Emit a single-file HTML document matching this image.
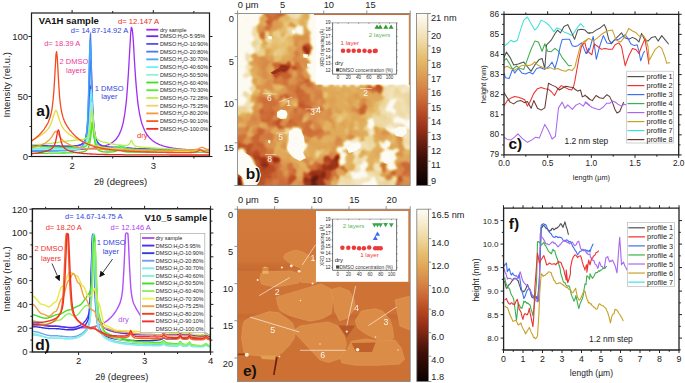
<!DOCTYPE html>
<html><head><meta charset="utf-8"><style>
html,body{margin:0;padding:0;background:#fff;}
svg{display:block;font-family:"Liberation Sans", sans-serif;}
</style></head><body>
<svg width="685" height="383" viewBox="0 0 685 383">
<rect width="685" height="383" fill="#fff"/>
<clipPath id="clipA"><rect x="31.5" y="13.0" width="178.0" height="143.5"/></clipPath>
<clipPath id="clipD"><rect x="32.4" y="208.8" width="178.0" height="143.2"/></clipPath>
<g clip-path="url(#clipA)">
<polyline points="27.4,151.5 28.0,151.5 28.6,151.5 29.2,151.4 29.8,151.4 30.4,151.4 30.9,151.4 31.5,151.4 32.1,151.4 32.7,151.3 33.3,151.3 33.9,151.3 34.4,151.3 35.0,151.3 35.6,151.3 36.2,151.2 36.8,151.2 37.4,151.2 37.9,151.2 38.5,151.2 39.1,151.1 39.7,151.1 40.3,151.1 40.9,151.1 41.4,151.1 42.0,151.1 42.6,151.0 43.2,151.0 43.8,151.0 44.4,151.0 44.9,151.0 45.5,150.9 46.1,150.9 46.7,150.9 47.3,150.9 47.9,150.9 48.5,150.9 49.0,150.8 49.6,150.8 50.2,150.8 50.8,150.8 51.4,150.8 52.0,150.7 52.5,150.7 53.1,150.7 53.7,150.7 54.3,150.7 54.9,150.6 55.5,150.6 56.0,150.6 56.6,150.6 57.2,150.5 57.8,150.5 58.4,150.5 59.0,150.5 59.5,150.5 60.1,150.4 60.7,150.4 61.3,150.4 61.9,150.4 62.5,150.3 63.0,150.3 63.6,150.3 64.2,150.3 64.8,150.2 65.4,150.2 66.0,150.2 66.5,150.2 67.1,150.1 67.7,150.1 68.3,150.1 68.9,150.1 69.5,150.0 70.0,150.0 70.6,150.0 71.2,149.9 71.8,149.9 72.4,149.9 73.0,149.8 73.5,149.8 74.1,149.8 74.7,149.7 75.3,149.7 75.9,149.7 76.5,149.6 77.0,149.6 77.6,149.6 78.2,149.5 78.8,149.5 79.4,149.5 80.0,149.4 80.5,149.4 81.1,149.3 81.7,149.3 82.3,149.3 82.9,149.2 83.5,149.2 84.1,149.1 84.6,149.1 85.2,149.0 85.8,149.0 86.4,148.9 87.0,148.9 87.6,148.8 88.1,148.8 88.7,148.7 89.3,148.7 89.9,148.6 90.5,148.5 91.1,148.5 91.6,148.4 92.2,148.3 92.8,148.3 93.4,148.2 94.0,148.1 94.6,148.0 95.1,148.0 95.7,147.9 96.3,147.8 96.9,147.7 97.5,147.6 98.1,147.5 98.6,147.4 99.2,147.3 99.8,147.2 100.4,147.0 101.0,146.9 101.6,146.8 102.1,146.6 102.7,146.5 103.3,146.4 103.9,146.2 104.5,146.0 105.1,145.8 105.6,145.7 106.2,145.5 106.8,145.2 107.4,145.0 108.0,144.8 108.6,144.5 109.1,144.3 109.7,144.0 110.3,143.7 110.9,143.4 111.5,143.0 112.1,142.6 112.6,142.2 113.2,141.8 113.8,141.3 114.4,140.8 115.0,140.2 115.6,139.6 116.2,139.0 116.7,138.3 117.3,137.5 117.9,136.6 118.5,135.7 119.1,134.6 119.7,133.4 120.2,132.1 120.8,130.7 121.4,129.0 122.0,127.1 122.6,125.0 123.2,122.6 123.7,119.8 124.3,116.6 124.9,112.9 125.5,108.5 126.1,103.4 126.7,97.5 127.2,90.5 127.8,82.4 128.4,73.2 129.0,63.0 129.6,52.2 130.2,41.8 130.7,33.0 131.3,27.3 131.9,28.2 132.5,31.2 133.1,37.9 133.7,46.7 134.2,56.6 134.8,66.3 135.4,75.4 136.0,83.4 136.6,90.5 137.2,96.5 137.7,101.7 138.3,106.2 138.9,110.0 139.5,113.4 140.1,116.3 140.7,118.9 141.2,121.1 141.8,123.2 142.4,125.0 143.0,126.6 143.6,128.1 144.2,129.4 144.7,130.7 145.3,131.8 145.9,132.8 146.5,133.8 147.1,134.7 147.7,135.5 148.3,136.3 148.8,137.0 149.4,137.6 150.0,138.3 150.6,138.8 151.2,139.4 151.8,139.9 152.3,140.4 152.9,140.9 153.5,141.3 154.1,141.7 154.7,142.1 155.3,142.5 155.8,142.8 156.4,143.1 157.0,143.4 157.6,143.7 158.2,144.0 158.8,144.3 159.3,144.5 159.9,144.8 160.5,145.0 161.1,145.2 161.7,145.4 162.3,145.6 162.8,145.8 163.4,146.0 164.0,146.2 164.6,146.3 165.2,146.5 165.8,146.7 166.3,146.8 166.9,146.9 167.5,147.1 168.1,147.2 168.7,147.3 169.3,147.5 169.8,147.6 170.4,147.7 171.0,147.8 171.6,147.9 172.2,148.0 172.8,148.1 173.3,148.2 173.9,148.3 174.5,148.3 175.1,148.4 175.7,148.5 176.3,148.6 176.8,148.7 177.4,148.7 178.0,148.8 178.6,148.9 179.2,148.9 179.8,149.0 180.3,149.0 180.9,149.1 181.5,149.2 182.1,149.2 182.7,149.3 183.3,149.3 183.9,149.4 184.4,149.4 185.0,149.5 185.6,149.5 186.2,149.6 186.8,149.6 187.4,149.6 187.9,149.7 188.5,149.7 189.1,149.8 189.7,149.8 190.3,149.8 190.9,149.9 191.4,149.9 192.0,149.9 192.6,150.0 193.2,150.0 193.8,150.0 194.4,150.1 194.9,150.1 195.5,150.1 196.1,150.1 196.7,150.2 197.3,150.2 197.9,150.2 198.4,150.2 199.0,150.3 199.6,150.3 200.2,150.3 200.8,150.3 201.4,150.4 201.9,150.4 202.5,150.4 203.1,150.4 203.7,150.4 204.3,150.5 204.9,150.5 205.4,150.5 206.0,150.5 206.6,150.5 207.2,150.5 207.8,150.6 208.4,150.6 208.9,150.6 209.5,150.6 210.1,150.6 210.7,150.6 211.3,150.7 211.9,150.7 212.4,150.7 213.0,150.7 213.6,150.7 214.2,150.7" fill="none" stroke="#a02cf0" stroke-width="1.3" stroke-linejoin="round"/>
<polyline points="27.4,145.1 28.0,145.2 28.6,145.2 29.2,145.2 29.8,145.2 30.4,145.2 30.9,145.3 31.5,145.3 32.1,145.3 32.7,145.3 33.3,145.3 33.9,145.3 34.4,145.4 35.0,145.4 35.6,145.4 36.2,145.4 36.8,145.4 37.4,145.5 37.9,145.5 38.5,145.5 39.1,145.5 39.7,145.5 40.3,145.5 40.9,145.6 41.4,145.6 42.0,145.6 42.6,145.6 43.2,145.6 43.8,145.6 44.4,145.7 44.9,145.7 45.5,145.7 46.1,145.7 46.7,145.7 47.3,145.7 47.9,145.8 48.5,145.8 49.0,145.8 49.6,145.8 50.2,145.8 50.8,145.8 51.4,145.9 52.0,145.9 52.5,145.9 53.1,145.9 53.7,145.9 54.3,145.9 54.9,145.9 55.5,146.0 56.0,146.0 56.6,146.0 57.2,146.0 57.8,146.0 58.4,146.0 59.0,146.0 59.5,146.0 60.1,146.1 60.7,146.1 61.3,146.1 61.9,146.1 62.5,146.1 63.0,146.1 63.6,146.1 64.2,146.1 64.8,146.1 65.4,146.1 66.0,146.1 66.5,146.1 67.1,146.1 67.7,146.1 68.3,146.1 68.9,146.1 69.5,146.1 70.0,146.1 70.6,146.1 71.2,146.1 71.8,146.1 72.4,146.0 73.0,146.0 73.5,146.0 74.1,145.9 74.7,145.9 75.3,145.9 75.9,145.8 76.5,145.7 77.0,145.7 77.6,145.6 78.2,145.5 78.8,145.4 79.4,145.2 80.0,145.1 80.5,144.9 81.1,144.6 81.7,144.4 82.3,144.0 82.9,143.6 83.5,143.1 84.1,142.5 84.6,141.7 85.2,140.7 85.8,139.3 86.4,137.5 87.0,135.1 87.6,131.7 88.1,126.9 88.7,120.1 89.3,110.6 89.9,99.0 90.5,88.3 91.1,85.2 91.6,92.1 92.2,103.9 92.8,114.9 93.4,123.3 94.0,129.2 94.6,133.4 95.1,136.4 95.7,138.6 96.3,140.3 96.9,141.5 97.5,142.5 98.1,143.2 98.6,143.8 99.2,144.3 99.8,144.8 100.4,145.1 101.0,145.4 101.6,145.7 102.1,145.9 102.7,146.1 103.3,146.2 103.9,146.4 104.5,146.5 105.1,146.6 105.6,146.8 106.2,146.9 106.8,146.9 107.4,147.0 108.0,147.1 108.6,147.2 109.1,147.2 109.7,147.3 110.3,147.4 110.9,147.4 111.5,147.5 112.1,147.5 112.6,147.6 113.2,147.6 113.8,147.7 114.4,147.7 115.0,147.7 115.6,147.8 116.2,147.8 116.7,147.8 117.3,147.9 117.9,147.9 118.5,148.0 119.1,148.0 119.7,148.0 120.2,148.0 120.8,148.1 121.4,148.1 122.0,148.1 122.6,148.2 123.2,148.2 123.7,148.2 124.3,148.2 124.9,148.3 125.5,148.3 126.1,148.3 126.7,148.4 127.2,148.4 127.8,148.4 128.4,148.4 129.0,148.5 129.6,148.5 130.2,148.5 130.7,148.5 131.3,148.5 131.9,148.6 132.5,148.6 133.1,148.6 133.7,148.6 134.2,148.7 134.8,148.7 135.4,148.7 136.0,148.7 136.6,148.8 137.2,148.8 137.7,148.8 138.3,148.8 138.9,148.8 139.5,148.9 140.1,148.9 140.7,148.9 141.2,148.9 141.8,149.0 142.4,149.0 143.0,149.0 143.6,149.0 144.2,149.0 144.7,149.1 145.3,149.1 145.9,149.1 146.5,149.1 147.1,149.1 147.7,149.2 148.3,149.2 148.8,149.2 149.4,149.2 150.0,149.3 150.6,149.3 151.2,149.3 151.8,149.3 152.3,149.3 152.9,149.4 153.5,149.4 154.1,149.4 154.7,149.4 155.3,149.4 155.8,149.5 156.4,149.5 157.0,149.5 157.6,149.5 158.2,149.5 158.8,149.6 159.3,149.6 159.9,149.6 160.5,149.6 161.1,149.6 161.7,149.7 162.3,149.7 162.8,149.7 163.4,149.7 164.0,149.7 164.6,149.8 165.2,149.8 165.8,149.8 166.3,149.8 166.9,149.8 167.5,149.9 168.1,149.9 168.7,149.9 169.3,149.9 169.8,149.9 170.4,150.0 171.0,150.0 171.6,150.0 172.2,150.0 172.8,150.0 173.3,150.1 173.9,150.1 174.5,150.1 175.1,150.1 175.7,150.1 176.3,150.2 176.8,150.2 177.4,150.2 178.0,150.2 178.6,150.2 179.2,150.3 179.8,150.3 180.3,150.3 180.9,150.3 181.5,150.3 182.1,150.4 182.7,150.4 183.3,150.4 183.9,150.4 184.4,150.4 185.0,150.5 185.6,150.5 186.2,150.5 186.8,150.5 187.4,150.5 187.9,150.6 188.5,150.6 189.1,150.6 189.7,150.6 190.3,150.6 190.9,150.7 191.4,150.7 192.0,150.7 192.6,150.7 193.2,150.7 193.8,150.8 194.4,150.8 194.9,150.8 195.5,150.8 196.1,150.8 196.7,150.9 197.3,150.9 197.9,150.9 198.4,150.9 199.0,150.9 199.6,151.0 200.2,151.0 200.8,151.0 201.4,151.0 201.9,151.0 202.5,151.1 203.1,151.1 203.7,151.1 204.3,151.1 204.9,151.1 205.4,151.2 206.0,151.2 206.6,151.2 207.2,151.2 207.8,151.2 208.4,151.3 208.9,151.3 209.5,151.3 210.1,151.3 210.7,151.3 211.3,151.4 211.9,151.4 212.4,151.4 213.0,151.4 213.6,151.4 214.2,151.5" fill="none" stroke="#6a28f0" stroke-width="1.3" stroke-linejoin="round"/>
<polyline points="27.4,145.9 28.0,145.9 28.6,145.9 29.2,145.9 29.8,145.9 30.4,145.9 30.9,146.0 31.5,146.0 32.1,146.0 32.7,146.0 33.3,146.0 33.9,146.0 34.4,146.0 35.0,146.1 35.6,146.1 36.2,146.1 36.8,146.1 37.4,146.1 37.9,146.1 38.5,146.1 39.1,146.1 39.7,146.2 40.3,146.2 40.9,146.2 41.4,146.2 42.0,146.2 42.6,146.2 43.2,146.2 43.8,146.3 44.4,146.3 44.9,146.3 45.5,146.3 46.1,146.3 46.7,146.3 47.3,146.3 47.9,146.3 48.5,146.3 49.0,146.4 49.6,146.4 50.2,146.4 50.8,146.4 51.4,146.4 52.0,146.4 52.5,146.4 53.1,146.4 53.7,146.4 54.3,146.4 54.9,146.5 55.5,146.5 56.0,146.5 56.6,146.5 57.2,146.5 57.8,146.5 58.4,146.5 59.0,146.5 59.5,146.5 60.1,146.5 60.7,146.5 61.3,146.5 61.9,146.5 62.5,146.5 63.0,146.5 63.6,146.5 64.2,146.5 64.8,146.5 65.4,146.5 66.0,146.5 66.5,146.5 67.1,146.5 67.7,146.5 68.3,146.5 68.9,146.5 69.5,146.4 70.0,146.4 70.6,146.4 71.2,146.4 71.8,146.3 72.4,146.3 73.0,146.3 73.5,146.2 74.1,146.2 74.7,146.1 75.3,146.0 75.9,146.0 76.5,145.9 77.0,145.8 77.6,145.6 78.2,145.5 78.8,145.3 79.4,145.2 80.0,144.9 80.5,144.7 81.1,144.4 81.7,144.0 82.3,143.6 82.9,143.0 83.5,142.3 84.1,141.5 84.6,140.4 85.2,139.0 85.8,137.2 86.4,134.7 87.0,131.3 87.6,126.4 88.1,119.3 88.7,108.8 89.3,94.0 89.9,75.4 90.5,60.1 91.1,59.8 91.6,74.6 92.2,93.3 92.8,108.4 93.4,119.0 94.0,126.3 94.6,131.3 95.1,134.8 95.7,137.3 96.3,139.2 96.9,140.7 97.5,141.8 98.1,142.7 98.6,143.4 99.2,143.9 99.8,144.4 100.4,144.8 101.0,145.1 101.6,145.4 102.1,145.7 102.7,145.9 103.3,146.1 103.9,146.2 104.5,146.4 105.1,146.5 105.6,146.6 106.2,146.7 106.8,146.8 107.4,146.8 108.0,146.9 108.6,147.0 109.1,147.0 109.7,147.1 110.3,147.1 110.9,147.1 111.5,147.2 112.1,147.2 112.6,147.2 113.2,147.2 113.8,147.2 114.4,147.2 115.0,147.2 115.6,147.1 116.2,147.1 116.7,147.1 117.3,147.0 117.9,147.0 118.5,147.0 119.1,146.9 119.7,146.9 120.2,146.9 120.8,146.9 121.4,147.0 122.0,147.0 122.6,147.1 123.2,147.2 123.7,147.3 124.3,147.4 124.9,147.5 125.5,147.6 126.1,147.6 126.7,147.7 127.2,147.8 127.8,147.9 128.4,148.0 129.0,148.0 129.6,148.1 130.2,148.1 130.7,148.2 131.3,148.2 131.9,148.3 132.5,148.3 133.1,148.4 133.7,148.4 134.2,148.4 134.8,148.5 135.4,148.5 136.0,148.5 136.6,148.6 137.2,148.6 137.7,148.6 138.3,148.7 138.9,148.7 139.5,148.7 140.1,148.7 140.7,148.8 141.2,148.8 141.8,148.8 142.4,148.8 143.0,148.9 143.6,148.9 144.2,148.9 144.7,148.9 145.3,148.9 145.9,149.0 146.5,149.0 147.1,149.0 147.7,149.0 148.3,149.0 148.8,149.1 149.4,149.1 150.0,149.1 150.6,149.1 151.2,149.1 151.8,149.2 152.3,149.2 152.9,149.2 153.5,149.2 154.1,149.2 154.7,149.3 155.3,149.3 155.8,149.3 156.4,149.3 157.0,149.3 157.6,149.3 158.2,149.4 158.8,149.4 159.3,149.4 159.9,149.4 160.5,149.4 161.1,149.5 161.7,149.5 162.3,149.5 162.8,149.5 163.4,149.5 164.0,149.5 164.6,149.6 165.2,149.6 165.8,149.6 166.3,149.6 166.9,149.6 167.5,149.6 168.1,149.7 168.7,149.7 169.3,149.7 169.8,149.7 170.4,149.7 171.0,149.7 171.6,149.8 172.2,149.8 172.8,149.8 173.3,149.8 173.9,149.8 174.5,149.8 175.1,149.9 175.7,149.9 176.3,149.9 176.8,149.9 177.4,149.9 178.0,149.9 178.6,150.0 179.2,150.0 179.8,150.0 180.3,150.0 180.9,150.0 181.5,150.0 182.1,150.1 182.7,150.1 183.3,150.1 183.9,150.1 184.4,150.1 185.0,150.1 185.6,150.2 186.2,150.2 186.8,150.2 187.4,150.2 187.9,150.2 188.5,150.2 189.1,150.3 189.7,150.3 190.3,150.3 190.9,150.3 191.4,150.3 192.0,150.3 192.6,150.4 193.2,150.4 193.8,150.4 194.4,150.4 194.9,150.4 195.5,150.4 196.1,150.4 196.7,150.5 197.3,150.5 197.9,150.5 198.4,150.5 199.0,150.5 199.6,150.5 200.2,150.6 200.8,150.6 201.4,150.6 201.9,150.6 202.5,150.6 203.1,150.6 203.7,150.7 204.3,150.7 204.9,150.7 205.4,150.7 206.0,150.7 206.6,150.7 207.2,150.8 207.8,150.8 208.4,150.8 208.9,150.8 209.5,150.8 210.1,150.8 210.7,150.8 211.3,150.9 211.9,150.9 212.4,150.9 213.0,150.9 213.6,150.9 214.2,150.9" fill="none" stroke="#4848ee" stroke-width="1.3" stroke-linejoin="round"/>
<polyline points="27.4,149.9 28.0,149.9 28.6,149.9 29.2,149.9 29.8,149.9 30.4,149.9 30.9,149.9 31.5,149.9 32.1,149.9 32.7,149.9 33.3,149.9 33.9,149.9 34.4,149.9 35.0,150.0 35.6,150.0 36.2,150.0 36.8,150.0 37.4,150.0 37.9,150.0 38.5,150.0 39.1,150.0 39.7,150.0 40.3,150.0 40.9,150.0 41.4,150.0 42.0,150.0 42.6,150.0 43.2,150.0 43.8,150.0 44.4,150.0 44.9,150.0 45.5,150.0 46.1,150.0 46.7,150.0 47.3,150.0 47.9,150.1 48.5,150.1 49.0,150.1 49.6,150.1 50.2,150.1 50.8,150.1 51.4,150.1 52.0,150.1 52.5,150.1 53.1,150.1 53.7,150.1 54.3,150.1 54.9,150.1 55.5,150.1 56.0,150.1 56.6,150.1 57.2,150.1 57.8,150.1 58.4,150.1 59.0,150.1 59.5,150.0 60.1,150.0 60.7,150.0 61.3,150.0 61.9,150.0 62.5,150.0 63.0,150.0 63.6,150.0 64.2,150.0 64.8,150.0 65.4,150.0 66.0,149.9 66.5,149.9 67.1,149.9 67.7,149.9 68.3,149.9 68.9,149.8 69.5,149.8 70.0,149.8 70.6,149.7 71.2,149.7 71.8,149.6 72.4,149.6 73.0,149.5 73.5,149.5 74.1,149.4 74.7,149.3 75.3,149.2 75.9,149.1 76.5,149.0 77.0,148.9 77.6,148.7 78.2,148.5 78.8,148.3 79.4,148.1 80.0,147.8 80.5,147.5 81.1,147.1 81.7,146.6 82.3,146.1 82.9,145.4 83.5,144.5 84.1,143.4 84.6,141.9 85.2,140.0 85.8,137.5 86.4,133.9 87.0,128.8 87.6,121.4 88.1,110.0 88.7,92.8 89.3,68.5 89.9,42.6 90.5,33.6 91.1,50.9 91.6,77.7 92.2,99.6 92.8,114.6 93.4,124.4 94.0,130.9 94.6,135.4 95.1,138.5 95.7,140.8 96.3,142.6 96.9,143.9 97.5,144.9 98.1,145.7 98.6,146.4 99.2,146.9 99.8,147.4 100.4,147.7 101.0,148.1 101.6,148.3 102.1,148.5 102.7,148.7 103.3,148.9 103.9,149.0 104.5,149.2 105.1,149.3 105.6,149.4 106.2,149.4 106.8,149.5 107.4,149.6 108.0,149.6 108.6,149.6 109.1,149.7 109.7,149.7 110.3,149.7 110.9,149.7 111.5,149.6 112.1,149.6 112.6,149.5 113.2,149.5 113.8,149.4 114.4,149.3 115.0,149.2 115.6,149.0 116.2,148.8 116.7,148.6 117.3,148.4 117.9,148.1 118.5,147.9 119.1,147.6 119.7,147.4 120.2,147.3 120.8,147.3 121.4,147.4 122.0,147.5 122.6,147.8 123.2,148.0 123.7,148.3 124.3,148.6 124.9,148.9 125.5,149.2 126.1,149.4 126.7,149.6 127.2,149.8 127.8,149.9 128.4,150.1 129.0,150.2 129.6,150.3 130.2,150.4 130.7,150.5 131.3,150.5 131.9,150.6 132.5,150.7 133.1,150.7 133.7,150.8 134.2,150.8 134.8,150.9 135.4,150.9 136.0,150.9 136.6,151.0 137.2,151.0 137.7,151.0 138.3,151.1 138.9,151.1 139.5,151.1 140.1,151.1 140.7,151.2 141.2,151.2 141.8,151.2 142.4,151.2 143.0,151.2 143.6,151.3 144.2,151.3 144.7,151.3 145.3,151.3 145.9,151.3 146.5,151.3 147.1,151.4 147.7,151.4 148.3,151.4 148.8,151.4 149.4,151.4 150.0,151.4 150.6,151.4 151.2,151.5 151.8,151.5 152.3,151.5 152.9,151.5 153.5,151.5 154.1,151.5 154.7,151.5 155.3,151.5 155.8,151.5 156.4,151.6 157.0,151.6 157.6,151.6 158.2,151.6 158.8,151.6 159.3,151.6 159.9,151.6 160.5,151.6 161.1,151.6 161.7,151.7 162.3,151.7 162.8,151.7 163.4,151.7 164.0,151.7 164.6,151.7 165.2,151.7 165.8,151.7 166.3,151.7 166.9,151.7 167.5,151.8 168.1,151.8 168.7,151.8 169.3,151.8 169.8,151.8 170.4,151.8 171.0,151.8 171.6,151.8 172.2,151.8 172.8,151.8 173.3,151.8 173.9,151.9 174.5,151.9 175.1,151.9 175.7,151.9 176.3,151.9 176.8,151.9 177.4,151.9 178.0,151.9 178.6,151.9 179.2,151.9 179.8,151.9 180.3,152.0 180.9,152.0 181.5,152.0 182.1,152.0 182.7,152.0 183.3,152.0 183.9,152.0 184.4,152.0 185.0,152.0 185.6,152.0 186.2,152.0 186.8,152.1 187.4,152.1 187.9,152.1 188.5,152.1 189.1,152.1 189.7,152.1 190.3,152.1 190.9,152.1 191.4,152.1 192.0,152.1 192.6,152.1 193.2,152.1 193.8,152.2 194.4,152.2 194.9,152.2 195.5,152.2 196.1,152.2 196.7,152.2 197.3,152.2 197.9,152.2 198.4,152.2 199.0,152.2 199.6,152.2 200.2,152.2 200.8,152.3 201.4,152.3 201.9,152.3 202.5,152.3 203.1,152.3 203.7,152.3 204.3,152.3 204.9,152.3 205.4,152.3 206.0,152.3 206.6,152.3 207.2,152.3 207.8,152.4 208.4,152.4 208.9,152.4 209.5,152.4 210.1,152.4 210.7,152.4 211.3,152.4 211.9,152.4 212.4,152.4 213.0,152.4 213.6,152.4 214.2,152.4" fill="none" stroke="#4a78f0" stroke-width="1.3" stroke-linejoin="round"/>
<polyline points="27.4,151.0 28.0,151.0 28.6,151.0 29.2,151.0 29.8,151.0 30.4,151.0 30.9,151.0 31.5,151.0 32.1,151.0 32.7,151.0 33.3,151.0 33.9,151.0 34.4,151.0 35.0,151.0 35.6,151.0 36.2,151.0 36.8,151.0 37.4,151.0 37.9,151.0 38.5,151.0 39.1,151.0 39.7,151.0 40.3,151.0 40.9,151.0 41.4,151.0 42.0,151.0 42.6,151.0 43.2,151.0 43.8,151.0 44.4,151.0 44.9,151.0 45.5,151.0 46.1,151.0 46.7,151.0 47.3,151.0 47.9,151.0 48.5,151.0 49.0,151.0 49.6,151.0 50.2,151.0 50.8,151.0 51.4,151.0 52.0,151.0 52.5,151.0 53.1,151.0 53.7,151.0 54.3,151.0 54.9,151.0 55.5,151.0 56.0,151.0 56.6,151.0 57.2,151.0 57.8,150.9 58.4,150.9 59.0,150.9 59.5,150.9 60.1,150.9 60.7,150.9 61.3,150.9 61.9,150.9 62.5,150.9 63.0,150.9 63.6,150.8 64.2,150.8 64.8,150.8 65.4,150.8 66.0,150.8 66.5,150.7 67.1,150.7 67.7,150.7 68.3,150.7 68.9,150.6 69.5,150.6 70.0,150.6 70.6,150.5 71.2,150.5 71.8,150.4 72.4,150.4 73.0,150.3 73.5,150.2 74.1,150.1 74.7,150.1 75.3,150.0 75.9,149.9 76.5,149.7 77.0,149.6 77.6,149.4 78.2,149.3 78.8,149.0 79.4,148.8 80.0,148.5 80.5,148.2 81.1,147.8 81.7,147.3 82.3,146.7 82.9,145.9 83.5,145.0 84.1,143.8 84.6,142.2 85.2,140.2 85.8,137.4 86.4,133.4 87.0,127.7 87.6,119.2 88.1,106.2 88.7,86.8 89.3,61.5 89.9,40.9 90.5,43.4 91.1,66.3 91.6,90.9 92.2,109.0 92.8,121.0 93.4,128.9 94.0,134.2 94.6,137.9 95.1,140.5 95.7,142.5 96.3,143.9 96.9,145.1 97.5,146.0 98.1,146.7 98.6,147.2 99.2,147.7 99.8,148.1 100.4,148.4 101.0,148.6 101.6,148.9 102.1,149.0 102.7,149.2 103.3,149.3 103.9,149.4 104.5,149.5 105.1,149.6 105.6,149.6 106.2,149.7 106.8,149.7 107.4,149.7 108.0,149.7 108.6,149.7 109.1,149.7 109.7,149.6 110.3,149.5 110.9,149.5 111.5,149.4 112.1,149.2 112.6,149.1 113.2,148.9 113.8,148.7 114.4,148.5 115.0,148.3 115.6,148.0 116.2,147.6 116.7,147.3 117.3,146.9 117.9,146.5 118.5,146.2 119.1,145.9 119.7,145.6 120.2,145.4 120.8,145.4 121.4,145.5 122.0,145.7 122.6,145.9 123.2,146.3 123.7,146.7 124.3,147.1 124.9,147.5 125.5,147.9 126.1,148.3 126.7,148.6 127.2,148.9 127.8,149.2 128.4,149.4 129.0,149.6 129.6,149.8 130.2,150.0 130.7,150.1 131.3,150.2 131.9,150.4 132.5,150.5 133.1,150.6 133.7,150.6 134.2,150.7 134.8,150.8 135.4,150.9 136.0,150.9 136.6,151.0 137.2,151.0 137.7,151.1 138.3,151.1 138.9,151.2 139.5,151.2 140.1,151.2 140.7,151.3 141.2,151.3 141.8,151.3 142.4,151.3 143.0,151.4 143.6,151.4 144.2,151.4 144.7,151.4 145.3,151.5 145.9,151.5 146.5,151.5 147.1,151.5 147.7,151.5 148.3,151.5 148.8,151.6 149.4,151.6 150.0,151.6 150.6,151.6 151.2,151.6 151.8,151.6 152.3,151.6 152.9,151.7 153.5,151.7 154.1,151.7 154.7,151.7 155.3,151.7 155.8,151.7 156.4,151.7 157.0,151.7 157.6,151.7 158.2,151.8 158.8,151.8 159.3,151.8 159.9,151.8 160.5,151.8 161.1,151.8 161.7,151.8 162.3,151.8 162.8,151.8 163.4,151.8 164.0,151.8 164.6,151.8 165.2,151.8 165.8,151.9 166.3,151.9 166.9,151.9 167.5,151.9 168.1,151.9 168.7,151.9 169.3,151.9 169.8,151.9 170.4,151.9 171.0,151.9 171.6,151.9 172.2,151.9 172.8,151.9 173.3,151.9 173.9,151.9 174.5,152.0 175.1,152.0 175.7,152.0 176.3,152.0 176.8,152.0 177.4,152.0 178.0,152.0 178.6,152.0 179.2,152.0 179.8,152.0 180.3,152.0 180.9,152.0 181.5,152.0 182.1,152.0 182.7,152.0 183.3,152.0 183.9,152.0 184.4,152.0 185.0,152.1 185.6,152.1 186.2,152.1 186.8,152.1 187.4,152.1 187.9,152.1 188.5,152.1 189.1,152.1 189.7,152.1 190.3,152.1 190.9,152.1 191.4,152.1 192.0,152.1 192.6,152.1 193.2,152.1 193.8,152.1 194.4,152.1 194.9,152.1 195.5,152.1 196.1,152.1 196.7,152.1 197.3,152.2 197.9,152.2 198.4,152.2 199.0,152.2 199.6,152.2 200.2,152.2 200.8,152.2 201.4,152.2 201.9,152.2 202.5,152.2 203.1,152.2 203.7,152.2 204.3,152.2 204.9,152.2 205.4,152.2 206.0,152.2 206.6,152.2 207.2,152.2 207.8,152.2 208.4,152.2 208.9,152.2 209.5,152.3 210.1,152.3 210.7,152.3 211.3,152.3 211.9,152.3 212.4,152.3 213.0,152.3 213.6,152.3 214.2,152.3" fill="none" stroke="#40a8f8" stroke-width="1.3" stroke-linejoin="round"/>
<polyline points="27.4,148.2 28.0,148.2 28.6,148.2 29.2,148.2 29.8,148.3 30.4,148.3 30.9,148.3 31.5,148.3 32.1,148.3 32.7,148.3 33.3,148.3 33.9,148.3 34.4,148.3 35.0,148.3 35.6,148.3 36.2,148.3 36.8,148.4 37.4,148.4 37.9,148.4 38.5,148.4 39.1,148.4 39.7,148.4 40.3,148.4 40.9,148.4 41.4,148.4 42.0,148.4 42.6,148.4 43.2,148.4 43.8,148.4 44.4,148.5 44.9,148.5 45.5,148.5 46.1,148.5 46.7,148.5 47.3,148.5 47.9,148.5 48.5,148.5 49.0,148.5 49.6,148.5 50.2,148.5 50.8,148.5 51.4,148.5 52.0,148.5 52.5,148.5 53.1,148.6 53.7,148.6 54.3,148.6 54.9,148.6 55.5,148.6 56.0,148.6 56.6,148.6 57.2,148.6 57.8,148.6 58.4,148.6 59.0,148.6 59.5,148.6 60.1,148.6 60.7,148.6 61.3,148.6 61.9,148.6 62.5,148.6 63.0,148.6 63.6,148.6 64.2,148.6 64.8,148.6 65.4,148.6 66.0,148.6 66.5,148.6 67.1,148.6 67.7,148.6 68.3,148.6 68.9,148.6 69.5,148.5 70.0,148.5 70.6,148.5 71.2,148.5 71.8,148.5 72.4,148.5 73.0,148.4 73.5,148.4 74.1,148.4 74.7,148.3 75.3,148.3 75.9,148.2 76.5,148.2 77.0,148.1 77.6,148.0 78.2,148.0 78.8,147.9 79.4,147.8 80.0,147.6 80.5,147.5 81.1,147.3 81.7,147.1 82.3,146.8 82.9,146.5 83.5,146.1 84.1,145.6 84.6,145.0 85.2,144.2 85.8,143.2 86.4,141.9 87.0,140.1 87.6,137.5 88.1,133.8 88.7,128.5 89.3,120.7 89.9,109.9 90.5,97.4 91.1,89.5 91.6,92.9 92.2,104.5 92.8,116.4 93.4,125.5 94.0,131.8 94.6,136.1 95.1,139.1 95.7,141.3 96.3,142.8 96.9,143.9 97.5,144.8 98.1,145.5 98.6,146.0 99.2,146.5 99.8,146.8 100.4,147.1 101.0,147.4 101.6,147.6 102.1,147.7 102.7,147.9 103.3,148.0 103.9,148.1 104.5,148.2 105.1,148.3 105.6,148.3 106.2,148.4 106.8,148.4 107.4,148.5 108.0,148.5 108.6,148.5 109.1,148.5 109.7,148.5 110.3,148.5 110.9,148.5 111.5,148.5 112.1,148.4 112.6,148.3 113.2,148.3 113.8,148.2 114.4,148.1 115.0,147.9 115.6,147.8 116.2,147.6 116.7,147.4 117.3,147.1 117.9,146.9 118.5,146.6 119.1,146.4 119.7,146.2 120.2,146.1 120.8,146.0 121.4,146.1 122.0,146.3 122.6,146.5 123.2,146.8 123.7,147.1 124.3,147.4 124.9,147.6 125.5,147.9 126.1,148.1 126.7,148.3 127.2,148.5 127.8,148.6 128.4,148.8 129.0,148.9 129.6,149.0 130.2,149.1 130.7,149.2 131.3,149.3 131.9,149.3 132.5,149.4 133.1,149.4 133.7,149.5 134.2,149.5 134.8,149.6 135.4,149.6 136.0,149.7 136.6,149.7 137.2,149.7 137.7,149.8 138.3,149.8 138.9,149.8 139.5,149.8 140.1,149.9 140.7,149.9 141.2,149.9 141.8,149.9 142.4,150.0 143.0,150.0 143.6,150.0 144.2,150.0 144.7,150.0 145.3,150.0 145.9,150.1 146.5,150.1 147.1,150.1 147.7,150.1 148.3,150.1 148.8,150.1 149.4,150.2 150.0,150.2 150.6,150.2 151.2,150.2 151.8,150.2 152.3,150.2 152.9,150.2 153.5,150.3 154.1,150.3 154.7,150.3 155.3,150.3 155.8,150.3 156.4,150.3 157.0,150.3 157.6,150.4 158.2,150.4 158.8,150.4 159.3,150.4 159.9,150.4 160.5,150.4 161.1,150.4 161.7,150.4 162.3,150.4 162.8,150.5 163.4,150.5 164.0,150.5 164.6,150.5 165.2,150.5 165.8,150.5 166.3,150.5 166.9,150.5 167.5,150.6 168.1,150.6 168.7,150.6 169.3,150.6 169.8,150.6 170.4,150.6 171.0,150.6 171.6,150.6 172.2,150.6 172.8,150.7 173.3,150.7 173.9,150.7 174.5,150.7 175.1,150.7 175.7,150.7 176.3,150.7 176.8,150.7 177.4,150.7 178.0,150.7 178.6,150.8 179.2,150.8 179.8,150.8 180.3,150.8 180.9,150.8 181.5,150.8 182.1,150.8 182.7,150.8 183.3,150.8 183.9,150.9 184.4,150.9 185.0,150.9 185.6,150.9 186.2,150.9 186.8,150.9 187.4,150.9 187.9,150.9 188.5,150.9 189.1,150.9 189.7,151.0 190.3,151.0 190.9,151.0 191.4,151.0 192.0,151.0 192.6,151.0 193.2,151.0 193.8,151.0 194.4,151.0 194.9,151.1 195.5,151.1 196.1,151.1 196.7,151.1 197.3,151.1 197.9,151.1 198.4,151.1 199.0,151.1 199.6,151.1 200.2,151.1 200.8,151.2 201.4,151.2 201.9,151.2 202.5,151.2 203.1,151.2 203.7,151.2 204.3,151.2 204.9,151.2 205.4,151.2 206.0,151.2 206.6,151.3 207.2,151.3 207.8,151.3 208.4,151.3 208.9,151.3 209.5,151.3 210.1,151.3 210.7,151.3 211.3,151.3 211.9,151.3 212.4,151.4 213.0,151.4 213.6,151.4 214.2,151.4" fill="none" stroke="#70f0f8" stroke-width="1.3" stroke-linejoin="round"/>
<polyline points="27.4,149.2 28.0,149.2 28.6,149.2 29.2,149.2 29.8,149.2 30.4,149.2 30.9,149.2 31.5,149.3 32.1,149.3 32.7,149.3 33.3,149.3 33.9,149.3 34.4,149.3 35.0,149.3 35.6,149.3 36.2,149.3 36.8,149.3 37.4,149.3 37.9,149.3 38.5,149.3 39.1,149.3 39.7,149.3 40.3,149.4 40.9,149.4 41.4,149.4 42.0,149.4 42.6,149.4 43.2,149.4 43.8,149.4 44.4,149.4 44.9,149.4 45.5,149.4 46.1,149.4 46.7,149.4 47.3,149.4 47.9,149.4 48.5,149.4 49.0,149.4 49.6,149.4 50.2,149.5 50.8,149.5 51.4,149.5 52.0,149.5 52.5,149.5 53.1,149.5 53.7,149.5 54.3,149.5 54.9,149.5 55.5,149.5 56.0,149.5 56.6,149.5 57.2,149.5 57.8,149.5 58.4,149.5 59.0,149.5 59.5,149.5 60.1,149.5 60.7,149.5 61.3,149.5 61.9,149.5 62.5,149.5 63.0,149.5 63.6,149.5 64.2,149.5 64.8,149.5 65.4,149.5 66.0,149.5 66.5,149.5 67.1,149.5 67.7,149.5 68.3,149.5 68.9,149.5 69.5,149.5 70.0,149.5 70.6,149.5 71.2,149.5 71.8,149.4 72.4,149.4 73.0,149.4 73.5,149.4 74.1,149.4 74.7,149.3 75.3,149.3 75.9,149.3 76.5,149.2 77.0,149.2 77.6,149.1 78.2,149.1 78.8,149.0 79.4,148.9 80.0,148.8 80.5,148.7 81.1,148.6 81.7,148.4 82.3,148.2 82.9,148.0 83.5,147.8 84.1,147.4 84.6,147.0 85.2,146.5 85.8,145.8 86.4,144.9 87.0,143.8 87.6,142.2 88.1,139.9 88.7,136.6 89.3,131.8 89.9,124.9 90.5,115.5 91.1,106.0 91.6,102.1 92.2,107.4 92.8,117.3 93.4,126.3 94.0,132.8 94.6,137.3 95.1,140.4 95.7,142.6 96.3,144.1 96.9,145.2 97.5,146.1 98.1,146.7 98.6,147.2 99.2,147.6 99.8,148.0 100.4,148.2 101.0,148.5 101.6,148.6 102.1,148.8 102.7,148.9 103.3,149.1 103.9,149.2 104.5,149.2 105.1,149.3 105.6,149.4 106.2,149.4 106.8,149.5 107.4,149.5 108.0,149.5 108.6,149.6 109.1,149.6 109.7,149.6 110.3,149.6 110.9,149.6 111.5,149.6 112.1,149.6 112.6,149.6 113.2,149.5 113.8,149.5 114.4,149.4 115.0,149.4 115.6,149.3 116.2,149.2 116.7,149.0 117.3,148.8 117.9,148.7 118.5,148.5 119.1,148.3 119.7,148.1 120.2,148.0 120.8,147.9 121.4,148.0 122.0,148.1 122.6,148.3 123.2,148.6 123.7,148.8 124.3,149.0 124.9,149.2 125.5,149.4 126.1,149.5 126.7,149.7 127.2,149.8 127.8,149.9 128.4,150.0 129.0,150.0 129.6,150.1 130.2,150.1 130.7,150.2 131.3,150.2 131.9,150.3 132.5,150.3 133.1,150.3 133.7,150.4 134.2,150.4 134.8,150.4 135.4,150.4 136.0,150.5 136.6,150.5 137.2,150.5 137.7,150.5 138.3,150.5 138.9,150.6 139.5,150.6 140.1,150.6 140.7,150.6 141.2,150.6 141.8,150.6 142.4,150.6 143.0,150.7 143.6,150.7 144.2,150.7 144.7,150.7 145.3,150.7 145.9,150.7 146.5,150.7 147.1,150.7 147.7,150.8 148.3,150.8 148.8,150.8 149.4,150.8 150.0,150.8 150.6,150.8 151.2,150.8 151.8,150.8 152.3,150.8 152.9,150.9 153.5,150.9 154.1,150.9 154.7,150.9 155.3,150.9 155.8,150.9 156.4,150.9 157.0,150.9 157.6,150.9 158.2,150.9 158.8,150.9 159.3,151.0 159.9,151.0 160.5,151.0 161.1,151.0 161.7,151.0 162.3,151.0 162.8,151.0 163.4,151.0 164.0,151.0 164.6,151.0 165.2,151.0 165.8,151.1 166.3,151.1 166.9,151.1 167.5,151.1 168.1,151.1 168.7,151.1 169.3,151.1 169.8,151.1 170.4,151.1 171.0,151.1 171.6,151.1 172.2,151.2 172.8,151.2 173.3,151.2 173.9,151.2 174.5,151.2 175.1,151.2 175.7,151.2 176.3,151.2 176.8,151.2 177.4,151.2 178.0,151.2 178.6,151.2 179.2,151.3 179.8,151.3 180.3,151.3 180.9,151.3 181.5,151.3 182.1,151.3 182.7,151.3 183.3,151.3 183.9,151.3 184.4,151.3 185.0,151.3 185.6,151.3 186.2,151.4 186.8,151.4 187.4,151.4 187.9,151.4 188.5,151.4 189.1,151.4 189.7,151.4 190.3,151.4 190.9,151.4 191.4,151.4 192.0,151.4 192.6,151.4 193.2,151.4 193.8,151.5 194.4,151.5 194.9,151.5 195.5,151.5 196.1,151.5 196.7,151.5 197.3,151.5 197.9,151.5 198.4,151.5 199.0,151.5 199.6,151.5 200.2,151.5 200.8,151.6 201.4,151.6 201.9,151.6 202.5,151.6 203.1,151.6 203.7,151.6 204.3,151.6 204.9,151.6 205.4,151.6 206.0,151.6 206.6,151.6 207.2,151.6 207.8,151.7 208.4,151.7 208.9,151.7 209.5,151.7 210.1,151.7 210.7,151.7 211.3,151.7 211.9,151.7 212.4,151.7 213.0,151.7 213.6,151.7 214.2,151.7" fill="none" stroke="#90f0d8" stroke-width="1.3" stroke-linejoin="round"/>
<polyline points="27.4,153.5 28.0,153.5 28.6,153.5 29.2,153.5 29.8,153.5 30.4,153.5 30.9,153.5 31.5,153.5 32.1,153.5 32.7,153.5 33.3,153.4 33.9,153.4 34.4,153.4 35.0,153.4 35.6,153.4 36.2,153.4 36.8,153.4 37.4,153.4 37.9,153.4 38.5,153.4 39.1,153.4 39.7,153.4 40.3,153.4 40.9,153.3 41.4,153.3 42.0,153.3 42.6,153.3 43.2,153.3 43.8,153.3 44.4,153.3 44.9,153.3 45.5,153.3 46.1,153.3 46.7,153.3 47.3,153.3 47.9,153.3 48.5,153.2 49.0,153.2 49.6,153.2 50.2,153.2 50.8,153.2 51.4,153.2 52.0,153.2 52.5,153.2 53.1,153.2 53.7,153.2 54.3,153.2 54.9,153.1 55.5,153.1 56.0,153.1 56.6,153.1 57.2,153.1 57.8,153.1 58.4,153.1 59.0,153.1 59.5,153.1 60.1,153.1 60.7,153.1 61.3,153.0 61.9,153.0 62.5,153.0 63.0,153.0 63.6,153.0 64.2,153.0 64.8,153.0 65.4,153.0 66.0,152.9 66.5,152.9 67.1,152.9 67.7,152.9 68.3,152.9 68.9,152.9 69.5,152.9 70.0,152.8 70.6,152.8 71.2,152.8 71.8,152.8 72.4,152.8 73.0,152.7 73.5,152.7 74.1,152.7 74.7,152.7 75.3,152.6 75.9,152.6 76.5,152.6 77.0,152.5 77.6,152.5 78.2,152.5 78.8,152.4 79.4,152.4 80.0,152.3 80.5,152.2 81.1,152.2 81.7,152.1 82.3,152.0 82.9,151.9 83.5,151.7 84.1,151.5 84.6,151.3 85.2,151.1 85.8,150.8 86.4,150.4 87.0,149.9 87.6,149.2 88.1,148.3 88.7,147.1 89.3,145.3 89.9,142.7 90.5,138.9 91.1,133.6 91.6,127.4 92.2,123.0 92.8,124.2 93.4,129.8 94.0,135.8 94.6,140.5 95.1,143.8 95.7,146.0 96.3,147.5 96.9,148.6 97.5,149.4 98.1,149.9 98.6,150.4 99.2,150.7 99.8,151.0 100.4,151.2 101.0,151.4 101.6,151.5 102.1,151.6 102.7,151.7 103.3,151.8 103.9,151.8 104.5,151.9 105.1,151.9 105.6,152.0 106.2,152.0 106.8,152.0 107.4,152.0 108.0,152.0 108.6,152.0 109.1,152.0 109.7,152.0 110.3,152.0 110.9,152.0 111.5,151.9 112.1,151.9 112.6,151.8 113.2,151.8 113.8,151.7 114.4,151.6 115.0,151.4 115.6,151.3 116.2,151.1 116.7,150.8 117.3,150.5 117.9,150.3 118.5,150.0 119.1,149.9 119.7,150.0 120.2,150.2 120.8,150.4 121.4,150.7 122.0,150.9 122.6,151.2 123.2,151.3 123.7,151.5 124.3,151.6 124.9,151.7 125.5,151.8 126.1,151.9 126.7,151.9 127.2,152.0 127.8,152.0 128.4,152.0 129.0,152.0 129.6,152.1 130.2,152.1 130.7,152.1 131.3,152.1 131.9,152.1 132.5,152.1 133.1,152.1 133.7,152.1 134.2,152.1 134.8,152.1 135.4,152.1 136.0,152.1 136.6,152.1 137.2,152.1 137.7,152.1 138.3,152.1 138.9,152.1 139.5,152.1 140.1,152.1 140.7,152.1 141.2,152.1 141.8,152.1 142.4,152.1 143.0,152.1 143.6,152.1 144.2,152.1 144.7,152.1 145.3,152.1 145.9,152.1 146.5,152.1 147.1,152.1 147.7,152.1 148.3,152.1 148.8,152.1 149.4,152.0 150.0,152.0 150.6,152.0 151.2,152.0 151.8,152.0 152.3,152.0 152.9,152.0 153.5,152.0 154.1,152.0 154.7,152.0 155.3,152.0 155.8,152.0 156.4,152.0 157.0,152.0 157.6,152.0 158.2,152.0 158.8,152.0 159.3,152.0 159.9,151.9 160.5,151.9 161.1,151.9 161.7,151.9 162.3,151.9 162.8,151.9 163.4,151.9 164.0,151.9 164.6,151.9 165.2,151.9 165.8,151.9 166.3,151.9 166.9,151.9 167.5,151.9 168.1,151.9 168.7,151.9 169.3,151.8 169.8,151.8 170.4,151.8 171.0,151.8 171.6,151.8 172.2,151.8 172.8,151.8 173.3,151.8 173.9,151.8 174.5,151.8 175.1,151.8 175.7,151.8 176.3,151.8 176.8,151.8 177.4,151.8 178.0,151.7 178.6,151.7 179.2,151.7 179.8,151.7 180.3,151.7 180.9,151.7 181.5,151.7 182.1,151.7 182.7,151.7 183.3,151.7 183.9,151.7 184.4,151.7 185.0,151.7 185.6,151.7 186.2,151.7 186.8,151.6 187.4,151.6 187.9,151.6 188.5,151.6 189.1,151.6 189.7,151.6 190.3,151.6 190.9,151.6 191.4,151.6 192.0,151.6 192.6,151.6 193.2,151.6 193.8,151.6 194.4,151.6 194.9,151.6 195.5,151.5 196.1,151.5 196.7,151.5 197.3,151.5 197.9,151.5 198.4,151.5 199.0,151.5 199.6,151.5 200.2,151.5 200.8,151.5 201.4,151.5 201.9,151.5 202.5,151.5 203.1,151.5 203.7,151.5 204.3,151.4 204.9,151.4 205.4,151.4 206.0,151.4 206.6,151.4 207.2,151.4 207.8,151.4 208.4,151.4 208.9,151.4 209.5,151.4 210.1,151.4 210.7,151.4 211.3,151.4 211.9,151.4 212.4,151.4 213.0,151.3 213.6,151.3 214.2,151.3" fill="none" stroke="#40e020" stroke-width="1.3" stroke-linejoin="round"/>
<polyline points="27.4,146.4 28.0,146.4 28.6,146.4 29.2,146.4 29.8,146.5 30.4,146.5 30.9,146.5 31.5,146.5 32.1,146.5 32.7,146.5 33.3,146.6 33.9,146.6 34.4,146.6 35.0,146.6 35.6,146.6 36.2,146.6 36.8,146.7 37.4,146.7 37.9,146.7 38.5,146.7 39.1,146.7 39.7,146.7 40.3,146.8 40.9,146.8 41.4,146.8 42.0,146.8 42.6,146.8 43.2,146.8 43.8,146.9 44.4,146.9 44.9,146.9 45.5,146.9 46.1,146.9 46.7,146.9 47.3,147.0 47.9,147.0 48.5,147.0 49.0,147.0 49.6,147.0 50.2,147.0 50.8,147.1 51.4,147.1 52.0,147.1 52.5,147.1 53.1,147.1 53.7,147.1 54.3,147.1 54.9,147.2 55.5,147.2 56.0,147.2 56.6,147.2 57.2,147.2 57.8,147.2 58.4,147.2 59.0,147.3 59.5,147.3 60.1,147.3 60.7,147.3 61.3,147.3 61.9,147.3 62.5,147.3 63.0,147.4 63.6,147.4 64.2,147.4 64.8,147.4 65.4,147.4 66.0,147.4 66.5,147.4 67.1,147.4 67.7,147.5 68.3,147.5 68.9,147.5 69.5,147.5 70.0,147.5 70.6,147.5 71.2,147.5 71.8,147.5 72.4,147.5 73.0,147.5 73.5,147.5 74.1,147.5 74.7,147.5 75.3,147.5 75.9,147.5 76.5,147.5 77.0,147.5 77.6,147.5 78.2,147.5 78.8,147.4 79.4,147.4 80.0,147.4 80.5,147.3 81.1,147.3 81.7,147.2 82.3,147.1 82.9,147.1 83.5,146.9 84.1,146.8 84.6,146.6 85.2,146.4 85.8,146.1 86.4,145.7 87.0,145.2 87.6,144.5 88.1,143.5 88.7,142.1 89.3,140.1 89.9,137.2 90.5,132.9 91.1,127.6 91.6,122.9 92.2,122.3 92.8,126.4 93.4,131.9 94.0,136.5 94.6,139.7 95.1,141.9 95.7,143.5 96.3,144.5 96.9,145.3 97.5,145.9 98.1,146.3 98.6,146.7 99.2,146.9 99.8,147.2 100.4,147.3 101.0,147.5 101.6,147.6 102.1,147.7 102.7,147.8 103.3,147.9 103.9,148.0 104.5,148.0 105.1,148.1 105.6,148.1 106.2,148.2 106.8,148.2 107.4,148.2 108.0,148.3 108.6,148.3 109.1,148.3 109.7,148.3 110.3,148.3 110.9,148.3 111.5,148.3 112.1,148.3 112.6,148.3 113.2,148.2 113.8,148.2 114.4,148.1 115.0,148.1 115.6,148.0 116.2,147.9 116.7,147.7 117.3,147.6 117.9,147.4 118.5,147.2 119.1,147.0 119.7,146.8 120.2,146.7 120.8,146.7 121.4,146.7 122.0,146.9 122.6,147.1 123.2,147.4 123.7,147.6 124.3,147.8 124.9,148.0 125.5,148.2 126.1,148.4 126.7,148.5 127.2,148.6 127.8,148.7 128.4,148.8 129.0,148.9 129.6,149.0 130.2,149.0 130.7,149.1 131.3,149.1 131.9,149.2 132.5,149.2 133.1,149.3 133.7,149.3 134.2,149.3 134.8,149.4 135.4,149.4 136.0,149.4 136.6,149.5 137.2,149.5 137.7,149.5 138.3,149.5 138.9,149.6 139.5,149.6 140.1,149.6 140.7,149.6 141.2,149.7 141.8,149.7 142.4,149.7 143.0,149.7 143.6,149.7 144.2,149.8 144.7,149.8 145.3,149.8 145.9,149.8 146.5,149.9 147.1,149.9 147.7,149.9 148.3,149.9 148.8,149.9 149.4,150.0 150.0,150.0 150.6,150.0 151.2,150.0 151.8,150.0 152.3,150.0 152.9,150.1 153.5,150.1 154.1,150.1 154.7,150.1 155.3,150.1 155.8,150.2 156.4,150.2 157.0,150.2 157.6,150.2 158.2,150.2 158.8,150.3 159.3,150.3 159.9,150.3 160.5,150.3 161.1,150.3 161.7,150.3 162.3,150.4 162.8,150.4 163.4,150.4 164.0,150.4 164.6,150.4 165.2,150.5 165.8,150.5 166.3,150.5 166.9,150.5 167.5,150.5 168.1,150.5 168.7,150.6 169.3,150.6 169.8,150.6 170.4,150.6 171.0,150.6 171.6,150.7 172.2,150.7 172.8,150.7 173.3,150.7 173.9,150.7 174.5,150.7 175.1,150.8 175.7,150.8 176.3,150.8 176.8,150.8 177.4,150.8 178.0,150.8 178.6,150.9 179.2,150.9 179.8,150.9 180.3,150.9 180.9,150.9 181.5,151.0 182.1,151.0 182.7,151.0 183.3,151.0 183.9,151.0 184.4,151.0 185.0,151.1 185.6,151.1 186.2,151.1 186.8,151.1 187.4,151.1 187.9,151.1 188.5,151.2 189.1,151.2 189.7,151.2 190.3,151.2 190.9,151.2 191.4,151.3 192.0,151.3 192.6,151.3 193.2,151.3 193.8,151.3 194.4,151.3 194.9,151.4 195.5,151.4 196.1,151.4 196.7,151.4 197.3,151.4 197.9,151.4 198.4,151.5 199.0,151.5 199.6,151.5 200.2,151.5 200.8,151.5 201.4,151.5 201.9,151.6 202.5,151.6 203.1,151.6 203.7,151.6 204.3,151.6 204.9,151.7 205.4,151.7 206.0,151.7 206.6,151.7 207.2,151.7 207.8,151.7 208.4,151.8 208.9,151.8 209.5,151.8 210.1,151.8 210.7,151.8 211.3,151.8 211.9,151.9 212.4,151.9 213.0,151.9 213.6,151.9 214.2,151.9" fill="none" stroke="#58e830" stroke-width="1.3" stroke-linejoin="round"/>
<polyline points="27.4,144.9 28.0,144.9 28.6,144.9 29.2,144.9 29.8,144.9 30.4,144.9 30.9,144.8 31.5,144.8 32.1,144.8 32.7,144.8 33.3,144.8 33.9,144.7 34.4,144.7 35.0,144.7 35.6,144.7 36.2,144.6 36.8,144.6 37.4,144.6 37.9,144.5 38.5,144.5 39.1,144.5 39.7,144.4 40.3,144.4 40.9,144.4 41.4,144.3 42.0,144.3 42.6,144.2 43.2,144.2 43.8,144.1 44.4,144.1 44.9,144.0 45.5,144.0 46.1,143.9 46.7,143.9 47.3,143.8 47.9,143.7 48.5,143.7 49.0,143.6 49.6,143.5 50.2,143.5 50.8,143.4 51.4,143.3 52.0,143.3 52.5,143.2 53.1,143.1 53.7,143.0 54.3,143.0 54.9,142.9 55.5,142.8 56.0,142.7 56.6,142.6 57.2,142.5 57.8,142.5 58.4,142.4 59.0,142.3 59.5,142.2 60.1,142.1 60.7,142.0 61.3,141.9 61.9,141.8 62.5,141.8 63.0,141.7 63.6,141.6 64.2,141.5 64.8,141.4 65.4,141.3 66.0,141.2 66.5,141.2 67.1,141.1 67.7,141.0 68.3,140.9 68.9,140.8 69.5,140.8 70.0,140.7 70.6,140.6 71.2,140.6 71.8,140.5 72.4,140.4 73.0,140.4 73.5,140.3 74.1,140.3 74.7,140.2 75.3,140.1 75.9,140.1 76.5,140.0 77.0,140.0 77.6,139.9 78.2,139.9 78.8,139.8 79.4,139.8 80.0,139.7 80.5,139.7 81.1,139.6 81.7,139.5 82.3,139.5 82.9,139.4 83.5,139.3 84.1,139.1 84.6,139.0 85.2,138.7 85.8,138.5 86.4,138.1 87.0,137.6 87.6,136.9 88.1,136.0 88.7,134.5 89.3,132.4 89.9,129.2 90.5,124.3 91.1,117.6 91.6,111.2 92.2,110.5 92.8,116.2 93.4,123.3 94.0,128.7 94.6,132.4 95.1,134.9 95.7,136.6 96.3,137.7 96.9,138.6 97.5,139.2 98.1,139.8 98.6,140.2 99.2,140.5 99.8,140.8 100.4,141.1 101.0,141.3 101.6,141.5 102.1,141.7 102.7,141.8 103.3,142.0 103.9,142.1 104.5,142.2 105.1,142.4 105.6,142.5 106.2,142.7 106.8,142.8 107.4,143.0 108.0,143.1 108.6,143.2 109.1,143.4 109.7,143.5 110.3,143.6 110.9,143.7 111.5,143.8 112.1,143.9 112.6,144.0 113.2,144.1 113.8,144.2 114.4,144.3 115.0,144.4 115.6,144.5 116.2,144.6 116.7,144.7 117.3,144.8 117.9,144.9 118.5,144.9 119.1,145.0 119.7,145.1 120.2,145.1 120.8,145.2 121.4,145.3 122.0,145.3 122.6,145.4 123.2,145.4 123.7,145.4 124.3,145.5 124.9,145.5 125.5,145.5 126.1,145.4 126.7,145.4 127.2,145.3 127.8,145.1 128.4,144.8 129.0,144.3 129.6,143.6 130.2,142.5 130.7,141.2 131.3,140.4 131.9,141.1 132.5,142.5 133.1,143.7 133.7,144.6 134.2,145.2 134.8,145.6 135.4,145.9 136.0,146.2 136.6,146.3 137.2,146.5 137.7,146.6 138.3,146.7 138.9,146.8 139.5,146.8 140.1,146.9 140.7,147.0 141.2,147.0 141.8,147.1 142.4,147.1 143.0,147.2 143.6,147.2 144.2,147.3 144.7,147.3 145.3,147.4 145.9,147.4 146.5,147.5 147.1,147.5 147.7,147.5 148.3,147.6 148.8,147.6 149.4,147.7 150.0,147.7 150.6,147.7 151.2,147.8 151.8,147.8 152.3,147.9 152.9,147.9 153.5,147.9 154.1,148.0 154.7,148.0 155.3,148.0 155.8,148.1 156.4,148.1 157.0,148.2 157.6,148.2 158.2,148.2 158.8,148.3 159.3,148.3 159.9,148.3 160.5,148.4 161.1,148.4 161.7,148.4 162.3,148.5 162.8,148.5 163.4,148.5 164.0,148.6 164.6,148.6 165.2,148.7 165.8,148.7 166.3,148.7 166.9,148.8 167.5,148.8 168.1,148.8 168.7,148.9 169.3,148.9 169.8,148.9 170.4,149.0 171.0,149.0 171.6,149.0 172.2,149.1 172.8,149.1 173.3,149.1 173.9,149.2 174.5,149.2 175.1,149.2 175.7,149.3 176.3,149.3 176.8,149.4 177.4,149.4 178.0,149.4 178.6,149.5 179.2,149.5 179.8,149.5 180.3,149.6 180.9,149.6 181.5,149.6 182.1,149.7 182.7,149.7 183.3,149.7 183.9,149.8 184.4,149.8 185.0,149.8 185.6,149.9 186.2,149.9 186.8,149.9 187.4,150.0 187.9,150.0 188.5,150.0 189.1,150.1 189.7,150.1 190.3,150.2 190.9,150.2 191.4,150.2 192.0,150.3 192.6,150.3 193.2,150.3 193.8,150.4 194.4,150.4 194.9,150.4 195.5,150.5 196.1,150.5 196.7,150.5 197.3,150.6 197.9,150.6 198.4,150.6 199.0,150.7 199.6,150.7 200.2,150.7 200.8,150.8 201.4,150.8 201.9,150.8 202.5,150.9 203.1,150.9 203.7,150.9 204.3,151.0 204.9,151.0 205.4,151.1 206.0,151.1 206.6,151.1 207.2,151.2 207.8,151.2 208.4,151.2 208.9,151.3 209.5,151.3 210.1,151.3 210.7,151.4 211.3,151.4 211.9,151.4 212.4,151.5 213.0,151.5 213.6,151.5 214.2,151.6" fill="none" stroke="#b8f048" stroke-width="1.3" stroke-linejoin="round"/>
<polyline points="27.4,142.3 28.0,142.0 28.6,141.8 29.2,141.6 29.8,141.3 30.4,141.1 30.9,140.8 31.5,140.5 32.1,140.3 32.7,140.0 33.3,139.7 33.9,139.4 34.4,139.1 35.0,138.8 35.6,138.5 36.2,138.2 36.8,137.8 37.4,137.5 37.9,137.1 38.5,136.8 39.1,136.4 39.7,136.1 40.3,135.7 40.9,135.3 41.4,134.9 42.0,134.5 42.6,134.1 43.2,133.6 43.8,133.2 44.4,132.7 44.9,132.2 45.5,131.6 46.1,131.1 46.7,130.5 47.3,129.8 47.9,129.1 48.5,128.4 49.0,127.5 49.6,126.5 50.2,125.4 50.8,124.2 51.4,122.7 52.0,121.1 52.5,119.3 53.1,117.3 53.7,115.2 54.3,113.2 54.9,111.5 55.5,110.5 56.0,110.3 56.6,111.1 57.2,112.5 57.8,114.4 58.4,116.5 59.0,118.5 59.5,120.4 60.1,122.1 60.7,123.6 61.3,125.0 61.9,126.1 62.5,127.1 63.0,128.0 63.6,128.8 64.2,129.6 64.8,130.2 65.4,130.9 66.0,131.4 66.5,132.0 67.1,132.5 67.7,133.0 68.3,133.4 68.9,133.9 69.5,134.3 70.0,134.7 70.6,135.1 71.2,135.5 71.8,135.9 72.4,136.3 73.0,136.7 73.5,137.0 74.1,137.4 74.7,137.7 75.3,138.0 75.9,138.4 76.5,138.7 77.0,139.0 77.6,139.3 78.2,139.6 78.8,139.9 79.4,140.2 80.0,140.4 80.5,140.7 81.1,141.0 81.7,141.2 82.3,141.5 82.9,141.7 83.5,141.9 84.1,142.2 84.6,142.4 85.2,142.6 85.8,142.8 86.4,143.0 87.0,143.2 87.6,143.4 88.1,143.6 88.7,143.8 89.3,144.0 89.9,144.2 90.5,144.4 91.1,144.5 91.6,144.7 92.2,144.9 92.8,145.0 93.4,145.2 94.0,145.3 94.6,145.5 95.1,145.6 95.7,145.7 96.3,145.9 96.9,146.0 97.5,146.1 98.1,146.2 98.6,146.4 99.2,146.5 99.8,146.6 100.4,146.7 101.0,146.8 101.6,146.9 102.1,147.0 102.7,147.1 103.3,147.2 103.9,147.3 104.5,147.4 105.1,147.5 105.6,147.6 106.2,147.7 106.8,147.7 107.4,147.8 108.0,147.9 108.6,148.0 109.1,148.1 109.7,148.1 110.3,148.2 110.9,148.3 111.5,148.3 112.1,148.4 112.6,148.5 113.2,148.5 113.8,148.6 114.4,148.7 115.0,148.7 115.6,148.8 116.2,148.8 116.7,148.9 117.3,148.9 117.9,149.0 118.5,149.1 119.1,149.1 119.7,149.2 120.2,149.2 120.8,149.2 121.4,149.3 122.0,149.3 122.6,149.4 123.2,149.4 123.7,149.5 124.3,149.5 124.9,149.6 125.5,149.6 126.1,149.6 126.7,149.7 127.2,149.7 127.8,149.7 128.4,149.8 129.0,149.8 129.6,149.9 130.2,149.9 130.7,149.9 131.3,150.0 131.9,150.0 132.5,150.0 133.1,150.0 133.7,150.1 134.2,150.1 134.8,150.1 135.4,150.2 136.0,150.2 136.6,150.2 137.2,150.2 137.7,150.3 138.3,150.3 138.9,150.3 139.5,150.4 140.1,150.4 140.7,150.4 141.2,150.4 141.8,150.4 142.4,150.5 143.0,150.5 143.6,150.5 144.2,150.5 144.7,150.6 145.3,150.6 145.9,150.6 146.5,150.6 147.1,150.6 147.7,150.7 148.3,150.7 148.8,150.7 149.4,150.7 150.0,150.7 150.6,150.7 151.2,150.8 151.8,150.8 152.3,150.8 152.9,150.8 153.5,150.8 154.1,150.9 154.7,150.9 155.3,150.9 155.8,150.9 156.4,150.9 157.0,150.9 157.6,150.9 158.2,151.0 158.8,151.0 159.3,151.0 159.9,151.0 160.5,151.0 161.1,151.0 161.7,151.0 162.3,151.1 162.8,151.1 163.4,151.1 164.0,151.1 164.6,151.1 165.2,151.1 165.8,151.1 166.3,151.1 166.9,151.1 167.5,151.2 168.1,151.2 168.7,151.2 169.3,151.2 169.8,151.2 170.4,151.2 171.0,151.2 171.6,151.2 172.2,151.2 172.8,151.3 173.3,151.3 173.9,151.3 174.5,151.3 175.1,151.3 175.7,151.3 176.3,151.3 176.8,151.3 177.4,151.3 178.0,151.3 178.6,151.3 179.2,151.4 179.8,151.4 180.3,151.4 180.9,151.4 181.5,151.4 182.1,151.4 182.7,151.4 183.3,151.4 183.9,151.4 184.4,151.4 185.0,151.4 185.6,151.4 186.2,151.5 186.8,151.5 187.4,151.5 187.9,151.5 188.5,151.5 189.1,151.5 189.7,151.5 190.3,151.5 190.9,151.5 191.4,151.5 192.0,151.5 192.6,151.5 193.2,151.5 193.8,151.5 194.4,151.5 194.9,151.6 195.5,151.6 196.1,151.6 196.7,151.6 197.3,151.6 197.9,151.6 198.4,151.6 199.0,151.6 199.6,151.6 200.2,151.6 200.8,151.6 201.4,151.6 201.9,151.6 202.5,151.6 203.1,151.6 203.7,151.6 204.3,151.6 204.9,151.6 205.4,151.6 206.0,151.7 206.6,151.7 207.2,151.7 207.8,151.7 208.4,151.7 208.9,151.7 209.5,151.7 210.1,151.7 210.7,151.7 211.3,151.7 211.9,151.7 212.4,151.7 213.0,151.7 213.6,151.7 214.2,151.7" fill="none" stroke="#e8d840" stroke-width="1.3" stroke-linejoin="round"/>
<polyline points="27.4,148.3 28.0,148.2 28.6,148.1 29.2,148.1 29.8,148.0 30.4,147.9 30.9,147.8 31.5,147.7 32.1,147.6 32.7,147.5 33.3,147.4 33.9,147.2 34.4,147.1 35.0,147.0 35.6,146.8 36.2,146.7 36.8,146.5 37.4,146.4 37.9,146.2 38.5,146.0 39.1,145.8 39.7,145.6 40.3,145.4 40.9,145.2 41.4,144.9 42.0,144.7 42.6,144.4 43.2,144.1 43.8,143.8 44.4,143.5 44.9,143.2 45.5,142.8 46.1,142.4 46.7,142.0 47.3,141.6 47.9,141.1 48.5,140.6 49.0,140.1 49.6,139.5 50.2,138.9 50.8,138.2 51.4,137.4 52.0,136.6 52.5,135.6 53.1,134.6 53.7,133.6 54.3,132.7 54.9,131.9 55.5,131.4 56.0,131.3 56.6,131.6 57.2,132.3 57.8,133.2 58.4,134.2 59.0,135.2 59.5,136.2 60.1,137.1 60.7,137.9 61.3,138.6 61.9,139.3 62.5,139.9 63.0,140.4 63.6,140.9 64.2,141.4 64.8,141.9 65.4,142.3 66.0,142.7 66.5,143.0 67.1,143.4 67.7,143.7 68.3,144.0 68.9,144.3 69.5,144.6 70.0,144.8 70.6,145.1 71.2,145.3 71.8,145.5 72.4,145.7 73.0,145.9 73.5,146.1 74.1,146.3 74.7,146.5 75.3,146.6 75.9,146.8 76.5,146.9 77.0,147.1 77.6,147.2 78.2,147.3 78.8,147.4 79.4,147.5 80.0,147.7 80.5,147.8 81.1,147.8 81.7,147.9 82.3,148.0 82.9,148.1 83.5,148.2 84.1,148.3 84.6,148.3 85.2,148.4 85.8,148.5 86.4,148.5 87.0,148.6 87.6,148.7 88.1,148.7 88.7,148.8 89.3,148.8 89.9,148.9 90.5,148.9 91.1,149.0 91.6,149.0 92.2,149.0 92.8,149.1 93.4,149.1 94.0,149.2 94.6,149.2 95.1,149.2 95.7,149.3 96.3,149.3 96.9,149.3 97.5,149.4 98.1,149.4 98.6,149.4 99.2,149.4 99.8,149.5 100.4,149.5 101.0,149.5 101.6,149.5 102.1,149.6 102.7,149.6 103.3,149.6 103.9,149.6 104.5,149.6 105.1,149.7 105.6,149.7 106.2,149.7 106.8,149.7 107.4,149.7 108.0,149.7 108.6,149.8 109.1,149.8 109.7,149.8 110.3,149.8 110.9,149.8 111.5,149.8 112.1,149.8 112.6,149.8 113.2,149.9 113.8,149.9 114.4,149.9 115.0,149.9 115.6,149.9 116.2,149.9 116.7,149.9 117.3,149.9 117.9,149.9 118.5,150.0 119.1,150.0 119.7,150.0 120.2,150.0 120.8,150.0 121.4,150.0 122.0,150.0 122.6,150.0 123.2,150.0 123.7,150.0 124.3,150.0 124.9,150.0 125.5,150.1 126.1,150.1 126.7,150.1 127.2,150.1 127.8,150.1 128.4,150.1 129.0,150.1 129.6,150.1 130.2,150.1 130.7,150.1 131.3,150.1 131.9,150.1 132.5,150.1 133.1,150.1 133.7,150.1 134.2,150.1 134.8,150.1 135.4,150.2 136.0,150.2 136.6,150.2 137.2,150.2 137.7,150.2 138.3,150.2 138.9,150.2 139.5,150.2 140.1,150.2 140.7,150.2 141.2,150.2 141.8,150.2 142.4,150.2 143.0,150.2 143.6,150.2 144.2,150.2 144.7,150.2 145.3,150.2 145.9,150.2 146.5,150.2 147.1,150.2 147.7,150.2 148.3,150.2 148.8,150.2 149.4,150.2 150.0,150.2 150.6,150.2 151.2,150.2 151.8,150.2 152.3,150.2 152.9,150.2 153.5,150.3 154.1,150.3 154.7,150.3 155.3,150.3 155.8,150.3 156.4,150.3 157.0,150.3 157.6,150.3 158.2,150.3 158.8,150.3 159.3,150.3 159.9,150.3 160.5,150.3 161.1,150.3 161.7,150.3 162.3,150.3 162.8,150.3 163.4,150.3 164.0,150.3 164.6,150.3 165.2,150.3 165.8,150.3 166.3,150.3 166.9,150.3 167.5,150.3 168.1,150.3 168.7,150.3 169.3,150.3 169.8,150.3 170.4,150.3 171.0,150.3 171.6,150.3 172.2,150.3 172.8,150.3 173.3,150.3 173.9,150.3 174.5,150.3 175.1,150.3 175.7,150.3 176.3,150.3 176.8,150.3 177.4,150.3 178.0,150.3 178.6,150.3 179.2,150.3 179.8,150.3 180.3,150.3 180.9,150.3 181.5,150.2 182.1,150.2 182.7,150.2 183.3,150.2 183.9,150.2 184.4,150.2 185.0,150.2 185.6,150.2 186.2,150.2 186.8,150.2 187.4,150.2 187.9,150.1 188.5,150.1 189.1,150.1 189.7,150.1 190.3,150.1 190.9,150.0 191.4,150.0 192.0,150.0 192.6,149.9 193.2,149.9 193.8,149.8 194.4,149.7 194.9,149.6 195.5,149.5 196.1,149.4 196.7,149.3 197.3,149.1 197.9,148.9 198.4,148.7 199.0,148.5 199.6,148.2 200.2,147.9 200.8,147.7 201.4,147.5 201.9,147.4 202.5,147.4 203.1,147.6 203.7,147.8 204.3,148.1 204.9,148.4 205.4,148.6 206.0,148.9 206.6,149.1 207.2,149.3 207.8,149.4 208.4,149.5 208.9,149.6 209.5,149.7 210.1,149.8 210.7,149.9 211.3,149.9 211.9,150.0 212.4,150.0 213.0,150.1 213.6,150.1 214.2,150.1" fill="none" stroke="#f49a3a" stroke-width="1.3" stroke-linejoin="round"/>
<polyline points="27.4,143.2 28.0,142.9 28.6,142.6 29.2,142.3 29.8,142.0 30.4,141.7 30.9,141.3 31.5,141.0 32.1,140.6 32.7,140.2 33.3,139.8 33.9,139.4 34.4,139.0 35.0,138.5 35.6,138.1 36.2,137.6 36.8,137.1 37.4,136.6 37.9,136.1 38.5,135.5 39.1,135.0 39.7,134.4 40.3,133.8 40.9,133.1 41.4,132.5 42.0,131.8 42.6,131.1 43.2,130.3 43.8,129.6 44.4,128.8 44.9,127.9 45.5,127.1 46.1,126.1 46.7,125.1 47.3,124.1 47.9,123.0 48.5,121.7 49.0,120.3 49.6,118.7 50.2,116.9 50.8,114.8 51.4,112.2 52.0,109.0 52.5,105.0 53.1,99.9 53.7,93.2 54.3,84.6 54.9,74.2 55.5,63.0 56.0,54.1 56.6,51.6 57.2,56.9 57.8,67.1 58.4,78.3 59.0,88.0 59.5,95.8 60.1,101.8 60.7,106.5 61.3,110.1 61.9,113.0 62.5,115.4 63.0,117.4 63.6,119.1 64.2,120.6 64.8,121.9 65.4,123.1 66.0,124.2 66.5,125.2 67.1,126.2 67.7,127.1 68.3,128.0 68.9,128.8 69.5,129.6 70.0,130.3 70.6,131.0 71.2,131.7 71.8,132.4 72.4,133.1 73.0,133.7 73.5,134.3 74.1,134.9 74.7,135.5 75.3,136.0 75.9,136.5 76.5,137.1 77.0,137.6 77.6,138.0 78.2,138.5 78.8,138.9 79.4,139.4 80.0,139.8 80.5,140.2 81.1,140.6 81.7,140.9 82.3,141.3 82.9,141.6 83.5,142.0 84.1,142.3 84.6,142.6 85.2,142.9 85.8,143.2 86.4,143.5 87.0,143.7 87.6,144.0 88.1,144.3 88.7,144.5 89.3,144.7 89.9,145.0 90.5,145.2 91.1,145.4 91.6,145.6 92.2,145.8 92.8,146.0 93.4,146.2 94.0,146.3 94.6,146.5 95.1,146.7 95.7,146.8 96.3,147.0 96.9,147.1 97.5,147.3 98.1,147.4 98.6,147.6 99.2,147.7 99.8,147.8 100.4,148.0 101.0,148.1 101.6,148.2 102.1,148.3 102.7,148.4 103.3,148.5 103.9,148.6 104.5,148.7 105.1,148.8 105.6,148.9 106.2,149.0 106.8,149.1 107.4,149.2 108.0,149.3 108.6,149.4 109.1,149.4 109.7,149.5 110.3,149.6 110.9,149.7 111.5,149.7 112.1,149.8 112.6,149.9 113.2,149.9 113.8,150.0 114.4,150.1 115.0,150.1 115.6,150.2 116.2,150.2 116.7,150.3 117.3,150.4 117.9,150.4 118.5,150.5 119.1,150.5 119.7,150.6 120.2,150.6 120.8,150.7 121.4,150.7 122.0,150.8 122.6,150.8 123.2,150.8 123.7,150.9 124.3,150.9 124.9,151.0 125.5,151.0 126.1,151.0 126.7,151.1 127.2,151.1 127.8,151.2 128.4,151.2 129.0,151.2 129.6,151.3 130.2,151.3 130.7,151.3 131.3,151.4 131.9,151.4 132.5,151.4 133.1,151.4 133.7,151.5 134.2,151.5 134.8,151.5 135.4,151.6 136.0,151.6 136.6,151.6 137.2,151.6 137.7,151.7 138.3,151.7 138.9,151.7 139.5,151.7 140.1,151.8 140.7,151.8 141.2,151.8 141.8,151.8 142.4,151.8 143.0,151.9 143.6,151.9 144.2,151.9 144.7,151.9 145.3,151.9 145.9,152.0 146.5,152.0 147.1,152.0 147.7,152.0 148.3,152.0 148.8,152.0 149.4,152.1 150.0,152.1 150.6,152.1 151.2,152.1 151.8,152.1 152.3,152.1 152.9,152.2 153.5,152.2 154.1,152.2 154.7,152.2 155.3,152.2 155.8,152.2 156.4,152.2 157.0,152.3 157.6,152.3 158.2,152.3 158.8,152.3 159.3,152.3 159.9,152.3 160.5,152.3 161.1,152.3 161.7,152.4 162.3,152.4 162.8,152.4 163.4,152.4 164.0,152.4 164.6,152.4 165.2,152.4 165.8,152.4 166.3,152.4 166.9,152.5 167.5,152.5 168.1,152.5 168.7,152.5 169.3,152.5 169.8,152.5 170.4,152.5 171.0,152.5 171.6,152.5 172.2,152.5 172.8,152.5 173.3,152.5 173.9,152.6 174.5,152.6 175.1,152.6 175.7,152.6 176.3,152.6 176.8,152.6 177.4,152.6 178.0,152.6 178.6,152.6 179.2,152.6 179.8,152.6 180.3,152.6 180.9,152.6 181.5,152.6 182.1,152.6 182.7,152.6 183.3,152.6 183.9,152.6 184.4,152.6 185.0,152.6 185.6,152.6 186.2,152.6 186.8,152.6 187.4,152.6 187.9,152.6 188.5,152.6 189.1,152.6 189.7,152.5 190.3,152.5 190.9,152.5 191.4,152.5 192.0,152.4 192.6,152.4 193.2,152.3 193.8,152.3 194.4,152.2 194.9,152.1 195.5,151.9 196.1,151.8 196.7,151.6 197.3,151.3 197.9,151.0 198.4,150.7 199.0,150.3 199.6,150.1 200.2,149.9 200.8,149.9 201.4,150.1 201.9,150.5 202.5,150.8 203.1,151.1 203.7,151.4 204.3,151.7 204.9,151.9 205.4,152.1 206.0,152.2 206.6,152.3 207.2,152.4 207.8,152.5 208.4,152.5 208.9,152.6 209.5,152.6 210.1,152.7 210.7,152.7 211.3,152.7 211.9,152.8 212.4,152.8 213.0,152.8 213.6,152.8 214.2,152.8" fill="none" stroke="#f44a1c" stroke-width="1.3" stroke-linejoin="round"/>
<polyline points="27.4,153.9 28.0,153.9 28.6,153.8 29.2,153.8 29.8,153.7 30.4,153.7 30.9,153.6 31.5,153.6 32.1,153.6 32.7,153.5 33.3,153.4 33.9,153.4 34.4,153.3 35.0,153.3 35.6,153.2 36.2,153.1 36.8,153.1 37.4,153.0 37.9,152.9 38.5,152.8 39.1,152.7 39.7,152.6 40.3,152.5 40.9,152.4 41.4,152.3 42.0,152.2 42.6,152.1 43.2,152.0 43.8,151.8 44.4,151.7 44.9,151.5 45.5,151.4 46.1,151.2 46.7,151.0 47.3,150.8 47.9,150.6 48.5,150.4 49.0,150.1 49.6,149.9 50.2,149.6 50.8,149.2 51.4,148.8 52.0,148.3 52.5,147.8 53.1,147.1 53.7,146.3 54.3,145.2 54.9,143.8 55.5,142.0 56.0,139.7 56.6,136.9 57.2,133.7 57.8,131.0 58.4,129.9 59.0,131.0 59.5,133.7 60.1,136.8 60.7,139.7 61.3,142.0 61.9,143.8 62.5,145.2 63.0,146.3 63.6,147.1 64.2,147.8 64.8,148.4 65.4,148.8 66.0,149.2 66.5,149.6 67.1,149.9 67.7,150.2 68.3,150.4 68.9,150.6 69.5,150.9 70.0,151.1 70.6,151.2 71.2,151.4 71.8,151.6 72.4,151.7 73.0,151.9 73.5,152.0 74.1,152.1 74.7,152.2 75.3,152.4 75.9,152.5 76.5,152.6 77.0,152.7 77.6,152.8 78.2,152.8 78.8,152.9 79.4,153.0 80.0,153.1 80.5,153.1 81.1,153.2 81.7,153.3 82.3,153.3 82.9,153.4 83.5,153.5 84.1,153.5 84.6,153.6 85.2,153.6 85.8,153.7 86.4,153.7 87.0,153.7 87.6,153.8 88.1,153.8 88.7,153.9 89.3,153.9 89.9,153.9 90.5,154.0 91.1,154.0 91.6,154.0 92.2,154.1 92.8,154.1 93.4,154.1 94.0,154.1 94.6,154.2 95.1,154.2 95.7,154.2 96.3,154.2 96.9,154.3 97.5,154.3 98.1,154.3 98.6,154.3 99.2,154.3 99.8,154.4 100.4,154.4 101.0,154.4 101.6,154.4 102.1,154.4 102.7,154.4 103.3,154.4 103.9,154.5 104.5,154.5 105.1,154.5 105.6,154.5 106.2,154.5 106.8,154.5 107.4,154.5 108.0,154.5 108.6,154.6 109.1,154.6 109.7,154.6 110.3,154.6 110.9,154.6 111.5,154.6 112.1,154.6 112.6,154.6 113.2,154.6 113.8,154.6 114.4,154.7 115.0,154.7 115.6,154.7 116.2,154.7 116.7,154.7 117.3,154.7 117.9,154.7 118.5,154.7 119.1,154.7 119.7,154.7 120.2,154.7 120.8,154.7 121.4,154.7 122.0,154.7 122.6,154.7 123.2,154.7 123.7,154.8 124.3,154.8 124.9,154.8 125.5,154.8 126.1,154.8 126.7,154.8 127.2,154.8 127.8,154.8 128.4,154.8 129.0,154.8 129.6,154.8 130.2,154.8 130.7,154.8 131.3,154.8 131.9,154.8 132.5,154.8 133.1,154.8 133.7,154.8 134.2,154.8 134.8,154.8 135.4,154.8 136.0,154.8 136.6,154.8 137.2,154.8 137.7,154.8 138.3,154.9 138.9,154.9 139.5,154.9 140.1,154.9 140.7,154.9 141.2,154.9 141.8,154.9 142.4,154.9 143.0,154.9 143.6,154.9 144.2,154.9 144.7,154.9 145.3,154.9 145.9,154.9 146.5,154.9 147.1,154.9 147.7,154.9 148.3,154.9 148.8,154.9 149.4,154.9 150.0,154.9 150.6,154.9 151.2,154.9 151.8,154.9 152.3,154.9 152.9,154.9 153.5,154.9 154.1,154.9 154.7,154.9 155.3,154.9 155.8,154.9 156.4,154.9 157.0,154.9 157.6,154.9 158.2,154.9 158.8,154.9 159.3,154.9 159.9,154.9 160.5,154.9 161.1,154.9 161.7,154.9 162.3,154.9 162.8,154.9 163.4,154.9 164.0,154.9 164.6,154.9 165.2,154.9 165.8,154.9 166.3,154.9 166.9,154.9 167.5,154.9 168.1,154.9 168.7,154.9 169.3,154.9 169.8,155.0 170.4,155.0 171.0,155.0 171.6,155.0 172.2,155.0 172.8,155.0 173.3,155.0 173.9,155.0 174.5,155.0 175.1,155.0 175.7,155.0 176.3,155.0 176.8,155.0 177.4,155.0 178.0,155.0 178.6,155.0 179.2,155.0 179.8,155.0 180.3,155.0 180.9,155.0 181.5,155.0 182.1,155.0 182.7,155.0 183.3,155.0 183.9,155.0 184.4,155.0 185.0,155.0 185.6,155.0 186.2,155.0 186.8,155.0 187.4,155.0 187.9,155.0 188.5,155.0 189.1,155.0 189.7,155.0 190.3,155.0 190.9,155.0 191.4,155.0 192.0,155.0 192.6,155.0 193.2,155.0 193.8,155.0 194.4,155.0 194.9,155.0 195.5,155.0 196.1,155.0 196.7,155.0 197.3,155.0 197.9,155.0 198.4,155.0 199.0,155.0 199.6,155.0 200.2,155.0 200.8,155.0 201.4,155.0 201.9,155.0 202.5,155.0 203.1,155.0 203.7,155.0 204.3,155.0 204.9,155.0 205.4,155.0 206.0,155.0 206.6,155.0 207.2,155.0 207.8,155.0 208.4,155.0 208.9,155.0 209.5,155.0 210.1,155.0 210.7,155.0 211.3,155.0 211.9,155.0 212.4,155.0 213.0,155.0 213.6,155.0 214.2,155.0" fill="none" stroke="#ee2a22" stroke-width="1.3" stroke-linejoin="round"/>
</g>
<rect x="31.5" y="13.0" width="178.0" height="143.5" fill="none" stroke="#1a1a1a" stroke-width="1.2"/>
<line x1="72.10" y1="156.50" x2="72.10" y2="159.50" stroke="#222" stroke-width="1.0"/>
<line x1="72.10" y1="13.00" x2="72.10" y2="10.00" stroke="#222" stroke-width="1.0"/>
<line x1="153.30" y1="156.50" x2="153.30" y2="159.50" stroke="#222" stroke-width="1.0"/>
<line x1="153.30" y1="13.00" x2="153.30" y2="10.00" stroke="#222" stroke-width="1.0"/>
<line x1="112.70" y1="156.50" x2="112.70" y2="158.50" stroke="#222" stroke-width="1.0"/>
<line x1="112.70" y1="13.00" x2="112.70" y2="11.00" stroke="#222" stroke-width="1.0"/>
<line x1="193.90" y1="156.50" x2="193.90" y2="158.50" stroke="#222" stroke-width="1.0"/>
<line x1="193.90" y1="13.00" x2="193.90" y2="11.00" stroke="#222" stroke-width="1.0"/>
<line x1="28.50" y1="156.50" x2="31.50" y2="156.50" stroke="#222" stroke-width="1.0"/>
<line x1="209.50" y1="156.50" x2="212.50" y2="156.50" stroke="#222" stroke-width="1.0"/>
<line x1="28.50" y1="96.50" x2="31.50" y2="96.50" stroke="#222" stroke-width="1.0"/>
<line x1="209.50" y1="96.50" x2="212.50" y2="96.50" stroke="#222" stroke-width="1.0"/>
<line x1="28.50" y1="36.50" x2="31.50" y2="36.50" stroke="#222" stroke-width="1.0"/>
<line x1="209.50" y1="36.50" x2="212.50" y2="36.50" stroke="#222" stroke-width="1.0"/>
<line x1="29.50" y1="126.50" x2="31.50" y2="126.50" stroke="#222" stroke-width="1.0"/>
<line x1="209.50" y1="126.50" x2="211.50" y2="126.50" stroke="#222" stroke-width="1.0"/>
<line x1="29.50" y1="66.50" x2="31.50" y2="66.50" stroke="#222" stroke-width="1.0"/>
<line x1="209.50" y1="66.50" x2="211.50" y2="66.50" stroke="#222" stroke-width="1.0"/>
<text x="28.00" y="159.90" font-size="9.5" fill="#222" text-anchor="end" font-weight="normal">0</text>
<text x="28.00" y="99.90" font-size="9.5" fill="#222" text-anchor="end" font-weight="normal">50</text>
<text x="28.00" y="39.90" font-size="9.5" fill="#222" text-anchor="end" font-weight="normal">100</text>
<text x="72.10" y="168.50" font-size="9.5" fill="#222" text-anchor="middle" font-weight="normal">2</text>
<text x="153.30" y="168.50" font-size="9.5" fill="#222" text-anchor="middle" font-weight="normal">3</text>
<text x="10.30" y="84.80" font-size="9.5" fill="#222" text-anchor="middle" font-weight="normal" transform="rotate(-90 10.3 84.8)">Intensity (rel.u.)</text>
<text x="94" y="185" font-size="9.5" fill="#222">2<tspan font-family="Liberation Serif">θ</tspan> (degrees)</text>
<text x="38.80" y="23.80" font-size="9.5" fill="#111" text-anchor="start" font-weight="bold">VA1H sample</text>
<text x="36.30" y="116.00" font-size="15.5" fill="#111" text-anchor="start" font-weight="bold">a)</text>
<text x="44.20" y="46.00" font-size="7.5" fill="#ee3a96" text-anchor="start" font-weight="normal">d= 18.39 A</text>
<text x="74.00" y="63.70" font-size="7.5" fill="#ee3a96" text-anchor="middle" font-weight="normal">2 DMSO</text>
<text x="76.00" y="73.00" font-size="7.5" fill="#ee3a96" text-anchor="middle" font-weight="normal">layers</text>
<text x="70.80" y="33.40" font-size="7.5" fill="#3344dd" text-anchor="start" font-weight="normal">d= 14.87-14.92 A</text>
<text x="117.90" y="23.80" font-size="7.7" fill="#ee2a2a" text-anchor="start" font-weight="normal">d= 12.147 A</text>
<text x="109.20" y="90.60" font-size="7.5" fill="#3344dd" text-anchor="middle" font-weight="normal">1 DMSO</text>
<text x="109.40" y="98.90" font-size="7.5" fill="#3344dd" text-anchor="middle" font-weight="normal">layer</text>
<text x="137.00" y="138.20" font-size="7.5" fill="#ee3030" text-anchor="start" font-weight="normal">dry</text>
<line x1="146.30" y1="29.70" x2="158.30" y2="29.70" stroke="#a030f0" stroke-width="1.8"/>
<text x="159.90" y="31.70" font-size="5.45" fill="#222" text-anchor="start" font-weight="normal">dry sample</text>
<line x1="146.30" y1="36.20" x2="158.30" y2="36.20" stroke="#6a28f0" stroke-width="1.8"/>
<text x="159.9" y="38.20" font-size="5.45" fill="#222">DMSO:H<tspan font-size="3.5" dy="1.2">2</tspan><tspan dy="-1.2">O-5:95%</tspan></text>
<line x1="146.30" y1="43.92" x2="158.30" y2="43.92" stroke="#5a50f0" stroke-width="1.8"/>
<text x="159.9" y="45.92" font-size="5.45" fill="#222">DMSO:H<tspan font-size="3.5" dy="1.2">2</tspan><tspan dy="-1.2">O-10:90%</tspan></text>
<line x1="146.30" y1="51.64" x2="158.30" y2="51.64" stroke="#4a78f0" stroke-width="1.8"/>
<text x="159.9" y="53.64" font-size="5.45" fill="#222">DMSO:H<tspan font-size="3.5" dy="1.2">2</tspan><tspan dy="-1.2">O-20:80%</tspan></text>
<line x1="146.30" y1="59.36" x2="158.30" y2="59.36" stroke="#40a8f8" stroke-width="1.8"/>
<text x="159.9" y="61.36" font-size="5.45" fill="#222">DMSO:H<tspan font-size="3.5" dy="1.2">2</tspan><tspan dy="-1.2">O-30:70%</tspan></text>
<line x1="146.30" y1="67.08" x2="158.30" y2="67.08" stroke="#70f0f8" stroke-width="1.8"/>
<text x="159.9" y="69.08" font-size="5.45" fill="#222">DMSO:H<tspan font-size="3.5" dy="1.2">2</tspan><tspan dy="-1.2">O-40:60%</tspan></text>
<line x1="146.30" y1="74.80" x2="158.30" y2="74.80" stroke="#90f0d8" stroke-width="1.8"/>
<text x="159.9" y="76.80" font-size="5.45" fill="#222">DMSO:H<tspan font-size="3.5" dy="1.2">2</tspan><tspan dy="-1.2">O-50:50%</tspan></text>
<line x1="146.30" y1="82.52" x2="158.30" y2="82.52" stroke="#40e020" stroke-width="1.8"/>
<text x="159.9" y="84.52" font-size="5.45" fill="#222">DMSO:H<tspan font-size="3.5" dy="1.2">2</tspan><tspan dy="-1.2">O-60:40%</tspan></text>
<line x1="146.30" y1="90.24" x2="158.30" y2="90.24" stroke="#58e830" stroke-width="1.8"/>
<text x="159.9" y="92.24" font-size="5.45" fill="#222">DMSO:H<tspan font-size="3.5" dy="1.2">2</tspan><tspan dy="-1.2">O-70:30%</tspan></text>
<line x1="146.30" y1="97.96" x2="158.30" y2="97.96" stroke="#b8f048" stroke-width="1.8"/>
<text x="159.9" y="99.96" font-size="5.45" fill="#222">DMSO:H<tspan font-size="3.5" dy="1.2">2</tspan><tspan dy="-1.2">O-72:28%</tspan></text>
<line x1="146.30" y1="105.68" x2="158.30" y2="105.68" stroke="#f0d070" stroke-width="1.8"/>
<text x="159.9" y="107.68" font-size="5.45" fill="#222">DMSO:H<tspan font-size="3.5" dy="1.2">2</tspan><tspan dy="-1.2">O-75:25%</tspan></text>
<line x1="146.30" y1="113.40" x2="158.30" y2="113.40" stroke="#f49a3a" stroke-width="1.8"/>
<text x="159.9" y="115.40" font-size="5.45" fill="#222">DMSO:H<tspan font-size="3.5" dy="1.2">2</tspan><tspan dy="-1.2">O-80:20%</tspan></text>
<line x1="146.30" y1="121.12" x2="158.30" y2="121.12" stroke="#f45a1c" stroke-width="1.8"/>
<text x="159.9" y="123.12" font-size="5.45" fill="#222">DMSO:H<tspan font-size="3.5" dy="1.2">2</tspan><tspan dy="-1.2">O-90:10%</tspan></text>
<line x1="146.30" y1="128.84" x2="158.30" y2="128.84" stroke="#ee2a22" stroke-width="1.8"/>
<text x="159.9" y="130.84" font-size="5.45" fill="#222">DMSO:H<tspan font-size="3.5" dy="1.2">2</tspan><tspan dy="-1.2">O-100:0%</tspan></text>
<g clip-path="url(#clipD)">
<polyline points="29.1,322.8 29.7,322.8 30.3,322.8 30.8,322.8 31.4,322.7 32.0,322.7 32.6,322.7 33.1,322.7 33.7,322.8 34.3,322.8 34.9,322.8 35.5,322.9 36.0,323.0 36.6,323.1 37.2,323.2 37.8,323.3 38.3,323.4 38.9,323.5 39.5,323.7 40.1,323.8 40.6,323.9 41.2,324.1 41.8,324.2 42.4,324.4 43.0,324.5 43.5,324.6 44.1,324.8 44.7,324.9 45.3,325.1 45.8,325.2 46.4,325.3 47.0,325.4 47.6,325.5 48.2,325.6 48.7,325.7 49.3,325.8 49.9,325.8 50.5,325.9 51.0,325.9 51.6,325.9 52.2,325.9 52.8,325.9 53.4,325.9 53.9,325.9 54.5,325.9 55.1,325.9 55.7,325.9 56.2,326.0 56.8,326.0 57.4,326.1 58.0,326.1 58.6,326.2 59.1,326.3 59.7,326.3 60.3,326.4 60.9,326.5 61.4,326.6 62.0,326.7 62.6,326.7 63.2,326.8 63.7,326.9 64.3,327.0 64.9,327.1 65.5,327.2 66.1,327.3 66.6,327.4 67.2,327.4 67.8,327.5 68.4,327.6 68.9,327.7 69.5,327.7 70.1,327.8 70.7,327.9 71.3,327.9 71.8,328.0 72.4,328.0 73.0,328.1 73.6,328.1 74.1,328.1 74.7,328.1 75.3,328.2 75.9,328.2 76.5,328.1 77.0,328.1 77.6,328.1 78.2,328.1 78.8,328.0 79.3,328.0 79.9,327.9 80.5,327.9 81.1,327.9 81.7,327.8 82.2,327.8 82.8,327.8 83.4,327.8 84.0,327.8 84.5,327.8 85.1,327.8 85.7,327.8 86.3,327.8 86.8,327.8 87.4,327.8 88.0,327.7 88.6,327.7 89.2,327.6 89.7,327.6 90.3,327.5 90.9,327.4 91.5,327.3 92.0,327.2 92.6,327.0 93.2,326.9 93.8,326.8 94.4,326.6 94.9,326.4 95.5,326.3 96.1,326.1 96.7,325.9 97.2,325.7 97.8,325.5 98.4,325.3 99.0,325.1 99.6,324.9 100.1,324.7 100.7,324.4 101.3,324.2 101.9,323.9 102.4,323.6 103.0,323.3 103.6,323.0 104.2,322.7 104.8,322.3 105.3,322.0 105.9,321.6 106.5,321.2 107.1,320.8 107.6,320.3 108.2,319.9 108.8,319.4 109.4,318.9 109.9,318.3 110.5,317.8 111.1,317.2 111.7,316.6 112.3,315.9 112.8,315.2 113.4,314.5 114.0,313.7 114.6,313.0 115.1,312.1 115.7,311.3 116.3,310.3 116.9,309.4 117.5,308.4 118.0,307.3 118.6,306.2 119.2,304.9 119.8,303.6 120.3,302.0 120.9,300.1 121.5,297.5 122.1,293.9 122.7,288.7 123.2,281.3 123.8,271.3 124.4,258.8 125.0,244.8 125.5,234.1 126.1,233.1 126.7,233.0 127.3,233.1 127.9,233.5 128.4,240.7 129.0,254.9 129.6,268.0 130.2,278.7 130.7,286.8 131.3,292.6 131.9,296.6 132.5,299.4 133.0,301.5 133.6,303.2 134.2,304.6 134.8,305.8 135.4,307.0 135.9,308.1 136.5,309.1 137.1,310.1 137.7,311.0 138.2,311.9 138.8,312.8 139.4,313.8 140.0,314.8 140.6,315.8 141.1,316.8 141.7,317.8 142.3,318.7 142.9,319.6 143.4,320.4 144.0,321.1 144.6,321.6 145.2,322.1 145.8,322.6 146.3,323.0 146.9,323.5 147.5,323.9 148.1,324.3 148.6,324.6 149.2,325.0 149.8,325.3 150.4,325.7 151.0,326.0 151.5,326.3 152.1,326.6 152.7,326.9 153.3,327.1 153.8,327.4 154.4,327.6 155.0,327.9 155.6,328.1 156.1,328.3 156.7,328.5 157.3,328.7 157.9,328.9 158.5,329.1 159.0,329.3 159.6,329.4 160.2,329.6 160.8,329.7 161.3,329.8 161.9,329.8 162.5,329.8 163.1,329.6 163.7,329.5 164.2,329.8 164.8,330.3 165.4,330.7 166.0,331.0 166.5,331.2 167.1,331.4 167.7,331.6 168.3,331.7 168.9,331.9 169.4,332.0 170.0,332.1 170.6,332.3 171.2,332.4 171.7,332.5 172.3,332.6 172.9,332.7 173.5,332.8 174.1,332.9 174.6,333.0 175.2,333.1 175.8,333.2 176.4,333.3 176.9,333.4 177.5,333.4 178.1,333.4 178.7,333.3 179.2,333.1 179.8,332.7 180.4,332.6 181.0,333.2 181.6,333.7 182.1,334.0 182.7,334.2 183.3,334.3 183.9,334.4 184.4,334.5 185.0,334.6 185.6,334.7 186.2,334.7 186.8,334.7 187.3,334.7 187.9,334.6 188.5,334.4 189.1,333.9 189.6,333.8 190.2,334.4 190.8,334.9 191.4,335.2 192.0,335.3 192.5,335.5 193.1,335.6 193.7,335.7 194.3,335.7 194.8,335.8 195.4,335.9 196.0,335.9 196.6,336.0 197.2,336.0 197.7,336.1 198.3,336.1 198.9,336.2 199.5,336.2 200.0,336.2 200.6,336.3 201.2,336.3 201.8,336.3 202.4,336.3 202.9,336.3 203.5,336.3 204.1,336.2 204.7,336.0 205.2,335.7 205.8,335.5 206.4,335.6 207.0,335.9 207.5,336.2 208.1,336.4 208.7,336.5 209.3,336.6 209.9,336.7 210.4,336.7 211.0,336.8 211.6,336.8 212.2,336.8 212.7,336.8 213.3,336.8 213.9,336.9" fill="none" stroke="#b050f8" stroke-width="1.4" stroke-linejoin="round"/>
<polyline points="29.1,324.3 29.7,324.3 30.3,324.3 30.8,324.3 31.4,324.3 32.0,324.3 32.6,324.3 33.1,324.3 33.7,324.3 34.3,324.3 34.9,324.4 35.5,324.4 36.0,324.4 36.6,324.5 37.2,324.6 37.8,324.6 38.3,324.7 38.9,324.8 39.5,324.9 40.1,325.0 40.6,325.1 41.2,325.1 41.8,325.2 42.4,325.3 43.0,325.4 43.5,325.5 44.1,325.6 44.7,325.7 45.3,325.8 45.8,325.9 46.4,325.9 47.0,326.0 47.6,326.1 48.2,326.1 48.7,326.2 49.3,326.2 49.9,326.2 50.5,326.3 51.0,326.3 51.6,326.3 52.2,326.3 52.8,326.2 53.4,326.2 53.9,326.2 54.5,326.2 55.1,326.3 55.7,326.3 56.2,326.3 56.8,326.4 57.4,326.4 58.0,326.4 58.6,326.5 59.1,326.5 59.7,326.6 60.3,326.7 60.9,326.7 61.4,326.8 62.0,326.9 62.6,326.9 63.2,327.0 63.7,327.1 64.3,327.1 64.9,327.2 65.5,327.2 66.1,327.3 66.6,327.4 67.2,327.4 67.8,327.4 68.4,327.5 68.9,327.5 69.5,327.5 70.1,327.5 70.7,327.5 71.3,327.5 71.8,327.5 72.4,327.5 73.0,327.5 73.6,327.4 74.1,327.3 74.7,327.2 75.3,327.1 75.9,327.0 76.5,326.8 77.0,326.7 77.6,326.5 78.2,326.2 78.8,326.0 79.3,325.7 79.9,325.4 80.5,325.1 81.1,324.7 81.7,324.3 82.2,323.9 82.8,323.5 83.4,323.0 84.0,322.4 84.5,321.8 85.1,321.2 85.7,320.4 86.3,319.6 86.8,318.7 87.4,317.6 88.0,316.2 88.6,314.3 89.2,311.3 89.7,306.0 90.3,297.2 90.9,283.6 91.5,265.5 92.0,246.2 92.6,234.5 93.2,234.0 93.8,242.0 94.4,260.8 94.9,279.8 95.5,294.9 96.1,305.1 96.7,311.3 97.2,315.0 97.8,317.3 98.4,319.0 99.0,320.4 99.6,321.6 100.1,322.7 100.7,323.7 101.3,324.5 101.9,325.3 102.4,326.0 103.0,326.7 103.6,327.3 104.2,327.8 104.8,328.2 105.3,328.6 105.9,328.9 106.5,329.2 107.1,329.5 107.6,329.8 108.2,330.0 108.8,330.2 109.4,330.5 109.9,330.7 110.5,330.9 111.1,331.0 111.7,331.2 112.3,331.4 112.8,331.5 113.4,331.7 114.0,331.8 114.6,331.9 115.1,332.1 115.7,332.2 116.3,332.3 116.9,332.4 117.5,332.5 118.0,332.6 118.6,332.7 119.2,332.8 119.8,332.9 120.3,333.0 120.9,333.0 121.5,333.1 122.1,333.2 122.7,333.3 123.2,333.4 123.8,333.4 124.4,333.5 125.0,333.6 125.5,333.6 126.1,333.7 126.7,333.7 127.3,333.8 127.9,333.9 128.4,333.9 129.0,334.0 129.6,334.0 130.2,334.1 130.7,334.1 131.3,334.2 131.9,334.2 132.5,334.3 133.0,334.3 133.6,334.4 134.2,334.4 134.8,334.4 135.4,334.5 135.9,334.5 136.5,334.5 137.1,334.6 137.7,334.6 138.2,334.6 138.8,334.7 139.4,334.7 140.0,334.7 140.6,334.7 141.1,334.8 141.7,334.8 142.3,334.8 142.9,334.8 143.4,334.8 144.0,334.8 144.6,334.8 145.2,334.9 145.8,334.9 146.3,334.9 146.9,334.9 147.5,334.9 148.1,334.9 148.6,334.9 149.2,334.9 149.8,334.9 150.4,334.9 151.0,334.9 151.5,334.9 152.1,334.9 152.7,334.9 153.3,334.9 153.8,335.0 154.4,335.0 155.0,335.0 155.6,335.0 156.1,335.0 156.7,334.9 157.3,334.9 157.9,334.9 158.5,334.9 159.0,334.9 159.6,334.9 160.2,334.8 160.8,334.7 161.3,334.6 161.9,334.4 162.5,334.0 163.1,333.5 163.7,333.2 164.2,333.4 164.8,333.9 165.4,334.3 166.0,334.6 166.5,334.7 167.1,334.8 167.7,334.9 168.3,334.9 168.9,335.0 169.4,335.0 170.0,335.0 170.6,335.0 171.2,335.0 171.7,335.0 172.3,335.0 172.9,335.0 173.5,335.0 174.1,335.0 174.6,335.0 175.2,335.0 175.8,335.0 176.4,335.0 176.9,334.9 177.5,334.8 178.1,334.7 178.7,334.4 179.2,333.9 179.8,333.1 180.4,332.8 181.0,333.6 181.6,334.3 182.1,334.6 182.7,334.8 183.3,334.9 183.9,334.9 184.4,335.0 185.0,335.0 185.6,334.9 186.2,334.9 186.8,334.8 187.3,334.7 187.9,334.5 188.5,334.0 189.1,333.1 189.6,332.8 190.2,333.6 190.8,334.3 191.4,334.7 192.0,334.8 192.5,334.9 193.1,335.0 193.7,335.0 194.3,335.1 194.8,335.1 195.4,335.1 196.0,335.1 196.6,335.1 197.2,335.1 197.7,335.1 198.3,335.1 198.9,335.1 199.5,335.1 200.0,335.1 200.6,335.1 201.2,335.1 201.8,335.0 202.4,335.0 202.9,334.9 203.5,334.8 204.1,334.6 204.7,334.3 205.2,333.8 205.8,333.3 206.4,333.5 207.0,334.0 207.5,334.4 208.1,334.7 208.7,334.9 209.3,335.0 209.9,335.0 210.4,335.1 211.0,335.1 211.6,335.1 212.2,335.2 212.7,335.2 213.3,335.2 213.9,335.2" fill="none" stroke="#5030f0" stroke-width="1.4" stroke-linejoin="round"/>
<polyline points="29.1,326.7 29.7,326.7 30.3,326.7 30.8,326.7 31.4,326.7 32.0,326.7 32.6,326.6 33.1,326.6 33.7,326.7 34.3,326.7 34.9,326.7 35.5,326.8 36.0,326.8 36.6,326.9 37.2,326.9 37.8,327.0 38.3,327.1 38.9,327.2 39.5,327.2 40.1,327.3 40.6,327.4 41.2,327.5 41.8,327.6 42.4,327.7 43.0,327.8 43.5,327.9 44.1,328.0 44.7,328.1 45.3,328.1 45.8,328.2 46.4,328.3 47.0,328.4 47.6,328.4 48.2,328.5 48.7,328.5 49.3,328.6 49.9,328.6 50.5,328.6 51.0,328.6 51.6,328.6 52.2,328.6 52.8,328.6 53.4,328.6 53.9,328.6 54.5,328.6 55.1,328.6 55.7,328.6 56.2,328.7 56.8,328.7 57.4,328.7 58.0,328.8 58.6,328.8 59.1,328.9 59.7,328.9 60.3,329.0 60.9,329.1 61.4,329.1 62.0,329.2 62.6,329.3 63.2,329.3 63.7,329.4 64.3,329.5 64.9,329.5 65.5,329.6 66.1,329.6 66.6,329.7 67.2,329.7 67.8,329.8 68.4,329.8 68.9,329.8 69.5,329.8 70.1,329.8 70.7,329.8 71.3,329.8 71.8,329.8 72.4,329.8 73.0,329.7 73.6,329.7 74.1,329.6 74.7,329.5 75.3,329.4 75.9,329.2 76.5,329.1 77.0,328.9 77.6,328.7 78.2,328.4 78.8,328.2 79.3,327.9 79.9,327.7 80.5,327.4 81.1,327.2 81.7,327.0 82.2,326.7 82.8,326.4 83.4,326.1 84.0,325.7 84.5,325.3 85.1,324.8 85.7,324.2 86.3,323.5 86.8,322.6 87.4,321.5 88.0,320.0 88.6,317.8 89.2,314.1 89.7,307.7 90.3,297.2 90.9,281.6 91.5,262.3 92.0,243.8 92.6,234.9 93.2,236.8 93.8,252.0 94.4,272.1 94.9,290.6 95.5,304.5 96.1,313.4 96.7,318.8 97.2,322.1 97.8,324.3 98.4,326.0 99.0,327.4 99.6,328.6 100.1,329.7 100.7,330.7 101.3,331.6 101.9,332.4 102.4,333.2 103.0,333.8 103.6,334.4 104.2,334.9 104.8,335.3 105.3,335.7 105.9,336.0 106.5,336.3 107.1,336.6 107.6,336.9 108.2,337.1 108.8,337.3 109.4,337.5 109.9,337.7 110.5,337.9 111.1,338.1 111.7,338.2 112.3,338.4 112.8,338.5 113.4,338.6 114.0,338.8 114.6,338.9 115.1,339.0 115.7,339.1 116.3,339.2 116.9,339.3 117.5,339.3 118.0,339.4 118.6,339.5 119.2,339.6 119.8,339.6 120.3,339.7 120.9,339.7 121.5,339.8 122.1,339.9 122.7,339.9 123.2,340.0 123.8,340.0 124.4,340.0 125.0,340.1 125.5,340.1 126.1,340.2 126.7,340.2 127.3,340.2 127.9,340.3 128.4,340.3 129.0,340.3 129.6,340.3 130.2,340.4 130.7,340.4 131.3,340.4 131.9,340.4 132.5,340.5 133.0,340.5 133.6,340.5 134.2,340.5 134.8,340.6 135.4,340.6 135.9,340.6 136.5,340.6 137.1,340.6 137.7,340.6 138.2,340.7 138.8,340.7 139.4,340.7 140.0,340.7 140.6,340.7 141.1,340.7 141.7,340.7 142.3,340.7 142.9,340.8 143.4,340.8 144.0,340.8 144.6,340.8 145.2,340.8 145.8,340.8 146.3,340.8 146.9,340.8 147.5,340.8 148.1,340.8 148.6,340.8 149.2,340.7 149.8,340.7 150.4,340.7 151.0,340.6 151.5,340.6 152.1,340.6 152.7,340.5 153.3,340.5 153.8,340.4 154.4,340.4 155.0,340.3 155.6,340.3 156.1,340.2 156.7,340.2 157.3,340.1 157.9,340.0 158.5,340.0 159.0,339.9 159.6,339.8 160.2,339.7 160.8,339.5 161.3,339.3 161.9,339.1 162.5,338.6 163.1,338.1 163.7,337.7 164.2,337.8 164.8,338.3 165.4,338.6 166.0,338.8 166.5,338.9 167.1,339.0 167.7,339.0 168.3,339.0 168.9,338.9 169.4,338.9 170.0,338.9 170.6,338.9 171.2,338.8 171.7,338.8 172.3,338.8 172.9,338.7 173.5,338.7 174.1,338.7 174.6,338.7 175.2,338.6 175.8,338.6 176.4,338.5 176.9,338.5 177.5,338.4 178.1,338.3 178.7,338.0 179.2,337.5 179.8,336.6 180.4,336.3 181.0,337.1 181.6,337.7 182.1,338.1 182.7,338.2 183.3,338.3 183.9,338.3 184.4,338.3 185.0,338.2 185.6,338.2 186.2,338.1 186.8,338.0 187.3,337.8 187.9,337.5 188.5,336.9 189.1,336.0 189.6,335.7 190.2,336.4 190.8,337.0 191.4,337.3 192.0,337.4 192.5,337.5 193.1,337.5 193.7,337.5 194.3,337.4 194.8,337.4 195.4,337.3 196.0,337.3 196.6,337.2 197.2,337.2 197.7,337.1 198.3,337.1 198.9,337.0 199.5,336.9 200.0,336.9 200.6,336.8 201.2,336.7 201.8,336.6 202.4,336.5 202.9,336.4 203.5,336.3 204.1,336.0 204.7,335.7 205.2,335.1 205.8,334.7 206.4,334.8 207.0,335.3 207.5,335.7 208.1,335.9 208.7,336.1 209.3,336.2 209.9,336.2 210.4,336.3 211.0,336.3 211.6,336.3 212.2,336.3 212.7,336.4 213.3,336.4 213.9,336.4" fill="none" stroke="#3030e0" stroke-width="1.4" stroke-linejoin="round"/>
<polyline points="29.1,331.4 29.7,331.4 30.3,331.4 30.8,331.4 31.4,331.4 32.0,331.4 32.6,331.4 33.1,331.4 33.7,331.4 34.3,331.5 34.9,331.6 35.5,331.7 36.0,331.8 36.6,331.9 37.2,332.0 37.8,332.2 38.3,332.3 38.9,332.5 39.5,332.7 40.1,332.9 40.6,333.1 41.2,333.2 41.8,333.4 42.4,333.6 43.0,333.8 43.5,334.0 44.1,334.2 44.7,334.4 45.3,334.6 45.8,334.8 46.4,334.9 47.0,335.1 47.6,335.2 48.2,335.3 48.7,335.4 49.3,335.5 49.9,335.6 50.5,335.7 51.0,335.7 51.6,335.7 52.2,335.7 52.8,335.7 53.4,335.7 53.9,335.7 54.5,335.7 55.1,335.7 55.7,335.7 56.2,335.8 56.8,335.8 57.4,335.8 58.0,335.9 58.6,335.9 59.1,336.0 59.7,336.0 60.3,336.1 60.9,336.2 61.4,336.2 62.0,336.3 62.6,336.3 63.2,336.4 63.7,336.5 64.3,336.5 64.9,336.6 65.5,336.6 66.1,336.7 66.6,336.7 67.2,336.8 67.8,336.8 68.4,336.9 68.9,336.9 69.5,336.9 70.1,336.9 70.7,336.9 71.3,336.9 71.8,336.9 72.4,336.8 73.0,336.8 73.6,336.7 74.1,336.6 74.7,336.5 75.3,336.4 75.9,336.3 76.5,336.1 77.0,335.9 77.6,335.7 78.2,335.5 78.8,335.2 79.3,334.9 79.9,334.6 80.5,334.3 81.1,334.0 81.7,333.6 82.2,333.2 82.8,332.8 83.4,332.3 84.0,331.8 84.5,331.3 85.1,330.7 85.7,330.0 86.3,329.2 86.8,328.4 87.4,327.4 88.0,326.1 88.6,324.5 89.2,321.9 89.7,317.6 90.3,310.1 90.9,297.8 91.5,280.1 92.0,259.0 92.6,240.2 93.2,234.3 93.8,238.0 94.4,255.9 94.9,277.3 95.5,296.0 96.1,309.5 96.7,317.9 97.2,322.9 97.8,325.9 98.4,327.8 99.0,329.3 99.6,330.5 100.1,331.6 100.7,332.5 101.3,333.4 101.9,334.1 102.4,334.8 103.0,335.4 103.6,336.0 104.2,336.5 104.8,337.0 105.3,337.4 105.9,337.8 106.5,338.1 107.1,338.4 107.6,338.7 108.2,339.0 108.8,339.3 109.4,339.5 109.9,339.8 110.5,340.0 111.1,340.2 111.7,340.4 112.3,340.5 112.8,340.7 113.4,340.9 114.0,341.0 114.6,341.2 115.1,341.3 115.7,341.4 116.3,341.6 116.9,341.7 117.5,341.8 118.0,341.9 118.6,342.0 119.2,342.1 119.8,342.2 120.3,342.3 120.9,342.4 121.5,342.5 122.1,342.6 122.7,342.6 123.2,342.7 123.8,342.8 124.4,342.9 125.0,342.9 125.5,343.0 126.1,343.1 126.7,343.1 127.3,343.2 127.9,343.3 128.4,343.3 129.0,343.4 129.6,343.4 130.2,343.5 130.7,343.6 131.3,343.6 131.9,343.7 132.5,343.7 133.0,343.7 133.6,343.8 134.2,343.8 134.8,343.9 135.4,343.9 135.9,344.0 136.5,344.0 137.1,344.0 137.7,344.1 138.2,344.1 138.8,344.1 139.4,344.1 140.0,344.2 140.6,344.2 141.1,344.2 141.7,344.2 142.3,344.3 142.9,344.3 143.4,344.3 144.0,344.3 144.6,344.3 145.2,344.3 145.8,344.3 146.3,344.4 146.9,344.4 147.5,344.4 148.1,344.4 148.6,344.4 149.2,344.4 149.8,344.4 150.4,344.4 151.0,344.4 151.5,344.5 152.1,344.5 152.7,344.5 153.3,344.5 153.8,344.5 154.4,344.5 155.0,344.5 155.6,344.5 156.1,344.5 156.7,344.5 157.3,344.5 157.9,344.5 158.5,344.5 159.0,344.5 159.6,344.5 160.2,344.5 160.8,344.4 161.3,344.3 161.9,344.1 162.5,343.8 163.1,343.3 163.7,342.9 164.2,343.1 164.8,343.7 165.4,344.1 166.0,344.4 166.5,344.5 167.1,344.6 167.7,344.7 168.3,344.8 168.9,344.8 169.4,344.9 170.0,344.9 170.6,344.9 171.2,345.0 171.7,345.0 172.3,345.0 172.9,345.0 173.5,345.0 174.1,345.0 174.6,345.0 175.2,345.0 175.8,345.0 176.4,345.0 176.9,345.0 177.5,344.9 178.1,344.8 178.7,344.6 179.2,344.1 179.8,343.3 180.4,343.0 181.0,343.8 181.6,344.5 182.1,344.8 182.7,345.0 183.3,345.1 183.9,345.2 184.4,345.2 185.0,345.3 185.6,345.3 186.2,345.2 186.8,345.2 187.3,345.1 187.9,344.8 188.5,344.3 189.1,343.5 189.6,343.3 190.2,344.1 190.8,344.7 191.4,345.1 192.0,345.3 192.5,345.4 193.1,345.5 193.7,345.6 194.3,345.6 194.8,345.6 195.4,345.6 196.0,345.7 196.6,345.7 197.2,345.7 197.7,345.7 198.3,345.7 198.9,345.7 199.5,345.7 200.0,345.7 200.6,345.7 201.2,345.7 201.8,345.7 202.4,345.6 202.9,345.6 203.5,345.5 204.1,345.3 204.7,344.9 205.2,344.5 205.8,344.0 206.4,344.2 207.0,344.7 207.5,345.1 208.1,345.4 208.7,345.6 209.3,345.7 209.9,345.7 210.4,345.8 211.0,345.8 211.6,345.8 212.2,345.9 212.7,345.9 213.3,345.9 213.9,345.9" fill="none" stroke="#70a8f0" stroke-width="1.4" stroke-linejoin="round"/>
<polyline points="29.1,333.8 29.7,333.8 30.3,333.8 30.8,333.8 31.4,333.8 32.0,333.8 32.6,333.8 33.1,333.8 33.7,333.8 34.3,333.9 34.9,333.9 35.5,334.0 36.0,334.1 36.6,334.3 37.2,334.4 37.8,334.5 38.3,334.7 38.9,334.9 39.5,335.1 40.1,335.2 40.6,335.4 41.2,335.6 41.8,335.8 42.4,336.0 43.0,336.2 43.5,336.4 44.1,336.6 44.7,336.8 45.3,337.0 45.8,337.1 46.4,337.3 47.0,337.4 47.6,337.6 48.2,337.7 48.7,337.8 49.3,337.9 49.9,338.0 50.5,338.1 51.0,338.1 51.6,338.1 52.2,338.1 52.8,338.1 53.4,338.1 53.9,338.1 54.5,338.1 55.1,338.1 55.7,338.1 56.2,338.1 56.8,338.1 57.4,338.2 58.0,338.2 58.6,338.2 59.1,338.3 59.7,338.3 60.3,338.3 60.9,338.4 61.4,338.4 62.0,338.5 62.6,338.5 63.2,338.6 63.7,338.6 64.3,338.7 64.9,338.7 65.5,338.7 66.1,338.8 66.6,338.8 67.2,338.8 67.8,338.8 68.4,338.9 68.9,338.9 69.5,338.9 70.1,338.9 70.7,338.8 71.3,338.8 71.8,338.8 72.4,338.7 73.0,338.7 73.6,338.6 74.1,338.5 74.7,338.4 75.3,338.3 75.9,338.1 76.5,338.0 77.0,337.8 77.6,337.6 78.2,337.3 78.8,337.1 79.3,336.8 79.9,336.5 80.5,336.2 81.1,335.9 81.7,335.5 82.2,335.1 82.8,334.7 83.4,334.3 84.0,333.8 84.5,333.2 85.1,332.6 85.7,332.0 86.3,331.3 86.8,330.4 87.4,329.5 88.0,328.4 88.6,327.0 89.2,325.1 89.7,322.0 90.3,316.7 90.9,307.7 91.5,293.3 92.0,273.8 92.6,252.1 93.2,235.8 93.8,234.2 94.4,242.1 94.9,262.3 95.5,283.8 96.1,301.4 96.7,313.4 97.2,320.7 97.8,325.0 98.4,327.6 99.0,329.3 99.6,330.7 100.1,331.9 100.7,332.9 101.3,333.8 101.9,334.7 102.4,335.4 103.0,336.1 103.6,336.7 104.2,337.2 104.8,337.7 105.3,338.1 105.9,338.6 106.5,338.9 107.1,339.3 107.6,339.6 108.2,339.9 108.8,340.2 109.4,340.5 109.9,340.7 110.5,340.9 111.1,341.2 111.7,341.4 112.3,341.6 112.8,341.7 113.4,341.9 114.0,342.1 114.6,342.2 115.1,342.4 115.7,342.5 116.3,342.6 116.9,342.8 117.5,342.9 118.0,343.0 118.6,343.1 119.2,343.2 119.8,343.3 120.3,343.4 120.9,343.5 121.5,343.6 122.1,343.7 122.7,343.8 123.2,343.8 123.8,343.9 124.4,344.0 125.0,344.1 125.5,344.1 126.1,344.2 126.7,344.3 127.3,344.4 127.9,344.4 128.4,344.5 129.0,344.5 129.6,344.6 130.2,344.6 130.7,344.7 131.3,344.8 131.9,344.8 132.5,344.9 133.0,344.9 133.6,344.9 134.2,345.0 134.8,345.0 135.4,345.1 135.9,345.1 136.5,345.1 137.1,345.2 137.7,345.2 138.2,345.2 138.8,345.3 139.4,345.3 140.0,345.3 140.6,345.4 141.1,345.4 141.7,345.4 142.3,345.4 142.9,345.4 143.4,345.5 144.0,345.5 144.6,345.5 145.2,345.5 145.8,345.5 146.3,345.5 146.9,345.5 147.5,345.5 148.1,345.6 148.6,345.6 149.2,345.6 149.8,345.6 150.4,345.6 151.0,345.6 151.5,345.6 152.1,345.6 152.7,345.7 153.3,345.7 153.8,345.7 154.4,345.7 155.0,345.7 155.6,345.7 156.1,345.7 156.7,345.7 157.3,345.7 157.9,345.7 158.5,345.7 159.0,345.7 159.6,345.7 160.2,345.6 160.8,345.6 161.3,345.5 161.9,345.3 162.5,344.9 163.1,344.4 163.7,344.1 164.2,344.3 164.8,344.9 165.4,345.3 166.0,345.6 166.5,345.7 167.1,345.8 167.7,345.9 168.3,346.0 168.9,346.0 169.4,346.1 170.0,346.1 170.6,346.1 171.2,346.1 171.7,346.2 172.3,346.2 172.9,346.2 173.5,346.2 174.1,346.2 174.6,346.2 175.2,346.2 175.8,346.2 176.4,346.2 176.9,346.2 177.5,346.1 178.1,346.0 178.7,345.8 179.2,345.3 179.8,344.4 180.4,344.2 181.0,345.0 181.6,345.7 182.1,346.0 182.7,346.2 183.3,346.3 183.9,346.4 184.4,346.4 185.0,346.4 185.6,346.4 186.2,346.4 186.8,346.4 187.3,346.3 187.9,346.0 188.5,345.5 189.1,344.7 189.6,344.4 190.2,345.2 190.8,345.9 191.4,346.3 192.0,346.5 192.5,346.6 193.1,346.7 193.7,346.7 194.3,346.8 194.8,346.8 195.4,346.8 196.0,346.9 196.6,346.9 197.2,346.9 197.7,346.9 198.3,346.9 198.9,346.9 199.5,346.9 200.0,346.9 200.6,346.9 201.2,346.9 201.8,346.9 202.4,346.8 202.9,346.8 203.5,346.6 204.1,346.4 204.7,346.1 205.2,345.6 205.8,345.2 206.4,345.4 207.0,345.9 207.5,346.3 208.1,346.6 208.7,346.8 209.3,346.9 209.9,346.9 210.4,347.0 211.0,347.0 211.6,347.0 212.2,347.0 212.7,347.1 213.3,347.1 213.9,347.1" fill="none" stroke="#80e8f8" stroke-width="1.4" stroke-linejoin="round"/>
<polyline points="29.1,335.0 29.7,335.0 30.3,335.0 30.8,335.0 31.4,335.0 32.0,335.0 32.6,335.0 33.1,335.0 33.7,335.0 34.3,335.0 34.9,335.1 35.5,335.2 36.0,335.2 36.6,335.3 37.2,335.4 37.8,335.5 38.3,335.7 38.9,335.8 39.5,335.9 40.1,336.0 40.6,336.2 41.2,336.3 41.8,336.5 42.4,336.6 43.0,336.8 43.5,336.9 44.1,337.0 44.7,337.2 45.3,337.3 45.8,337.4 46.4,337.6 47.0,337.7 47.6,337.8 48.2,337.9 48.7,337.9 49.3,338.0 49.9,338.1 50.5,338.1 51.0,338.1 51.6,338.1 52.2,338.1 52.8,338.1 53.4,338.1 53.9,338.1 54.5,338.1 55.1,338.1 55.7,338.1 56.2,338.1 56.8,338.1 57.4,338.1 58.0,338.1 58.6,338.2 59.1,338.2 59.7,338.2 60.3,338.2 60.9,338.3 61.4,338.3 62.0,338.3 62.6,338.4 63.2,338.4 63.7,338.4 64.3,338.4 64.9,338.5 65.5,338.5 66.1,338.5 66.6,338.5 67.2,338.5 67.8,338.5 68.4,338.5 68.9,338.5 69.5,338.5 70.1,338.5 70.7,338.4 71.3,338.4 71.8,338.4 72.4,338.3 73.0,338.2 73.6,338.1 74.1,338.1 74.7,337.9 75.3,337.8 75.9,337.7 76.5,337.5 77.0,337.3 77.6,337.1 78.2,336.9 78.8,336.7 79.3,336.4 79.9,336.1 80.5,335.8 81.1,335.5 81.7,335.2 82.2,334.8 82.8,334.4 83.4,334.0 84.0,333.5 84.5,333.0 85.1,332.5 85.7,331.8 86.3,331.2 86.8,330.4 87.4,329.5 88.0,328.5 88.6,327.3 89.2,325.7 89.7,323.3 90.3,319.2 90.9,312.2 91.5,300.5 92.0,283.3 92.6,262.2 93.2,242.3 93.8,234.3 94.4,236.3 94.9,252.9 95.5,274.5 96.1,294.0 96.7,308.4 97.2,317.5 97.8,322.9 98.4,326.1 99.0,328.2 99.6,329.7 100.1,331.0 100.7,332.0 101.3,333.0 101.9,333.8 102.4,334.6 103.0,335.3 103.6,335.9 104.2,336.5 104.8,337.0 105.3,337.4 105.9,337.8 106.5,338.2 107.1,338.6 107.6,338.9 108.2,339.2 108.8,339.5 109.4,339.8 109.9,340.1 110.5,340.3 111.1,340.5 111.7,340.7 112.3,340.9 112.8,341.1 113.4,341.3 114.0,341.4 114.6,341.6 115.1,341.7 115.7,341.9 116.3,342.0 116.9,342.1 117.5,342.3 118.0,342.4 118.6,342.5 119.2,342.6 119.8,342.7 120.3,342.8 120.9,342.9 121.5,343.0 122.1,343.1 122.7,343.2 123.2,343.2 123.8,343.3 124.4,343.4 125.0,343.5 125.5,343.5 126.1,343.6 126.7,343.7 127.3,343.8 127.9,343.8 128.4,343.9 129.0,343.9 129.6,344.0 130.2,344.0 130.7,344.1 131.3,344.2 131.9,344.2 132.5,344.3 133.0,344.3 133.6,344.3 134.2,344.4 134.8,344.4 135.4,344.5 135.9,344.5 136.5,344.6 137.1,344.6 137.7,344.6 138.2,344.7 138.8,344.7 139.4,344.7 140.0,344.7 140.6,344.8 141.1,344.8 141.7,344.8 142.3,344.8 142.9,344.8 143.4,344.9 144.0,344.9 144.6,344.9 145.2,344.9 145.8,344.9 146.3,344.9 146.9,344.9 147.5,345.0 148.1,345.0 148.6,345.0 149.2,345.0 149.8,345.0 150.4,345.0 151.0,345.0 151.5,345.0 152.1,345.0 152.7,345.1 153.3,345.1 153.8,345.1 154.4,345.1 155.0,345.1 155.6,345.1 156.1,345.1 156.7,345.1 157.3,345.1 157.9,345.1 158.5,345.1 159.0,345.1 159.6,345.1 160.2,345.1 160.8,345.0 161.3,344.9 161.9,344.7 162.5,344.3 163.1,343.8 163.7,343.5 164.2,343.7 164.8,344.3 165.4,344.7 166.0,345.0 166.5,345.1 167.1,345.2 167.7,345.3 168.3,345.4 168.9,345.4 169.4,345.5 170.0,345.5 170.6,345.5 171.2,345.5 171.7,345.6 172.3,345.6 172.9,345.6 173.5,345.6 174.1,345.6 174.6,345.6 175.2,345.6 175.8,345.6 176.4,345.6 176.9,345.6 177.5,345.5 178.1,345.4 178.7,345.2 179.2,344.7 179.8,343.8 180.4,343.6 181.0,344.4 181.6,345.1 182.1,345.4 182.7,345.6 183.3,345.7 183.9,345.8 184.4,345.8 185.0,345.8 185.6,345.9 186.2,345.8 186.8,345.8 187.3,345.7 187.9,345.4 188.5,344.9 189.1,344.1 189.6,343.8 190.2,344.7 190.8,345.3 191.4,345.7 192.0,345.9 192.5,346.0 193.1,346.1 193.7,346.1 194.3,346.2 194.8,346.2 195.4,346.2 196.0,346.3 196.6,346.3 197.2,346.3 197.7,346.3 198.3,346.3 198.9,346.3 199.5,346.3 200.0,346.3 200.6,346.3 201.2,346.3 201.8,346.3 202.4,346.2 202.9,346.2 203.5,346.0 204.1,345.9 204.7,345.5 205.2,345.0 205.8,344.6 206.4,344.8 207.0,345.3 207.5,345.7 208.1,346.0 208.7,346.2 209.3,346.3 209.9,346.3 210.4,346.4 211.0,346.4 211.6,346.4 212.2,346.5 212.7,346.5 213.3,346.5 213.9,346.5" fill="none" stroke="#80f0e0" stroke-width="1.4" stroke-linejoin="round"/>
<polyline points="29.1,314.9 29.7,314.8 30.3,314.8 30.8,314.8 31.4,314.8 32.0,314.8 32.6,314.8 33.1,314.9 33.7,314.9 34.3,315.0 34.9,315.1 35.5,315.3 36.0,315.5 36.6,315.6 37.2,315.8 37.8,316.1 38.3,316.3 38.9,316.5 39.5,316.7 40.1,317.0 40.6,317.2 41.2,317.4 41.8,317.6 42.4,317.7 43.0,317.9 43.5,318.0 44.1,318.1 44.7,318.2 45.3,318.2 45.8,318.2 46.4,318.2 47.0,318.1 47.6,318.0 48.2,317.8 48.7,317.7 49.3,317.5 49.9,317.3 50.5,317.0 51.0,316.8 51.6,316.5 52.2,316.3 52.8,316.0 53.4,315.8 53.9,315.6 54.5,315.3 55.1,315.1 55.7,314.9 56.2,314.7 56.8,314.6 57.4,314.5 58.0,314.4 58.6,314.3 59.1,314.3 59.7,314.2 60.3,314.0 60.9,313.8 61.4,313.5 62.0,313.2 62.6,312.9 63.2,312.6 63.7,312.2 64.3,311.9 64.9,311.5 65.5,311.2 66.1,310.9 66.6,310.6 67.2,310.4 67.8,310.2 68.4,310.1 68.9,310.0 69.5,309.9 70.1,309.8 70.7,309.6 71.3,309.4 71.8,309.1 72.4,308.8 73.0,308.5 73.6,308.2 74.1,307.9 74.7,307.6 75.3,307.3 75.9,307.0 76.5,306.7 77.0,306.4 77.6,306.2 78.2,306.0 78.8,305.8 79.3,305.5 79.9,305.1 80.5,304.7 81.1,304.2 81.7,303.6 82.2,302.9 82.8,302.2 83.4,301.4 84.0,300.7 84.5,299.8 85.1,299.0 85.7,298.2 86.3,297.3 86.8,296.5 87.4,295.6 88.0,294.7 88.6,293.8 89.2,293.0 89.7,292.2 90.3,290.9 90.9,288.2 91.5,283.3 92.0,275.1 92.6,263.6 93.2,250.2 93.8,238.6 94.4,235.1 94.9,239.7 95.5,253.8 96.1,270.8 96.7,286.5 97.2,298.6 97.8,306.7 98.4,311.6 99.0,314.6 99.6,316.9 100.1,319.0 100.7,321.0 101.3,322.9 101.9,324.9 102.4,326.7 103.0,328.4 103.6,329.8 104.2,331.0 104.8,331.7 105.3,332.2 105.9,332.5 106.5,332.8 107.1,333.2 107.6,333.5 108.2,333.7 108.8,334.0 109.4,334.3 109.9,334.5 110.5,334.7 111.1,334.9 111.7,335.2 112.3,335.4 112.8,335.6 113.4,335.8 114.0,336.0 114.6,336.1 115.1,336.3 115.7,336.5 116.3,336.7 116.9,336.9 117.5,337.0 118.0,337.2 118.6,337.4 119.2,337.5 119.8,337.7 120.3,337.8 120.9,338.0 121.5,338.1 122.1,338.3 122.7,338.4 123.2,338.6 123.8,338.7 124.4,338.9 125.0,339.0 125.5,339.2 126.1,339.3 126.7,339.4 127.3,339.6 127.9,339.7 128.4,339.8 129.0,340.0 129.6,340.1 130.2,340.2 130.7,340.3 131.3,340.5 131.9,340.6 132.5,340.7 133.0,340.8 133.6,340.9 134.2,341.0 134.8,341.1 135.4,341.2 135.9,341.3 136.5,341.4 137.1,341.4 137.7,341.5 138.2,341.6 138.8,341.7 139.4,341.7 140.0,341.8 140.6,341.8 141.1,341.9 141.7,341.9 142.3,341.9 142.9,342.0 143.4,342.0 144.0,342.0 144.6,342.0 145.2,342.0 145.8,342.1 146.3,342.1 146.9,342.1 147.5,342.1 148.1,342.1 148.6,342.1 149.2,342.1 149.8,342.2 150.4,342.2 151.0,342.2 151.5,342.2 152.1,342.2 152.7,342.3 153.3,342.3 153.8,342.3 154.4,342.3 155.0,342.4 155.6,342.4 156.1,342.4 156.7,342.4 157.3,342.4 157.9,342.5 158.5,342.5 159.0,342.5 159.6,342.5 160.2,342.4 160.8,342.4 161.3,342.2 161.9,342.0 162.5,341.6 163.1,341.0 163.7,340.6 164.2,340.9 164.8,341.6 165.4,342.2 166.0,342.5 166.5,342.7 167.1,342.9 167.7,343.0 168.3,343.1 168.9,343.2 169.4,343.3 170.0,343.3 170.6,343.4 171.2,343.4 171.7,343.5 172.3,343.5 172.9,343.6 173.5,343.6 174.1,343.7 174.6,343.7 175.2,343.7 175.8,343.8 176.4,343.8 176.9,343.8 177.5,343.7 178.1,343.6 178.7,343.3 179.2,342.7 179.8,341.7 180.4,341.4 181.0,342.4 181.6,343.3 182.1,343.8 182.7,344.0 183.3,344.2 183.9,344.3 184.4,344.4 185.0,344.4 185.6,344.5 186.2,344.5 186.8,344.4 187.3,344.3 187.9,344.0 188.5,343.4 189.1,342.4 189.6,342.1 190.2,343.2 190.8,344.0 191.4,344.5 192.0,344.8 192.5,344.9 193.1,345.1 193.7,345.2 194.3,345.2 194.8,345.3 195.4,345.3 196.0,345.4 196.6,345.4 197.2,345.4 197.7,345.5 198.3,345.5 198.9,345.5 199.5,345.5 200.0,345.6 200.6,345.6 201.2,345.6 201.8,345.5 202.4,345.5 202.9,345.4 203.5,345.3 204.1,345.1 204.7,344.7 205.2,344.1 205.8,343.5 206.4,343.7 207.0,344.4 207.5,344.9 208.1,345.3 208.7,345.5 209.3,345.6 209.9,345.7 210.4,345.8 211.0,345.8 211.6,345.8 212.2,345.9 212.7,345.9 213.3,345.9 213.9,345.9" fill="none" stroke="#40e020" stroke-width="1.4" stroke-linejoin="round"/>
<polyline points="29.1,320.8 29.7,320.8 30.3,320.8 30.8,320.8 31.4,320.8 32.0,320.8 32.6,320.8 33.1,320.8 33.7,320.9 34.3,321.0 34.9,321.1 35.5,321.2 36.0,321.4 36.6,321.6 37.2,321.8 37.8,322.0 38.3,322.2 38.9,322.5 39.5,322.7 40.1,322.9 40.6,323.1 41.2,323.3 41.8,323.5 42.4,323.7 43.0,323.8 43.5,324.0 44.1,324.1 44.7,324.1 45.3,324.2 45.8,324.2 46.4,324.1 47.0,324.0 47.6,323.9 48.2,323.8 48.7,323.6 49.3,323.4 49.9,323.2 50.5,323.0 51.0,322.7 51.6,322.5 52.2,322.2 52.8,322.0 53.4,321.7 53.9,321.5 54.5,321.3 55.1,321.1 55.7,320.9 56.2,320.7 56.8,320.5 57.4,320.4 58.0,320.3 58.6,320.2 59.1,320.2 59.7,320.0 60.3,319.8 60.9,319.5 61.4,319.1 62.0,318.6 62.6,318.1 63.2,317.5 63.7,317.0 64.3,316.4 64.9,315.9 65.5,315.4 66.1,314.9 66.6,314.5 67.2,314.1 67.8,313.8 68.4,313.7 68.9,313.6 69.5,313.7 70.1,313.9 70.7,314.2 71.3,314.5 71.8,314.9 72.4,315.3 73.0,315.6 73.6,315.9 74.1,316.1 74.7,316.2 75.3,316.2 75.9,316.0 76.5,315.7 77.0,315.3 77.6,314.8 78.2,314.3 78.8,313.6 79.3,313.0 79.9,312.2 80.5,311.5 81.1,310.7 81.7,310.0 82.2,309.2 82.8,308.5 83.4,307.9 84.0,307.2 84.5,306.6 85.1,306.1 85.7,305.7 86.3,305.5 86.8,305.4 87.4,305.5 88.0,305.6 88.6,305.7 89.2,305.8 89.7,305.7 90.3,305.0 90.9,303.2 91.5,299.4 92.0,292.5 92.6,281.9 93.2,268.2 93.8,253.7 94.4,243.2 94.9,241.9 95.5,251.1 96.1,266.6 96.7,283.0 97.2,296.9 97.8,307.0 98.4,313.5 99.0,317.5 99.6,320.2 100.1,322.4 100.7,324.3 101.3,326.0 101.9,327.7 102.4,329.3 103.0,330.7 103.6,332.0 104.2,333.0 104.8,333.7 105.3,334.2 105.9,334.5 106.5,334.9 107.1,335.2 107.6,335.5 108.2,335.8 108.8,336.1 109.4,336.4 109.9,336.6 110.5,336.8 111.1,337.1 111.7,337.3 112.3,337.5 112.8,337.7 113.4,337.9 114.0,338.0 114.6,338.2 115.1,338.4 115.7,338.6 116.3,338.7 116.9,338.9 117.5,339.0 118.0,339.2 118.6,339.3 119.2,339.5 119.8,339.6 120.3,339.7 120.9,339.9 121.5,340.0 122.1,340.1 122.7,340.3 123.2,340.4 123.8,340.5 124.4,340.6 125.0,340.8 125.5,340.9 126.1,341.0 126.7,341.1 127.3,341.2 127.9,341.3 128.4,341.4 129.0,341.5 129.6,341.6 130.2,341.7 130.7,341.8 131.3,341.9 131.9,342.0 132.5,342.1 133.0,342.2 133.6,342.3 134.2,342.4 134.8,342.4 135.4,342.5 135.9,342.6 136.5,342.6 137.1,342.7 137.7,342.8 138.2,342.8 138.8,342.9 139.4,342.9 140.0,343.0 140.6,343.0 141.1,343.1 141.7,343.1 142.3,343.1 142.9,343.2 143.4,343.2 144.0,343.2 144.6,343.2 145.2,343.2 145.8,343.2 146.3,343.2 146.9,343.2 147.5,343.3 148.1,343.3 148.6,343.3 149.2,343.3 149.8,343.3 150.4,343.3 151.0,343.3 151.5,343.4 152.1,343.4 152.7,343.4 153.3,343.4 153.8,343.4 154.4,343.4 155.0,343.5 155.6,343.5 156.1,343.5 156.7,343.5 157.3,343.5 157.9,343.5 158.5,343.5 159.0,343.5 159.6,343.5 160.2,343.4 160.8,343.4 161.3,343.2 161.9,343.0 162.5,342.6 163.1,342.0 163.7,341.5 164.2,341.8 164.8,342.5 165.4,343.1 166.0,343.4 166.5,343.6 167.1,343.8 167.7,343.9 168.3,343.9 168.9,344.0 169.4,344.1 170.0,344.1 170.6,344.2 171.2,344.2 171.7,344.2 172.3,344.3 172.9,344.3 173.5,344.3 174.1,344.4 174.6,344.4 175.2,344.4 175.8,344.4 176.4,344.4 176.9,344.4 177.5,344.3 178.1,344.2 178.7,343.9 179.2,343.3 179.8,342.2 180.4,341.9 181.0,342.9 181.6,343.8 182.1,344.2 182.7,344.5 183.3,344.6 183.9,344.7 184.4,344.8 185.0,344.8 185.6,344.8 186.2,344.8 186.8,344.8 187.3,344.6 187.9,344.4 188.5,343.7 189.1,342.7 189.6,342.4 190.2,343.4 190.8,344.3 191.4,344.8 192.0,345.0 192.5,345.2 193.1,345.3 193.7,345.3 194.3,345.4 194.8,345.4 195.4,345.5 196.0,345.5 196.6,345.5 197.2,345.6 197.7,345.6 198.3,345.6 198.9,345.6 199.5,345.6 200.0,345.6 200.6,345.6 201.2,345.6 201.8,345.6 202.4,345.5 202.9,345.5 203.5,345.3 204.1,345.1 204.7,344.7 205.2,344.1 205.8,343.6 206.4,343.7 207.0,344.4 207.5,344.9 208.1,345.3 208.7,345.5 209.3,345.6 209.9,345.7 210.4,345.8 211.0,345.8 211.6,345.8 212.2,345.9 212.7,345.9 213.3,345.9 213.9,345.9" fill="none" stroke="#90f060" stroke-width="1.4" stroke-linejoin="round"/>
<polyline points="29.1,296.1 29.7,296.1 30.3,296.1 30.8,296.1 31.4,296.1 32.0,296.1 32.6,296.1 33.1,296.2 33.7,296.5 34.3,296.9 34.9,297.4 35.5,297.9 36.0,298.6 36.6,299.3 37.2,300.0 37.8,300.7 38.3,301.5 38.9,302.1 39.5,302.8 40.1,303.3 40.6,303.8 41.2,304.1 41.8,304.3 42.4,304.4 43.0,304.5 43.5,304.6 44.1,304.8 44.7,305.1 45.3,305.4 45.8,305.7 46.4,306.0 47.0,306.3 47.6,306.5 48.2,306.7 48.7,306.8 49.3,306.7 49.9,306.5 50.5,306.1 51.0,305.6 51.6,305.0 52.2,304.4 52.8,303.8 53.4,303.2 53.9,302.7 54.5,302.3 55.1,302.1 55.7,302.0 56.2,301.5 56.8,300.4 57.4,298.9 58.0,297.1 58.6,295.1 59.1,293.1 59.7,291.1 60.3,289.4 60.9,287.9 61.4,287.0 62.0,286.5 62.6,286.4 63.2,285.8 63.7,284.9 64.3,283.8 64.9,282.4 65.5,280.9 66.1,279.4 66.6,277.8 67.2,276.3 67.8,275.0 68.4,273.8 68.9,272.9 69.5,272.4 70.1,272.2 70.7,272.3 71.3,272.5 71.8,272.9 72.4,273.3 73.0,273.7 73.6,274.2 74.1,274.6 74.7,275.0 75.3,275.4 75.9,275.6 76.5,275.7 77.0,275.9 77.6,276.4 78.2,277.2 78.8,278.4 79.3,279.7 79.9,281.0 80.5,282.4 81.1,283.7 81.7,284.8 82.2,285.7 82.8,286.2 83.4,286.3 84.0,286.9 84.5,287.9 85.1,289.4 85.7,291.0 86.3,292.7 86.8,294.3 87.4,295.5 88.0,296.3 88.6,296.5 89.2,296.3 89.7,296.1 90.3,295.8 90.9,295.4 91.5,294.9 92.0,294.1 92.6,293.1 93.2,291.8 93.8,290.1 94.4,288.4 94.9,288.8 95.5,291.6 96.1,295.1 96.7,298.1 97.2,300.2 97.8,301.6 98.4,302.4 99.0,303.3 99.6,304.9 100.1,307.0 100.7,309.6 101.3,312.4 101.9,315.3 102.4,318.1 103.0,320.7 103.6,322.9 104.2,324.5 104.8,325.4 105.3,325.5 105.9,325.6 106.5,325.8 107.1,325.9 107.6,326.1 108.2,326.4 108.8,326.6 109.4,326.9 109.9,327.2 110.5,327.5 111.1,327.8 111.7,328.1 112.3,328.4 112.8,328.8 113.4,329.1 114.0,329.3 114.6,329.6 115.1,329.9 115.7,330.1 116.3,330.2 116.9,330.4 117.5,330.5 118.0,330.5 118.6,330.5 119.2,330.5 119.8,330.5 120.3,330.6 120.9,330.6 121.5,330.6 122.1,330.6 122.7,330.6 123.2,330.7 123.8,330.7 124.4,330.7 125.0,330.7 125.5,330.8 126.1,330.8 126.7,330.8 127.3,330.9 127.9,330.9 128.4,330.9 129.0,331.0 129.6,331.0 130.2,331.1 130.7,331.1 131.3,331.1 131.9,331.2 132.5,331.2 133.0,331.3 133.6,331.3 134.2,331.3 134.8,331.4 135.4,331.4 135.9,331.4 136.5,331.5 137.1,331.5 137.7,331.5 138.2,331.6 138.8,331.6 139.4,331.6 140.0,331.7 140.6,331.7 141.1,331.7 141.7,331.7 142.3,331.7 142.9,331.7 143.4,331.7 144.0,331.7 144.6,331.7 145.2,331.7 145.8,331.8 146.3,331.8 146.9,331.8 147.5,331.8 148.1,331.8 148.6,331.8 149.2,331.8 149.8,331.9 150.4,331.9 151.0,331.9 151.5,331.9 152.1,332.0 152.7,332.0 153.3,332.0 153.8,332.1 154.4,332.1 155.0,332.1 155.6,332.2 156.1,332.2 156.7,332.3 157.3,332.3 157.9,332.3 158.5,332.4 159.0,332.4 159.6,332.4 160.2,332.4 160.8,332.4 161.3,332.3 161.9,332.2 162.5,332.0 163.1,331.7 163.7,331.4 164.2,331.6 164.8,332.1 165.4,332.4 166.0,332.7 166.5,332.8 167.1,332.9 167.7,333.0 168.3,333.1 168.9,333.1 169.4,333.2 170.0,333.2 170.6,333.3 171.2,333.3 171.7,333.3 172.3,333.4 172.9,333.4 173.5,333.4 174.1,333.4 174.6,333.4 175.2,333.4 175.8,333.4 176.4,333.4 176.9,333.4 177.5,333.3 178.1,333.2 178.7,333.0 179.2,332.6 179.8,332.0 180.4,331.8 181.0,332.4 181.6,332.9 182.1,333.2 182.7,333.4 183.3,333.5 183.9,333.5 184.4,333.6 185.0,333.6 185.6,333.6 186.2,333.6 186.8,333.6 187.3,333.6 187.9,333.4 188.5,333.1 189.1,332.5 189.6,332.3 190.2,333.0 190.8,333.5 191.4,333.8 192.0,334.0 192.5,334.1 193.1,334.2 193.7,334.3 194.3,334.4 194.8,334.4 195.4,334.5 196.0,334.5 196.6,334.6 197.2,334.6 197.7,334.7 198.3,334.7 198.9,334.7 199.5,334.8 200.0,334.8 200.6,334.8 201.2,334.9 201.8,334.9 202.4,334.9 202.9,334.9 203.5,334.8 204.1,334.7 204.7,334.5 205.2,334.1 205.8,333.8 206.4,333.9 207.0,334.4 207.5,334.7 208.1,334.9 208.7,335.0 209.3,335.1 209.9,335.2 210.4,335.2 211.0,335.2 211.6,335.3 212.2,335.3 212.7,335.3 213.3,335.3 213.9,335.3" fill="none" stroke="#e8e840" stroke-width="1.4" stroke-linejoin="round"/>
<polyline points="29.1,304.4 29.7,304.4 30.3,304.4 30.8,304.4 31.4,304.4 32.0,304.4 32.6,304.4 33.1,304.6 33.7,304.9 34.3,305.3 34.9,305.9 35.5,306.6 36.0,307.3 36.6,308.1 37.2,308.9 37.8,309.8 38.3,310.6 38.9,311.3 39.5,312.1 40.1,312.7 40.6,313.2 41.2,313.6 41.8,313.8 42.4,313.9 43.0,314.0 43.5,314.1 44.1,314.4 44.7,314.6 45.3,314.9 45.8,315.2 46.4,315.5 47.0,315.8 47.6,316.0 48.2,316.2 48.7,316.3 49.3,316.2 49.9,316.0 50.5,315.6 51.0,315.1 51.6,314.5 52.2,313.9 52.8,313.3 53.4,312.7 53.9,312.2 54.5,311.8 55.1,311.6 55.7,311.5 56.2,311.1 56.8,310.2 57.4,308.9 58.0,307.4 58.6,305.7 59.1,304.0 59.7,302.4 60.3,300.9 60.9,299.7 61.4,298.8 62.0,298.4 62.6,298.2 63.2,297.2 63.7,295.7 64.3,293.7 64.9,291.5 65.5,289.2 66.1,286.9 66.6,284.7 67.2,282.9 67.8,281.5 68.4,280.7 68.9,280.5 69.5,280.0 70.1,279.0 70.7,277.8 71.3,276.4 71.8,275.2 72.4,274.2 73.0,273.6 73.6,273.5 74.1,274.1 74.7,275.1 75.3,276.5 75.9,278.0 76.5,279.5 77.0,280.9 77.6,282.1 78.2,282.8 78.8,283.0 79.3,283.5 79.9,284.6 80.5,286.1 81.1,287.8 81.7,289.8 82.2,291.8 82.8,293.8 83.4,295.5 84.0,297.0 84.5,298.0 85.1,298.4 85.7,298.6 86.3,299.2 86.8,300.2 87.4,301.5 88.0,303.0 88.6,304.5 89.2,306.0 89.7,307.4 90.3,308.6 90.9,309.4 91.5,309.8 92.0,309.8 92.6,310.0 93.2,310.4 93.8,310.9 94.4,311.2 94.9,311.8 95.5,313.5 96.1,315.8 96.7,317.8 97.2,319.2 97.8,320.1 98.4,320.6 99.0,320.8 99.6,321.4 100.1,322.0 100.7,322.9 101.3,323.8 101.9,324.8 102.4,325.7 103.0,326.6 103.6,327.3 104.2,327.8 104.8,328.1 105.3,328.1 105.9,328.2 106.5,328.3 107.1,328.4 107.6,328.5 108.2,328.7 108.8,328.9 109.4,329.1 109.9,329.3 110.5,329.5 111.1,329.8 111.7,330.0 112.3,330.2 112.8,330.5 113.4,330.7 114.0,330.9 114.6,331.1 115.1,331.3 115.7,331.4 116.3,331.6 116.9,331.7 117.5,331.7 118.0,331.8 118.6,331.8 119.2,331.8 119.8,331.8 120.3,331.8 120.9,331.8 121.5,331.9 122.1,331.9 122.7,331.9 123.2,332.0 123.8,332.0 124.4,332.1 125.0,332.1 125.5,332.2 126.1,332.3 126.7,332.3 127.3,332.4 127.9,332.5 128.4,332.6 129.0,332.6 129.6,332.7 130.2,332.8 130.7,332.9 131.3,332.9 131.9,333.0 132.5,333.1 133.0,333.2 133.6,333.2 134.2,333.3 134.8,333.4 135.4,333.5 135.9,333.5 136.5,333.6 137.1,333.7 137.7,333.7 138.2,333.8 138.8,333.8 139.4,333.9 140.0,333.9 140.6,334.0 141.1,334.0 141.7,334.1 142.3,334.1 142.9,334.1 143.4,334.1 144.0,334.1 144.6,334.1 145.2,334.1 145.8,334.1 146.3,334.2 146.9,334.2 147.5,334.2 148.1,334.2 148.6,334.2 149.2,334.2 149.8,334.3 150.4,334.3 151.0,334.3 151.5,334.3 152.1,334.4 152.7,334.4 153.3,334.4 153.8,334.5 154.4,334.5 155.0,334.5 155.6,334.6 156.1,334.6 156.7,334.6 157.3,334.7 157.9,334.7 158.5,334.7 159.0,334.8 159.6,334.8 160.2,334.8 160.8,334.8 161.3,334.7 161.9,334.6 162.5,334.4 163.1,334.0 163.7,333.8 164.2,334.0 164.8,334.5 165.4,334.8 166.0,335.0 166.5,335.2 167.1,335.3 167.7,335.4 168.3,335.5 168.9,335.5 169.4,335.6 170.0,335.6 170.6,335.6 171.2,335.7 171.7,335.7 172.3,335.7 172.9,335.8 173.5,335.8 174.1,335.8 174.6,335.8 175.2,335.8 175.8,335.8 176.4,335.8 176.9,335.8 177.5,335.7 178.1,335.6 178.7,335.4 179.2,335.0 179.8,334.4 180.4,334.2 181.0,334.8 181.6,335.3 182.1,335.6 182.7,335.8 183.3,335.8 183.9,335.9 184.4,336.0 185.0,336.0 185.6,336.0 186.2,336.0 186.8,336.0 187.3,335.9 187.9,335.8 188.5,335.5 189.1,334.9 189.6,334.7 190.2,335.3 190.8,335.9 191.4,336.2 192.0,336.4 192.5,336.5 193.1,336.6 193.7,336.7 194.3,336.7 194.8,336.8 195.4,336.9 196.0,336.9 196.6,337.0 197.2,337.0 197.7,337.0 198.3,337.1 198.9,337.1 199.5,337.2 200.0,337.2 200.6,337.2 201.2,337.2 201.8,337.3 202.4,337.3 202.9,337.2 203.5,337.2 204.1,337.1 204.7,336.8 205.2,336.5 205.8,336.2 206.4,336.3 207.0,336.7 207.5,337.1 208.1,337.3 208.7,337.4 209.3,337.5 209.9,337.6 210.4,337.6 211.0,337.6 211.6,337.6 212.2,337.7 212.7,337.7 213.3,337.7 213.9,337.7" fill="none" stroke="#f0a040" stroke-width="1.4" stroke-linejoin="round"/>
<polyline points="29.1,325.9 29.7,325.8 30.3,325.8 30.8,325.8 31.4,325.7 32.0,325.7 32.6,325.6 33.1,325.6 33.7,325.6 34.3,325.5 34.9,325.5 35.5,325.5 36.0,325.5 36.6,325.4 37.2,325.4 37.8,325.4 38.3,325.4 38.9,325.3 39.5,325.3 40.1,325.3 40.6,325.2 41.2,325.2 41.8,325.1 42.4,325.1 43.0,325.0 43.5,325.0 44.1,324.9 44.7,324.8 45.3,324.7 45.8,324.6 46.4,324.5 47.0,324.4 47.6,324.3 48.2,324.1 48.7,323.9 49.3,323.7 49.9,323.5 50.5,323.3 51.0,323.0 51.6,322.7 52.2,322.4 52.8,322.0 53.4,321.6 53.9,321.2 54.5,320.8 55.1,320.3 55.7,319.8 56.2,319.2 56.8,318.6 57.4,317.9 58.0,317.2 58.6,316.3 59.1,315.4 59.7,314.2 60.3,312.9 60.9,311.1 61.4,308.7 62.0,305.1 62.6,300.0 63.2,292.5 63.7,282.5 64.3,269.9 64.9,255.7 65.5,241.8 66.1,234.1 66.6,233.4 67.2,233.7 67.8,238.3 68.4,251.8 68.9,266.3 69.5,279.5 70.1,290.4 70.7,298.6 71.3,304.4 71.8,308.5 72.4,311.2 73.0,313.2 73.6,314.7 74.1,315.9 74.7,317.0 75.3,317.9 75.9,318.7 76.5,319.5 77.0,320.1 77.6,320.7 78.2,321.3 78.8,321.8 79.3,322.3 79.9,322.8 80.5,323.2 81.1,323.7 81.7,324.1 82.2,324.5 82.8,324.9 83.4,325.3 84.0,325.7 84.5,326.1 85.1,326.4 85.7,326.8 86.3,327.1 86.8,327.4 87.4,327.7 88.0,328.0 88.6,328.2 89.2,328.4 89.7,328.6 90.3,328.7 90.9,328.8 91.5,328.7 92.0,328.6 92.6,328.3 93.2,327.8 93.8,327.0 94.4,326.5 94.9,327.1 95.5,328.3 96.1,329.3 96.7,330.0 97.2,330.5 97.8,331.0 98.4,331.4 99.0,331.8 99.6,332.1 100.1,332.4 100.7,332.8 101.3,333.1 101.9,333.4 102.4,333.7 103.0,334.0 103.6,334.3 104.2,334.6 104.8,334.9 105.3,335.2 105.9,335.4 106.5,335.7 107.1,335.9 107.6,336.1 108.2,336.3 108.8,336.4 109.4,336.6 109.9,336.7 110.5,336.8 111.1,336.8 111.7,336.9 112.3,336.9 112.8,336.9 113.4,336.9 114.0,337.0 114.6,337.0 115.1,337.0 115.7,337.0 116.3,337.1 116.9,337.1 117.5,337.1 118.0,337.1 118.6,337.2 119.2,337.2 119.8,337.2 120.3,337.3 120.9,337.3 121.5,337.3 122.1,337.3 122.7,337.4 123.2,337.4 123.8,337.4 124.4,337.4 125.0,337.4 125.5,337.4 126.1,337.4 126.7,337.3 127.3,337.2 127.9,337.0 128.4,336.7 129.0,336.2 129.6,335.3 130.2,334.0 130.7,333.3 131.3,334.1 131.9,335.4 132.5,336.4 133.0,337.0 133.6,337.4 134.2,337.7 134.8,337.8 135.4,338.0 135.9,338.1 136.5,338.1 137.1,338.2 137.7,338.3 138.2,338.3 138.8,338.4 139.4,338.4 140.0,338.4 140.6,338.5 141.1,338.5 141.7,338.5 142.3,338.5 142.9,338.5 143.4,338.6 144.0,338.6 144.6,338.6 145.2,338.6 145.8,338.6 146.3,338.6 146.9,338.6 147.5,338.6 148.1,338.6 148.6,338.6 149.2,338.6 149.8,338.6 150.4,338.6 151.0,338.7 151.5,338.7 152.1,338.7 152.7,338.7 153.3,338.7 153.8,338.7 154.4,338.7 155.0,338.7 155.6,338.7 156.1,338.7 156.7,338.7 157.3,338.7 157.9,338.7 158.5,338.7 159.0,338.7 159.6,338.7 160.2,338.6 160.8,338.6 161.3,338.4 161.9,338.2 162.5,337.9 163.1,337.4 163.7,337.1 164.2,337.3 164.8,337.8 165.4,338.2 166.0,338.5 166.5,338.7 167.1,338.8 167.7,338.9 168.3,338.9 168.9,339.0 169.4,339.0 170.0,339.0 170.6,339.1 171.2,339.1 171.7,339.1 172.3,339.1 172.9,339.1 173.5,339.1 174.1,339.2 174.6,339.2 175.2,339.2 175.8,339.2 176.4,339.1 176.9,339.1 177.5,339.0 178.1,338.9 178.7,338.7 179.2,338.2 179.8,337.4 180.4,337.1 181.0,337.9 181.6,338.6 182.1,338.9 182.7,339.1 183.3,339.2 183.9,339.3 184.4,339.3 185.0,339.4 185.6,339.4 186.2,339.3 186.8,339.3 187.3,339.2 187.9,338.9 188.5,338.4 189.1,337.6 189.6,337.3 190.2,338.2 190.8,338.8 191.4,339.2 192.0,339.4 192.5,339.5 193.1,339.6 193.7,339.6 194.3,339.7 194.8,339.7 195.4,339.7 196.0,339.7 196.6,339.8 197.2,339.8 197.7,339.8 198.3,339.8 198.9,339.8 199.5,339.8 200.0,339.8 200.6,339.8 201.2,339.8 201.8,339.8 202.4,339.7 202.9,339.6 203.5,339.5 204.1,339.3 204.7,339.0 205.2,338.5 205.8,338.1 206.4,338.2 207.0,338.8 207.5,339.2 208.1,339.5 208.7,339.6 209.3,339.7 209.9,339.8 210.4,339.9 211.0,339.9 211.6,339.9 212.2,339.9 212.7,339.9 213.3,340.0 213.9,340.0" fill="none" stroke="#f06a20" stroke-width="1.4" stroke-linejoin="round"/>
<polyline points="29.1,322.4 29.7,322.4 30.3,322.3 30.8,322.3 31.4,322.3 32.0,322.2 32.6,322.2 33.1,322.2 33.7,322.1 34.3,322.1 34.9,322.1 35.5,322.1 36.0,322.1 36.6,322.1 37.2,322.2 37.8,322.2 38.3,322.2 38.9,322.2 39.5,322.2 40.1,322.2 40.6,322.2 41.2,322.2 41.8,322.2 42.4,322.2 43.0,322.1 43.5,322.1 44.1,322.0 44.7,321.9 45.3,321.8 45.8,321.7 46.4,321.5 47.0,321.4 47.6,321.3 48.2,321.1 48.7,321.0 49.3,320.9 49.9,320.7 50.5,320.5 51.0,320.4 51.6,320.2 52.2,320.0 52.8,319.8 53.4,319.5 53.9,319.3 54.5,319.0 55.1,318.7 55.7,318.3 56.2,317.9 56.8,317.5 57.4,317.0 58.0,316.5 58.6,315.9 59.1,315.2 59.7,314.5 60.3,313.6 60.9,312.5 61.4,311.2 62.0,309.4 62.6,306.9 63.2,303.1 63.7,297.6 64.3,289.7 64.9,279.3 65.5,266.5 66.1,252.5 66.6,239.5 67.2,234.0 67.8,233.6 68.4,234.6 68.9,243.4 69.5,257.2 70.1,271.2 70.7,283.6 71.3,293.6 71.8,300.9 72.4,306.1 73.0,309.7 73.6,312.1 74.1,313.9 74.7,315.4 75.3,316.5 75.9,317.5 76.5,318.4 77.0,319.2 77.6,319.9 78.2,320.6 78.8,321.1 79.3,321.7 79.9,322.2 80.5,322.6 81.1,323.1 81.7,323.5 82.2,323.9 82.8,324.3 83.4,324.7 84.0,325.0 84.5,325.4 85.1,325.7 85.7,326.0 86.3,326.2 86.8,326.5 87.4,326.8 88.0,327.0 88.6,327.2 89.2,327.4 89.7,327.6 90.3,327.7 90.9,327.9 91.5,328.0 92.0,328.1 92.6,328.2 93.2,328.4 93.8,328.6 94.4,328.8 94.9,329.0 95.5,329.2 96.1,329.4 96.7,329.7 97.2,329.9 97.8,330.2 98.4,330.5 99.0,330.8 99.6,331.1 100.1,331.4 100.7,331.7 101.3,332.0 101.9,332.3 102.4,332.6 103.0,332.9 103.6,333.2 104.2,333.5 104.8,333.7 105.3,334.0 105.9,334.2 106.5,334.5 107.1,334.7 107.6,334.9 108.2,335.1 108.8,335.2 109.4,335.4 109.9,335.5 110.5,335.6 111.1,335.6 111.7,335.7 112.3,335.7 112.8,335.7 113.4,335.7 114.0,335.8 114.6,335.8 115.1,335.8 115.7,335.8 116.3,335.8 116.9,335.9 117.5,335.9 118.0,335.9 118.6,335.9 119.2,335.9 119.8,335.9 120.3,336.0 120.9,336.0 121.5,336.0 122.1,336.0 122.7,336.0 123.2,336.0 123.8,336.0 124.4,336.0 125.0,336.0 125.5,335.9 126.1,335.8 126.7,335.7 127.3,335.6 127.9,335.3 128.4,334.9 129.0,334.2 129.6,333.1 130.2,331.5 130.7,330.5 131.3,331.5 131.9,333.2 132.5,334.4 133.0,335.1 133.6,335.6 134.2,335.9 134.8,336.1 135.4,336.2 135.9,336.3 136.5,336.4 137.1,336.5 137.7,336.5 138.2,336.6 138.8,336.6 139.4,336.6 140.0,336.7 140.6,336.7 141.1,336.7 141.7,336.7 142.3,336.7 142.9,336.7 143.4,336.8 144.0,336.8 144.6,336.8 145.2,336.8 145.8,336.8 146.3,336.8 146.9,336.8 147.5,336.8 148.1,336.8 148.6,336.8 149.2,336.8 149.8,336.9 150.4,336.9 151.0,336.9 151.5,336.9 152.1,336.9 152.7,336.9 153.3,336.9 153.8,336.9 154.4,336.9 155.0,336.9 155.6,337.0 156.1,337.0 156.7,337.0 157.3,337.0 157.9,337.0 158.5,337.0 159.0,336.9 159.6,336.9 160.2,336.9 160.8,336.8 161.3,336.6 161.9,336.4 162.5,336.0 163.1,335.4 163.7,334.9 164.2,335.2 164.8,335.9 165.4,336.4 166.0,336.7 166.5,337.0 167.1,337.1 167.7,337.2 168.3,337.3 168.9,337.3 169.4,337.4 170.0,337.4 170.6,337.4 171.2,337.5 171.7,337.5 172.3,337.5 172.9,337.6 173.5,337.6 174.1,337.6 174.6,337.6 175.2,337.6 175.8,337.6 176.4,337.6 176.9,337.6 177.5,337.5 178.1,337.3 178.7,337.0 179.2,336.4 179.8,335.4 180.4,335.0 181.0,336.1 181.6,336.9 182.1,337.4 182.7,337.6 183.3,337.7 183.9,337.8 184.4,337.9 185.0,337.9 185.6,337.9 186.2,337.9 186.8,337.8 187.3,337.7 187.9,337.4 188.5,336.8 189.1,335.8 189.6,335.4 190.2,336.4 190.8,337.3 191.4,337.7 192.0,338.0 192.5,338.1 193.1,338.2 193.7,338.3 194.3,338.4 194.8,338.4 195.4,338.4 196.0,338.5 196.6,338.5 197.2,338.5 197.7,338.5 198.3,338.5 198.9,338.5 199.5,338.5 200.0,338.5 200.6,338.5 201.2,338.5 201.8,338.5 202.4,338.4 202.9,338.4 203.5,338.2 204.1,338.0 204.7,337.6 205.2,337.0 205.8,336.4 206.4,336.6 207.0,337.3 207.5,337.8 208.1,338.1 208.7,338.4 209.3,338.5 209.9,338.6 210.4,338.6 211.0,338.7 211.6,338.7 212.2,338.7 212.7,338.7 213.3,338.7 213.9,338.8" fill="none" stroke="#f03030" stroke-width="1.4" stroke-linejoin="round"/>
</g>
<rect x="32.4" y="208.8" width="178.0" height="143.2" fill="none" stroke="#1a1a1a" stroke-width="1.4"/>
<line x1="78.60" y1="352.00" x2="78.60" y2="355.00" stroke="#222" stroke-width="1.0"/>
<line x1="78.60" y1="208.80" x2="78.60" y2="205.80" stroke="#222" stroke-width="1.0"/>
<line x1="144.60" y1="352.00" x2="144.60" y2="355.00" stroke="#222" stroke-width="1.0"/>
<line x1="144.60" y1="208.80" x2="144.60" y2="205.80" stroke="#222" stroke-width="1.0"/>
<line x1="210.60" y1="352.00" x2="210.60" y2="355.00" stroke="#222" stroke-width="1.0"/>
<line x1="210.60" y1="208.80" x2="210.60" y2="205.80" stroke="#222" stroke-width="1.0"/>
<line x1="45.60" y1="352.00" x2="45.60" y2="354.00" stroke="#222" stroke-width="1.0"/>
<line x1="45.60" y1="208.80" x2="45.60" y2="206.80" stroke="#222" stroke-width="1.0"/>
<line x1="111.60" y1="352.00" x2="111.60" y2="354.00" stroke="#222" stroke-width="1.0"/>
<line x1="111.60" y1="208.80" x2="111.60" y2="206.80" stroke="#222" stroke-width="1.0"/>
<line x1="177.60" y1="352.00" x2="177.60" y2="354.00" stroke="#222" stroke-width="1.0"/>
<line x1="177.60" y1="208.80" x2="177.60" y2="206.80" stroke="#222" stroke-width="1.0"/>
<line x1="29.40" y1="352.00" x2="32.40" y2="352.00" stroke="#222" stroke-width="1.0"/>
<line x1="210.40" y1="352.00" x2="213.40" y2="352.00" stroke="#222" stroke-width="1.0"/>
<text x="27.50" y="355.40" font-size="9.5" fill="#222" text-anchor="end" font-weight="normal">0</text>
<line x1="29.40" y1="328.20" x2="32.40" y2="328.20" stroke="#222" stroke-width="1.0"/>
<line x1="210.40" y1="328.20" x2="213.40" y2="328.20" stroke="#222" stroke-width="1.0"/>
<text x="27.50" y="331.60" font-size="9.5" fill="#222" text-anchor="end" font-weight="normal">20</text>
<line x1="29.40" y1="304.40" x2="32.40" y2="304.40" stroke="#222" stroke-width="1.0"/>
<line x1="210.40" y1="304.40" x2="213.40" y2="304.40" stroke="#222" stroke-width="1.0"/>
<text x="27.50" y="307.80" font-size="9.5" fill="#222" text-anchor="end" font-weight="normal">40</text>
<line x1="29.40" y1="280.60" x2="32.40" y2="280.60" stroke="#222" stroke-width="1.0"/>
<line x1="210.40" y1="280.60" x2="213.40" y2="280.60" stroke="#222" stroke-width="1.0"/>
<text x="27.50" y="284.00" font-size="9.5" fill="#222" text-anchor="end" font-weight="normal">60</text>
<line x1="29.40" y1="256.80" x2="32.40" y2="256.80" stroke="#222" stroke-width="1.0"/>
<line x1="210.40" y1="256.80" x2="213.40" y2="256.80" stroke="#222" stroke-width="1.0"/>
<text x="27.50" y="260.20" font-size="9.5" fill="#222" text-anchor="end" font-weight="normal">80</text>
<line x1="29.40" y1="233.00" x2="32.40" y2="233.00" stroke="#222" stroke-width="1.0"/>
<line x1="210.40" y1="233.00" x2="213.40" y2="233.00" stroke="#222" stroke-width="1.0"/>
<text x="27.50" y="236.40" font-size="9.5" fill="#222" text-anchor="end" font-weight="normal">100</text>
<line x1="29.40" y1="209.20" x2="32.40" y2="209.20" stroke="#222" stroke-width="1.0"/>
<line x1="210.40" y1="209.20" x2="213.40" y2="209.20" stroke="#222" stroke-width="1.0"/>
<text x="27.50" y="212.60" font-size="9.5" fill="#222" text-anchor="end" font-weight="normal">120</text>
<line x1="30.40" y1="340.10" x2="32.40" y2="340.10" stroke="#222" stroke-width="1.0"/>
<line x1="210.40" y1="340.10" x2="212.40" y2="340.10" stroke="#222" stroke-width="1.0"/>
<line x1="30.40" y1="316.30" x2="32.40" y2="316.30" stroke="#222" stroke-width="1.0"/>
<line x1="210.40" y1="316.30" x2="212.40" y2="316.30" stroke="#222" stroke-width="1.0"/>
<line x1="30.40" y1="292.50" x2="32.40" y2="292.50" stroke="#222" stroke-width="1.0"/>
<line x1="210.40" y1="292.50" x2="212.40" y2="292.50" stroke="#222" stroke-width="1.0"/>
<line x1="30.40" y1="268.70" x2="32.40" y2="268.70" stroke="#222" stroke-width="1.0"/>
<line x1="210.40" y1="268.70" x2="212.40" y2="268.70" stroke="#222" stroke-width="1.0"/>
<line x1="30.40" y1="244.90" x2="32.40" y2="244.90" stroke="#222" stroke-width="1.0"/>
<line x1="210.40" y1="244.90" x2="212.40" y2="244.90" stroke="#222" stroke-width="1.0"/>
<line x1="30.40" y1="221.10" x2="32.40" y2="221.10" stroke="#222" stroke-width="1.0"/>
<line x1="210.40" y1="221.10" x2="212.40" y2="221.10" stroke="#222" stroke-width="1.0"/>
<text x="78.60" y="363.60" font-size="9.5" fill="#222" text-anchor="middle" font-weight="normal">2</text>
<text x="144.60" y="363.60" font-size="9.5" fill="#222" text-anchor="middle" font-weight="normal">3</text>
<text x="210.60" y="363.60" font-size="9.5" fill="#222" text-anchor="middle" font-weight="normal">4</text>
<text x="10.30" y="279.00" font-size="9.5" fill="#222" text-anchor="middle" font-weight="normal" transform="rotate(-90 10.3 279)">Intensity (rel.u.)</text>
<text x="95.3" y="379.6" font-size="9.5" fill="#222">2<tspan font-family="Liberation Serif">θ</tspan> (degrees)</text>
<text x="144.40" y="220.50" font-size="9.5" fill="#111" text-anchor="start" font-weight="bold">V10_5 sample</text>
<text x="35.20" y="349.60" font-size="15.5" fill="#111" text-anchor="start" font-weight="bold">d)</text>
<text x="65.10" y="218.60" font-size="7.5" fill="#3344dd" text-anchor="start" font-weight="normal">d= 14.67-14.75 A</text>
<text x="45.70" y="229.70" font-size="7.5" fill="#f03030" text-anchor="start" font-weight="normal">d= 18.20 A</text>
<text x="110.50" y="229.70" font-size="7.5" fill="#b040f0" text-anchor="start" font-weight="normal">d= 12.146 A</text>
<text x="49.00" y="251.00" font-size="7.5" fill="#f03030" text-anchor="middle" font-weight="normal">2 DMSO</text>
<text x="51.00" y="261.00" font-size="7.5" fill="#f03030" text-anchor="middle" font-weight="normal">layers</text>
<text x="111.20" y="244.70" font-size="7.5" fill="#3344dd" text-anchor="middle" font-weight="normal">1 DMSO</text>
<text x="110.80" y="254.10" font-size="7.5" fill="#3344dd" text-anchor="middle" font-weight="normal">layer</text>
<text x="118.30" y="321.60" font-size="7.5" fill="#b050f0" text-anchor="start" font-weight="normal">dry</text>
<defs><marker id="ah" markerWidth="6" markerHeight="6" refX="5" refY="3" orient="auto" markerUnits="userSpaceOnUse"><path d="M0,0 L6,3 L0,6 z" fill="#111"/></marker></defs>
<line x1="52.00" y1="263.50" x2="59.30" y2="280.30" stroke="#111" stroke-width="0.8" marker-end="url(#ah)"/>
<line x1="112.60" y1="259.00" x2="100.00" y2="276.50" stroke="#111" stroke-width="0.8" marker-end="url(#ah)"/>
<rect x="140.3" y="233.4" width="64.5" height="99.3" fill="#fff" stroke="#aaa" stroke-width="0.7"/>
<line x1="142.00" y1="238.00" x2="154.40" y2="238.00" stroke="#b050f8" stroke-width="1.9"/>
<text x="155.80" y="240.00" font-size="5.4" fill="#222" text-anchor="start" font-weight="normal">dry sample</text>
<line x1="142.00" y1="245.58" x2="154.40" y2="245.58" stroke="#5030f0" stroke-width="1.9"/>
<text x="155.8" y="247.58" font-size="5.4" fill="#222">DMSO:H<tspan font-size="3.5" dy="1.2">2</tspan><tspan dy="-1.2">O-5:95%</tspan></text>
<line x1="142.00" y1="253.16" x2="154.40" y2="253.16" stroke="#3040e0" stroke-width="1.9"/>
<text x="155.8" y="255.16" font-size="5.4" fill="#222">DMSO:H<tspan font-size="3.5" dy="1.2">2</tspan><tspan dy="-1.2">O-10:90%</tspan></text>
<line x1="142.00" y1="260.74" x2="154.40" y2="260.74" stroke="#70a0f0" stroke-width="1.9"/>
<text x="155.8" y="262.74" font-size="5.4" fill="#222">DMSO:H<tspan font-size="3.5" dy="1.2">2</tspan><tspan dy="-1.2">O-20:80%</tspan></text>
<line x1="142.00" y1="268.32" x2="154.40" y2="268.32" stroke="#80e8f8" stroke-width="1.9"/>
<text x="155.8" y="270.32" font-size="5.4" fill="#222">DMSO:H<tspan font-size="3.5" dy="1.2">2</tspan><tspan dy="-1.2">O-30:70%</tspan></text>
<line x1="142.00" y1="275.90" x2="154.40" y2="275.90" stroke="#80f0e0" stroke-width="1.9"/>
<text x="155.8" y="277.90" font-size="5.4" fill="#222">DMSO:H<tspan font-size="3.5" dy="1.2">2</tspan><tspan dy="-1.2">O-40:60%</tspan></text>
<line x1="142.00" y1="283.48" x2="154.40" y2="283.48" stroke="#40e020" stroke-width="1.9"/>
<text x="155.8" y="285.48" font-size="5.4" fill="#222">DMSO:H<tspan font-size="3.5" dy="1.2">2</tspan><tspan dy="-1.2">O-50:50%</tspan></text>
<line x1="142.00" y1="291.06" x2="154.40" y2="291.06" stroke="#90f060" stroke-width="1.9"/>
<text x="155.8" y="293.06" font-size="5.4" fill="#222">DMSO:H<tspan font-size="3.5" dy="1.2">2</tspan><tspan dy="-1.2">O-60:40%</tspan></text>
<line x1="142.00" y1="298.64" x2="154.40" y2="298.64" stroke="#f0f050" stroke-width="1.9"/>
<text x="155.8" y="300.64" font-size="5.4" fill="#222">DMSO:H<tspan font-size="3.5" dy="1.2">2</tspan><tspan dy="-1.2">O-70:30%</tspan></text>
<line x1="142.00" y1="306.22" x2="154.40" y2="306.22" stroke="#f0a040" stroke-width="1.9"/>
<text x="155.8" y="308.22" font-size="5.4" fill="#222">DMSO:H<tspan font-size="3.5" dy="1.2">2</tspan><tspan dy="-1.2">O-75:25%</tspan></text>
<line x1="142.00" y1="313.80" x2="154.40" y2="313.80" stroke="#f04020" stroke-width="1.9"/>
<text x="155.8" y="315.80" font-size="5.4" fill="#222">DMSO:H<tspan font-size="3.5" dy="1.2">2</tspan><tspan dy="-1.2">O-80:20%</tspan></text>
<line x1="142.00" y1="321.38" x2="154.40" y2="321.38" stroke="#f03030" stroke-width="1.9"/>
<text x="155.8" y="323.38" font-size="5.4" fill="#222">DMSO:H<tspan font-size="3.5" dy="1.2">2</tspan><tspan dy="-1.2">O-90:10%</tspan></text>
<text x="155.8" y="330.96" font-size="5.4" fill="#222">DMSO:H<tspan font-size="3.5" dy="1.2">2</tspan><tspan dy="-1.2">O-100:0%</tspan></text>
<clipPath id="clipC"><rect x="504.0" y="14.3" width="174.70000000000005" height="140.6"/></clipPath>
<g clip-path="url(#clipC)">
<polyline points="504.6,45.7 507.3,43.8 511.0,40.2 513.7,42.0 517.4,40.2 521.0,28.3 523.8,20.1 527.4,17.0 531.1,23.7 534.8,30.1 537.5,27.4 541.2,20.1 544.8,21.9 549.4,25.5 554.0,31.9 556.7,27.9 560.4,29.2 564.0,31.9 568.6,33.8 572.3,35.6 576.8,28.3 580.5,23.7 584.1,27.4" fill="none" stroke="#40e0d8" stroke-width="1.05" stroke-linejoin="round"/>
<polyline points="504.0,57.6 506.4,52.1 510.1,57.6 513.7,64.9 518.3,64.0 523.8,62.1 527.4,66.7 531.1,71.3 534.8,64.9 539.3,59.4 542.1,58.5 544.8,68.5 546.6,44.8 551.2,40.2 554.9,33.8 557.6,30.1 560.4,32.9 564.0,26.5 567.7,24.6 571.3,31.9 574.6,39.3 577.7,30.1 581.4,29.2 585.1,30.1 587.8,32.9 590.0,33.4 588.7,32.8 592.3,32.8 596.0,30.1 599.6,28.3 604.2,24.6 606.0,28.3 608.7,39.2 611.5,43.8 615.1,39.2 618.8,35.6 621.5,32.8 624.3,37.4 628.8,39.2 632.5,37.4 636.2,39.2 638.9,42.0 641.6,33.4 644.4,39.2 648.0,41.1 651.7,37.4 655.3,36.5 658.1,41.1 661.7,35.6 665.4,40.1 668.7,44.3" fill="none" stroke="#505050" stroke-width="1.05" stroke-linejoin="round"/>
<polyline points="504.0,60.3 506.4,58.5 509.1,63.0 512.8,69.4 516.5,65.8 520.1,68.5 523.8,69.4 527.4,59.4 531.1,49.3 534.8,41.1 538.4,42.0 542.1,51.2 544.8,43.8 547.6,51.2 551.2,51.7 554.9,48.4 558.5,51.2 562.2,57.6 565.8,62.1 568.6,65.8 571.7,65.4" fill="none" stroke="#3cb050" stroke-width="1.05" stroke-linejoin="round"/>
<polyline points="504.0,73.1 505.5,77.7 509.1,78.6 512.8,68.5 514.6,73.1 518.3,68.5 521.9,73.1 525.6,74.0 529.3,72.2 532.9,74.0 536.6,68.5 540.2,67.6 544.8,69.4 548.5,66.7 552.1,62.1 554.9,68.5 557.6,59.4 560.4,45.7 562.2,39.6 565.8,39.3 569.5,39.3 572.3,45.7 575.0,46.6 577.7,45.7 581.4,42.9 583.2,46.6 586.0,53.5 588.7,48.4 586.8,53.5 589.6,49.3 593.2,36.5 596.3,59.3 599.6,46.5 603.3,35.6 606.9,42.9 610.6,43.4 614.2,40.1 618.8,39.2 621.5,37.4 625.2,34.7 627.9,38.3 630.7,43.8 634.3,45.6 637.1,44.7 638.9,51.1 640.7,60.8 643.1,53.8 644.7,51.1" fill="none" stroke="#3a70f0" stroke-width="1.05" stroke-linejoin="round"/>
<polyline points="504.0,67.6 507.3,66.3 511.0,68.5 514.6,70.4 518.3,67.6 521.9,65.4 525.6,64.9 529.3,65.4 532.0,64.5 534.8,61.8 537.5,64.9 541.2,66.7 544.8,68.5 547.6,68.5 550.3,67.6 554.0,69.4 557.6,68.5 562.2,70.4 565.8,71.3 568.6,69.4 572.3,70.4 575.0,66.7 576.8,59.4 578.7,52.1 580.5,45.7 583.2,42.0 586.0,40.2 588.7,38.4 585.0,42.0 588.7,38.3 593.2,41.1 596.9,38.3 602.4,33.7 606.9,31.0 612.4,30.1 616.1,40.1 620.6,42.0 624.3,37.4 628.8,28.3 632.5,31.0 636.2,32.8 639.8,36.5 643.5,35.6 646.2,40.1 648.0,46.5 649.3,60.2 651.7,55.7 655.3,49.3 659.0,46.2 661.7,48.4 664.5,55.7 666.8,63.3 669.9,62.4" fill="none" stroke="#c8a028" stroke-width="1.05" stroke-linejoin="round"/>
<polyline points="504.0,106.1 507.3,100.6 511.0,97.9 514.6,96.6 518.3,97.3 521.9,98.4 524.7,99.7 527.4,106.1 530.2,101.5 533.8,93.3 537.5,88.7 541.2,87.4 544.8,88.7 548.5,89.3 551.2,91.5 554.5,95.5 557.6,89.6 561.3,85.6 564.9,87.4 568.6,89.3 571.7,90.0 573.5,86.9 575.0,80.5 575.0,80.1 578.7,59.4 581.4,46.6 584.1,42.9 585.0,42.9 586.0,47.5 587.8,52.1 588.7,52.0 591.8,54.8 594.1,43.8 597.8,46.5 601.4,49.3 605.1,48.4 608.7,49.3 612.4,49.3 615.1,44.7 618.8,42.9 621.5,46.5 625.2,65.7 628.8,55.7 632.5,48.4 636.2,49.8 638.9,53.5 641.6,46.5 644.9,38.9 647.1,52.0 648.9,64.4" fill="none" stroke="#ee3030" stroke-width="1.05" stroke-linejoin="round"/>
<polyline points="504.0,92.4 507.3,97.9 510.1,102.1 513.7,103.9 517.4,101.2 521.0,100.6 524.7,102.8 527.4,101.5 531.1,108.3 533.8,100.6 537.5,108.3 541.2,110.1 544.8,107.9 548.5,83.2 552.1,85.1 555.8,86.9 559.4,90.0 562.2,88.2 565.8,86.3 569.5,86.9 573.2,87.4 575.0,89.3 577.7,91.1 580.5,90.0 582.3,96.9 585.1,95.5 587.4,96.9 590.0,99.7 585.0,95.1 588.7,98.7 592.3,100.6 596.0,95.5 599.6,97.8 603.3,98.4 606.9,94.7 609.7,96.6 612.4,102.4 615.1,109.7 617.0,113.0 619.7,111.5 623.7,102.0" fill="none" stroke="#6a3a36" stroke-width="1.05" stroke-linejoin="round"/>
<polyline points="504.0,137.2 507.3,139.4 511.0,139.9 514.6,137.2 517.9,133.9 521.9,138.1 527.4,142.3 532.0,139.9 535.7,137.2 539.3,138.1 544.8,124.4 548.5,130.8 552.1,139.0 555.4,136.3 558.5,107.9 562.2,102.1 564.9,108.3 567.7,104.8 572.3,109.4 575.9,105.2 579.6,103.4 583.2,106.1 586.0,102.1 589.6,105.2 585.0,102.0 588.7,105.1 592.3,107.5 596.0,108.8 599.6,109.7 603.3,107.0 606.6,103.3 609.7,103.3 612.4,100.9 615.1,102.0 617.9,104.2 621.5,106.1 624.3,104.2 626.7,105.1" fill="none" stroke="#a868ee" stroke-width="1.05" stroke-linejoin="round"/>
</g>
<path d="M504.0,14.3 H678.7 V154.9 H504.0 Z" fill="none" stroke="#222" stroke-width="1.3"/>
<line x1="501.00" y1="154.93" x2="504.00" y2="154.93" stroke="#222" stroke-width="1"/>
<line x1="678.70" y1="154.93" x2="681.70" y2="154.93" stroke="#222" stroke-width="1"/>
<text x="499.00" y="157.33" font-size="8.3" fill="#222" text-anchor="end" font-weight="normal">79</text>
<line x1="501.00" y1="134.84" x2="504.00" y2="134.84" stroke="#222" stroke-width="1"/>
<line x1="678.70" y1="134.84" x2="681.70" y2="134.84" stroke="#222" stroke-width="1"/>
<text x="499.00" y="137.24" font-size="8.3" fill="#222" text-anchor="end" font-weight="normal">80</text>
<line x1="501.00" y1="114.75" x2="504.00" y2="114.75" stroke="#222" stroke-width="1"/>
<line x1="678.70" y1="114.75" x2="681.70" y2="114.75" stroke="#222" stroke-width="1"/>
<text x="499.00" y="117.15" font-size="8.3" fill="#222" text-anchor="end" font-weight="normal">81</text>
<line x1="501.00" y1="94.66" x2="504.00" y2="94.66" stroke="#222" stroke-width="1"/>
<line x1="678.70" y1="94.66" x2="681.70" y2="94.66" stroke="#222" stroke-width="1"/>
<text x="499.00" y="97.06" font-size="8.3" fill="#222" text-anchor="end" font-weight="normal">82</text>
<line x1="501.00" y1="74.57" x2="504.00" y2="74.57" stroke="#222" stroke-width="1"/>
<line x1="678.70" y1="74.57" x2="681.70" y2="74.57" stroke="#222" stroke-width="1"/>
<text x="499.00" y="76.97" font-size="8.3" fill="#222" text-anchor="end" font-weight="normal">83</text>
<line x1="501.00" y1="54.48" x2="504.00" y2="54.48" stroke="#222" stroke-width="1"/>
<line x1="678.70" y1="54.48" x2="681.70" y2="54.48" stroke="#222" stroke-width="1"/>
<text x="499.00" y="56.88" font-size="8.3" fill="#222" text-anchor="end" font-weight="normal">84</text>
<line x1="501.00" y1="34.39" x2="504.00" y2="34.39" stroke="#222" stroke-width="1"/>
<line x1="678.70" y1="34.39" x2="681.70" y2="34.39" stroke="#222" stroke-width="1"/>
<text x="499.00" y="36.79" font-size="8.3" fill="#222" text-anchor="end" font-weight="normal">85</text>
<line x1="501.00" y1="14.30" x2="504.00" y2="14.30" stroke="#222" stroke-width="1"/>
<line x1="678.70" y1="14.30" x2="681.70" y2="14.30" stroke="#222" stroke-width="1"/>
<text x="499.00" y="16.70" font-size="8.3" fill="#222" text-anchor="end" font-weight="normal">86</text>
<line x1="502.20" y1="144.89" x2="504.00" y2="144.89" stroke="#222" stroke-width="1"/>
<line x1="678.70" y1="144.89" x2="680.50" y2="144.89" stroke="#222" stroke-width="1"/>
<line x1="502.20" y1="124.80" x2="504.00" y2="124.80" stroke="#222" stroke-width="1"/>
<line x1="678.70" y1="124.80" x2="680.50" y2="124.80" stroke="#222" stroke-width="1"/>
<line x1="502.20" y1="104.70" x2="504.00" y2="104.70" stroke="#222" stroke-width="1"/>
<line x1="678.70" y1="104.70" x2="680.50" y2="104.70" stroke="#222" stroke-width="1"/>
<line x1="502.20" y1="84.61" x2="504.00" y2="84.61" stroke="#222" stroke-width="1"/>
<line x1="678.70" y1="84.61" x2="680.50" y2="84.61" stroke="#222" stroke-width="1"/>
<line x1="502.20" y1="64.53" x2="504.00" y2="64.53" stroke="#222" stroke-width="1"/>
<line x1="678.70" y1="64.53" x2="680.50" y2="64.53" stroke="#222" stroke-width="1"/>
<line x1="502.20" y1="44.44" x2="504.00" y2="44.44" stroke="#222" stroke-width="1"/>
<line x1="678.70" y1="44.44" x2="680.50" y2="44.44" stroke="#222" stroke-width="1"/>
<line x1="502.20" y1="24.34" x2="504.00" y2="24.34" stroke="#222" stroke-width="1"/>
<line x1="678.70" y1="24.34" x2="680.50" y2="24.34" stroke="#222" stroke-width="1"/>
<line x1="504.00" y1="154.90" x2="504.00" y2="157.90" stroke="#222" stroke-width="1"/>
<line x1="504.00" y1="14.30" x2="504.00" y2="11.30" stroke="#222" stroke-width="1"/>
<line x1="525.84" y1="154.90" x2="525.84" y2="156.70" stroke="#222" stroke-width="1"/>
<line x1="525.84" y1="14.30" x2="525.84" y2="12.50" stroke="#222" stroke-width="1"/>
<line x1="547.67" y1="154.90" x2="547.67" y2="157.90" stroke="#222" stroke-width="1"/>
<line x1="547.67" y1="14.30" x2="547.67" y2="11.30" stroke="#222" stroke-width="1"/>
<line x1="569.51" y1="154.90" x2="569.51" y2="156.70" stroke="#222" stroke-width="1"/>
<line x1="569.51" y1="14.30" x2="569.51" y2="12.50" stroke="#222" stroke-width="1"/>
<line x1="591.35" y1="154.90" x2="591.35" y2="157.90" stroke="#222" stroke-width="1"/>
<line x1="591.35" y1="14.30" x2="591.35" y2="11.30" stroke="#222" stroke-width="1"/>
<line x1="613.19" y1="154.90" x2="613.19" y2="156.70" stroke="#222" stroke-width="1"/>
<line x1="613.19" y1="14.30" x2="613.19" y2="12.50" stroke="#222" stroke-width="1"/>
<line x1="635.02" y1="154.90" x2="635.02" y2="157.90" stroke="#222" stroke-width="1"/>
<line x1="635.02" y1="14.30" x2="635.02" y2="11.30" stroke="#222" stroke-width="1"/>
<line x1="656.86" y1="154.90" x2="656.86" y2="156.70" stroke="#222" stroke-width="1"/>
<line x1="656.86" y1="14.30" x2="656.86" y2="12.50" stroke="#222" stroke-width="1"/>
<line x1="678.70" y1="154.90" x2="678.70" y2="157.90" stroke="#222" stroke-width="1"/>
<line x1="678.70" y1="14.30" x2="678.70" y2="11.30" stroke="#222" stroke-width="1"/>
<text x="504.00" y="166.30" font-size="8.3" fill="#222" text-anchor="middle" font-weight="normal">0.0</text>
<text x="547.67" y="166.30" font-size="8.3" fill="#222" text-anchor="middle" font-weight="normal">0.5</text>
<text x="591.35" y="166.30" font-size="8.3" fill="#222" text-anchor="middle" font-weight="normal">1.0</text>
<text x="635.02" y="166.30" font-size="8.3" fill="#222" text-anchor="middle" font-weight="normal">1.5</text>
<text x="678.70" y="166.30" font-size="8.3" fill="#222" text-anchor="middle" font-weight="normal">2.0</text>
<text x="486.50" y="84.20" font-size="7.5" fill="#222" text-anchor="middle" font-weight="normal" transform="rotate(-90 486.5 84.2)">height (nm)</text>
<text x="591.40" y="179.70" font-size="7.3" fill="#222" text-anchor="middle" font-weight="normal">length (µm)</text>
<text x="508.40" y="149.20" font-size="15.5" fill="#111" text-anchor="start" font-weight="bold">c)</text>
<text x="564.50" y="144.00" font-size="8.4" fill="#222" text-anchor="start" font-weight="normal">1.2 nm step</text>
<rect x="626.7" y="71.2" width="46.9" height="71.8" fill="#fff" stroke="#bbb" stroke-width="0.7"/>
<line x1="627.40" y1="76.60" x2="644.40" y2="76.60" stroke="#505050" stroke-width="1.2"/>
<text x="646.60" y="79.20" font-size="7.3" fill="#222" text-anchor="start" font-weight="normal">profile 1</text>
<line x1="627.40" y1="85.60" x2="644.40" y2="85.60" stroke="#ee3030" stroke-width="1.2"/>
<text x="646.60" y="88.20" font-size="7.3" fill="#222" text-anchor="start" font-weight="normal">profile 2</text>
<line x1="627.40" y1="94.60" x2="644.40" y2="94.60" stroke="#3a70f0" stroke-width="1.2"/>
<text x="646.60" y="97.20" font-size="7.3" fill="#222" text-anchor="start" font-weight="normal">profile 3</text>
<line x1="627.40" y1="103.60" x2="644.40" y2="103.60" stroke="#3cb050" stroke-width="1.2"/>
<text x="646.60" y="106.20" font-size="7.3" fill="#222" text-anchor="start" font-weight="normal">profile 4</text>
<line x1="627.40" y1="112.60" x2="644.40" y2="112.60" stroke="#a868ee" stroke-width="1.2"/>
<text x="646.60" y="115.20" font-size="7.3" fill="#222" text-anchor="start" font-weight="normal">profile 5</text>
<line x1="627.40" y1="121.60" x2="644.40" y2="121.60" stroke="#c8a028" stroke-width="1.2"/>
<text x="646.60" y="124.20" font-size="7.3" fill="#222" text-anchor="start" font-weight="normal">profile 6</text>
<line x1="627.40" y1="130.60" x2="644.40" y2="130.60" stroke="#40e0d8" stroke-width="1.2"/>
<text x="646.60" y="133.20" font-size="7.3" fill="#222" text-anchor="start" font-weight="normal">profile 7</text>
<line x1="627.40" y1="139.60" x2="644.40" y2="139.60" stroke="#6a3a36" stroke-width="1.2"/>
<text x="646.60" y="142.20" font-size="7.3" fill="#222" text-anchor="start" font-weight="normal">profile 8</text>
<clipPath id="clipF"><rect x="503.6" y="208.2" width="175.39999999999998" height="141.8"/></clipPath>
<g clip-path="url(#clipF)">
<polyline points="504.6,281.0 505.2,283.4 505.8,286.4 506.4,288.3 507.3,287.9 508.2,285.5 509.1,284.6 510.1,283.9 511.0,282.5 511.9,281.0 512.8,280.4 513.7,278.4 514.6,278.2 515.8,278.3 517.1,279.9 518.3,281.0 519.2,284.4 520.1,286.7 521.0,290.1 521.9,290.7 522.9,291.0 523.8,291.9 525.0,290.2 526.2,287.8 527.4,284.6 528.0,285.7 528.7,288.0 529.3,288.3 530.2,290.5 531.1,295.0 532.0,297.4 532.9,297.8 533.8,296.2 534.8,296.5 535.7,297.8 536.6,298.5 537.5,299.3 539.3,282.8 541.2,227.4 542.1,227.6 543.0,225.6 543.9,225.5 544.8,226.5 545.7,228.1 546.6,228.3 547.5,229.7 548.5,230.4 549.4,231.9 550.3,230.0 551.2,230.3 552.1,228.3 553.0,228.5 554.0,229.8 554.9,229.2 555.8,228.0 556.7,228.5 557.6,227.4 558.5,226.7 559.5,225.7 560.4,223.7 561.3,224.1 562.2,225.9 563.1,227.4 563.7,224.8 564.3,224.2 564.9,221.9 565.5,223.7 566.2,227.0 566.8,228.3 567.4,230.2 568.0,233.1 568.6,234.7" fill="none" stroke="#505050" stroke-width="1.1" stroke-linejoin="round"/>
<polyline points="503.7,266.7 504.6,265.0 505.5,264.3 506.4,263.0 507.3,271.8 507.9,270.1 508.5,270.2 509.1,268.5 509.7,270.0 510.4,272.7 511.0,274.6 511.6,274.9 512.2,273.4 512.8,273.1 513.4,274.7 514.0,275.1 514.6,275.5 515.2,275.7 515.9,276.0 516.5,275.8 517.1,276.8 517.7,277.2 518.3,278.2 519.2,274.0 521.0,286.5 521.9,291.3 522.9,294.3 523.8,298.4 524.7,297.1 525.6,294.7 526.5,291.9 527.4,289.9 528.4,289.1 529.3,288.3 530.2,290.7 531.1,293.8 532.0,295.6 532.9,295.6 533.8,297.0 534.8,297.4 535.4,296.9 536.0,297.3 536.6,296.5 537.2,298.8 537.8,300.1 538.4,301.1 539.3,281.0 541.2,225.5 541.8,224.4 542.4,224.8 543.0,223.7 543.9,223.9 544.8,224.9 545.7,224.6 546.6,226.4 547.6,229.0 548.5,230.1 549.4,232.2 550.3,233.2 551.2,233.8 552.1,235.6 553.1,236.8 554.0,237.4 554.9,237.3 555.8,236.2 556.7,236.5 557.9,237.7 559.2,237.1 560.4,237.4 561.6,237.8 562.8,239.8 564.0,241.1 565.2,240.6 566.5,239.9 567.7,240.2 568.9,241.9 570.1,241.3 571.3,242.9 572.5,246.1 573.8,247.9 575.0,250.2 575.9,251.2 576.8,253.1 577.7,254.8 578.6,253.5 579.6,251.7 580.5,251.2 581.4,251.0 582.3,250.2 583.2,249.3 583.8,250.3 584.4,250.2 585.0,249.7 585.6,250.4 586.3,251.0 586.9,250.2 587.7,251.0 588.3,251.5 589.0,250.7 589.6,250.1 590.0,252.1 591.4,247.4 592.0,246.2 592.6,244.9 593.2,243.7" fill="none" stroke="#3a70f0" stroke-width="1.1" stroke-linejoin="round"/>
<polyline points="503.7,268.5 504.3,269.5 504.9,271.8 505.5,273.1 506.1,273.9 506.7,276.9 507.3,277.7 507.3,279.1 508.2,278.3 509.2,278.5 510.1,278.2 511.3,279.0 512.5,279.6 513.7,279.1 514.9,279.0 516.2,278.9 517.4,278.2 518.3,276.2 519.2,274.6 520.1,271.8 521.0,274.4 522.0,278.3 522.9,281.0 523.8,282.4 524.7,283.4 525.6,284.6 526.5,285.4 527.4,285.6 528.4,287.4 529.3,289.0 530.2,290.3 531.1,291.9 531.7,293.7 532.3,294.9 532.9,296.5 533.8,298.5 534.8,299.3 535.7,300.2 536.3,301.0 536.9,300.9 537.5,302.0 539.3,288.3 540.2,233.8 541.1,235.1 542.1,237.6 543.0,238.4 543.9,239.9 544.8,241.4 545.7,243.8 546.6,243.9 547.6,243.8 548.5,244.8 549.7,244.4 550.9,243.2 552.1,242.0 553.0,241.8 554.0,243.4 554.9,242.9 555.8,244.1 556.7,245.1 557.6,246.6 558.5,246.7 559.5,244.7 560.4,244.8 561.6,242.8 562.8,241.5 564.0,240.2 564.9,241.4 565.9,241.2 566.8,242.0 567.7,242.7 568.6,242.6 569.5,243.8 570.4,242.8 571.3,242.4 572.3,242.0 573.2,243.6 574.1,245.0 575.0,245.7 576.2,244.7 577.4,242.0 578.7,241.1 579.3,243.4 579.9,245.4 580.5,248.4 581.4,249.4 582.3,249.3 583.2,250.2 583.8,251.0 584.4,250.7 585.0,250.1 586.0,252.1 586.6,253.3 587.2,252.9 587.7,253.7 588.5,254.6 589.3,254.3 590.0,253.9 590.5,257.4 591.4,257.7 592.3,260.1 593.2,260.1 594.1,261.0 595.1,264.1 596.0,264.7 596.6,265.5 597.2,266.7 597.8,268.4 598.4,266.3 599.0,263.3 599.6,262.0 600.2,263.9 600.8,265.5 601.4,266.5 602.3,266.4 603.3,268.2 604.2,268.4 604.8,264.8 605.4,261.0 606.0,257.4 606.6,257.2 607.2,257.2 607.8,256.5 608.4,259.2 609.1,260.4 609.7,262.0 610.6,260.9 611.5,261.1 612.4,260.1 613.3,261.8 614.2,263.7 615.1,265.6 615.7,267.8 616.4,270.8 617.0,272.9 618.8,248.3 619.7,237.3 620.6,250.1 621.5,264.7 622.1,263.4 622.8,263.5 623.4,262.0 624.0,263.3 624.6,265.3 625.2,266.5 625.8,267.4 626.4,268.6 627.0,270.2" fill="none" stroke="#a868ee" stroke-width="1.1" stroke-linejoin="round"/>
<polyline points="504.6,277.3 505.2,280.2 505.8,283.0 506.4,284.6 507.3,286.3 508.2,287.8 509.1,288.3 509.7,289.4 510.4,292.1 511.0,293.8 511.9,295.5 512.8,297.0 513.7,299.3 516.5,320.3 518.3,302.9 518.9,304.8 519.5,305.1 520.1,306.6 520.7,308.0 521.3,307.6 521.9,308.4 522.6,306.1 523.2,304.0 523.8,301.1 524.7,302.2 525.6,301.5 526.5,302.9 527.1,303.6 527.7,302.8 528.4,303.8 529.0,304.2 529.6,304.3 530.2,305.7 531.1,309.2 532.0,311.9 532.9,315.7 534.8,301.1 536.6,281.0 537.5,242.0 538.1,241.5 538.7,242.1 539.3,242.0 540.1,242.8 540.9,243.9 541.7,244.8 542.4,243.9 543.2,243.3 543.9,242.0 544.5,243.9 545.1,245.3 545.7,245.7 546.6,247.6 547.6,249.6 548.5,251.2 549.4,252.2 550.3,252.7 551.2,253.9 551.8,252.9 552.4,250.2 553.0,249.3 553.6,250.7 554.3,250.5 554.9,251.2 555.5,253.7 556.1,255.8 556.7,257.6 557.3,258.6 557.9,261.1 558.5,263.0 559.1,265.3 559.8,267.3 560.4,270.4 560.4,271.8 561.3,275.3 562.2,277.8 563.1,281.0 564.0,282.5 564.9,282.6 565.8,284.6 567.1,286.0 568.3,285.7 569.5,286.5 570.4,290.7 571.3,294.3 572.3,297.4 572.9,297.9 573.5,300.3 574.1,301.1 574.7,299.7 575.3,298.0 575.9,295.6 578.7,308.4 579.3,307.1 579.9,304.3 580.5,302.9 581.4,300.7 582.3,298.9 583.2,295.6 583.8,291.3 584.4,287.5 585.0,283.9 586.0,284.6 586.8,275.7 587.4,276.1 588.1,276.9 588.7,277.3 589.6,279.3 590.0,273.7 590.8,275.7 591.5,276.6 592.3,278.4 593.2,277.1 594.1,276.0 595.0,273.8 596.0,272.4 596.9,272.7 597.8,272.0 598.7,270.7 599.6,271.4 600.5,270.2 601.7,269.7 603.0,268.5 604.2,268.4 605.1,268.3 606.0,266.6 606.9,266.5" fill="none" stroke="#3cb050" stroke-width="1.1" stroke-linejoin="round"/>
<polyline points="504.6,300.2 505.2,299.6 505.8,299.1 506.4,298.4 507.3,300.8 508.2,302.7 509.1,303.8 510.1,304.2 511.0,303.0 511.9,302.9 512.8,304.3 513.7,304.0 514.6,304.8 515.5,302.6 516.5,300.3 517.4,299.3 518.0,302.6 518.6,305.4 519.2,309.3 519.8,309.8 520.4,311.4 521.0,312.1 521.6,315.0 522.3,317.4 522.9,319.4 523.5,316.8 524.1,314.9 524.7,313.9 525.6,313.8 526.5,314.6 527.4,314.8 528.0,313.3 528.7,311.1 529.3,308.4 529.9,312.2 530.5,314.7 531.1,317.6 531.7,320.8 532.3,323.3 532.9,326.7 533.8,315.7 534.8,288.3 537.5,253.0 538.1,256.0 538.7,259.2 539.3,263.0 539.9,261.9 540.6,260.8 541.2,259.4 542.1,258.3 543.0,256.7 543.9,255.7 544.8,258.6 545.7,261.4 546.6,264.9 547.5,264.8 548.5,263.8 549.4,263.0 550.6,263.8 551.8,264.2 553.0,264.0 554.0,263.9 554.9,263.9 555.8,264.9 556.7,263.3 557.6,263.2 558.5,261.2 559.4,262.3 560.4,262.3 561.3,263.0 562.2,266.0 563.1,267.7 564.0,270.4 564.7,274.2 565.5,276.1 566.2,280.1 566.2,270.0 567.7,282.8 568.6,280.2 569.5,277.5 570.4,273.7 570.4,268.5 571.0,265.4 571.6,262.3 572.3,259.4 573.2,257.2 574.1,255.9 575.0,254.8 575.9,255.2 576.8,256.3 577.7,257.6 578.6,256.2 579.6,256.0 580.5,255.7 581.4,258.0 582.3,261.9 583.2,264.9 583.8,266.5 584.4,267.9 585.0,270.2 585.1,268.5 585.6,268.1 586.2,265.6 586.8,264.7 586.9,272.2 588.7,260.1 590.0,264.9 591.4,259.2 592.0,258.4 592.6,258.1 593.2,256.5 594.1,255.7 595.1,254.9 596.0,252.8 596.9,252.2 597.8,251.9 598.7,250.5" fill="none" stroke="#ee3030" stroke-width="1.1" stroke-linejoin="round"/>
<polyline points="504.6,306.6 505.5,306.3 506.4,307.4 507.3,307.5 508.2,309.3 509.2,312.8 510.1,314.8 511.0,317.1 511.9,318.9 512.8,321.2 513.7,321.1 514.6,320.7 515.5,320.3 516.5,321.0 517.4,323.4 518.3,324.9 519.2,324.5 520.1,323.7 521.0,323.0 521.6,325.5 522.3,327.1 522.9,328.5 523.8,330.1 524.7,331.7 525.6,334.0 526.2,332.1 526.8,332.1 527.4,330.4 528.0,329.8 528.7,328.7 529.3,327.6 530.2,329.6 531.1,331.9 532.0,334.0 532.6,334.7 533.2,336.5 533.8,337.7 534.4,337.3 535.1,338.5 535.7,338.6 536.3,337.9 536.9,337.1 537.5,335.8 538.8,315.7 539.9,290.1 541.2,273.7 541.8,274.1 542.4,274.8 543.0,276.4 543.9,275.5 544.8,275.5 545.7,274.6 546.6,273.7 547.6,273.2 548.5,271.8 549.4,272.0 550.3,272.3 551.2,272.7 552.0,275.9 552.9,277.0 553.7,280.0 554.6,280.7 555.5,282.6 556.5,283.7 557.7,283.6 558.9,282.9 560.1,282.7 561.3,283.8 562.6,284.5 563.8,285.5 565.0,286.4 566.2,287.4 567.4,287.3 568.3,288.8 569.3,289.4 570.2,290.1 571.1,290.9 572.0,292.7 572.9,292.8 573.8,291.2 574.7,290.0 575.6,288.2 576.3,291.9 576.9,294.7 577.5,297.4 578.1,298.1 578.7,299.6 579.3,300.1 579.9,299.4 580.5,299.0 581.1,297.4 581.7,296.1 582.4,294.4 583.0,292.8 583.6,293.0 584.2,291.6 584.8,291.0 585.4,292.9 586.0,296.0 586.6,297.4 587.2,300.0 587.8,300.5 588.4,302.9 589.4,302.4 590.3,304.1 591.2,303.8 592.1,305.7 593.0,306.0 593.9,307.4 594.8,307.6 595.8,309.0 596.7,309.3 597.6,308.2 598.5,305.1 599.4,303.8 600.3,304.3 601.3,305.3 602.2,305.6 603.1,305.7 604.0,306.7 604.9,307.4 605.8,308.3 606.7,310.4 607.6,312.0 608.5,315.1 609.5,318.6 610.4,323.0 611.0,320.3 611.6,317.4 612.2,315.6 612.8,314.4 613.4,313.8 614.0,313.8 615.0,309.3 615.9,309.7 616.8,310.1 617.7,311.1 618.6,313.0 619.5,314.0 620.4,315.6 621.3,317.0 622.3,318.8 623.2,321.1" fill="none" stroke="#c8a028" stroke-width="1.1" stroke-linejoin="round"/>
</g>
<path d="M503.6,208.2 H679.0 V350.0 H503.6 Z" fill="none" stroke="#222" stroke-width="1.3"/>
<line x1="500.60" y1="338.10" x2="503.60" y2="338.10" stroke="#222" stroke-width="1"/>
<line x1="679.00" y1="338.10" x2="682.00" y2="338.10" stroke="#222" stroke-width="1"/>
<text x="498.50" y="341.10" font-size="8.1" fill="#222" text-anchor="end" font-weight="normal">8.0</text>
<line x1="500.60" y1="314.60" x2="503.60" y2="314.60" stroke="#222" stroke-width="1"/>
<line x1="679.00" y1="314.60" x2="682.00" y2="314.60" stroke="#222" stroke-width="1"/>
<text x="498.50" y="317.60" font-size="8.1" fill="#222" text-anchor="end" font-weight="normal">8.5</text>
<line x1="500.60" y1="291.10" x2="503.60" y2="291.10" stroke="#222" stroke-width="1"/>
<line x1="679.00" y1="291.10" x2="682.00" y2="291.10" stroke="#222" stroke-width="1"/>
<text x="498.50" y="294.10" font-size="8.1" fill="#222" text-anchor="end" font-weight="normal">9.0</text>
<line x1="500.60" y1="267.60" x2="503.60" y2="267.60" stroke="#222" stroke-width="1"/>
<line x1="679.00" y1="267.60" x2="682.00" y2="267.60" stroke="#222" stroke-width="1"/>
<text x="498.50" y="270.60" font-size="8.1" fill="#222" text-anchor="end" font-weight="normal">9.5</text>
<line x1="500.60" y1="244.10" x2="503.60" y2="244.10" stroke="#222" stroke-width="1"/>
<line x1="679.00" y1="244.10" x2="682.00" y2="244.10" stroke="#222" stroke-width="1"/>
<text x="498.50" y="247.10" font-size="8.1" fill="#222" text-anchor="end" font-weight="normal">10.0</text>
<line x1="500.60" y1="220.60" x2="503.60" y2="220.60" stroke="#222" stroke-width="1"/>
<line x1="679.00" y1="220.60" x2="682.00" y2="220.60" stroke="#222" stroke-width="1"/>
<text x="498.50" y="223.60" font-size="8.1" fill="#222" text-anchor="end" font-weight="normal">10.5</text>
<line x1="501.80" y1="349.85" x2="503.60" y2="349.85" stroke="#222" stroke-width="1"/>
<line x1="679.00" y1="349.85" x2="680.80" y2="349.85" stroke="#222" stroke-width="1"/>
<line x1="501.80" y1="326.35" x2="503.60" y2="326.35" stroke="#222" stroke-width="1"/>
<line x1="679.00" y1="326.35" x2="680.80" y2="326.35" stroke="#222" stroke-width="1"/>
<line x1="501.80" y1="302.85" x2="503.60" y2="302.85" stroke="#222" stroke-width="1"/>
<line x1="679.00" y1="302.85" x2="680.80" y2="302.85" stroke="#222" stroke-width="1"/>
<line x1="501.80" y1="279.35" x2="503.60" y2="279.35" stroke="#222" stroke-width="1"/>
<line x1="679.00" y1="279.35" x2="680.80" y2="279.35" stroke="#222" stroke-width="1"/>
<line x1="501.80" y1="255.85" x2="503.60" y2="255.85" stroke="#222" stroke-width="1"/>
<line x1="679.00" y1="255.85" x2="680.80" y2="255.85" stroke="#222" stroke-width="1"/>
<line x1="501.80" y1="232.35" x2="503.60" y2="232.35" stroke="#222" stroke-width="1"/>
<line x1="679.00" y1="232.35" x2="680.80" y2="232.35" stroke="#222" stroke-width="1"/>
<line x1="503.50" y1="350.00" x2="503.50" y2="353.00" stroke="#222" stroke-width="1"/>
<line x1="503.50" y1="208.20" x2="503.50" y2="205.20" stroke="#222" stroke-width="1"/>
<line x1="513.25" y1="350.00" x2="513.25" y2="351.80" stroke="#222" stroke-width="1"/>
<line x1="513.25" y1="208.20" x2="513.25" y2="206.40" stroke="#222" stroke-width="1"/>
<line x1="523.00" y1="350.00" x2="523.00" y2="353.00" stroke="#222" stroke-width="1"/>
<line x1="523.00" y1="208.20" x2="523.00" y2="205.20" stroke="#222" stroke-width="1"/>
<line x1="532.75" y1="350.00" x2="532.75" y2="351.80" stroke="#222" stroke-width="1"/>
<line x1="532.75" y1="208.20" x2="532.75" y2="206.40" stroke="#222" stroke-width="1"/>
<line x1="542.50" y1="350.00" x2="542.50" y2="353.00" stroke="#222" stroke-width="1"/>
<line x1="542.50" y1="208.20" x2="542.50" y2="205.20" stroke="#222" stroke-width="1"/>
<line x1="552.25" y1="350.00" x2="552.25" y2="351.80" stroke="#222" stroke-width="1"/>
<line x1="552.25" y1="208.20" x2="552.25" y2="206.40" stroke="#222" stroke-width="1"/>
<line x1="562.00" y1="350.00" x2="562.00" y2="353.00" stroke="#222" stroke-width="1"/>
<line x1="562.00" y1="208.20" x2="562.00" y2="205.20" stroke="#222" stroke-width="1"/>
<line x1="571.75" y1="350.00" x2="571.75" y2="351.80" stroke="#222" stroke-width="1"/>
<line x1="571.75" y1="208.20" x2="571.75" y2="206.40" stroke="#222" stroke-width="1"/>
<line x1="581.50" y1="350.00" x2="581.50" y2="353.00" stroke="#222" stroke-width="1"/>
<line x1="581.50" y1="208.20" x2="581.50" y2="205.20" stroke="#222" stroke-width="1"/>
<line x1="591.25" y1="350.00" x2="591.25" y2="351.80" stroke="#222" stroke-width="1"/>
<line x1="591.25" y1="208.20" x2="591.25" y2="206.40" stroke="#222" stroke-width="1"/>
<line x1="601.00" y1="350.00" x2="601.00" y2="353.00" stroke="#222" stroke-width="1"/>
<line x1="601.00" y1="208.20" x2="601.00" y2="205.20" stroke="#222" stroke-width="1"/>
<line x1="610.75" y1="350.00" x2="610.75" y2="351.80" stroke="#222" stroke-width="1"/>
<line x1="610.75" y1="208.20" x2="610.75" y2="206.40" stroke="#222" stroke-width="1"/>
<line x1="620.50" y1="350.00" x2="620.50" y2="353.00" stroke="#222" stroke-width="1"/>
<line x1="620.50" y1="208.20" x2="620.50" y2="205.20" stroke="#222" stroke-width="1"/>
<line x1="630.25" y1="350.00" x2="630.25" y2="351.80" stroke="#222" stroke-width="1"/>
<line x1="630.25" y1="208.20" x2="630.25" y2="206.40" stroke="#222" stroke-width="1"/>
<line x1="640.00" y1="350.00" x2="640.00" y2="353.00" stroke="#222" stroke-width="1"/>
<line x1="640.00" y1="208.20" x2="640.00" y2="205.20" stroke="#222" stroke-width="1"/>
<line x1="649.75" y1="350.00" x2="649.75" y2="351.80" stroke="#222" stroke-width="1"/>
<line x1="649.75" y1="208.20" x2="649.75" y2="206.40" stroke="#222" stroke-width="1"/>
<line x1="659.50" y1="350.00" x2="659.50" y2="353.00" stroke="#222" stroke-width="1"/>
<line x1="659.50" y1="208.20" x2="659.50" y2="205.20" stroke="#222" stroke-width="1"/>
<line x1="669.25" y1="350.00" x2="669.25" y2="351.80" stroke="#222" stroke-width="1"/>
<line x1="669.25" y1="208.20" x2="669.25" y2="206.40" stroke="#222" stroke-width="1"/>
<line x1="679.00" y1="350.00" x2="679.00" y2="353.00" stroke="#222" stroke-width="1"/>
<line x1="679.00" y1="208.20" x2="679.00" y2="205.20" stroke="#222" stroke-width="1"/>
<text x="503.50" y="361.60" font-size="8.8" fill="#222" text-anchor="middle" font-weight="normal">0</text>
<text x="523.00" y="361.60" font-size="8.8" fill="#222" text-anchor="middle" font-weight="normal">1</text>
<text x="542.50" y="361.60" font-size="8.8" fill="#222" text-anchor="middle" font-weight="normal">2</text>
<text x="562.00" y="361.60" font-size="8.8" fill="#222" text-anchor="middle" font-weight="normal">3</text>
<text x="581.50" y="361.60" font-size="8.8" fill="#222" text-anchor="middle" font-weight="normal">4</text>
<text x="601.00" y="361.60" font-size="8.8" fill="#222" text-anchor="middle" font-weight="normal">5</text>
<text x="620.50" y="361.60" font-size="8.8" fill="#222" text-anchor="middle" font-weight="normal">6</text>
<text x="640.00" y="361.60" font-size="8.8" fill="#222" text-anchor="middle" font-weight="normal">7</text>
<text x="659.50" y="361.60" font-size="8.8" fill="#222" text-anchor="middle" font-weight="normal">8</text>
<text x="679.00" y="361.60" font-size="8.8" fill="#222" text-anchor="middle" font-weight="normal">9</text>
<text x="478.50" y="280.00" font-size="8.5" fill="#222" text-anchor="middle" font-weight="normal" transform="rotate(-90 478.5 280)">height (nm)</text>
<text x="591.40" y="375.60" font-size="8.5" fill="#222" text-anchor="middle" font-weight="normal">length (µm)</text>
<text x="508.80" y="228.80" font-size="15.5" fill="#111" text-anchor="start" font-weight="bold">f)</text>
<text x="589.00" y="341.80" font-size="8.4" fill="#222" text-anchor="start" font-weight="normal">1.2 nm step</text>
<rect x="627.5" y="222.4" width="47.1" height="64.2" fill="#fff" stroke="#bbb" stroke-width="0.7"/>
<line x1="628.30" y1="227.80" x2="644.90" y2="227.80" stroke="#505050" stroke-width="1.2"/>
<text x="647.10" y="230.40" font-size="7.3" fill="#222" text-anchor="start" font-weight="normal">profile 1</text>
<line x1="628.30" y1="236.85" x2="644.90" y2="236.85" stroke="#ee3030" stroke-width="1.2"/>
<text x="647.10" y="239.45" font-size="7.3" fill="#222" text-anchor="start" font-weight="normal">profile 2</text>
<line x1="628.30" y1="245.90" x2="644.90" y2="245.90" stroke="#3a70f0" stroke-width="1.2"/>
<text x="647.10" y="248.50" font-size="7.3" fill="#222" text-anchor="start" font-weight="normal">profile 3</text>
<line x1="628.30" y1="254.95" x2="644.90" y2="254.95" stroke="#3cb050" stroke-width="1.2"/>
<text x="647.10" y="257.55" font-size="7.3" fill="#222" text-anchor="start" font-weight="normal">profile 4</text>
<line x1="628.30" y1="264.00" x2="644.90" y2="264.00" stroke="#a868ee" stroke-width="1.2"/>
<text x="647.10" y="266.60" font-size="7.3" fill="#222" text-anchor="start" font-weight="normal">profile 5</text>
<line x1="628.30" y1="273.05" x2="644.90" y2="273.05" stroke="#c8a028" stroke-width="1.2"/>
<text x="647.10" y="275.65" font-size="7.3" fill="#222" text-anchor="start" font-weight="normal">profile 6</text>
<line x1="628.30" y1="282.10" x2="644.90" y2="282.10" stroke="#40e0d8" stroke-width="1.2"/>
<text x="647.10" y="284.70" font-size="7.3" fill="#222" text-anchor="start" font-weight="normal">profile 7</text>
<clipPath id="clipB"><rect x="238.0" y="13.5" width="172.0" height="172.0"/></clipPath>
<filter id="blurB" x="-5%" y="-5%" width="110%" height="110%"><feGaussianBlur stdDeviation="2.2"/></filter>
<filter id="blurV"><feGaussianBlur stdDeviation="0.4"/></filter>
<filter id="blurS"><feGaussianBlur stdDeviation="0.6"/></filter>
<filter id="cmapF" color-interpolation-filters="sRGB"><feComponentTransfer><feFuncR type="table" tableValues="0.031 0.071 0.114 0.153 0.192 0.231 0.286 0.353 0.416 0.486 0.557 0.616 0.659 0.702 0.737 0.769 0.800 0.820 0.835 0.851 0.863 0.875 0.882 0.894 0.902 0.914 0.925 0.937 0.949 0.961 0.973 0.980 0.992"/><feFuncG type="table" tableValues="0.000 0.012 0.024 0.035 0.047 0.059 0.078 0.102 0.125 0.149 0.173 0.204 0.239 0.275 0.318 0.369 0.416 0.463 0.506 0.553 0.596 0.639 0.678 0.718 0.753 0.788 0.827 0.859 0.886 0.914 0.941 0.965 0.988"/><feFuncB type="table" tableValues="0.000 0.004 0.012 0.016 0.024 0.027 0.039 0.051 0.063 0.075 0.086 0.102 0.114 0.125 0.149 0.180 0.208 0.235 0.267 0.290 0.314 0.337 0.365 0.404 0.439 0.514 0.588 0.655 0.722 0.788 0.847 0.906 0.961"/></feComponentTransfer></filter>
<filter id="blurG" x="-5%" y="-5%" width="110%" height="110%" color-interpolation-filters="sRGB"><feGaussianBlur stdDeviation="0.8"/></filter>
<filter id="blurG2" color-interpolation-filters="sRGB"><feGaussianBlur stdDeviation="0.45"/></filter>
<g clip-path="url(#clipB)">
<g filter="url(#cmapF)">
<rect x="238.0" y="13.5" width="172.0" height="172.0" fill="#999999"/>
<g filter="url(#blurG)">
<polygon points="243.4,17.0 241.1,18.3 242.6,20.6 248.2,20.3 248.2,19.9" fill="#ffffff" stroke="#ffffff" stroke-width="0.6"/>
<polygon points="241.1,18.3 243.4,17.0 244.2,12.5 237.0,12.5 237.0,17.8" fill="#ffffff" stroke="#ffffff" stroke-width="0.6"/>
<polygon points="243.4,17.0 248.2,19.9 249.5,17.8 244.4,12.5 244.2,12.5" fill="#ffffff" stroke="#ffffff" stroke-width="0.6"/>
<polygon points="249.5,17.8 252.3,15.9 252.9,12.5 244.4,12.5" fill="#ffffff" stroke="#ffffff" stroke-width="0.6"/>
<polygon points="249.5,17.8 248.2,19.9 248.2,20.3 248.2,20.4 249.8,23.1 251.1,23.4 254.3,22.1 255.1,18.1 252.3,15.9" fill="#ffffff" stroke="#ffffff" stroke-width="0.6"/>
<polygon points="252.3,15.9 255.1,18.1 259.1,18.6 262.8,14.7 263.7,12.7 263.8,12.7 263.5,12.5 252.9,12.5" fill="#ffffff" stroke="#ffffff" stroke-width="0.6"/>
<polygon points="262.8,14.7 259.1,18.6 259.5,21.2 264.4,20.5" fill="#a7a7a7" stroke="#a7a7a7" stroke-width="0.6"/>
<polygon points="265.4,21.1 268.9,20.0 263.7,12.7 262.8,14.7 264.4,20.5 264.7,21.0" fill="#aeaeae" stroke="#aeaeae" stroke-width="0.6"/>
<polygon points="263.7,12.7 268.9,20.0 272.5,22.0 274.4,20.2 273.9,17.7 266.0,12.5 264.1,12.5 263.8,12.7" fill="#808080" stroke="#808080" stroke-width="0.6"/>
<polygon points="273.9,17.7 275.2,12.5 266.0,12.5" fill="#8a8a8a" stroke="#8a8a8a" stroke-width="0.6"/>
<polygon points="277.6,12.5 275.2,12.5 273.9,17.7 274.4,20.2 276.8,20.4 278.0,20.1 280.6,17.3" fill="#808080" stroke="#808080" stroke-width="0.6"/>
<polygon points="280.6,17.3 284.0,15.8 286.7,13.2 286.6,12.5 277.6,12.5" fill="#767676" stroke="#767676" stroke-width="0.6"/>
<polygon points="291.0,19.7 291.2,18.6 286.7,13.2 284.0,15.8 284.4,22.0 285.5,21.8" fill="#b5b5b5" stroke="#b5b5b5" stroke-width="0.6"/>
<polygon points="280.6,17.3 278.0,20.1 283.4,23.2 284.4,22.0 284.0,15.8" fill="#b9b9b9" stroke="#b9b9b9" stroke-width="0.6"/>
<polygon points="293.5,17.0 297.7,12.5 293.9,12.5" fill="#e1e1e1" stroke="#e1e1e1" stroke-width="0.6"/>
<polygon points="286.7,13.2 291.2,18.6 292.8,18.1 293.5,17.0 293.9,12.5 286.6,12.5" fill="#d9d9d9" stroke="#d9d9d9" stroke-width="0.6"/>
<polygon points="296.9,18.9 297.6,19.4 301.0,18.2 303.3,12.6 303.3,12.5 299.3,12.5" fill="#d5d5d5" stroke="#d5d5d5" stroke-width="0.6"/>
<polygon points="293.5,17.0 292.8,18.1 296.9,18.9 299.3,12.5 297.7,12.5" fill="#e2e2e2" stroke="#e2e2e2" stroke-width="0.6"/>
<polygon points="309.8,18.5 309.8,12.5 303.3,12.5 303.3,12.6 307.5,19.8 308.4,20.4" fill="#aaaaaa" stroke="#aaaaaa" stroke-width="0.6"/>
<polygon points="307.5,19.8 303.3,12.6 301.0,18.2 302.4,20.2 303.3,20.4" fill="#b1b1b1" stroke="#b1b1b1" stroke-width="0.6"/>
<polygon points="316.7,22.0 318.2,20.4 318.1,19.9 315.9,15.8 309.8,18.5 308.4,20.4 308.4,20.5" fill="#ffffff" stroke="#ffffff" stroke-width="0.6"/>
<polygon points="309.8,18.5 315.9,15.8 315.7,12.5 309.8,12.5" fill="#ffffff" stroke="#ffffff" stroke-width="0.6"/>
<polygon points="318.1,19.9 318.2,20.4 319.3,20.7 323.0,18.8 329.5,13.4 328.3,12.6 327.9,12.5 324.9,12.5" fill="#ffffff" stroke="#ffffff" stroke-width="0.6"/>
<polygon points="315.9,15.8 318.1,19.9 324.9,12.5 315.7,12.5" fill="#ffffff" stroke="#ffffff" stroke-width="0.6"/>
<polygon points="323.5,23.8 327.2,22.1 323.0,18.8 319.3,20.7 323.1,23.8" fill="#ffffff" stroke="#ffffff" stroke-width="0.6"/>
<polygon points="323.0,18.8 327.2,22.1 329.1,21.5 329.7,13.5 329.5,13.4" fill="#ffffff" stroke="#ffffff" stroke-width="0.6"/>
<polygon points="335.2,22.9 330.7,13.2 329.7,13.5 329.1,21.5 330.4,23.2 332.2,23.5" fill="#ffffff" stroke="#ffffff" stroke-width="0.6"/>
<polygon points="338.2,17.8 335.3,12.9 334.0,12.8 331.2,13.1 330.7,13.2 335.2,22.9 337.7,22.6" fill="#ffffff" stroke="#ffffff" stroke-width="0.6"/>
<polygon points="335.3,12.9 338.2,17.8 340.2,18.0 345.2,15.8 347.0,12.9 347.1,12.5 335.9,12.5" fill="#ffffff" stroke="#ffffff" stroke-width="0.6"/>
<polygon points="345.6,21.1 345.2,15.8 340.2,18.0 345.1,21.3" fill="#ffffff" stroke="#ffffff" stroke-width="0.6"/>
<polygon points="347.0,12.9 350.1,21.0 353.6,14.5 353.4,12.5 347.1,12.5" fill="#ffffff" stroke="#ffffff" stroke-width="0.6"/>
<polygon points="349.4,21.9 350.1,21.3 350.1,21.0 347.0,12.9 345.2,15.8 345.6,21.1" fill="#ffffff" stroke="#ffffff" stroke-width="0.6"/>
<polygon points="353.6,14.5 350.1,21.0 350.1,21.3 354.8,21.7 357.3,20.6" fill="#ffffff" stroke="#ffffff" stroke-width="0.6"/>
<polygon points="361.3,15.2 360.9,12.5 353.4,12.5 353.6,14.5 357.3,20.6 358.2,20.8" fill="#ffffff" stroke="#ffffff" stroke-width="0.6"/>
<polygon points="361.3,15.2 366.1,18.4 371.4,12.5 360.9,12.5" fill="#ffffff" stroke="#ffffff" stroke-width="0.6"/>
<polygon points="366.1,18.4 361.3,15.2 358.2,20.8 359.8,22.6 365.1,21.3 366.3,20.7" fill="#ffffff" stroke="#ffffff" stroke-width="0.6"/>
<polygon points="374.4,15.5 373.2,12.5 373.2,12.5 371.4,12.5 366.1,18.4 366.3,20.7 367.7,21.8 368.7,21.4" fill="#ffffff" stroke="#ffffff" stroke-width="0.6"/>
<polygon points="376.6,21.3 376.1,18.1 374.4,15.5 368.7,21.4" fill="#ffffff" stroke="#ffffff" stroke-width="0.6"/>
<polygon points="383.2,19.1 382.0,16.2 376.1,18.1 376.6,21.3 377.0,22.4 377.2,22.5 378.7,22.8" fill="#ffffff" stroke="#ffffff" stroke-width="0.6"/>
<polygon points="373.2,12.5 374.4,15.5 376.1,18.1 382.0,16.2 384.5,12.5 373.3,12.5" fill="#ffffff" stroke="#ffffff" stroke-width="0.6"/>
<polygon points="385.7,22.2 385.8,22.3 389.2,19.7 389.3,19.0 387.4,16.3 384.5,19.4" fill="#ffffff" stroke="#ffffff" stroke-width="0.6"/>
<polygon points="387.4,16.3 386.8,12.5 384.5,12.5 382.0,16.2 383.2,19.1 384.5,19.4" fill="#ffffff" stroke="#ffffff" stroke-width="0.6"/>
<polygon points="393.2,17.8 389.3,19.0 389.2,19.7 391.8,23.9 394.4,19.0" fill="#ffffff" stroke="#ffffff" stroke-width="0.6"/>
<polygon points="393.3,12.5 386.8,12.5 387.4,16.3 389.3,19.0 393.2,17.8" fill="#ffffff" stroke="#ffffff" stroke-width="0.6"/>
<polygon points="393.2,17.8 394.4,19.0 395.8,19.3 397.3,19.2 402.3,13.0 401.4,12.5 393.3,12.5" fill="#ffffff" stroke="#ffffff" stroke-width="0.6"/>
<polygon points="402.5,13.0 402.3,13.0 397.3,19.2 398.4,21.7 404.3,20.6 405.2,18.9" fill="#ffffff" stroke="#ffffff" stroke-width="0.6"/>
<polygon points="411.0,20.6 411.0,16.0 403.6,12.5 403.2,12.5 402.8,12.7 402.5,13.0 405.2,18.9 408.7,20.1" fill="#ffffff" stroke="#ffffff" stroke-width="0.6"/>
<polygon points="411.0,16.0 411.0,12.5 403.6,12.5" fill="#ffffff" stroke="#ffffff" stroke-width="0.6"/>
<polygon points="242.6,20.6 241.5,25.8 242.0,25.8 248.2,20.4 248.2,20.3" fill="#ffffff" stroke="#ffffff" stroke-width="0.6"/>
<polygon points="240.5,26.3 241.5,25.8 242.6,20.6 241.1,18.3 237.0,17.8 237.0,25.9" fill="#ffffff" stroke="#ffffff" stroke-width="0.6"/>
<polygon points="251.1,23.4 249.8,23.1 248.0,27.2 248.1,27.3 252.6,28.6 253.9,26.7" fill="#ffffff" stroke="#ffffff" stroke-width="0.6"/>
<polygon points="242.0,25.8 246.7,27.3 248.0,27.2 249.8,23.1 248.2,20.4" fill="#ffffff" stroke="#ffffff" stroke-width="0.6"/>
<polygon points="254.3,22.1 251.1,23.4 253.9,26.7 256.8,26.3 257.9,24.8" fill="#ffffff" stroke="#ffffff" stroke-width="0.6"/>
<polygon points="259.5,21.2 259.1,18.6 255.1,18.1 254.3,22.1 257.9,24.8 259.7,24.0" fill="#ffffff" stroke="#ffffff" stroke-width="0.6"/>
<polygon points="264.3,27.3 267.7,24.8 265.4,21.1 264.7,21.0 262.4,25.3 264.2,27.2" fill="#b2b2b2" stroke="#b2b2b2" stroke-width="0.6"/>
<polygon points="264.7,21.0 264.4,20.5 259.5,21.2 259.7,24.0 262.4,25.3" fill="#acacac" stroke="#acacac" stroke-width="0.6"/>
<polygon points="272.2,22.7 272.5,22.0 268.9,20.0 265.4,21.1 267.7,24.8" fill="#757575" stroke="#757575" stroke-width="0.6"/>
<polygon points="266.0,31.3 267.8,31.6 269.5,31.2 272.9,25.3 272.2,22.7 267.7,24.8 264.3,27.3" fill="#858585" stroke="#858585" stroke-width="0.6"/>
<polygon points="283.4,23.2 278.0,20.1 276.8,20.4 280.4,28.7 283.8,27.5" fill="#a7a7a7" stroke="#a7a7a7" stroke-width="0.6"/>
<polygon points="272.9,25.3 277.6,30.0 279.3,29.7 280.4,28.7 276.8,20.4 274.4,20.2 272.5,22.0 272.2,22.7" fill="#a3a3a3" stroke="#a3a3a3" stroke-width="0.6"/>
<polygon points="291.2,21.2 291.0,19.7 285.5,21.8 288.9,25.4" fill="#c4c4c4" stroke="#c4c4c4" stroke-width="0.6"/>
<polygon points="285.5,21.8 284.4,22.0 283.4,23.2 283.8,27.5 286.7,28.6 288.2,27.1 288.9,25.4" fill="#c5c5c5" stroke="#c5c5c5" stroke-width="0.6"/>
<polygon points="297.1,26.2 293.3,23.3 291.4,27.1 295.7,28.1" fill="#989898" stroke="#989898" stroke-width="0.6"/>
<polygon points="288.2,27.1 291.4,27.1 293.3,23.3 291.2,21.2 288.9,25.4" fill="#9d9d9d" stroke="#9d9d9d" stroke-width="0.6"/>
<polygon points="301.0,18.2 297.6,19.4 298.9,25.6 299.1,25.6 302.4,20.2" fill="#b8b8b8" stroke="#b8b8b8" stroke-width="0.6"/>
<polygon points="293.3,23.3 297.1,26.2 298.9,25.6 297.6,19.4 296.9,18.9 292.8,18.1 291.2,18.6 291.0,19.7 291.2,21.2" fill="#c8c8c8" stroke="#c8c8c8" stroke-width="0.6"/>
<polygon points="307.1,25.9 307.8,25.1 308.4,20.5 308.4,20.4 307.5,19.8 303.3,20.4 303.8,26.4" fill="#b8b8b8" stroke="#b8b8b8" stroke-width="0.6"/>
<polygon points="303.5,26.5 303.8,26.4 303.3,20.4 302.4,20.2 299.1,25.6 300.3,26.2" fill="#adadad" stroke="#adadad" stroke-width="0.6"/>
<polygon points="314.0,30.4 316.8,25.9 316.2,23.6 311.8,25.8" fill="#ffffff" stroke="#ffffff" stroke-width="0.6"/>
<polygon points="311.8,25.8 316.2,23.6 316.7,22.0 308.4,20.5 307.8,25.1" fill="#ffffff" stroke="#ffffff" stroke-width="0.6"/>
<polygon points="319.3,20.7 318.2,20.4 316.7,22.0 316.2,23.6 316.8,25.9 319.8,28.4 319.8,28.3 323.1,23.8" fill="#ffffff" stroke="#ffffff" stroke-width="0.6"/>
<polygon points="324.1,25.4 323.5,23.8 323.1,23.8 319.8,28.3 324.9,30.8 325.2,30.6" fill="#ffffff" stroke="#ffffff" stroke-width="0.6"/>
<polygon points="324.1,25.4 329.0,26.8 329.9,25.7 330.4,23.2 329.1,21.5 327.2,22.1 323.5,23.8" fill="#ffffff" stroke="#ffffff" stroke-width="0.6"/>
<polygon points="327.0,30.6 329.0,26.8 324.1,25.4 325.2,30.6" fill="#ffffff" stroke="#ffffff" stroke-width="0.6"/>
<polygon points="334.7,28.1 332.2,23.5 330.4,23.2 329.9,25.7 332.6,28.9 334.4,29.3" fill="#ffffff" stroke="#ffffff" stroke-width="0.6"/>
<polygon points="337.8,22.6 337.7,22.6 335.2,22.9 332.2,23.5 334.7,28.1 338.4,24.3" fill="#ffffff" stroke="#ffffff" stroke-width="0.6"/>
<polygon points="340.7,26.6 342.9,26.3 344.9,21.5 337.8,22.6 338.4,24.3" fill="#ffffff" stroke="#ffffff" stroke-width="0.6"/>
<polygon points="344.9,21.5 345.1,21.3 340.2,18.0 338.2,17.8 337.7,22.6 337.8,22.6" fill="#ffffff" stroke="#ffffff" stroke-width="0.6"/>
<polygon points="349.4,21.9 345.6,21.1 345.1,21.3 344.9,21.5 342.9,26.3 345.8,27.7 349.4,22.7" fill="#ffffff" stroke="#ffffff" stroke-width="0.6"/>
<polygon points="352.0,28.0 349.4,22.7 345.8,27.7 346.1,28.1 351.9,28.1" fill="#ffffff" stroke="#ffffff" stroke-width="0.6"/>
<polygon points="350.1,21.3 349.4,21.9 349.4,22.7 352.0,28.0 354.3,27.5 354.8,21.7" fill="#ffffff" stroke="#ffffff" stroke-width="0.6"/>
<polygon points="359.8,22.6 358.2,20.8 357.3,20.6 354.8,21.7 354.3,27.5 357.5,28.7 360.2,26.2" fill="#ffffff" stroke="#ffffff" stroke-width="0.6"/>
<polygon points="366.3,20.7 365.1,21.3 363.8,27.8 365.2,28.7 366.1,28.7 367.6,27.5 368.3,23.5 367.7,21.8" fill="#ffffff" stroke="#ffffff" stroke-width="0.6"/>
<polygon points="363.8,27.8 365.1,21.3 359.8,22.6 360.2,26.2" fill="#ffffff" stroke="#ffffff" stroke-width="0.6"/>
<polygon points="367.7,21.8 368.3,23.5 374.3,24.4 377.0,22.4 376.6,21.3 368.7,21.4" fill="#ffffff" stroke="#ffffff" stroke-width="0.6"/>
<polygon points="374.3,24.4 368.3,23.5 367.6,27.5 372.3,28.4 372.4,28.2" fill="#ffffff" stroke="#ffffff" stroke-width="0.6"/>
<polygon points="377.2,22.5 377.0,22.4 374.3,24.4 372.4,28.2 376.0,29.4 377.6,28.9" fill="#ffffff" stroke="#ffffff" stroke-width="0.6"/>
<polygon points="378.7,22.8 377.2,22.5 377.6,28.9 380.9,31.7 383.8,28.1 378.8,22.8" fill="#ffffff" stroke="#ffffff" stroke-width="0.6"/>
<polygon points="387.0,26.9 387.0,26.8 385.8,22.3 385.7,22.2 378.8,22.8 383.8,28.1 385.6,27.7" fill="#ffffff" stroke="#ffffff" stroke-width="0.6"/>
<polygon points="385.7,22.2 384.5,19.4 383.2,19.1 378.7,22.8 378.8,22.8" fill="#ffffff" stroke="#ffffff" stroke-width="0.6"/>
<polygon points="391.8,23.9 389.2,19.7 385.8,22.3 387.0,26.8 392.0,25.7" fill="#ffffff" stroke="#ffffff" stroke-width="0.6"/>
<polygon points="391.8,23.9 392.0,25.7 394.7,27.1 395.8,19.3 394.4,19.0" fill="#ffffff" stroke="#ffffff" stroke-width="0.6"/>
<polygon points="398.4,21.7 398.0,26.7 403.2,25.1 404.3,20.6" fill="#ffffff" stroke="#ffffff" stroke-width="0.6"/>
<polygon points="394.7,27.1 396.3,28.3 398.0,26.7 398.4,21.7 397.3,19.2 395.8,19.3" fill="#ffffff" stroke="#ffffff" stroke-width="0.6"/>
<polygon points="408.7,20.1 406.0,27.5 406.3,27.9 411.0,27.4 411.0,20.6" fill="#ffffff" stroke="#ffffff" stroke-width="0.6"/>
<polygon points="405.2,18.9 404.3,20.6 403.2,25.1 406.0,27.5 408.7,20.1" fill="#ffffff" stroke="#ffffff" stroke-width="0.6"/>
<polygon points="243.9,34.5 243.8,33.7 240.5,26.3 237.0,25.9 237.0,34.3" fill="#ffffff" stroke="#ffffff" stroke-width="0.6"/>
<polygon points="240.5,26.3 243.8,33.7 246.7,27.3 242.0,25.8 241.5,25.8" fill="#ffffff" stroke="#ffffff" stroke-width="0.6"/>
<polygon points="252.6,28.6 248.1,27.3 248.8,32.5 251.3,32.3 252.9,31.4" fill="#ffffff" stroke="#ffffff" stroke-width="0.6"/>
<polygon points="248.0,27.2 246.7,27.3 243.8,33.7 243.9,34.5 245.2,35.6 248.8,32.5 248.1,27.3" fill="#ffffff" stroke="#ffffff" stroke-width="0.6"/>
<polygon points="251.3,32.3 252.3,36.4 254.2,37.5 256.3,32.7 252.9,31.4" fill="#d8d8d8" stroke="#d8d8d8" stroke-width="0.6"/>
<polygon points="253.9,26.7 252.6,28.6 252.9,31.4 256.3,32.7 257.3,32.4 257.7,31.1 256.8,26.3" fill="#dadada" stroke="#dadada" stroke-width="0.6"/>
<polygon points="262.4,25.3 259.7,24.0 257.9,24.8 256.8,26.3 257.7,31.1 264.2,27.2" fill="#a1a1a1" stroke="#a1a1a1" stroke-width="0.6"/>
<polygon points="257.7,31.1 257.3,32.4 259.2,33.7 265.2,32.1 265.4,32.0 266.0,31.3 264.3,27.3 264.2,27.2" fill="#989898" stroke="#989898" stroke-width="0.6"/>
<polygon points="272.2,32.3 269.5,31.2 267.8,31.6 270.0,38.2 271.7,39.0 272.7,34.0" fill="#a8a8a8" stroke="#a8a8a8" stroke-width="0.6"/>
<polygon points="272.2,32.3 276.9,30.7 277.6,30.0 272.9,25.3 269.5,31.2" fill="#a2a2a2" stroke="#a2a2a2" stroke-width="0.6"/>
<polygon points="278.6,38.4 279.4,38.2 281.6,37.3 281.1,34.1 279.3,29.7 277.6,30.0 276.9,30.7 276.2,35.6 276.6,37.6" fill="#cdcdcd" stroke="#cdcdcd" stroke-width="0.6"/>
<polygon points="276.9,30.7 272.2,32.3 272.7,34.0 276.2,35.6" fill="#cdcdcd" stroke="#cdcdcd" stroke-width="0.6"/>
<polygon points="281.1,34.1 281.6,37.3 283.4,37.8 287.0,31.3" fill="#adadad" stroke="#adadad" stroke-width="0.6"/>
<polygon points="283.8,27.5 280.4,28.7 279.3,29.7 281.1,34.1 287.0,31.3 287.6,30.5 286.7,28.6" fill="#bbbbbb" stroke="#bbbbbb" stroke-width="0.6"/>
<polygon points="291.4,27.1 288.2,27.1 286.7,28.6 287.6,30.5 289.8,32.2 295.1,30.3 295.7,28.1" fill="#d9d9d9" stroke="#d9d9d9" stroke-width="0.6"/>
<polygon points="295.1,30.3 289.8,32.2 290.5,35.6 291.6,36.3 297.2,33.9" fill="#e0e0e0" stroke="#e0e0e0" stroke-width="0.6"/>
<polygon points="300.3,26.2 299.1,25.6 298.9,25.6 297.1,26.2 295.7,28.1 295.1,30.3 297.2,33.9 298.8,34.9 300.6,35.1" fill="#ffffff" stroke="#ffffff" stroke-width="0.6"/>
<polygon points="301.7,35.6 303.8,34.2 303.5,26.5 300.3,26.2 300.6,35.1" fill="#ffffff" stroke="#ffffff" stroke-width="0.6"/>
<polygon points="307.3,27.6 306.7,33.6 310.0,34.7 311.6,33.0" fill="#a5a5a5" stroke="#a5a5a5" stroke-width="0.6"/>
<polygon points="306.7,33.6 307.3,27.6 307.2,26.3 307.1,25.9 303.8,26.4 303.5,26.5 303.8,34.2" fill="#a7a7a7" stroke="#a7a7a7" stroke-width="0.6"/>
<polygon points="307.3,27.6 311.6,33.0 313.8,31.5 313.8,31.5 307.2,26.3" fill="#ffffff" stroke="#ffffff" stroke-width="0.6"/>
<polygon points="307.2,26.3 313.8,31.5 314.0,30.4 311.8,25.8 307.8,25.1 307.1,25.9" fill="#ffffff" stroke="#ffffff" stroke-width="0.6"/>
<polygon points="319.8,28.3 319.8,28.4 317.2,33.1 317.3,33.3 322.4,35.0 324.9,30.8" fill="#ffffff" stroke="#ffffff" stroke-width="0.6"/>
<polygon points="313.8,31.5 313.8,31.5 317.2,33.1 319.8,28.4 316.8,25.9 314.0,30.4" fill="#ffffff" stroke="#ffffff" stroke-width="0.6"/>
<polygon points="328.6,31.7 332.6,28.9 329.9,25.7 329.0,26.8 327.0,30.6" fill="#ffffff" stroke="#ffffff" stroke-width="0.6"/>
<polygon points="329.2,32.6 328.6,31.7 327.0,30.6 325.2,30.6 324.9,30.8 322.4,35.0 322.8,36.3 324.4,38.3 324.9,37.9" fill="#ffffff" stroke="#ffffff" stroke-width="0.6"/>
<polygon points="331.9,34.8 335.3,32.8 335.8,31.8 334.4,29.3 332.6,28.9 328.6,31.7 329.2,32.6 330.9,34.1" fill="#ffffff" stroke="#ffffff" stroke-width="0.6"/>
<polygon points="334.7,28.1 334.4,29.3 335.8,31.8 339.6,30.7 340.7,26.6 338.4,24.3" fill="#ffffff" stroke="#ffffff" stroke-width="0.6"/>
<polygon points="339.5,39.3 341.0,38.4 344.1,35.4 344.3,35.1 344.3,35.1 339.6,30.7 335.8,31.8 335.3,32.8" fill="#ffffff" stroke="#ffffff" stroke-width="0.6"/>
<polygon points="342.9,26.3 340.7,26.6 339.6,30.7 344.3,35.1 346.1,33.0 346.1,28.1 345.8,27.7" fill="#ffffff" stroke="#ffffff" stroke-width="0.6"/>
<polygon points="346.1,28.1 346.1,33.0 349.6,32.6 350.3,32.2 351.6,29.3 351.9,28.1" fill="#ffffff" stroke="#ffffff" stroke-width="0.6"/>
<polygon points="354.3,37.4 356.2,34.7 350.3,32.2 349.6,32.6 352.5,38.8" fill="#ffffff" stroke="#ffffff" stroke-width="0.6"/>
<polygon points="356.2,34.7 356.5,34.5 356.7,34.1 351.6,29.3 350.3,32.2" fill="#ffffff" stroke="#ffffff" stroke-width="0.6"/>
<polygon points="354.3,27.5 352.0,28.0 351.9,28.1 351.6,29.3 356.7,34.1 357.8,33.0 357.5,28.7" fill="#ffffff" stroke="#ffffff" stroke-width="0.6"/>
<polygon points="368.0,32.7 366.1,28.7 365.2,28.7 361.8,33.5 363.7,36.0 366.6,34.8" fill="#ffffff" stroke="#ffffff" stroke-width="0.6"/>
<polygon points="357.5,28.7 357.8,33.0 361.8,33.5 365.2,28.7 363.8,27.8 360.2,26.2" fill="#ffffff" stroke="#ffffff" stroke-width="0.6"/>
<polygon points="372.4,31.1 372.3,28.4 367.6,27.5 366.1,28.7 368.0,32.7 369.4,33.0" fill="#ffffff" stroke="#ffffff" stroke-width="0.6"/>
<polygon points="374.0,34.7 374.8,33.4 372.4,31.1 369.4,33.0 371.6,36.4" fill="#ffffff" stroke="#ffffff" stroke-width="0.6"/>
<polygon points="380.9,31.7 377.6,28.9 376.0,29.4 374.9,33.4 380.6,34.0" fill="#ffffff" stroke="#ffffff" stroke-width="0.6"/>
<polygon points="374.8,33.4 374.9,33.4 376.0,29.4 372.4,28.2 372.3,28.4 372.4,31.1" fill="#ffffff" stroke="#ffffff" stroke-width="0.6"/>
<polygon points="387.5,34.6 389.5,34.3 390.3,32.6 387.0,26.9 385.6,27.7" fill="#ffffff" stroke="#ffffff" stroke-width="0.6"/>
<polygon points="383.8,28.1 380.9,31.7 380.6,34.0 381.9,37.2 386.8,35.1 387.5,34.6 385.6,27.7" fill="#ffffff" stroke="#ffffff" stroke-width="0.6"/>
<polygon points="389.5,34.3 390.8,35.5 397.3,36.0 397.9,34.9 396.5,28.9 396.4,28.8 390.3,32.6" fill="#ffffff" stroke="#ffffff" stroke-width="0.6"/>
<polygon points="390.3,32.6 396.4,28.8 396.3,28.3 394.7,27.1 392.0,25.7 387.0,26.8 387.0,26.9" fill="#ffffff" stroke="#ffffff" stroke-width="0.6"/>
<polygon points="402.8,34.9 405.2,31.1 405.2,30.7 396.5,28.9 397.9,34.9" fill="#ffffff" stroke="#ffffff" stroke-width="0.6"/>
<polygon points="405.2,30.7 406.3,27.9 406.0,27.5 403.2,25.1 398.0,26.7 396.3,28.3 396.4,28.8 396.5,28.9" fill="#ffffff" stroke="#ffffff" stroke-width="0.6"/>
<polygon points="406.3,27.9 405.2,30.7 405.2,31.1 408.6,33.6 411.0,33.2 411.0,27.4" fill="#ffffff" stroke="#ffffff" stroke-width="0.6"/>
<polygon points="405.9,38.0 405.9,38.0 408.6,33.6 405.2,31.1 402.8,34.9" fill="#ffffff" stroke="#ffffff" stroke-width="0.6"/>
<polygon points="240.9,42.7 242.7,40.4 237.0,36.4 237.0,42.9" fill="#ffffff" stroke="#ffffff" stroke-width="0.6"/>
<polygon points="242.7,40.4 245.4,37.9 245.4,36.9 245.2,35.6 243.9,34.5 237.0,34.3 237.0,36.4" fill="#ffffff" stroke="#ffffff" stroke-width="0.6"/>
<polygon points="254.7,39.9 254.2,37.5 252.3,36.4 245.4,36.9 245.4,37.9 249.4,41.9 251.4,42.6" fill="#ffffff" stroke="#ffffff" stroke-width="0.6"/>
<polygon points="245.2,35.6 245.4,36.9 252.3,36.4 251.3,32.3 248.8,32.5" fill="#ffffff" stroke="#ffffff" stroke-width="0.6"/>
<polygon points="261.1,44.9 262.8,43.1 263.4,40.5 261.5,38.8 260.3,38.3 256.1,40.1 258.4,43.9" fill="#dbdbdb" stroke="#dbdbdb" stroke-width="0.6"/>
<polygon points="260.3,38.3 259.2,33.7 257.3,32.4 256.3,32.7 254.2,37.5 254.7,39.9 256.1,40.1" fill="#dedede" stroke="#dedede" stroke-width="0.6"/>
<polygon points="263.4,40.5 264.1,40.3 265.9,38.8 265.4,32.0 265.2,32.1 261.5,38.8" fill="#868686" stroke="#868686" stroke-width="0.6"/>
<polygon points="265.2,32.1 259.2,33.7 260.3,38.3 261.5,38.8" fill="#7c7c7c" stroke="#7c7c7c" stroke-width="0.6"/>
<polygon points="266.0,31.3 265.4,32.0 265.9,38.8 270.0,38.2 267.8,31.6" fill="#d8d8d8" stroke="#d8d8d8" stroke-width="0.6"/>
<polygon points="271.7,39.0 270.0,38.2 265.9,38.8 264.1,40.3 268.0,42.9 269.3,43.0 271.8,42.4 271.8,39.1" fill="#dadada" stroke="#dadada" stroke-width="0.6"/>
<polygon points="271.8,39.1 271.8,42.4 272.8,43.9 276.8,44.2 278.6,38.4 276.6,37.6" fill="#c2c2c2" stroke="#c2c2c2" stroke-width="0.6"/>
<polygon points="276.2,35.6 272.7,34.0 271.7,39.0 271.8,39.1 276.6,37.6" fill="#c3c3c3" stroke="#c3c3c3" stroke-width="0.6"/>
<polygon points="283.4,37.8 281.6,37.3 279.4,38.2 281.3,44.1 284.4,42.7 285.1,39.1" fill="#cacaca" stroke="#cacaca" stroke-width="0.6"/>
<polygon points="289.8,32.2 287.6,30.5 287.0,31.3 283.4,37.8 285.1,39.1 286.0,39.1 290.5,35.6" fill="#cccccc" stroke="#cccccc" stroke-width="0.6"/>
<polygon points="297.2,33.9 291.6,36.3 293.6,40.1 295.0,39.6 298.8,34.9" fill="#a1a1a1" stroke="#a1a1a1" stroke-width="0.6"/>
<polygon points="290.5,35.6 286.0,39.1 289.8,41.7 293.4,40.8 293.6,40.1 291.6,36.3" fill="#b6b6b6" stroke="#b6b6b6" stroke-width="0.6"/>
<polygon points="298.0,42.5 298.8,41.1 295.0,39.6 293.6,40.1 293.4,40.8 294.1,43.0" fill="#9a9a9a" stroke="#9a9a9a" stroke-width="0.6"/>
<polygon points="298.8,34.9 295.0,39.6 298.8,41.1 302.8,40.0 301.7,35.6 300.6,35.1" fill="#9b9b9b" stroke="#9b9b9b" stroke-width="0.6"/>
<polygon points="302.8,40.0 303.1,40.5 310.7,38.8 310.0,34.7 306.7,33.6 303.8,34.2 301.7,35.6" fill="#9b9b9b" stroke="#9b9b9b" stroke-width="0.6"/>
<polygon points="310.9,38.9 310.7,38.8 303.1,40.5 303.7,44.7 310.3,43.1" fill="#9f9f9f" stroke="#9f9f9f" stroke-width="0.6"/>
<polygon points="317.3,33.3 317.2,33.1 313.8,31.5 311.6,33.0 310.0,34.7 310.7,38.8 310.9,38.9 311.2,39.0 316.1,37.2" fill="#ffffff" stroke="#ffffff" stroke-width="0.6"/>
<polygon points="316.1,37.2 311.2,39.0 315.5,42.4 318.0,42.5 317.9,39.5" fill="#ffffff" stroke="#ffffff" stroke-width="0.6"/>
<polygon points="324.4,38.3 322.8,36.3 317.9,39.5 318.0,42.5 319.0,43.5 322.3,44.9 322.5,44.9 325.7,41.3" fill="#ffffff" stroke="#ffffff" stroke-width="0.6"/>
<polygon points="322.4,35.0 317.3,33.3 316.1,37.2 317.9,39.5 322.8,36.3" fill="#ffffff" stroke="#ffffff" stroke-width="0.6"/>
<polygon points="330.9,34.1 329.2,32.6 324.9,37.9" fill="#ffffff" stroke="#ffffff" stroke-width="0.6"/>
<polygon points="324.4,38.3 325.7,41.3 325.8,41.3 328.5,40.5 329.1,40.3 331.7,37.8 331.9,34.8 330.9,34.1 324.9,37.9" fill="#ffffff" stroke="#ffffff" stroke-width="0.6"/>
<polygon points="329.1,40.3 332.8,43.1 336.4,40.2 331.7,37.8" fill="#ffffff" stroke="#ffffff" stroke-width="0.6"/>
<polygon points="331.7,37.8 336.4,40.2 338.4,40.5 338.8,40.2 339.5,39.3 335.3,32.8 331.9,34.8" fill="#ffffff" stroke="#ffffff" stroke-width="0.6"/>
<polygon points="346.0,43.4 341.0,38.4 339.5,39.3 338.8,40.2 344.1,45.2" fill="#ffffff" stroke="#ffffff" stroke-width="0.6"/>
<polygon points="346.0,43.4 347.6,42.6 344.1,35.4 341.0,38.4" fill="#ffffff" stroke="#ffffff" stroke-width="0.6"/>
<polygon points="347.6,42.6 349.0,42.7 352.2,39.1 344.3,35.1 344.1,35.4" fill="#ffffff" stroke="#ffffff" stroke-width="0.6"/>
<polygon points="349.6,32.6 346.1,33.0 344.3,35.1 344.3,35.1 352.2,39.1 352.3,39.1 352.5,38.8" fill="#ffffff" stroke="#ffffff" stroke-width="0.6"/>
<polygon points="361.0,40.2 356.5,34.5 356.2,34.7 354.3,37.4 359.9,41.8" fill="#ffffff" stroke="#ffffff" stroke-width="0.6"/>
<polygon points="354.3,37.4 352.5,38.8 352.3,39.1 355.7,43.3 359.5,42.9 359.9,41.8" fill="#ffffff" stroke="#ffffff" stroke-width="0.6"/>
<polygon points="357.8,33.0 356.7,34.1 356.5,34.5 361.0,40.2 363.4,39.0 363.7,36.0 361.8,33.5" fill="#ffffff" stroke="#ffffff" stroke-width="0.6"/>
<polygon points="368.7,37.3 366.6,34.8 363.7,36.0 363.4,39.0 366.1,40.5" fill="#ffffff" stroke="#ffffff" stroke-width="0.6"/>
<polygon points="371.6,36.4 369.4,33.0 368.0,32.7 366.6,34.8 368.7,37.3 371.4,37.0" fill="#ffffff" stroke="#ffffff" stroke-width="0.6"/>
<polygon points="370.9,42.2 372.7,40.3 371.4,37.0 368.7,37.3 366.1,40.5 368.1,43.5" fill="#ffffff" stroke="#ffffff" stroke-width="0.6"/>
<polygon points="377.6,40.5 374.0,34.7 371.6,36.4 371.4,37.0 372.7,40.3" fill="#ffffff" stroke="#ffffff" stroke-width="0.6"/>
<polygon points="381.1,39.8 381.7,38.7 381.9,37.2 380.6,34.0 374.9,33.4 374.8,33.4 374.0,34.7 377.6,40.5 379.2,40.8" fill="#ffffff" stroke="#ffffff" stroke-width="0.6"/>
<polygon points="390.2,40.7 381.7,38.7 381.1,39.8 384.4,44.1 389.8,43.8 390.3,40.7" fill="#ffffff" stroke="#ffffff" stroke-width="0.6"/>
<polygon points="381.9,37.2 381.7,38.7 390.2,40.7 386.8,35.1" fill="#ffffff" stroke="#ffffff" stroke-width="0.6"/>
<polygon points="387.5,34.6 386.8,35.1 390.2,40.7 390.3,40.7 390.4,40.6 390.8,35.5 389.5,34.3" fill="#ffffff" stroke="#ffffff" stroke-width="0.6"/>
<polygon points="394.3,40.0 396.9,37.9 397.3,36.8 397.3,36.0 390.8,35.5 390.4,40.6" fill="#ffffff" stroke="#ffffff" stroke-width="0.6"/>
<polygon points="403.0,40.2 397.3,36.8 396.9,37.9 399.9,44.5 401.2,45.4" fill="#ffffff" stroke="#ffffff" stroke-width="0.6"/>
<polygon points="397.3,36.0 397.3,36.8 403.0,40.2 405.9,38.0 402.8,34.9 397.9,34.9" fill="#ffffff" stroke="#ffffff" stroke-width="0.6"/>
<polygon points="401.6,45.9 402.0,46.1 404.8,46.4 407.0,42.0 407.9,39.6 405.9,38.0 405.9,38.0 403.0,40.2 401.2,45.4" fill="#ffffff" stroke="#ffffff" stroke-width="0.6"/>
<polygon points="407.9,39.6 411.0,39.6 411.0,33.2 408.6,33.6 405.9,38.0" fill="#ffffff" stroke="#ffffff" stroke-width="0.6"/>
<polygon points="240.7,50.0 242.8,45.8 240.9,42.7 237.0,42.9 237.0,49.6" fill="#ffffff" stroke="#ffffff" stroke-width="0.6"/>
<polygon points="245.3,46.5 242.8,45.8 240.7,50.0 241.9,51.6 245.5,52.8 245.9,52.8 246.5,52.5 247.7,50.1" fill="#ffffff" stroke="#ffffff" stroke-width="0.6"/>
<polygon points="245.4,37.9 242.7,40.4 240.9,42.7 242.8,45.8 245.3,46.5 249.4,41.9" fill="#ffffff" stroke="#ffffff" stroke-width="0.6"/>
<polygon points="251.4,42.6 249.4,41.9 245.3,46.5 247.7,50.1 247.9,50.0 252.8,47.3" fill="#ffffff" stroke="#ffffff" stroke-width="0.6"/>
<polygon points="254.1,48.4 260.4,47.8 261.0,47.2 261.1,44.9 258.4,43.9 253.6,47.8" fill="#e0e0e0" stroke="#e0e0e0" stroke-width="0.6"/>
<polygon points="258.4,43.9 256.1,40.1 254.7,39.9 251.4,42.6 252.8,47.3 253.6,47.8" fill="#d1d1d1" stroke="#d1d1d1" stroke-width="0.6"/>
<polygon points="265.6,49.8 267.1,48.7 266.9,47.8 265.8,45.4 262.8,43.1 261.1,44.9 261.0,47.2" fill="#b3b3b3" stroke="#b3b3b3" stroke-width="0.6"/>
<polygon points="262.8,43.1 265.8,45.4 268.0,42.9 264.1,40.3 263.4,40.5" fill="#a6a6a6" stroke="#a6a6a6" stroke-width="0.6"/>
<polygon points="268.0,42.9 265.8,45.4 266.9,47.8 269.3,43.0" fill="#c7c7c7" stroke="#c7c7c7" stroke-width="0.6"/>
<polygon points="266.9,47.8 267.1,48.7 271.2,49.1 272.8,43.9 271.8,42.4 269.3,43.0" fill="#c6c6c6" stroke="#c6c6c6" stroke-width="0.6"/>
<polygon points="271.2,49.1 271.3,49.2 274.3,50.9 275.6,50.8 279.4,48.0 279.1,46.3 276.8,44.2 272.8,43.9" fill="#bababa" stroke="#bababa" stroke-width="0.6"/>
<polygon points="276.8,44.2 279.1,46.3 281.3,44.1 279.4,38.2 278.6,38.4" fill="#c4c4c4" stroke="#c4c4c4" stroke-width="0.6"/>
<polygon points="286.0,39.1 285.1,39.1 284.4,42.7 287.4,47.3 287.4,47.3 288.5,47.0 289.8,41.7" fill="#c3c3c3" stroke="#c3c3c3" stroke-width="0.6"/>
<polygon points="281.3,44.1 279.1,46.3 279.4,48.0 280.7,48.8 287.4,47.3 284.4,42.7" fill="#c0c0c0" stroke="#c0c0c0" stroke-width="0.6"/>
<polygon points="294.1,43.0 293.4,40.8 289.8,41.7 288.5,47.0 289.9,47.1 294.2,45.0" fill="#bbbbbb" stroke="#bbbbbb" stroke-width="0.6"/>
<polygon points="294.2,45.0 289.9,47.1 294.1,52.1 297.2,49.2 298.0,47.9" fill="#aeaeae" stroke="#aeaeae" stroke-width="0.6"/>
<polygon points="298.3,47.8 298.0,42.5 294.1,43.0 294.2,45.0 298.0,47.9" fill="#979797" stroke="#979797" stroke-width="0.6"/>
<polygon points="303.1,40.5 302.8,40.0 298.8,41.1 298.0,42.5 298.3,47.8 302.4,47.5 303.4,46.2 303.7,44.7" fill="#a4a4a4" stroke="#a4a4a4" stroke-width="0.6"/>
<polygon points="307.1,47.1 309.4,50.5 311.0,50.5 313.3,48.5 312.1,46.3 311.7,46.0" fill="#6d6d6d" stroke="#6d6d6d" stroke-width="0.6"/>
<polygon points="310.3,43.1 303.7,44.7 303.4,46.2 307.1,47.1 311.7,46.0" fill="#6d6d6d" stroke="#6d6d6d" stroke-width="0.6"/>
<polygon points="313.3,48.5 313.4,48.5 319.0,43.5 318.0,42.5 315.5,42.4 312.1,46.3" fill="#ffffff" stroke="#ffffff" stroke-width="0.6"/>
<polygon points="312.1,46.3 315.5,42.4 311.2,39.0 310.9,38.9 310.3,43.1 311.7,46.0" fill="#ffffff" stroke="#ffffff" stroke-width="0.6"/>
<polygon points="320.9,46.2 322.3,44.9 319.0,43.5 313.4,48.5 314.8,49.6" fill="#ffffff" stroke="#ffffff" stroke-width="0.6"/>
<polygon points="318.3,51.0 320.9,46.2 314.8,49.6 316.2,51.7" fill="#ffffff" stroke="#ffffff" stroke-width="0.6"/>
<polygon points="325.7,41.3 322.5,44.9 323.4,46.6 328.6,48.7 331.0,47.4 325.8,41.3" fill="#ffffff" stroke="#ffffff" stroke-width="0.6"/>
<polygon points="331.0,47.4 333.1,47.4 328.5,40.5 325.8,41.3" fill="#ffffff" stroke="#ffffff" stroke-width="0.6"/>
<polygon points="328.5,40.5 333.1,47.4 333.4,47.4 332.8,43.1 329.1,40.3" fill="#ffffff" stroke="#ffffff" stroke-width="0.6"/>
<polygon points="333.4,47.4 334.5,48.0 335.7,47.8 337.5,45.3 338.4,40.5 336.4,40.2 332.8,43.1" fill="#ffffff" stroke="#ffffff" stroke-width="0.6"/>
<polygon points="339.7,50.3 342.5,49.5 343.6,46.7 337.5,45.3 335.7,47.8 338.1,49.7" fill="#ffffff" stroke="#ffffff" stroke-width="0.6"/>
<polygon points="343.8,46.5 344.1,45.2 338.8,40.2 338.4,40.5 337.5,45.3 343.6,46.7" fill="#ffffff" stroke="#ffffff" stroke-width="0.6"/>
<polygon points="349.0,42.7 347.6,42.6 346.0,43.4 344.1,45.2 343.8,46.5 349.1,49.0 350.9,48.5 351.3,47.7" fill="#ffffff" stroke="#ffffff" stroke-width="0.6"/>
<polygon points="353.4,46.9 355.7,43.3 352.3,39.1 352.2,39.1 349.0,42.7 351.3,47.7" fill="#ffffff" stroke="#ffffff" stroke-width="0.6"/>
<polygon points="357.7,50.2 361.1,49.2 362.0,46.2 360.2,44.4 356.5,48.3" fill="#ffffff" stroke="#ffffff" stroke-width="0.6"/>
<polygon points="356.5,48.3 360.2,44.4 359.5,42.9 355.7,43.3 353.4,46.9" fill="#ffffff" stroke="#ffffff" stroke-width="0.6"/>
<polygon points="366.1,40.5 363.4,39.0 361.0,40.2 359.9,41.8 359.5,42.9 360.2,44.4 362.0,46.2 366.6,45.9 367.8,44.5 368.1,43.5" fill="#ffffff" stroke="#ffffff" stroke-width="0.6"/>
<polygon points="367.4,51.2 366.6,45.9 362.0,46.2 361.1,49.2 363.1,52.6" fill="#ffffff" stroke="#ffffff" stroke-width="0.6"/>
<polygon points="370.9,42.2 368.1,43.5 367.8,44.5 374.6,49.4 375.9,47.3" fill="#ffffff" stroke="#ffffff" stroke-width="0.6"/>
<polygon points="367.8,44.5 366.6,45.9 367.4,51.2 368.3,51.9 370.2,51.8 374.3,51.3 374.6,49.4" fill="#ffffff" stroke="#ffffff" stroke-width="0.6"/>
<polygon points="379.2,40.8 377.6,40.5 372.7,40.3 370.9,42.2 375.9,47.3 377.1,46.4 378.1,44.1" fill="#ffffff" stroke="#ffffff" stroke-width="0.6"/>
<polygon points="378.1,44.1 377.1,46.4 382.5,49.9 384.0,48.3" fill="#ffffff" stroke="#ffffff" stroke-width="0.6"/>
<polygon points="390.8,45.6 389.8,43.8 384.4,44.1 384.5,48.0 388.5,49.2" fill="#ffffff" stroke="#ffffff" stroke-width="0.6"/>
<polygon points="384.5,48.0 384.4,44.1 381.1,39.8 379.2,40.8 378.1,44.1 384.0,48.3" fill="#ffffff" stroke="#ffffff" stroke-width="0.6"/>
<polygon points="390.3,40.7 389.8,43.8 390.8,45.6 393.3,46.0 394.8,44.9 394.3,40.0 390.4,40.6" fill="#ffffff" stroke="#ffffff" stroke-width="0.6"/>
<polygon points="395.7,51.6 393.3,46.0 390.8,45.6 388.5,49.2 388.9,50.2 395.6,51.9" fill="#ffffff" stroke="#ffffff" stroke-width="0.6"/>
<polygon points="394.8,44.9 399.9,44.5 396.9,37.9 394.3,40.0" fill="#ffffff" stroke="#ffffff" stroke-width="0.6"/>
<polygon points="395.7,51.6 401.6,45.9 401.2,45.4 399.9,44.5 394.8,44.9 393.3,46.0" fill="#ffffff" stroke="#ffffff" stroke-width="0.6"/>
<polygon points="407.9,39.6 407.0,42.0 411.0,44.9 411.0,39.6" fill="#ffffff" stroke="#ffffff" stroke-width="0.6"/>
<polygon points="407.0,42.0 404.8,46.4 409.1,49.5 411.0,49.4 411.0,44.9" fill="#ffffff" stroke="#ffffff" stroke-width="0.6"/>
<polygon points="237.5,57.9 240.3,58.9 245.5,52.8 241.9,51.6" fill="#ffffff" stroke="#ffffff" stroke-width="0.6"/>
<polygon points="237.5,57.9 241.9,51.6 240.7,50.0 237.0,49.6 237.0,57.9" fill="#ffffff" stroke="#ffffff" stroke-width="0.6"/>
<polygon points="255.2,52.3 254.1,48.4 253.6,47.8 252.8,47.3 247.9,50.0 253.4,53.8 255.2,53.1" fill="#ffffff" stroke="#ffffff" stroke-width="0.6"/>
<polygon points="247.9,50.0 247.7,50.1 246.5,52.5 250.2,55.5 250.6,55.5 253.4,53.8" fill="#ffffff" stroke="#ffffff" stroke-width="0.6"/>
<polygon points="257.8,56.5 259.7,57.1 260.7,56.7 260.7,51.7 260.0,50.5 255.2,52.3 255.2,53.1" fill="#cecece" stroke="#cecece" stroke-width="0.6"/>
<polygon points="255.2,52.3 260.0,50.5 260.4,47.8 254.1,48.4" fill="#dfdfdf" stroke="#dfdfdf" stroke-width="0.6"/>
<polygon points="260.0,50.5 260.7,51.7 265.4,50.5 265.6,49.8 261.0,47.2 260.4,47.8" fill="#cbcbcb" stroke="#cbcbcb" stroke-width="0.6"/>
<polygon points="265.3,56.3 265.4,50.5 260.7,51.7 260.7,56.7" fill="#d1d1d1" stroke="#d1d1d1" stroke-width="0.6"/>
<polygon points="265.4,50.5 265.3,56.3 266.4,57.0 269.0,55.6 271.3,49.2 271.2,49.1 267.1,48.7 265.6,49.8" fill="#a7a7a7" stroke="#a7a7a7" stroke-width="0.6"/>
<polygon points="271.3,49.2 269.0,55.6 273.1,55.8 274.3,50.9" fill="#b4b4b4" stroke="#b4b4b4" stroke-width="0.6"/>
<polygon points="273.1,55.8 274.3,57.1 274.3,57.1 274.5,57.1 278.2,54.9 275.6,50.8 274.3,50.9" fill="#cdcdcd" stroke="#cdcdcd" stroke-width="0.6"/>
<polygon points="278.2,54.9 282.5,56.2 283.0,55.6 280.7,48.8 279.4,48.0 275.6,50.8" fill="#c9c9c9" stroke="#c9c9c9" stroke-width="0.6"/>
<polygon points="287.4,47.3 280.7,48.8 283.0,55.6 283.5,55.5 287.4,47.6 287.4,47.3" fill="#c4c4c4" stroke="#c4c4c4" stroke-width="0.6"/>
<polygon points="287.4,47.6 283.5,55.5 286.3,55.8 289.4,53.4" fill="#bababa" stroke="#bababa" stroke-width="0.6"/>
<polygon points="289.4,53.4 286.3,55.8 288.9,58.6 293.0,53.4" fill="#afafaf" stroke="#afafaf" stroke-width="0.6"/>
<polygon points="294.1,52.1 289.9,47.1 288.5,47.0 287.4,47.3 287.4,47.6 289.4,53.4 293.0,53.4 293.8,53.3" fill="#aaaaaa" stroke="#aaaaaa" stroke-width="0.6"/>
<polygon points="295.0,55.8 297.9,56.8 299.5,56.4 300.3,55.4 297.2,49.2 294.1,52.1 293.8,53.3" fill="#8e8e8e" stroke="#8e8e8e" stroke-width="0.6"/>
<polygon points="297.2,49.2 300.3,55.4 304.2,52.7 302.4,47.5 298.3,47.8 298.0,47.9" fill="#9d9d9d" stroke="#9d9d9d" stroke-width="0.6"/>
<polygon points="302.4,47.5 304.2,52.7 304.8,53.0 309.4,50.5 307.1,47.1 303.4,46.2" fill="#535353" stroke="#535353" stroke-width="0.6"/>
<polygon points="309.4,50.5 304.8,53.0 307.5,56.8 311.0,53.3 311.0,50.5" fill="#535353" stroke="#535353" stroke-width="0.6"/>
<polygon points="311.0,53.3 316.0,55.6 316.2,51.7 314.8,49.6 313.4,48.5 313.3,48.5 311.0,50.5" fill="#ffffff" stroke="#ffffff" stroke-width="0.6"/>
<polygon points="307.6,57.2 316.0,55.8 316.0,55.6 311.0,53.3 307.5,56.8" fill="#ffffff" stroke="#ffffff" stroke-width="0.6"/>
<polygon points="323.3,52.4 323.4,46.6 322.5,44.9 322.3,44.9 320.9,46.2 318.3,51.0" fill="#ffffff" stroke="#ffffff" stroke-width="0.6"/>
<polygon points="323.3,57.7 324.8,56.3 323.3,52.4 318.3,51.0 316.2,51.7 316.0,55.6 316.0,55.8 317.3,57.6" fill="#ffffff" stroke="#ffffff" stroke-width="0.6"/>
<polygon points="327.9,56.0 328.6,48.7 323.4,46.6 323.3,52.4 324.8,56.3" fill="#ffffff" stroke="#ffffff" stroke-width="0.6"/>
<polygon points="329.1,56.3 333.4,51.3 334.5,48.0 333.4,47.4 333.1,47.4 331.0,47.4 328.6,48.7 327.9,56.0" fill="#ffffff" stroke="#ffffff" stroke-width="0.6"/>
<polygon points="338.1,49.7 335.7,47.8 334.5,48.0 333.4,51.3 337.0,54.6" fill="#ffffff" stroke="#ffffff" stroke-width="0.6"/>
<polygon points="333.4,51.3 329.1,56.3 329.5,56.6 334.5,58.4 337.4,55.8 337.0,54.6" fill="#ffffff" stroke="#ffffff" stroke-width="0.6"/>
<polygon points="337.4,55.8 340.5,55.7 339.7,50.3 338.1,49.7 337.0,54.6" fill="#ffffff" stroke="#ffffff" stroke-width="0.6"/>
<polygon points="343.0,56.9 345.2,55.2 345.3,53.2 342.5,49.5 339.7,50.3 340.5,55.7" fill="#ffffff" stroke="#ffffff" stroke-width="0.6"/>
<polygon points="342.5,49.5 345.3,53.2 349.1,49.0 343.8,46.5 343.6,46.7" fill="#ffffff" stroke="#ffffff" stroke-width="0.6"/>
<polygon points="352.4,52.3 350.9,48.5 349.1,49.0 345.3,53.2 345.2,55.2 351.3,56.9" fill="#ffffff" stroke="#ffffff" stroke-width="0.6"/>
<polygon points="357.7,50.2 356.5,48.3 353.4,46.9 351.3,47.7 350.9,48.5 352.4,52.3 357.1,52.1" fill="#ffffff" stroke="#ffffff" stroke-width="0.6"/>
<polygon points="352.4,52.3 351.3,56.9 351.6,57.5 352.3,58.3 356.6,57.8 356.8,57.7 358.7,55.2 357.1,52.1" fill="#ffffff" stroke="#ffffff" stroke-width="0.6"/>
<polygon points="368.0,56.3 368.3,51.9 367.4,51.2 363.1,52.6 362.0,54.8 363.9,57.6" fill="#ffffff" stroke="#ffffff" stroke-width="0.6"/>
<polygon points="358.7,55.2 362.0,54.8 363.1,52.6 361.1,49.2 357.7,50.2 357.1,52.1" fill="#ffffff" stroke="#ffffff" stroke-width="0.6"/>
<polygon points="371.3,58.4 370.2,51.8 368.3,51.9 368.0,56.3 368.5,56.8" fill="#ffffff" stroke="#ffffff" stroke-width="0.6"/>
<polygon points="374.3,51.3 370.2,51.8 371.3,58.4 371.5,58.6 371.5,58.6 375.3,52.9" fill="#ffffff" stroke="#ffffff" stroke-width="0.6"/>
<polygon points="377.1,46.4 375.9,47.3 374.6,49.4 374.3,51.3 375.3,52.9 376.8,53.6 382.4,50.2 382.5,49.9" fill="#ffffff" stroke="#ffffff" stroke-width="0.6"/>
<polygon points="383.8,56.4 384.6,54.7 382.4,50.2 376.8,53.6 379.6,57.7" fill="#ffffff" stroke="#ffffff" stroke-width="0.6"/>
<polygon points="388.9,50.2 388.5,49.2 384.5,48.0 384.0,48.3 382.5,49.9 382.4,50.2 384.6,54.7 386.1,54.1 388.3,52.1" fill="#ffffff" stroke="#ffffff" stroke-width="0.6"/>
<polygon points="384.6,54.7 383.8,56.4 383.9,56.6 388.9,60.5 389.0,60.4 390.6,57.1 386.1,54.1" fill="#ffffff" stroke="#ffffff" stroke-width="0.6"/>
<polygon points="394.2,55.2 395.9,53.4 395.6,51.9 388.9,50.2 388.3,52.1 392.0,55.9" fill="#ffffff" stroke="#ffffff" stroke-width="0.6"/>
<polygon points="388.3,52.1 386.1,54.1 390.6,57.1 392.0,55.9" fill="#ffffff" stroke="#ffffff" stroke-width="0.6"/>
<polygon points="395.9,53.4 397.5,54.2 401.9,51.6 402.0,46.1 401.6,45.9 395.7,51.6 395.6,51.9" fill="#ffffff" stroke="#ffffff" stroke-width="0.6"/>
<polygon points="399.6,56.2 404.8,54.1 401.9,51.6 397.5,54.2" fill="#ffffff" stroke="#ffffff" stroke-width="0.6"/>
<polygon points="409.1,49.5 405.8,54.1 407.3,59.7 408.5,60.7 411.0,60.6 411.0,49.4" fill="#ffffff" stroke="#ffffff" stroke-width="0.6"/>
<polygon points="402.0,46.1 401.9,51.6 404.8,54.1 405.8,54.1 409.1,49.5 404.8,46.4" fill="#ffffff" stroke="#ffffff" stroke-width="0.6"/>
<polygon points="245.5,52.8 240.3,58.9 242.6,60.8 245.8,60.9 245.9,52.8" fill="#ffffff" stroke="#ffffff" stroke-width="0.6"/>
<polygon points="237.4,68.8 240.6,65.9 242.6,60.8 240.3,58.9 237.5,57.9 237.0,57.9 237.0,69.0" fill="#ffffff" stroke="#ffffff" stroke-width="0.6"/>
<polygon points="250.2,55.5 247.4,61.7 248.3,62.7 253.3,60.7 253.8,59.6 250.6,55.5" fill="#e8e8e8" stroke="#e8e8e8" stroke-width="0.6"/>
<polygon points="245.9,52.8 245.8,60.9 247.4,61.7 250.2,55.5 246.5,52.5" fill="#d8d8d8" stroke="#d8d8d8" stroke-width="0.6"/>
<polygon points="253.4,53.8 250.6,55.5 253.8,59.6 257.8,56.5 255.2,53.1" fill="#a0a0a0" stroke="#a0a0a0" stroke-width="0.6"/>
<polygon points="253.8,59.6 253.3,60.7 257.2,64.9 259.7,58.7 259.7,57.1 257.8,56.5" fill="#9f9f9f" stroke="#9f9f9f" stroke-width="0.6"/>
<polygon points="257.2,64.9 257.7,67.1 259.3,69.0 260.9,69.1 261.5,67.7 262.9,63.3 259.7,58.7" fill="#9c9c9c" stroke="#9c9c9c" stroke-width="0.6"/>
<polygon points="259.7,57.1 259.7,58.7 262.9,63.3 267.4,60.0 266.4,57.0 265.3,56.3 260.7,56.7" fill="#989898" stroke="#989898" stroke-width="0.6"/>
<polygon points="273.1,55.8 269.0,55.6 266.4,57.0 267.4,60.0 268.5,61.1 274.3,57.1" fill="#a8a8a8" stroke="#a8a8a8" stroke-width="0.6"/>
<polygon points="273.7,62.7 274.3,57.1 274.3,57.1 268.5,61.1 268.9,61.7 269.8,62.8 272.2,63.6" fill="#a0a0a0" stroke="#a0a0a0" stroke-width="0.6"/>
<polygon points="282.5,56.2 278.2,54.9 274.5,57.1 280.2,61.3 281.8,58.7" fill="#bfbfbf" stroke="#bfbfbf" stroke-width="0.6"/>
<polygon points="274.5,57.1 274.3,57.1 273.7,62.7 279.9,62.6 280.2,61.3" fill="#bdbdbd" stroke="#bdbdbd" stroke-width="0.6"/>
<polygon points="288.9,58.6 286.3,55.8 283.5,55.5 283.0,55.6 282.5,56.2 281.8,58.7 287.7,62.0 289.5,61.0 289.9,60.2" fill="#adadad" stroke="#adadad" stroke-width="0.6"/>
<polygon points="285.7,64.9 285.9,64.8 287.7,62.0 281.8,58.7 280.2,61.3 279.9,62.6 280.7,64.6" fill="#a8a8a8" stroke="#a8a8a8" stroke-width="0.6"/>
<polygon points="293.0,53.4 288.9,58.6 289.9,60.2 292.2,59.8 295.0,55.8 293.8,53.3" fill="#a8a8a8" stroke="#a8a8a8" stroke-width="0.6"/>
<polygon points="294.0,65.8 295.0,62.7 292.2,59.8 289.9,60.2 289.5,61.0 291.7,67.1" fill="#adadad" stroke="#adadad" stroke-width="0.6"/>
<polygon points="295.0,62.7 297.7,61.9 297.9,56.8 295.0,55.8 292.2,59.8" fill="#949494" stroke="#949494" stroke-width="0.6"/>
<polygon points="301.5,63.0 301.7,58.7 299.5,56.4 297.9,56.8 297.7,61.9 300.3,63.5" fill="#9b9b9b" stroke="#9b9b9b" stroke-width="0.6"/>
<polygon points="307.5,58.4 301.7,58.7 301.5,63.0 303.7,63.2 307.7,59.3" fill="#979797" stroke="#979797" stroke-width="0.6"/>
<polygon points="304.2,52.7 300.3,55.4 299.5,56.4 301.7,58.7 307.5,58.4 307.6,57.2 307.5,56.8 304.8,53.0" fill="#a5a5a5" stroke="#a5a5a5" stroke-width="0.6"/>
<polygon points="317.3,57.6 316.0,55.8 307.6,57.2 307.5,58.4 307.7,59.3 309.8,61.1 315.9,59.8" fill="#ffffff" stroke="#ffffff" stroke-width="0.6"/>
<polygon points="315.9,59.8 309.8,61.1 310.0,64.1 315.7,64.9 316.0,60.5" fill="#ffffff" stroke="#ffffff" stroke-width="0.6"/>
<polygon points="320.7,64.6 316.0,60.5 315.7,64.9 316.5,66.9" fill="#ffffff" stroke="#ffffff" stroke-width="0.6"/>
<polygon points="321.6,64.0 323.4,59.4 323.3,57.7 317.3,57.6 315.9,59.8 316.0,60.5 320.7,64.6 321.2,64.5" fill="#ffffff" stroke="#ffffff" stroke-width="0.6"/>
<polygon points="329.6,58.6 329.5,56.6 329.1,56.3 327.9,56.0 324.8,56.3 323.3,57.7 323.4,59.4 328.2,66.5" fill="#ffffff" stroke="#ffffff" stroke-width="0.6"/>
<polygon points="328.9,67.5 330.4,66.5 330.6,66.4 331.3,62.5 329.6,58.6 328.2,66.5 328.4,67.1" fill="#ffffff" stroke="#ffffff" stroke-width="0.6"/>
<polygon points="335.7,61.7 331.3,62.5 330.6,66.4 336.2,63.6" fill="#ffffff" stroke="#ffffff" stroke-width="0.6"/>
<polygon points="335.6,60.7 334.5,58.4 329.5,56.6 329.6,58.6 331.3,62.5 335.7,61.7" fill="#ffffff" stroke="#ffffff" stroke-width="0.6"/>
<polygon points="334.5,58.4 335.6,60.7 342.9,58.8 343.0,56.9 340.5,55.7 337.4,55.8" fill="#ffffff" stroke="#ffffff" stroke-width="0.6"/>
<polygon points="343.6,62.1 342.9,58.8 335.6,60.7 335.7,61.7 336.2,63.6 337.6,64.7 340.8,64.8" fill="#ffffff" stroke="#ffffff" stroke-width="0.6"/>
<polygon points="343.6,62.2 346.5,63.7 351.6,63.4 352.3,58.3 351.6,57.5" fill="#ffffff" stroke="#ffffff" stroke-width="0.6"/>
<polygon points="351.3,56.9 345.2,55.2 343.0,56.9 342.9,58.8 343.6,62.1 343.6,62.2 351.6,57.5" fill="#ffffff" stroke="#ffffff" stroke-width="0.6"/>
<polygon points="356.6,57.8 358.7,64.8 363.5,61.7 363.5,61.6 356.8,57.7" fill="#ffffff" stroke="#ffffff" stroke-width="0.6"/>
<polygon points="352.3,58.3 351.6,63.4 353.5,66.4 357.7,65.5 358.5,65.2 358.7,64.8 356.6,57.8" fill="#ffffff" stroke="#ffffff" stroke-width="0.6"/>
<polygon points="366.2,62.1 368.5,56.8 368.0,56.3 363.9,57.6 363.5,61.6 363.5,61.7 364.3,62.3" fill="#ffffff" stroke="#ffffff" stroke-width="0.6"/>
<polygon points="356.8,57.7 363.5,61.6 363.9,57.6 362.0,54.8 358.7,55.2" fill="#ffffff" stroke="#ffffff" stroke-width="0.6"/>
<polygon points="369.1,62.5 371.5,58.6 371.3,58.4 368.5,56.8 366.2,62.1" fill="#ffffff" stroke="#ffffff" stroke-width="0.6"/>
<polygon points="374.2,64.8 374.8,60.5 371.5,58.6 371.5,58.6 369.1,62.5 371.8,66.6 372.1,66.9 372.2,66.9" fill="#ffffff" stroke="#ffffff" stroke-width="0.6"/>
<polygon points="376.8,53.6 375.3,52.9 371.5,58.6 374.8,60.5 379.2,58.8 379.6,57.7" fill="#ffffff" stroke="#ffffff" stroke-width="0.6"/>
<polygon points="378.7,64.4 380.6,63.2 379.2,58.8 374.8,60.5 374.2,64.8" fill="#ffffff" stroke="#ffffff" stroke-width="0.6"/>
<polygon points="384.2,62.7 388.9,60.6 388.9,60.5 383.9,56.6" fill="#ffffff" stroke="#ffffff" stroke-width="0.6"/>
<polygon points="379.2,58.8 380.6,63.2 382.5,64.3 384.2,62.7 383.9,56.6 383.8,56.4 379.6,57.7" fill="#ffffff" stroke="#ffffff" stroke-width="0.6"/>
<polygon points="390.6,57.1 389.0,60.4 395.0,60.4 394.2,55.2 392.0,55.9" fill="#ffffff" stroke="#ffffff" stroke-width="0.6"/>
<polygon points="390.2,63.5 396.4,63.0 395.6,61.1 395.0,60.4 389.0,60.4 388.9,60.5 388.9,60.6 389.6,63.0" fill="#ffffff" stroke="#ffffff" stroke-width="0.6"/>
<polygon points="397.9,64.6 399.1,64.2 401.6,60.0 399.6,56.5 395.6,61.1 396.4,63.0" fill="#ffffff" stroke="#ffffff" stroke-width="0.6"/>
<polygon points="395.0,60.4 395.6,61.1 399.6,56.5 399.6,56.2 397.5,54.2 395.9,53.4 394.2,55.2" fill="#ffffff" stroke="#ffffff" stroke-width="0.6"/>
<polygon points="401.6,60.0 407.3,59.7 405.8,54.1 404.8,54.1 399.6,56.2 399.6,56.5" fill="#ffffff" stroke="#ffffff" stroke-width="0.6"/>
<polygon points="405.4,66.8 408.5,60.7 407.3,59.7 401.6,60.0 399.1,64.2" fill="#ffffff" stroke="#ffffff" stroke-width="0.6"/>
<polygon points="237.4,68.8 243.4,69.8 245.5,68.9 245.5,66.7 240.6,65.9" fill="#ffffff" stroke="#ffffff" stroke-width="0.6"/>
<polygon points="245.8,60.9 242.6,60.8 240.6,65.9 245.5,66.7 248.3,62.8 248.3,62.7 247.4,61.7" fill="#ffffff" stroke="#ffffff" stroke-width="0.6"/>
<polygon points="248.3,62.8 245.5,66.7 245.5,68.9 247.6,70.9 249.4,71.2 249.7,70.2 249.2,64.1" fill="#e3e3e3" stroke="#e3e3e3" stroke-width="0.6"/>
<polygon points="249.2,64.1 249.7,70.2 253.9,66.7" fill="#dcdcdc" stroke="#dcdcdc" stroke-width="0.6"/>
<polygon points="257.7,67.1 257.2,64.9 253.3,60.7 248.3,62.7 248.3,62.8 249.2,64.1 253.9,66.7" fill="#a6a6a6" stroke="#a6a6a6" stroke-width="0.6"/>
<polygon points="257.3,71.1 259.3,69.0 257.7,67.1 253.9,66.7 249.7,70.2 249.4,71.2 250.8,72.8 251.2,73.2" fill="#acacac" stroke="#acacac" stroke-width="0.6"/>
<polygon points="262.2,69.9 265.4,70.4 269.8,62.8 268.9,61.7 261.5,67.7 260.9,69.1" fill="#959595" stroke="#959595" stroke-width="0.6"/>
<polygon points="261.5,67.7 268.9,61.7 268.5,61.1 267.4,60.0 262.9,63.3" fill="#969696" stroke="#969696" stroke-width="0.6"/>
<polygon points="272.7,65.7 269.5,70.8 273.7,70.1 275.0,67.9" fill="#b6b6b6" stroke="#b6b6b6" stroke-width="0.6"/>
<polygon points="272.2,63.6 269.8,62.8 265.4,70.4 267.7,72.0 269.5,70.8 272.7,65.7" fill="#aaaaaa" stroke="#aaaaaa" stroke-width="0.6"/>
<polygon points="275.0,67.9 273.7,70.1 275.0,72.1 280.6,70.9 279.8,68.3" fill="#838383" stroke="#838383" stroke-width="0.6"/>
<polygon points="279.9,62.6 273.7,62.7 272.2,63.6 272.7,65.7 275.0,67.9 279.8,68.3 280.7,64.6" fill="#7c7c7c" stroke="#7c7c7c" stroke-width="0.6"/>
<polygon points="287.3,71.4 290.3,68.0 285.9,64.8 285.7,64.9 285.5,71.8" fill="#4f4f4f" stroke="#4f4f4f" stroke-width="0.6"/>
<polygon points="285.7,64.9 280.7,64.6 279.8,68.3 280.6,70.9 281.3,72.0 284.7,72.2 285.5,71.8" fill="#4a4a4a" stroke="#4a4a4a" stroke-width="0.6"/>
<polygon points="289.5,61.0 287.7,62.0 285.9,64.8 290.3,68.0 291.3,67.7 291.7,67.1" fill="#696969" stroke="#696969" stroke-width="0.6"/>
<polygon points="297.7,69.3 297.3,67.3 294.0,65.8 291.7,67.1 291.3,67.7 293.2,70.4 296.8,70.3" fill="#6b6b6b" stroke="#6b6b6b" stroke-width="0.6"/>
<polygon points="303.2,70.7 300.0,64.7 297.3,67.3 297.7,69.3" fill="#808080" stroke="#808080" stroke-width="0.6"/>
<polygon points="300.0,64.7 300.3,63.5 297.7,61.9 295.0,62.7 294.0,65.8 297.3,67.3" fill="#828282" stroke="#828282" stroke-width="0.6"/>
<polygon points="307.7,59.3 303.7,63.2 307.0,68.7 308.9,67.5 310.0,64.1 309.8,61.1" fill="#999999" stroke="#999999" stroke-width="0.6"/>
<polygon points="301.5,63.0 300.3,63.5 300.0,64.7 303.2,70.7 303.3,70.8 306.5,69.6 307.0,68.7 303.7,63.2" fill="#9d9d9d" stroke="#9d9d9d" stroke-width="0.6"/>
<polygon points="313.8,74.6 314.5,74.6 315.8,67.6 311.9,68.4" fill="#ffffff" stroke="#ffffff" stroke-width="0.6"/>
<polygon points="315.7,64.9 310.0,64.1 308.9,67.5 311.9,68.4 315.8,67.6 316.5,67.1 316.5,66.9" fill="#ffffff" stroke="#ffffff" stroke-width="0.6"/>
<polygon points="328.3,67.1 321.6,64.0 321.2,64.5 322.5,67.7" fill="#ffffff" stroke="#ffffff" stroke-width="0.6"/>
<polygon points="321.2,64.5 320.7,64.6 316.5,66.9 316.5,67.1 320.5,70.9 322.5,67.7" fill="#ffffff" stroke="#ffffff" stroke-width="0.6"/>
<polygon points="328.4,67.1 328.2,66.5 323.4,59.4 321.6,64.0 328.3,67.1" fill="#ffffff" stroke="#ffffff" stroke-width="0.6"/>
<polygon points="320.5,70.9 320.6,71.0 326.0,71.9 328.3,71.4 328.6,71.2 329.1,70.4 328.9,67.5 328.4,67.1 328.3,67.1 322.5,67.7" fill="#ffffff" stroke="#ffffff" stroke-width="0.6"/>
<polygon points="335.6,71.9 336.5,71.4 336.5,68.7 330.4,66.5 328.9,67.5 329.1,70.4" fill="#ffffff" stroke="#ffffff" stroke-width="0.6"/>
<polygon points="330.6,66.4 330.4,66.5 336.5,68.7 337.6,64.7 336.2,63.6" fill="#ffffff" stroke="#ffffff" stroke-width="0.6"/>
<polygon points="346.4,65.1 346.5,63.7 343.6,62.2 343.6,62.1 340.8,64.8 342.8,70.2" fill="#ffffff" stroke="#ffffff" stroke-width="0.6"/>
<polygon points="342.8,70.2 340.8,64.8 337.6,64.7 336.5,68.7 336.5,71.4 339.3,72.0 342.2,71.9 342.8,70.3" fill="#ffffff" stroke="#ffffff" stroke-width="0.6"/>
<polygon points="347.4,69.0 346.4,65.1 342.8,70.2 342.8,70.3" fill="#ffffff" stroke="#ffffff" stroke-width="0.6"/>
<polygon points="348.0,69.2 353.4,67.0 353.5,66.4 351.6,63.4 346.5,63.7 346.4,65.1 347.4,69.0" fill="#ffffff" stroke="#ffffff" stroke-width="0.6"/>
<polygon points="359.3,71.8 357.7,65.5 353.5,66.4 353.4,67.0 353.7,69.5 356.7,73.1 357.8,73.9" fill="#ffffff" stroke="#ffffff" stroke-width="0.6"/>
<polygon points="362.7,69.6 362.7,69.3 358.5,65.2 357.7,65.5 359.3,71.8" fill="#ffffff" stroke="#ffffff" stroke-width="0.6"/>
<polygon points="368.7,74.3 369.3,73.7 369.8,70.1 364.7,67.9 362.7,69.3 362.7,69.6 364.2,72.2" fill="#ffffff" stroke="#ffffff" stroke-width="0.6"/>
<polygon points="364.3,62.3 363.5,61.7 358.7,64.8 358.5,65.2 362.7,69.3 364.7,67.9 365.0,65.8" fill="#ffffff" stroke="#ffffff" stroke-width="0.6"/>
<polygon points="371.8,66.6 365.0,65.8 364.7,67.9 369.8,70.1 372.1,66.9" fill="#ffffff" stroke="#ffffff" stroke-width="0.6"/>
<polygon points="369.1,62.5 366.2,62.1 364.3,62.3 365.0,65.8 371.8,66.6" fill="#ffffff" stroke="#ffffff" stroke-width="0.6"/>
<polygon points="375.0,68.9 378.1,68.9 378.7,64.4 374.2,64.8 372.2,66.9" fill="#ffffff" stroke="#ffffff" stroke-width="0.6"/>
<polygon points="381.4,71.0 382.5,70.0 383.5,66.5 382.5,64.3 380.6,63.2 378.7,64.4 378.1,68.9" fill="#ffffff" stroke="#ffffff" stroke-width="0.6"/>
<polygon points="382.5,64.3 383.5,66.5 385.9,66.5 389.6,63.0 388.9,60.6 384.2,62.7" fill="#ffffff" stroke="#ffffff" stroke-width="0.6"/>
<polygon points="385.9,66.5 383.5,66.5 382.5,70.0 389.2,72.3 390.4,69.7" fill="#ffffff" stroke="#ffffff" stroke-width="0.6"/>
<polygon points="385.9,66.5 390.4,69.7 391.9,68.6 390.2,63.5 389.6,63.0" fill="#ffffff" stroke="#ffffff" stroke-width="0.6"/>
<polygon points="396.5,68.0 397.9,64.6 396.4,63.0 390.2,63.5 391.9,68.6 395.6,68.5 395.9,68.5" fill="#ffffff" stroke="#ffffff" stroke-width="0.6"/>
<polygon points="400.8,72.3 403.8,71.8 404.9,69.3 404.9,69.1 399.2,69.5" fill="#ffffff" stroke="#ffffff" stroke-width="0.6"/>
<polygon points="399.2,69.5 404.9,69.1 405.5,67.2 405.4,66.8 399.1,64.2 397.9,64.6 396.5,68.0" fill="#ffffff" stroke="#ffffff" stroke-width="0.6"/>
<polygon points="406.8,71.1 411.0,71.1 411.0,68.8 405.5,67.2 404.9,69.1 404.9,69.3" fill="#ffffff" stroke="#ffffff" stroke-width="0.6"/>
<polygon points="408.5,60.7 405.4,66.8 405.5,67.2 411.0,68.8 411.0,60.6" fill="#ffffff" stroke="#ffffff" stroke-width="0.6"/>
<polygon points="237.0,75.8 242.7,76.2 242.7,76.2 244.0,74.0 243.4,69.8 237.4,68.8 237.0,69.0 237.0,75.7" fill="#ffffff" stroke="#ffffff" stroke-width="0.6"/>
<polygon points="244.0,74.0 247.6,70.9 245.5,68.9 243.4,69.8" fill="#ffffff" stroke="#ffffff" stroke-width="0.6"/>
<polygon points="250.8,72.8 242.7,76.2 242.7,76.2 245.0,78.4 245.3,78.4 251.0,75.7 251.2,73.2" fill="#dadada" stroke="#dadada" stroke-width="0.6"/>
<polygon points="249.4,71.2 247.6,70.9 244.0,74.0 242.7,76.2 250.8,72.8" fill="#e4e4e4" stroke="#e4e4e4" stroke-width="0.6"/>
<polygon points="257.3,71.1 251.2,73.2 251.0,75.7 252.7,78.4 253.4,78.3 257.2,74.3" fill="#b1b1b1" stroke="#b1b1b1" stroke-width="0.6"/>
<polygon points="257.2,74.3 253.4,78.3 256.7,78.9 258.0,76.8" fill="#b6b6b6" stroke="#b6b6b6" stroke-width="0.6"/>
<polygon points="265.4,70.4 262.2,69.9 261.6,77.7 262.0,78.4 267.8,79.6 267.9,79.6 268.3,73.3 267.7,72.0" fill="#989898" stroke="#989898" stroke-width="0.6"/>
<polygon points="261.6,77.7 262.2,69.9 260.9,69.1 259.3,69.0 257.3,71.1 257.2,74.3 258.0,76.8" fill="#a1a1a1" stroke="#a1a1a1" stroke-width="0.6"/>
<polygon points="275.0,72.1 273.7,70.1 269.5,70.8 267.7,72.0 268.3,73.3 272.3,74.1 274.2,73.4" fill="#aeaeae" stroke="#aeaeae" stroke-width="0.6"/>
<polygon points="268.3,73.3 267.9,79.6 268.2,79.7 273.8,79.4 275.1,78.9 272.3,74.1" fill="#a3a3a3" stroke="#a3a3a3" stroke-width="0.6"/>
<polygon points="272.3,74.1 275.1,78.9 276.9,78.8 278.1,77.1 274.2,73.4" fill="#6d6d6d" stroke="#6d6d6d" stroke-width="0.6"/>
<polygon points="278.1,77.1 280.0,75.7 281.3,72.0 280.6,70.9 275.0,72.1 274.2,73.4" fill="#6c6c6c" stroke="#6c6c6c" stroke-width="0.6"/>
<polygon points="292.8,76.3 287.3,71.4 285.5,71.8 284.7,72.2 287.8,79.1 288.4,79.6 292.8,76.3" fill="#787878" stroke="#787878" stroke-width="0.6"/>
<polygon points="284.7,72.2 281.3,72.0 280.0,75.7 283.3,78.9 287.8,79.1" fill="#7b7b7b" stroke="#7b7b7b" stroke-width="0.6"/>
<polygon points="291.3,67.7 290.3,68.0 287.3,71.4 292.8,76.3 293.2,70.4" fill="#959595" stroke="#959595" stroke-width="0.6"/>
<polygon points="296.8,70.3 293.2,70.4 292.8,76.3 292.8,76.3 295.9,77.1 297.3,76.1" fill="#a8a8a8" stroke="#a8a8a8" stroke-width="0.6"/>
<polygon points="304.9,79.0 305.0,77.8 302.0,73.9 297.9,75.9 304.1,80.9 304.2,80.9" fill="#848484" stroke="#848484" stroke-width="0.6"/>
<polygon points="302.0,73.9 303.3,70.8 303.2,70.7 297.7,69.3 296.8,70.3 297.3,76.1 297.9,75.9" fill="#8e8e8e" stroke="#8e8e8e" stroke-width="0.6"/>
<polygon points="309.6,74.5 306.5,69.6 303.3,70.8 302.0,73.9 305.0,77.8" fill="#9f9f9f" stroke="#9f9f9f" stroke-width="0.6"/>
<polygon points="310.5,79.1 311.1,75.1 309.6,74.5 305.0,77.8 304.9,79.0" fill="#a0a0a0" stroke="#a0a0a0" stroke-width="0.6"/>
<polygon points="307.0,68.7 306.5,69.6 309.6,74.5 311.1,75.1 313.8,74.6 311.9,68.4 308.9,67.5" fill="#ffffff" stroke="#ffffff" stroke-width="0.6"/>
<polygon points="316.5,67.1 315.8,67.6 314.5,74.6 318.2,76.3 318.3,76.1 320.6,71.0 320.5,70.9" fill="#ffffff" stroke="#ffffff" stroke-width="0.6"/>
<polygon points="320.0,78.5 326.1,78.3 325.6,77.0 323.7,75.5 318.3,76.1 318.2,76.3 318.2,76.3" fill="#ffffff" stroke="#ffffff" stroke-width="0.6"/>
<polygon points="318.3,76.1 323.7,75.5 326.0,71.9 320.6,71.0" fill="#ffffff" stroke="#ffffff" stroke-width="0.6"/>
<polygon points="326.0,71.9 323.7,75.5 325.6,77.0 328.3,71.4" fill="#ffffff" stroke="#ffffff" stroke-width="0.6"/>
<polygon points="325.6,77.0 326.1,78.3 327.0,79.1 330.3,76.6 328.6,71.2 328.3,71.4" fill="#ffffff" stroke="#ffffff" stroke-width="0.6"/>
<polygon points="330.3,76.6 333.9,78.1 334.6,77.9 335.6,71.9 329.1,70.4 328.6,71.2" fill="#ffffff" stroke="#ffffff" stroke-width="0.6"/>
<polygon points="339.3,72.0 336.5,71.4 335.6,71.9 334.6,77.9 337.6,79.0" fill="#ffffff" stroke="#ffffff" stroke-width="0.6"/>
<polygon points="349.5,76.5 349.1,75.1 348.9,74.9 342.6,72.5 341.9,77.3 348.2,79.1 349.6,77.5" fill="#ffffff" stroke="#ffffff" stroke-width="0.6"/>
<polygon points="342.2,71.9 339.3,72.0 337.6,79.0 339.3,80.0 341.9,77.3 342.6,72.5" fill="#ffffff" stroke="#ffffff" stroke-width="0.6"/>
<polygon points="342.2,71.9 342.6,72.5 348.9,74.9 348.0,69.2 347.4,69.0 342.8,70.3" fill="#ffffff" stroke="#ffffff" stroke-width="0.6"/>
<polygon points="348.0,69.2 348.9,74.9 349.1,75.1 353.7,69.5 353.4,67.0" fill="#ffffff" stroke="#ffffff" stroke-width="0.6"/>
<polygon points="353.7,69.5 349.1,75.1 349.5,76.5 356.7,73.1" fill="#ffffff" stroke="#ffffff" stroke-width="0.6"/>
<polygon points="356.7,73.1 349.5,76.5 349.6,77.5 352.6,78.7 357.6,78.0 358.8,76.3 357.8,73.9" fill="#ffffff" stroke="#ffffff" stroke-width="0.6"/>
<polygon points="358.8,76.3 359.9,76.4 364.2,72.2 362.7,69.6 359.3,71.8 357.8,73.9" fill="#ffffff" stroke="#ffffff" stroke-width="0.6"/>
<polygon points="368.7,74.3 364.2,72.2 359.9,76.4 365.2,78.6 367.8,78.3" fill="#ffffff" stroke="#ffffff" stroke-width="0.6"/>
<polygon points="368.3,78.9 368.5,78.9 374.1,77.4 373.0,74.1 369.3,73.7 368.7,74.3 367.8,78.3" fill="#ffffff" stroke="#ffffff" stroke-width="0.6"/>
<polygon points="372.1,66.9 369.8,70.1 369.3,73.7 373.0,74.1 375.6,73.6 375.0,68.9 372.2,66.9" fill="#ffffff" stroke="#ffffff" stroke-width="0.6"/>
<polygon points="378.7,75.1 375.6,73.6 373.0,74.1 374.1,77.4 375.0,77.8 378.7,75.2" fill="#ffffff" stroke="#ffffff" stroke-width="0.6"/>
<polygon points="375.0,68.9 375.6,73.6 378.7,75.1 381.2,71.8 381.4,71.0 378.1,68.9" fill="#ffffff" stroke="#ffffff" stroke-width="0.6"/>
<polygon points="381.2,71.8 387.4,77.5 389.5,76.4 389.2,72.3 382.5,70.0 381.4,71.0" fill="#ffffff" stroke="#ffffff" stroke-width="0.6"/>
<polygon points="380.0,78.0 385.6,79.6 387.4,77.5 381.2,71.8 378.7,75.1 378.7,75.2" fill="#ffffff" stroke="#ffffff" stroke-width="0.6"/>
<polygon points="395.6,68.5 391.3,77.0 391.5,77.1 393.8,76.9 396.8,75.2 395.9,68.5" fill="#ffffff" stroke="#ffffff" stroke-width="0.6"/>
<polygon points="390.4,69.7 389.2,72.3 389.5,76.4 391.3,77.0 395.6,68.5 391.9,68.6" fill="#ffffff" stroke="#ffffff" stroke-width="0.6"/>
<polygon points="398.9,75.8 400.2,76.9 404.7,76.1 403.8,71.8 400.8,72.3" fill="#ffffff" stroke="#ffffff" stroke-width="0.6"/>
<polygon points="396.8,75.2 398.9,75.8 400.8,72.3 399.2,69.5 396.5,68.0 395.9,68.5" fill="#ffffff" stroke="#ffffff" stroke-width="0.6"/>
<polygon points="404.7,76.1 408.7,78.1 409.7,77.7 406.8,71.1 404.9,69.3 403.8,71.8" fill="#ffffff" stroke="#ffffff" stroke-width="0.6"/>
<polygon points="411.0,77.6 411.0,71.1 406.8,71.1 409.7,77.7" fill="#ffffff" stroke="#ffffff" stroke-width="0.6"/>
<polygon points="240.7,85.6 244.5,79.8 245.0,78.4 242.7,76.2 237.0,75.8 237.0,75.8 237.0,85.7" fill="#ffffff" stroke="#ffffff" stroke-width="0.6"/>
<polygon points="244.5,79.8 240.7,85.6 242.2,86.1 245.3,85.9 245.9,85.0" fill="#ffffff" stroke="#ffffff" stroke-width="0.6"/>
<polygon points="249.0,82.2 251.6,82.4 252.7,78.4 251.0,75.7 245.3,78.4" fill="#ffffff" stroke="#ffffff" stroke-width="0.6"/>
<polygon points="245.0,78.4 244.5,79.8 245.9,85.0 249.0,82.2 245.3,78.4" fill="#ffffff" stroke="#ffffff" stroke-width="0.6"/>
<polygon points="256.7,78.9 257.8,80.8 260.7,80.3 262.0,78.4 261.6,77.7 258.0,76.8" fill="#b2b2b2" stroke="#b2b2b2" stroke-width="0.6"/>
<polygon points="256.1,84.9 257.8,80.8 256.7,78.9 253.4,78.3 252.7,78.4 251.6,82.4 252.9,84.4 255.5,85.3" fill="#a4a4a4" stroke="#a4a4a4" stroke-width="0.6"/>
<polygon points="260.7,80.3 257.8,80.8 256.1,84.9 262.2,84.9" fill="#b5b5b5" stroke="#b5b5b5" stroke-width="0.6"/>
<polygon points="267.8,79.6 262.0,78.4 260.7,80.3 262.2,84.9 263.9,85.9" fill="#a7a7a7" stroke="#a7a7a7" stroke-width="0.6"/>
<polygon points="273.6,84.3 273.8,79.4 268.2,79.7 271.1,84.7 272.3,84.8" fill="#9c9c9c" stroke="#9c9c9c" stroke-width="0.6"/>
<polygon points="269.7,87.3 271.1,84.7 268.2,79.7 267.9,79.6 267.8,79.6 263.9,85.9 264.6,88.3" fill="#989898" stroke="#989898" stroke-width="0.6"/>
<polygon points="282.1,81.8 277.7,80.9 277.4,84.6 284.1,86.1" fill="#8c8c8c" stroke="#8c8c8c" stroke-width="0.6"/>
<polygon points="275.1,78.9 273.8,79.4 273.6,84.3 277.1,84.9 277.4,84.6 277.7,80.9 276.9,78.8" fill="#8a8a8a" stroke="#8a8a8a" stroke-width="0.6"/>
<polygon points="280.0,75.7 278.1,77.1 276.9,78.8 277.7,80.9 282.1,81.8 283.3,78.9" fill="#8e8e8e" stroke="#8e8e8e" stroke-width="0.6"/>
<polygon points="286.2,86.1 288.5,84.7 288.4,79.6 287.8,79.1 283.3,78.9 282.1,81.8 284.1,86.1 284.5,86.4" fill="#858585" stroke="#858585" stroke-width="0.6"/>
<polygon points="297.9,82.5 296.1,78.0 290.4,85.4 290.4,85.4 297.2,85.4" fill="#999999" stroke="#999999" stroke-width="0.6"/>
<polygon points="292.8,76.3 288.4,79.6 288.5,84.7 290.4,85.4 296.1,78.0 295.9,77.1" fill="#9e9e9e" stroke="#9e9e9e" stroke-width="0.6"/>
<polygon points="297.9,75.9 297.3,76.1 295.9,77.1 296.1,78.0 297.9,82.5 304.1,80.9" fill="#919191" stroke="#919191" stroke-width="0.6"/>
<polygon points="304.1,80.9 297.9,82.5 297.2,85.4 297.5,86.0 299.2,86.7 305.5,83.7 305.6,83.0 304.2,80.9" fill="#858585" stroke="#858585" stroke-width="0.6"/>
<polygon points="311.5,82.1 311.3,81.9 305.6,83.0 305.5,83.7 306.4,87.3 311.0,87.5" fill="#828282" stroke="#828282" stroke-width="0.6"/>
<polygon points="305.6,83.0 311.3,81.9 310.5,79.1 304.9,79.0 304.2,80.9" fill="#7a7a7a" stroke="#7a7a7a" stroke-width="0.6"/>
<polygon points="315.2,80.9 313.5,82.0 314.8,84.4 316.9,84.9 318.0,83.7" fill="#ffffff" stroke="#ffffff" stroke-width="0.6"/>
<polygon points="318.2,76.3 314.5,74.6 313.8,74.6 311.1,75.1 310.5,79.1 311.3,81.9 311.5,82.1 313.5,82.0 315.2,80.9 318.2,76.3" fill="#ffffff" stroke="#ffffff" stroke-width="0.6"/>
<polygon points="321.8,82.8 326.9,80.6 327.0,79.1 326.1,78.3 320.0,78.5" fill="#ffffff" stroke="#ffffff" stroke-width="0.6"/>
<polygon points="315.2,80.9 318.0,83.7 321.6,83.8 321.8,82.8 320.0,78.5 318.2,76.3" fill="#ffffff" stroke="#ffffff" stroke-width="0.6"/>
<polygon points="326.9,80.6 329.8,84.3 331.5,83.7 331.7,83.4 333.9,78.1 330.3,76.6 327.0,79.1" fill="#ffffff" stroke="#ffffff" stroke-width="0.6"/>
<polygon points="321.6,83.8 322.0,85.7 322.3,86.3 326.6,87.0 329.0,86.0 329.8,84.3 326.9,80.6 321.8,82.8" fill="#ffffff" stroke="#ffffff" stroke-width="0.6"/>
<polygon points="337.6,79.0 334.6,77.9 333.9,78.1 331.7,83.4 338.7,82.5 339.6,80.9 339.3,80.0" fill="#ffffff" stroke="#ffffff" stroke-width="0.6"/>
<polygon points="331.5,83.7 335.5,86.5 338.2,84.4 338.7,82.5 331.7,83.4" fill="#ffffff" stroke="#ffffff" stroke-width="0.6"/>
<polygon points="339.6,80.9 343.9,83.4 344.4,83.4 347.8,80.5 348.2,79.1 341.9,77.3 339.3,80.0" fill="#ffffff" stroke="#ffffff" stroke-width="0.6"/>
<polygon points="339.6,80.9 338.7,82.5 338.2,84.4 341.0,88.2 343.9,83.4" fill="#ffffff" stroke="#ffffff" stroke-width="0.6"/>
<polygon points="348.2,79.1 347.8,80.5 350.6,84.6 353.6,84.3 352.6,78.7 349.6,77.5" fill="#ffffff" stroke="#ffffff" stroke-width="0.6"/>
<polygon points="344.4,83.4 346.0,86.2 349.0,87.1 350.6,84.6 347.8,80.5" fill="#ffffff" stroke="#ffffff" stroke-width="0.6"/>
<polygon points="352.6,78.7 353.6,84.3 353.8,84.4 357.9,80.2 357.6,78.0" fill="#ffffff" stroke="#ffffff" stroke-width="0.6"/>
<polygon points="353.8,84.4 355.5,86.7 356.7,87.0 358.4,86.7 360.7,84.2 357.9,80.2" fill="#ffffff" stroke="#ffffff" stroke-width="0.6"/>
<polygon points="365.2,78.6 361.3,84.2 363.6,85.6 368.7,83.5 368.3,78.9 367.8,78.3" fill="#ffffff" stroke="#ffffff" stroke-width="0.6"/>
<polygon points="359.9,76.4 358.8,76.3 357.6,78.0 357.9,80.2 360.7,84.2 361.3,84.2 365.2,78.6" fill="#ffffff" stroke="#ffffff" stroke-width="0.6"/>
<polygon points="368.7,83.5 369.4,84.4 372.8,86.7 374.4,86.8 376.2,85.1 376.9,83.7 376.9,83.4 374.7,80.9 368.5,78.9 368.3,78.9" fill="#ffffff" stroke="#ffffff" stroke-width="0.6"/>
<polygon points="374.1,77.4 368.5,78.9 374.7,80.9 375.0,77.8" fill="#ffffff" stroke="#ffffff" stroke-width="0.6"/>
<polygon points="384.4,82.8 385.6,80.8 385.6,79.6 380.0,78.0 376.9,83.4 376.9,83.7 378.6,83.8" fill="#ffffff" stroke="#ffffff" stroke-width="0.6"/>
<polygon points="375.0,77.8 374.7,80.9 376.9,83.4 380.0,78.0 378.7,75.2" fill="#ffffff" stroke="#ffffff" stroke-width="0.6"/>
<polygon points="383.5,87.5 384.4,85.9 384.4,82.8 378.6,83.8" fill="#ffffff" stroke="#ffffff" stroke-width="0.6"/>
<polygon points="389.1,84.0 385.6,80.8 384.4,82.8 384.4,85.9 386.6,86.4 388.8,84.9" fill="#ffffff" stroke="#ffffff" stroke-width="0.6"/>
<polygon points="395.9,86.4 396.0,86.4 396.2,86.1 397.1,81.7 393.8,76.9 391.5,77.1 392.6,83.7 395.8,86.4" fill="#ffffff" stroke="#ffffff" stroke-width="0.6"/>
<polygon points="392.6,83.7 391.5,77.1 391.3,77.0 389.5,76.4 387.4,77.5 385.6,79.6 385.6,80.8 389.1,84.0" fill="#ffffff" stroke="#ffffff" stroke-width="0.6"/>
<polygon points="393.8,76.9 397.1,81.7 400.2,79.3 400.2,76.9 398.9,75.8 396.8,75.2" fill="#ffffff" stroke="#ffffff" stroke-width="0.6"/>
<polygon points="396.2,86.1 403.7,83.5 400.2,79.3 397.1,81.7" fill="#ffffff" stroke="#ffffff" stroke-width="0.6"/>
<polygon points="409.7,77.7 408.7,78.1 405.0,83.7 405.7,85.6 411.0,87.9 411.0,77.6" fill="#ffffff" stroke="#ffffff" stroke-width="0.6"/>
<polygon points="404.7,76.1 400.2,76.9 400.2,79.3 403.7,83.5 405.0,83.7 408.7,78.1" fill="#ffffff" stroke="#ffffff" stroke-width="0.6"/>
<polygon points="243.1,93.0 244.3,91.7 242.2,86.1 240.7,85.6 237.0,85.7 237.0,89.3" fill="#ffffff" stroke="#ffffff" stroke-width="0.6"/>
<polygon points="242.2,86.1 244.3,91.7 245.9,91.4 248.1,88.3 245.3,85.9" fill="#ffffff" stroke="#ffffff" stroke-width="0.6"/>
<polygon points="252.9,84.4 251.6,82.4 249.0,82.2 245.9,85.0 245.3,85.9 248.1,88.3 249.5,88.3" fill="#ffffff" stroke="#ffffff" stroke-width="0.6"/>
<polygon points="252.7,94.1 249.5,88.3 248.1,88.3 245.9,91.4 249.6,94.8 252.1,94.5 252.7,94.2" fill="#ffffff" stroke="#ffffff" stroke-width="0.6"/>
<polygon points="256.5,89.4 255.5,85.3 252.9,84.4 249.5,88.3 252.7,94.1 256.4,89.5" fill="#d6d6d6" stroke="#d6d6d6" stroke-width="0.6"/>
<polygon points="260.0,92.0 260.2,89.8 256.5,89.4 256.4,89.5 258.7,92.9" fill="#dbdbdb" stroke="#dbdbdb" stroke-width="0.6"/>
<polygon points="264.5,88.7 264.6,88.3 263.9,85.9 262.2,84.9 256.1,84.9 255.5,85.3 256.5,89.4 260.2,89.8" fill="#9d9d9d" stroke="#9d9d9d" stroke-width="0.6"/>
<polygon points="261.8,95.8 264.4,92.1 264.7,89.2 264.5,88.7 260.2,89.8 260.0,92.0" fill="#9d9d9d" stroke="#9d9d9d" stroke-width="0.6"/>
<polygon points="274.5,89.7 272.3,84.8 271.1,84.7 269.7,87.3 272.8,90.4" fill="#989898" stroke="#989898" stroke-width="0.6"/>
<polygon points="267.6,90.8 271.7,92.3 272.8,90.4 269.7,87.3 264.6,88.3 264.5,88.7 264.7,89.2" fill="#9a9a9a" stroke="#9a9a9a" stroke-width="0.6"/>
<polygon points="276.3,89.5 277.1,84.9 273.6,84.3 272.3,84.8 274.5,89.7" fill="#b7b7b7" stroke="#b7b7b7" stroke-width="0.6"/>
<polygon points="284.1,86.1 277.4,84.6 277.1,84.9 276.3,89.5 278.6,91.4 284.0,87.4 284.5,86.4" fill="#b9b9b9" stroke="#b9b9b9" stroke-width="0.6"/>
<polygon points="284.0,87.4 278.6,91.4 279.1,94.4 279.9,95.0 282.8,95.5 284.7,93.9" fill="#a1a1a1" stroke="#a1a1a1" stroke-width="0.6"/>
<polygon points="286.2,86.1 284.5,86.4 284.0,87.4 284.7,93.9 286.6,93.7 287.9,90.8" fill="#a3a3a3" stroke="#a3a3a3" stroke-width="0.6"/>
<polygon points="295.6,92.9 297.5,86.0 297.2,85.4 290.4,85.4 292.6,92.6 292.7,92.8" fill="#8a8a8a" stroke="#8a8a8a" stroke-width="0.6"/>
<polygon points="290.4,85.4 290.4,85.4 288.5,84.7 286.2,86.1 287.9,90.8 292.6,92.6" fill="#8e8e8e" stroke="#8e8e8e" stroke-width="0.6"/>
<polygon points="300.9,88.2 299.2,86.7 297.5,86.0 295.6,92.9 296.5,93.7 298.6,92.9" fill="#7a7a7a" stroke="#7a7a7a" stroke-width="0.6"/>
<polygon points="304.6,91.9 304.5,90.4 300.9,88.2 298.6,92.9" fill="#7f7f7f" stroke="#7f7f7f" stroke-width="0.6"/>
<polygon points="304.5,90.4 306.4,87.3 305.5,83.7 299.2,86.7 300.9,88.2" fill="#9b9b9b" stroke="#9b9b9b" stroke-width="0.6"/>
<polygon points="305.7,94.0 310.2,94.4 313.5,92.7 314.2,90.7 314.0,90.4 311.0,87.5 306.4,87.3 304.5,90.4 304.6,91.9" fill="#9b9b9b" stroke="#9b9b9b" stroke-width="0.6"/>
<polygon points="316.9,84.9 314.8,84.4 314.0,90.4 314.2,90.7 314.3,90.7 317.0,86.4" fill="#a2a2a2" stroke="#a2a2a2" stroke-width="0.6"/>
<polygon points="314.8,84.4 313.5,82.0 311.5,82.1 311.0,87.5 314.0,90.4" fill="#8d8d8d" stroke="#8d8d8d" stroke-width="0.6"/>
<polygon points="318.0,83.7 316.9,84.9 317.0,86.4 322.0,85.7 321.6,83.8" fill="#9a9a9a" stroke="#9a9a9a" stroke-width="0.6"/>
<polygon points="314.3,90.7 320.6,90.1 322.3,86.3 322.0,85.7 317.0,86.4" fill="#9b9b9b" stroke="#9b9b9b" stroke-width="0.6"/>
<polygon points="322.3,86.3 320.6,90.1 321.9,92.1 323.0,92.6 326.2,92.3 326.6,87.0" fill="#a9a9a9" stroke="#a9a9a9" stroke-width="0.6"/>
<polygon points="326.6,87.0 326.2,92.3 327.9,93.3 329.6,92.7 331.5,90.4 329.0,86.0" fill="#adadad" stroke="#adadad" stroke-width="0.6"/>
<polygon points="340.2,90.7 341.0,88.8 341.0,88.2 338.2,84.4 335.5,86.5 335.7,90.8 337.3,92.3" fill="#b4b4b4" stroke="#b4b4b4" stroke-width="0.6"/>
<polygon points="329.8,84.3 329.0,86.0 331.5,90.4 335.7,90.8 335.5,86.5 331.5,83.7" fill="#b0b0b0" stroke="#b0b0b0" stroke-width="0.6"/>
<polygon points="341.0,88.8 340.2,90.7 344.5,92.7 346.5,91.4 344.8,88.2" fill="#adadad" stroke="#adadad" stroke-width="0.6"/>
<polygon points="343.9,83.4 341.0,88.2 341.0,88.8 344.8,88.2 346.0,86.2 344.4,83.4" fill="#afafaf" stroke="#afafaf" stroke-width="0.6"/>
<polygon points="346.5,91.4 347.9,91.2 349.9,90.1 349.0,87.1 346.0,86.2 344.8,88.2" fill="#adadad" stroke="#adadad" stroke-width="0.6"/>
<polygon points="350.6,84.6 349.0,87.1 349.9,90.1 351.6,90.8 355.5,86.7 353.8,84.4 353.6,84.3" fill="#b3b3b3" stroke="#b3b3b3" stroke-width="0.6"/>
<polygon points="356.7,93.3 358.8,93.5 361.5,91.7 358.4,86.7 356.7,87.0" fill="#adadad" stroke="#adadad" stroke-width="0.6"/>
<polygon points="354.0,94.1 356.7,93.3 356.7,87.0 355.5,86.7 351.6,90.8 353.5,94.0" fill="#b4b4b4" stroke="#b4b4b4" stroke-width="0.6"/>
<polygon points="363.6,85.6 364.9,90.4 365.3,90.4 369.4,84.4 368.7,83.5" fill="#aaaaaa" stroke="#aaaaaa" stroke-width="0.6"/>
<polygon points="360.7,84.2 358.4,86.7 361.5,91.7 363.1,91.7 364.9,90.4 363.6,85.6 361.3,84.2" fill="#adadad" stroke="#adadad" stroke-width="0.6"/>
<polygon points="369.8,90.3 372.8,86.7 369.4,84.4 365.3,90.4 367.1,91.1" fill="#7b7b7b" stroke="#7b7b7b" stroke-width="0.6"/>
<polygon points="372.8,86.7 369.8,90.3 370.5,91.3 372.5,93.8 376.0,91.4 374.4,86.8" fill="#818181" stroke="#818181" stroke-width="0.6"/>
<polygon points="374.4,86.8 376.0,91.4 379.9,94.2 381.5,94.1 383.0,91.1 382.9,90.0 376.2,85.1" fill="#737373" stroke="#737373" stroke-width="0.6"/>
<polygon points="376.9,83.7 376.2,85.1 382.9,90.0 383.5,87.5 378.6,83.8" fill="#676767" stroke="#676767" stroke-width="0.6"/>
<polygon points="382.9,90.0 383.0,91.1 387.9,90.3 388.6,90.1 388.9,89.4 386.6,86.4 384.4,85.9 383.5,87.5" fill="#d9d9d9" stroke="#d9d9d9" stroke-width="0.6"/>
<polygon points="388.8,84.9 386.6,86.4 388.9,89.4 389.7,88.5" fill="#dcdcdc" stroke="#dcdcdc" stroke-width="0.6"/>
<polygon points="395.8,86.4 392.6,83.7 389.1,84.0 388.8,84.9 389.7,88.5" fill="#d9d9d9" stroke="#d9d9d9" stroke-width="0.6"/>
<polygon points="388.9,89.4 388.6,90.1 392.0,94.0 393.2,94.0 394.0,93.8 395.9,86.4 395.8,86.4 389.7,88.5" fill="#e1e1e1" stroke="#e1e1e1" stroke-width="0.6"/>
<polygon points="394.0,93.8 394.5,94.1 401.7,93.7 400.6,90.2 396.0,86.4 395.9,86.4" fill="#d3d3d3" stroke="#d3d3d3" stroke-width="0.6"/>
<polygon points="396.0,86.4 400.6,90.2 405.6,85.8 405.7,85.6 405.0,83.7 403.7,83.5 396.2,86.1" fill="#e1e1e1" stroke="#e1e1e1" stroke-width="0.6"/>
<polygon points="411.0,91.9 411.0,87.9 405.7,85.6 405.6,85.8 405.4,92.9" fill="#e4e4e4" stroke="#e4e4e4" stroke-width="0.6"/>
<polygon points="401.7,93.7 402.3,94.2 405.1,93.2 405.4,92.9 405.6,85.8 400.6,90.2" fill="#e6e6e6" stroke="#e6e6e6" stroke-width="0.6"/>
<polygon points="245.8,97.3 242.9,95.2 237.3,97.8 242.4,100.7 245.8,97.4" fill="#ffffff" stroke="#ffffff" stroke-width="0.6"/>
<polygon points="237.3,97.8 242.9,95.2 243.1,93.0 237.0,89.3 237.0,97.8" fill="#ffffff" stroke="#ffffff" stroke-width="0.6"/>
<polygon points="249.6,94.8 245.8,97.3 245.8,97.4 247.2,100.5 250.1,100.9 250.8,100.1 252.1,94.5" fill="#dbdbdb" stroke="#dbdbdb" stroke-width="0.6"/>
<polygon points="245.9,91.4 244.3,91.7 243.1,93.0 242.9,95.2 245.8,97.3 249.6,94.8" fill="#d6d6d6" stroke="#d6d6d6" stroke-width="0.6"/>
<polygon points="252.1,94.5 250.8,100.1 254.1,101.0 255.0,95.9 252.7,94.2" fill="#a3a3a3" stroke="#a3a3a3" stroke-width="0.6"/>
<polygon points="255.0,95.9 257.4,96.6 259.1,96.2 258.7,92.9 256.4,89.5 252.7,94.1 252.7,94.2" fill="#b2b2b2" stroke="#b2b2b2" stroke-width="0.6"/>
<polygon points="261.8,96.3 267.9,98.8 269.5,96.5 269.3,96.3 264.4,92.1 261.8,95.8 261.7,96.2" fill="#9e9e9e" stroke="#9e9e9e" stroke-width="0.6"/>
<polygon points="259.1,96.2 261.7,96.2 261.8,95.8 260.0,92.0 258.7,92.9" fill="#9b9b9b" stroke="#9b9b9b" stroke-width="0.6"/>
<polygon points="269.5,96.5 271.5,95.6 271.7,92.3 267.6,90.8 269.3,96.3" fill="#c7c7c7" stroke="#c7c7c7" stroke-width="0.6"/>
<polygon points="269.3,96.3 267.6,90.8 264.7,89.2 264.4,92.1" fill="#c9c9c9" stroke="#c9c9c9" stroke-width="0.6"/>
<polygon points="271.7,92.3 271.5,95.6 273.6,96.5 279.1,94.4 278.6,91.4 276.3,89.5 274.5,89.7 272.8,90.4" fill="#ababab" stroke="#ababab" stroke-width="0.6"/>
<polygon points="279.1,94.4 273.6,96.5 274.7,100.2 279.1,99.2 279.9,95.0" fill="#a4a4a4" stroke="#a4a4a4" stroke-width="0.6"/>
<polygon points="286.6,93.7 284.7,93.9 282.8,95.5 284.0,97.6 288.5,101.0 289.8,99.1 290.2,95.7" fill="#797979" stroke="#797979" stroke-width="0.6"/>
<polygon points="284.0,97.6 282.8,95.5 279.9,95.0 279.1,99.2 279.5,100.1 281.6,100.8" fill="#7d7d7d" stroke="#7d7d7d" stroke-width="0.6"/>
<polygon points="292.6,92.6 287.9,90.8 286.6,93.7 290.2,95.7 292.7,92.8" fill="#939393" stroke="#939393" stroke-width="0.6"/>
<polygon points="295.6,92.9 292.7,92.8 290.2,95.7 289.8,99.1 297.4,98.7 297.7,97.2 296.5,93.7" fill="#8f8f8f" stroke="#8f8f8f" stroke-width="0.6"/>
<polygon points="296.5,93.7 297.7,97.2 304.0,95.8 304.9,95.4 305.7,94.0 304.6,91.9 298.6,92.9" fill="#7f7f7f" stroke="#7f7f7f" stroke-width="0.6"/>
<polygon points="297.4,98.7 298.2,101.2 301.6,100.1 304.0,95.8 297.7,97.2" fill="#7c7c7c" stroke="#7c7c7c" stroke-width="0.6"/>
<polygon points="301.6,100.1 305.7,100.6 304.9,95.4 304.0,95.8" fill="#868686" stroke="#868686" stroke-width="0.6"/>
<polygon points="305.7,100.6 306.1,101.4 310.7,100.5 310.2,94.4 305.7,94.0 304.9,95.4" fill="#828282" stroke="#828282" stroke-width="0.6"/>
<polygon points="315.4,95.1 313.5,92.7 310.2,94.4 310.7,100.5 312.3,101.7 312.7,101.8 314.1,100.8" fill="#9e9e9e" stroke="#9e9e9e" stroke-width="0.6"/>
<polygon points="315.4,95.1 314.1,100.8 317.2,100.8 319.9,98.9 318.6,96.7" fill="#919191" stroke="#919191" stroke-width="0.6"/>
<polygon points="314.2,90.7 313.5,92.7 315.4,95.1 318.6,96.7 321.9,92.1 320.6,90.1 314.3,90.7" fill="#929292" stroke="#929292" stroke-width="0.6"/>
<polygon points="318.6,96.7 319.9,98.9 320.6,99.2 323.8,98.6 323.0,92.6 321.9,92.1" fill="#8f8f8f" stroke="#8f8f8f" stroke-width="0.6"/>
<polygon points="333.4,97.1 329.6,92.7 327.9,93.3 327.4,97.5 329.5,98.1" fill="#afafaf" stroke="#afafaf" stroke-width="0.6"/>
<polygon points="327.9,93.3 326.2,92.3 323.0,92.6 323.8,98.6 325.0,99.0 327.4,97.5" fill="#c2c2c2" stroke="#c2c2c2" stroke-width="0.6"/>
<polygon points="337.3,92.3 334.2,97.1 337.0,101.9 337.7,101.6 340.6,96.5" fill="#afafaf" stroke="#afafaf" stroke-width="0.6"/>
<polygon points="335.7,90.8 331.5,90.4 329.6,92.7 333.4,97.1 333.5,97.2 334.2,97.1 337.3,92.3 337.3,92.3" fill="#ababab" stroke="#ababab" stroke-width="0.6"/>
<polygon points="345.9,98.8 344.6,97.3 340.6,96.5 337.7,101.6 344.4,101.4 345.6,99.3" fill="#afafaf" stroke="#afafaf" stroke-width="0.6"/>
<polygon points="340.2,90.7 337.3,92.3 337.3,92.3 340.6,96.5 344.6,97.3 344.5,92.7" fill="#adadad" stroke="#adadad" stroke-width="0.6"/>
<polygon points="346.5,91.4 344.5,92.7 344.6,97.3 345.9,98.8 348.6,98.3 347.9,91.2" fill="#b4b4b4" stroke="#b4b4b4" stroke-width="0.6"/>
<polygon points="351.6,90.8 349.9,90.1 347.9,91.2 348.6,98.3 348.9,98.3 353.5,94.0" fill="#aeaeae" stroke="#aeaeae" stroke-width="0.6"/>
<polygon points="356.4,99.9 354.0,94.1 353.5,94.0 348.9,98.3 353.5,103.3 354.0,103.0" fill="#a8a8a8" stroke="#a8a8a8" stroke-width="0.6"/>
<polygon points="356.4,99.9 360.4,99.0 360.4,98.9 358.8,93.5 356.7,93.3 354.0,94.1" fill="#a1a1a1" stroke="#a1a1a1" stroke-width="0.6"/>
<polygon points="360.4,98.9 364.8,98.2 363.1,91.7 361.5,91.7 358.8,93.5" fill="#b0b0b0" stroke="#b0b0b0" stroke-width="0.6"/>
<polygon points="365.3,90.4 364.9,90.4 363.1,91.7 364.8,98.2 367.5,99.4 369.7,98.8 368.9,96.3 367.1,91.1" fill="#b4b4b4" stroke="#b4b4b4" stroke-width="0.6"/>
<polygon points="369.7,98.8 370.1,98.8 370.4,98.8 372.5,93.8 370.5,91.3 368.9,96.3" fill="#afafaf" stroke="#afafaf" stroke-width="0.6"/>
<polygon points="368.9,96.3 370.5,91.3 369.8,90.3 367.1,91.1" fill="#a8a8a8" stroke="#a8a8a8" stroke-width="0.6"/>
<polygon points="379.9,94.2 374.9,99.7 375.7,101.0 377.4,102.2 384.0,98.7 384.6,97.7 381.5,94.1" fill="#ababab" stroke="#ababab" stroke-width="0.6"/>
<polygon points="376.0,91.4 372.5,93.8 370.4,98.8 374.9,99.7 379.9,94.2" fill="#ababab" stroke="#ababab" stroke-width="0.6"/>
<polygon points="392.0,94.0 388.6,90.1 387.9,90.3 387.3,97.6" fill="#dfdfdf" stroke="#dfdfdf" stroke-width="0.6"/>
<polygon points="387.9,90.3 383.0,91.1 381.5,94.1 384.6,97.7 386.9,98.0 387.3,97.6" fill="#dbdbdb" stroke="#dbdbdb" stroke-width="0.6"/>
<polygon points="386.9,98.0 389.5,101.3 390.3,101.4 392.9,99.1 393.2,94.0 392.0,94.0 387.3,97.6" fill="#e3e3e3" stroke="#e3e3e3" stroke-width="0.6"/>
<polygon points="393.2,94.0 392.9,99.1 395.1,99.3 396.2,97.3 394.5,94.1 394.0,93.8" fill="#dadada" stroke="#dadada" stroke-width="0.6"/>
<polygon points="396.2,97.3 400.1,99.0 402.1,97.8 402.3,94.2 401.7,93.7 394.5,94.1" fill="#d7d7d7" stroke="#d7d7d7" stroke-width="0.6"/>
<polygon points="399.6,99.9 400.1,99.0 396.2,97.3 395.1,99.3 395.9,101.9" fill="#e7e7e7" stroke="#e7e7e7" stroke-width="0.6"/>
<polygon points="405.4,92.9 405.1,93.2 409.3,98.4 411.0,98.4 411.0,91.9" fill="#d5d5d5" stroke="#d5d5d5" stroke-width="0.6"/>
<polygon points="402.3,94.2 402.1,97.8 403.9,99.3 406.2,99.5 409.3,98.4 405.1,93.2" fill="#d6d6d6" stroke="#d6d6d6" stroke-width="0.6"/>
<polygon points="244.0,106.0 242.4,100.7 237.3,97.8 237.0,97.8 237.0,106.4" fill="#ffffff" stroke="#ffffff" stroke-width="0.6"/>
<polygon points="242.4,100.7 244.0,106.0 244.1,106.0 247.2,100.5 245.8,97.4" fill="#ffffff" stroke="#ffffff" stroke-width="0.6"/>
<polygon points="250.4,102.1 249.6,107.0 251.9,107.7 255.5,103.6" fill="#e9e9e9" stroke="#e9e9e9" stroke-width="0.6"/>
<polygon points="247.2,100.5 244.1,106.0 244.6,106.5 247.6,107.2 249.6,107.0 250.4,102.1 250.1,100.9" fill="#dddddd" stroke="#dddddd" stroke-width="0.6"/>
<polygon points="250.1,100.9 250.4,102.1 255.5,103.6 255.7,103.4 254.1,101.0 250.8,100.1" fill="#b9b9b9" stroke="#b9b9b9" stroke-width="0.6"/>
<polygon points="255.7,103.4 257.8,103.3 257.9,103.3 257.4,96.6 255.0,95.9 254.1,101.0" fill="#9e9e9e" stroke="#9e9e9e" stroke-width="0.6"/>
<polygon points="259.1,96.2 257.4,96.6 257.9,103.3 261.8,103.6 261.8,96.3 261.7,96.2" fill="#8a8a8a" stroke="#8a8a8a" stroke-width="0.6"/>
<polygon points="263.0,104.4 267.7,103.6 267.9,98.8 261.8,96.3 261.8,103.6" fill="#828282" stroke="#828282" stroke-width="0.6"/>
<polygon points="277.6,105.3 274.5,101.2 268.0,103.8 269.7,106.7 271.1,106.8 277.7,105.6 277.7,105.6" fill="#838383" stroke="#838383" stroke-width="0.6"/>
<polygon points="274.5,101.2 274.7,100.2 273.6,96.5 271.5,95.6 269.5,96.5 267.9,98.8 267.7,103.6 268.0,103.8" fill="#858585" stroke="#858585" stroke-width="0.6"/>
<polygon points="279.1,99.2 274.7,100.2 274.5,101.2 277.6,105.3 279.5,100.1" fill="#878787" stroke="#878787" stroke-width="0.6"/>
<polygon points="281.6,100.8 279.5,100.1 277.6,105.3 277.7,105.6 280.4,106.3 281.8,101.1" fill="#939393" stroke="#939393" stroke-width="0.6"/>
<polygon points="280.4,106.3 282.1,107.3 282.4,107.2 287.0,103.3 281.8,101.1" fill="#b0b0b0" stroke="#b0b0b0" stroke-width="0.6"/>
<polygon points="287.0,103.3 288.4,102.6 288.5,101.0 284.0,97.6 281.6,100.8 281.8,101.1" fill="#c2c2c2" stroke="#c2c2c2" stroke-width="0.6"/>
<polygon points="298.1,101.8 298.2,101.2 297.4,98.7 289.8,99.1 288.5,101.0 288.4,102.6 289.3,103.5 290.7,103.8 298.1,102.0" fill="#a9a9a9" stroke="#a9a9a9" stroke-width="0.6"/>
<polygon points="298.1,102.0 290.7,103.8 295.1,107.6 297.8,107.2 298.1,105.9" fill="#bdbdbd" stroke="#bdbdbd" stroke-width="0.6"/>
<polygon points="305.4,105.1 305.2,104.1 298.1,101.8 298.1,102.0 298.1,105.9" fill="#727272" stroke="#727272" stroke-width="0.6"/>
<polygon points="305.3,108.8 305.8,106.0 305.4,105.1 298.1,105.9 297.8,107.2 297.9,107.3 302.9,109.4" fill="#747474" stroke="#747474" stroke-width="0.6"/>
<polygon points="298.1,101.8 305.2,104.1 306.1,101.4 305.7,100.6 301.6,100.1 298.2,101.2" fill="#7c7c7c" stroke="#7c7c7c" stroke-width="0.6"/>
<polygon points="305.4,105.1 305.8,106.0 309.8,105.5 312.3,101.7 310.7,100.5 306.1,101.4 305.2,104.1" fill="#868686" stroke="#868686" stroke-width="0.6"/>
<polygon points="314.1,100.8 312.7,101.8 315.5,106.1 318.1,106.2 317.2,100.8" fill="#949494" stroke="#949494" stroke-width="0.6"/>
<polygon points="312.7,101.8 312.3,101.7 309.8,105.5 312.7,108.8 315.5,106.1" fill="#919191" stroke="#919191" stroke-width="0.6"/>
<polygon points="320.8,105.7 320.6,99.2 319.9,98.9 317.2,100.8 318.1,106.2 318.6,106.4" fill="#a1a1a1" stroke="#a1a1a1" stroke-width="0.6"/>
<polygon points="321.7,106.0 326.2,103.1 325.0,99.0 323.8,98.6 320.6,99.2 320.8,105.7" fill="#959595" stroke="#959595" stroke-width="0.6"/>
<polygon points="327.4,97.5 325.0,99.0 326.2,103.1 330.5,105.4 330.6,103.1 329.5,98.1" fill="#aaaaaa" stroke="#aaaaaa" stroke-width="0.6"/>
<polygon points="324.4,109.8 326.6,110.2 331.4,106.5 330.5,105.4 326.2,103.1 321.7,106.0" fill="#b2b2b2" stroke="#b2b2b2" stroke-width="0.6"/>
<polygon points="330.5,105.4 331.4,106.5 331.7,106.5 335.3,106.0 335.5,105.9 337.0,101.9 334.2,97.1 333.5,97.2 330.6,103.1" fill="#a8a8a8" stroke="#a8a8a8" stroke-width="0.6"/>
<polygon points="330.6,103.1 333.5,97.2 333.4,97.1 329.5,98.1" fill="#a5a5a5" stroke="#a5a5a5" stroke-width="0.6"/>
<polygon points="337.7,101.6 337.0,101.9 335.5,105.9 336.3,106.2 342.4,105.9 344.6,103.1 344.4,101.4" fill="#afafaf" stroke="#afafaf" stroke-width="0.6"/>
<polygon points="342.4,105.9 344.2,109.9 345.7,109.4 348.0,106.5 344.6,103.1" fill="#afafaf" stroke="#afafaf" stroke-width="0.6"/>
<polygon points="344.4,101.4 344.6,103.1 348.0,106.5 350.6,106.3 345.6,99.3" fill="#b7b7b7" stroke="#b7b7b7" stroke-width="0.6"/>
<polygon points="348.9,98.3 348.6,98.3 345.9,98.8 345.6,99.3 350.6,106.3 352.6,106.2 353.5,103.3" fill="#a6a6a6" stroke="#a6a6a6" stroke-width="0.6"/>
<polygon points="358.8,104.2 360.8,102.3 360.4,99.0 356.4,99.9 354.0,103.0" fill="#b2b2b2" stroke="#b2b2b2" stroke-width="0.6"/>
<polygon points="358.9,109.2 360.2,108.1 360.5,107.3 358.8,104.2 354.0,103.0 353.5,103.3 352.6,106.2 352.7,106.3 358.0,109.0" fill="#b2b2b2" stroke="#b2b2b2" stroke-width="0.6"/>
<polygon points="363.2,104.6 365.4,104.3 367.5,99.4 364.8,98.2 360.4,98.9 360.4,99.0 360.8,102.3" fill="#969696" stroke="#969696" stroke-width="0.6"/>
<polygon points="363.2,104.6 360.8,102.3 358.8,104.2 360.5,107.3" fill="#989898" stroke="#989898" stroke-width="0.6"/>
<polygon points="370.1,98.8 371.2,107.1 372.6,107.6 373.1,107.5 375.7,101.0 374.9,99.7 370.4,98.8" fill="#aeaeae" stroke="#aeaeae" stroke-width="0.6"/>
<polygon points="369.7,98.8 367.5,99.4 365.4,104.3 367.3,108.1 371.2,107.1 370.1,98.8" fill="#a7a7a7" stroke="#a7a7a7" stroke-width="0.6"/>
<polygon points="377.4,102.2 375.7,101.0 373.1,107.5 375.0,108.4 379.1,106.3 379.6,105.5" fill="#bcbcbc" stroke="#bcbcbc" stroke-width="0.6"/>
<polygon points="380.0,105.5 383.1,103.3 384.0,98.7 377.4,102.2 379.6,105.5" fill="#c9c9c9" stroke="#c9c9c9" stroke-width="0.6"/>
<polygon points="384.0,98.7 383.1,103.3 387.3,105.9 389.5,101.3 386.9,98.0 384.6,97.7" fill="#d5d5d5" stroke="#d5d5d5" stroke-width="0.6"/>
<polygon points="384.6,109.0 385.6,108.9 387.3,106.2 387.3,105.9 383.1,103.3 380.0,105.5" fill="#d5d5d5" stroke="#d5d5d5" stroke-width="0.6"/>
<polygon points="390.3,101.4 389.5,101.3 387.3,105.9 387.3,106.2 392.5,108.2 392.9,108.0 394.6,104.2 394.6,104.2" fill="#ffffff" stroke="#ffffff" stroke-width="0.6"/>
<polygon points="395.9,101.9 395.1,99.3 392.9,99.1 390.3,101.4 394.6,104.2" fill="#ffffff" stroke="#ffffff" stroke-width="0.6"/>
<polygon points="403.4,105.9 403.9,99.3 402.1,97.8 400.1,99.0 399.6,99.9 400.6,106.4 401.1,106.9" fill="#e0e0e0" stroke="#e0e0e0" stroke-width="0.6"/>
<polygon points="394.6,104.2 400.6,106.4 399.6,99.9 395.9,101.9 394.6,104.2" fill="#d8d8d8" stroke="#d8d8d8" stroke-width="0.6"/>
<polygon points="406.3,106.1 408.1,105.6 406.2,99.5 403.9,99.3 403.4,105.9" fill="#d9d9d9" stroke="#d9d9d9" stroke-width="0.6"/>
<polygon points="409.3,98.4 406.2,99.5 408.1,105.6 411.0,105.7 411.0,98.4" fill="#d2d2d2" stroke="#d2d2d2" stroke-width="0.6"/>
<polygon points="237.0,107.4 237.0,116.3 239.4,115.8 241.6,113.2" fill="#d3d3d3" stroke="#d3d3d3" stroke-width="0.6"/>
<polygon points="241.6,113.2 243.5,112.4 244.6,106.5 244.1,106.0 244.0,106.0 237.0,106.4 237.0,107.4" fill="#d2d2d2" stroke="#d2d2d2" stroke-width="0.6"/>
<polygon points="248.1,112.5 247.6,107.2 244.6,106.5 243.5,112.4 245.5,114.1" fill="#d2d2d2" stroke="#d2d2d2" stroke-width="0.6"/>
<polygon points="252.1,114.2 253.7,110.6 251.9,107.7 249.6,107.0 247.6,107.2 248.1,112.5" fill="#e3e3e3" stroke="#e3e3e3" stroke-width="0.6"/>
<polygon points="257.8,103.3 257.3,110.6 258.3,111.0 262.1,108.0 263.0,104.4 261.8,103.6 257.9,103.3" fill="#a7a7a7" stroke="#a7a7a7" stroke-width="0.6"/>
<polygon points="255.7,103.4 255.5,103.6 251.9,107.7 253.7,110.6 257.3,110.6 257.8,103.3" fill="#9e9e9e" stroke="#9e9e9e" stroke-width="0.6"/>
<polygon points="258.3,111.0 260.4,115.6 265.3,113.1 265.7,112.4 262.1,108.0" fill="#7b7b7b" stroke="#7b7b7b" stroke-width="0.6"/>
<polygon points="262.1,108.0 265.7,112.4 269.0,111.0 269.7,106.7 268.0,103.8 267.7,103.6 263.0,104.4" fill="#868686" stroke="#868686" stroke-width="0.6"/>
<polygon points="269.4,111.3 272.0,117.6 272.3,117.8 274.8,115.6 275.9,112.0 275.7,111.7" fill="#7a7a7a" stroke="#7a7a7a" stroke-width="0.6"/>
<polygon points="269.7,106.7 269.0,111.0 269.4,111.3 275.7,111.7 275.7,111.0 271.1,106.8" fill="#828282" stroke="#828282" stroke-width="0.6"/>
<polygon points="277.7,105.6 275.7,111.0 275.7,111.7 275.9,112.0 280.8,112.9 282.1,107.3 280.4,106.3 277.7,105.6" fill="#939393" stroke="#939393" stroke-width="0.6"/>
<polygon points="275.7,111.0 277.7,105.6 271.1,106.8" fill="#8e8e8e" stroke="#8e8e8e" stroke-width="0.6"/>
<polygon points="287.6,111.3 287.7,111.4 289.7,108.5 289.3,103.5 288.4,102.6 287.0,103.3 282.4,107.2" fill="#959595" stroke="#959595" stroke-width="0.6"/>
<polygon points="282.1,107.3 280.8,112.9 281.4,114.3 287.6,111.3 282.4,107.2" fill="#929292" stroke="#929292" stroke-width="0.6"/>
<polygon points="288.7,113.2 293.5,112.4 293.3,109.8 289.7,108.5 287.7,111.4" fill="#9a9a9a" stroke="#9a9a9a" stroke-width="0.6"/>
<polygon points="290.7,103.8 289.3,103.5 289.7,108.5 293.3,109.8 295.1,107.6" fill="#9d9d9d" stroke="#9d9d9d" stroke-width="0.6"/>
<polygon points="297.9,107.3 297.8,107.2 295.1,107.6 293.3,109.8 293.5,112.4 294.8,113.6 297.6,112.8" fill="#818181" stroke="#818181" stroke-width="0.6"/>
<polygon points="297.9,107.3 297.6,112.8 300.1,114.0 302.9,109.4" fill="#939393" stroke="#939393" stroke-width="0.6"/>
<polygon points="308.1,112.6 310.0,113.3 310.7,113.0 312.0,111.6 312.7,108.8 309.8,105.5 305.8,106.0 305.3,108.8" fill="#7b7b7b" stroke="#7b7b7b" stroke-width="0.6"/>
<polygon points="300.1,114.0 300.4,114.6 303.9,115.4 308.1,112.6 305.3,108.8 302.9,109.4" fill="#8a8a8a" stroke="#8a8a8a" stroke-width="0.6"/>
<polygon points="319.5,114.6 318.1,111.6 312.0,111.6 310.7,113.0 314.7,115.8 316.1,116.2" fill="#9b9b9b" stroke="#9b9b9b" stroke-width="0.6"/>
<polygon points="318.6,106.4 318.1,106.2 315.5,106.1 312.7,108.8 312.0,111.6 318.1,111.6 318.5,110.4" fill="#a2a2a2" stroke="#a2a2a2" stroke-width="0.6"/>
<polygon points="318.1,111.6 319.5,114.6 320.8,115.1 323.6,110.5 318.5,110.4" fill="#9c9c9c" stroke="#9c9c9c" stroke-width="0.6"/>
<polygon points="323.6,110.5 324.4,109.8 321.7,106.0 320.8,105.7 318.6,106.4 318.5,110.4" fill="#8a8a8a" stroke="#8a8a8a" stroke-width="0.6"/>
<polygon points="331.7,106.5 331.4,106.5 326.6,110.2 327.4,114.5 330.4,116.3 332.2,115.1 332.3,114.9" fill="#979797" stroke="#979797" stroke-width="0.6"/>
<polygon points="320.8,115.1 322.3,117.1 327.4,114.5 326.6,110.2 324.4,109.8 323.6,110.5" fill="#9f9f9f" stroke="#9f9f9f" stroke-width="0.6"/>
<polygon points="336.4,113.1 335.3,106.0 331.7,106.5 332.3,114.9" fill="#adadad" stroke="#adadad" stroke-width="0.6"/>
<polygon points="339.7,114.9 338.8,108.7 336.3,106.2 335.5,105.9 335.3,106.0 336.4,113.1" fill="#a5a5a5" stroke="#a5a5a5" stroke-width="0.6"/>
<polygon points="338.8,108.7 339.7,114.9 339.9,115.1 341.4,115.2 343.5,111.3 343.6,110.6" fill="#aaaaaa" stroke="#aaaaaa" stroke-width="0.6"/>
<polygon points="344.2,109.9 342.4,105.9 336.3,106.2 338.8,108.7 343.6,110.6" fill="#afafaf" stroke="#afafaf" stroke-width="0.6"/>
<polygon points="345.7,109.4 344.2,109.9 343.6,110.6 343.5,111.3 348.8,114.8 350.4,113.4" fill="#b5b5b5" stroke="#b5b5b5" stroke-width="0.6"/>
<polygon points="352.7,106.3 352.6,106.2 350.6,106.3 348.0,106.5 345.7,109.4 350.4,113.4 350.6,113.4 351.6,111.9" fill="#a9a9a9" stroke="#a9a9a9" stroke-width="0.6"/>
<polygon points="358.0,109.0 352.7,106.3 351.6,111.9 355.5,112.7" fill="#999999" stroke="#999999" stroke-width="0.6"/>
<polygon points="355.6,112.8 360.4,115.5 360.6,115.3 358.9,109.2 358.0,109.0 355.5,112.7" fill="#939393" stroke="#939393" stroke-width="0.6"/>
<polygon points="358.9,109.2 360.6,115.3 365.0,114.3 366.3,112.0 366.2,110.6 360.2,108.1" fill="#7a7a7a" stroke="#7a7a7a" stroke-width="0.6"/>
<polygon points="366.2,110.6 367.3,108.1 365.4,104.3 363.2,104.6 360.5,107.3 360.2,108.1" fill="#7e7e7e" stroke="#7e7e7e" stroke-width="0.6"/>
<polygon points="375.8,111.0 375.0,108.4 373.1,107.5 372.6,107.6 371.2,113.1 371.7,113.6 375.1,113.1" fill="#b6b6b6" stroke="#b6b6b6" stroke-width="0.6"/>
<polygon points="366.3,112.0 371.2,113.1 372.6,107.6 371.2,107.1 367.3,108.1 366.2,110.6" fill="#b2b2b2" stroke="#b2b2b2" stroke-width="0.6"/>
<polygon points="379.1,106.3 375.0,108.4 375.8,111.0 380.0,111.1" fill="#c2c2c2" stroke="#c2c2c2" stroke-width="0.6"/>
<polygon points="379.4,116.5 380.5,116.3 381.2,115.2 380.9,112.0 380.0,111.1 375.8,111.0 375.1,113.1 377.1,115.7" fill="#c4c4c4" stroke="#c4c4c4" stroke-width="0.6"/>
<polygon points="381.2,115.2 385.5,114.2 387.0,111.4 385.6,108.9 384.6,109.0 380.9,112.0" fill="#dedede" stroke="#dedede" stroke-width="0.6"/>
<polygon points="379.1,106.3 380.0,111.1 380.9,112.0 384.6,109.0 380.0,105.5 379.6,105.5" fill="#dadada" stroke="#dadada" stroke-width="0.6"/>
<polygon points="392.9,108.0 392.5,108.2 390.7,112.1 391.1,113.0 393.3,113.8 395.9,113.8 396.6,110.6" fill="#ffffff" stroke="#ffffff" stroke-width="0.6"/>
<polygon points="387.3,106.2 385.6,108.9 387.0,111.4 390.7,112.1 392.5,108.2" fill="#ffffff" stroke="#ffffff" stroke-width="0.6"/>
<polygon points="399.5,117.1 402.6,112.6 400.7,108.6 396.6,110.6 395.9,113.8 398.0,116.6 399.5,117.1" fill="#d8d8d8" stroke="#d8d8d8" stroke-width="0.6"/>
<polygon points="401.1,106.9 400.6,106.4 394.6,104.2 392.9,108.0 396.6,110.6 400.7,108.6" fill="#d9d9d9" stroke="#d9d9d9" stroke-width="0.6"/>
<polygon points="406.1,113.1 406.5,113.1 406.3,106.1 403.4,105.9 401.1,106.9 400.7,108.6 402.6,112.6" fill="#dfdfdf" stroke="#dfdfdf" stroke-width="0.6"/>
<polygon points="408.1,105.6 406.3,106.1 406.5,113.1 411.0,114.5 411.0,105.7" fill="#d8d8d8" stroke="#d8d8d8" stroke-width="0.6"/>
<polygon points="243.5,112.4 241.6,113.2 239.4,115.8 244.6,119.2 245.9,116.0 245.5,114.1" fill="#b2b2b2" stroke="#b2b2b2" stroke-width="0.6"/>
<polygon points="242.9,122.9 245.2,121.4 244.6,119.2 239.4,115.8 237.0,116.3 237.0,123.8" fill="#a1a1a1" stroke="#a1a1a1" stroke-width="0.6"/>
<polygon points="244.6,119.2 245.2,121.4 246.6,121.9 250.1,120.7 251.6,115.9 245.9,116.0" fill="#a8a8a8" stroke="#a8a8a8" stroke-width="0.6"/>
<polygon points="245.9,116.0 251.6,115.9 252.1,115.3 252.1,114.2 248.1,112.5 245.5,114.1" fill="#aaaaaa" stroke="#aaaaaa" stroke-width="0.6"/>
<polygon points="253.7,110.6 252.1,114.2 252.1,115.3 258.4,118.5 259.6,118.2 260.4,115.6 258.3,111.0 257.3,110.6" fill="#9c9c9c" stroke="#9c9c9c" stroke-width="0.6"/>
<polygon points="251.6,115.9 250.1,120.7 254.0,122.8 258.4,118.5 252.1,115.3" fill="#929292" stroke="#929292" stroke-width="0.6"/>
<polygon points="260.0,118.7 261.3,122.4 261.7,122.6 267.0,123.3 266.5,118.8" fill="#7e7e7e" stroke="#7e7e7e" stroke-width="0.6"/>
<polygon points="265.3,113.1 260.4,115.6 259.6,118.2 260.0,118.7 266.5,118.8 267.3,117.9" fill="#838383" stroke="#838383" stroke-width="0.6"/>
<polygon points="269.0,111.0 265.7,112.4 265.3,113.1 267.3,117.9 272.0,117.6 269.4,111.3" fill="#818181" stroke="#818181" stroke-width="0.6"/>
<polygon points="267.3,117.9 266.5,118.8 267.0,123.3 267.2,123.5 272.7,119.1 272.3,117.8 272.0,117.6" fill="#7d7d7d" stroke="#7d7d7d" stroke-width="0.6"/>
<polygon points="281.6,118.1 281.4,117.0 274.8,115.6 272.3,117.8 272.7,119.1 273.9,120.5 275.3,121.3" fill="#969696" stroke="#969696" stroke-width="0.6"/>
<polygon points="280.8,112.9 275.9,112.0 274.8,115.6 281.4,117.0 281.5,115.2 281.4,114.3" fill="#929292" stroke="#929292" stroke-width="0.6"/>
<polygon points="281.5,115.2 288.5,114.2 288.7,113.2 287.7,111.4 287.6,111.3 281.4,114.3" fill="#b2b2b2" stroke="#b2b2b2" stroke-width="0.6"/>
<polygon points="289.0,117.9 288.5,114.2 281.5,115.2 281.4,117.0 281.6,118.1 282.6,119.0 284.0,119.7" fill="#b0b0b0" stroke="#b0b0b0" stroke-width="0.6"/>
<polygon points="290.8,118.8 292.9,122.1 293.7,122.7 296.6,122.3 298.9,120.8 298.7,119.4 294.4,115.5" fill="#878787" stroke="#878787" stroke-width="0.6"/>
<polygon points="294.8,113.6 293.5,112.4 288.7,113.2 288.5,114.2 289.0,117.9 290.5,118.7 290.8,118.8 294.4,115.5" fill="#909090" stroke="#909090" stroke-width="0.6"/>
<polygon points="298.7,119.4 300.4,114.6 300.1,114.0 297.6,112.8 294.8,113.6 294.4,115.5" fill="#8a8a8a" stroke="#8a8a8a" stroke-width="0.6"/>
<polygon points="298.9,120.8 302.2,121.9 304.0,116.7 303.9,115.4 300.4,114.6 298.7,119.4" fill="#858585" stroke="#858585" stroke-width="0.6"/>
<polygon points="310.0,113.3 308.1,112.6 303.9,115.4 304.0,116.7 308.2,120.0 309.4,119.6" fill="#acacac" stroke="#acacac" stroke-width="0.6"/>
<polygon points="308.2,120.0 304.0,116.7 302.2,121.9 303.7,123.1" fill="#bcbcbc" stroke="#bcbcbc" stroke-width="0.6"/>
<polygon points="311.4,121.2 312.6,121.9 314.7,115.8 310.7,113.0 310.0,113.3 309.4,119.6" fill="#9a9a9a" stroke="#9a9a9a" stroke-width="0.6"/>
<polygon points="316.1,116.2 314.7,115.8 312.6,121.9 313.2,122.5 313.6,122.5 315.0,122.0 316.6,119.1" fill="#979797" stroke="#979797" stroke-width="0.6"/>
<polygon points="316.6,119.1 315.0,122.0 318.4,122.8 320.3,119.1" fill="#a1a1a1" stroke="#a1a1a1" stroke-width="0.6"/>
<polygon points="322.3,117.8 322.3,117.1 320.8,115.1 319.5,114.6 316.1,116.2 316.6,119.1 320.3,119.1" fill="#9c9c9c" stroke="#9c9c9c" stroke-width="0.6"/>
<polygon points="330.4,117.0 327.6,120.6 332.7,124.0 334.6,122.4" fill="#979797" stroke="#979797" stroke-width="0.6"/>
<polygon points="330.4,116.3 327.4,114.5 322.3,117.1 322.3,117.8 324.9,121.8 327.6,120.6 330.4,117.0" fill="#9c9c9c" stroke="#9c9c9c" stroke-width="0.6"/>
<polygon points="332.2,115.1 337.1,118.2 339.9,115.1 339.7,114.9 336.4,113.1 332.3,114.9" fill="#bababa" stroke="#bababa" stroke-width="0.6"/>
<polygon points="330.4,116.3 330.4,117.0 334.6,122.4 335.1,122.3 336.4,122.0 337.1,118.2 332.2,115.1" fill="#aeaeae" stroke="#aeaeae" stroke-width="0.6"/>
<polygon points="336.4,122.0 339.6,123.5 341.1,122.4 344.9,118.9 341.4,115.2 339.9,115.1 337.1,118.2" fill="#c7c7c7" stroke="#c7c7c7" stroke-width="0.6"/>
<polygon points="343.5,111.3 341.4,115.2 344.9,118.9 346.2,119.1 348.8,114.8" fill="#bfbfbf" stroke="#bfbfbf" stroke-width="0.6"/>
<polygon points="352.0,121.8 354.0,121.8 357.1,119.9 357.5,119.5 357.5,119.5 354.9,116.5 351.8,114.6" fill="#ababab" stroke="#ababab" stroke-width="0.6"/>
<polygon points="350.6,113.4 350.4,113.4 348.8,114.8 346.2,119.1 346.4,119.3 351.8,121.8 352.0,121.8 351.8,114.6" fill="#b4b4b4" stroke="#b4b4b4" stroke-width="0.6"/>
<polygon points="357.5,119.5 359.5,117.2 360.4,115.5 355.6,112.8 354.9,116.5" fill="#adadad" stroke="#adadad" stroke-width="0.6"/>
<polygon points="351.6,111.9 350.6,113.4 351.8,114.6 354.9,116.5 355.6,112.8 355.5,112.7" fill="#afafaf" stroke="#afafaf" stroke-width="0.6"/>
<polygon points="360.4,115.5 359.5,117.2 366.0,121.0 367.7,120.8 368.2,119.7 365.0,114.3 360.6,115.3" fill="#b5b5b5" stroke="#b5b5b5" stroke-width="0.6"/>
<polygon points="357.5,119.5 362.3,122.8 366.0,121.0 359.5,117.2 357.5,119.5" fill="#acacac" stroke="#acacac" stroke-width="0.6"/>
<polygon points="375.1,113.1 371.7,113.6 371.4,118.3 372.4,118.6 377.1,115.7" fill="#cfcfcf" stroke="#cfcfcf" stroke-width="0.6"/>
<polygon points="371.2,113.1 366.3,112.0 365.0,114.3 368.2,119.7 371.4,118.3 371.7,113.6" fill="#c1c1c1" stroke="#c1c1c1" stroke-width="0.6"/>
<polygon points="372.4,118.6 373.5,119.8 377.5,120.2 379.4,116.5 377.1,115.7" fill="#d7d7d7" stroke="#d7d7d7" stroke-width="0.6"/>
<polygon points="382.6,119.0 380.5,116.3 379.4,116.5 377.5,120.2 377.9,123.6 380.8,123.5 381.0,123.3" fill="#d7d7d7" stroke="#d7d7d7" stroke-width="0.6"/>
<polygon points="386.3,119.9 388.5,117.8 385.5,114.2 381.2,115.2 380.5,116.3 382.6,119.0" fill="#d2d2d2" stroke="#d2d2d2" stroke-width="0.6"/>
<polygon points="390.7,112.1 387.0,111.4 385.5,114.2 388.5,117.8 389.1,117.7 391.1,113.0" fill="#dfdfdf" stroke="#dfdfdf" stroke-width="0.6"/>
<polygon points="391.1,113.0 389.1,117.7 392.5,119.5 393.3,113.8" fill="#dcdcdc" stroke="#dcdcdc" stroke-width="0.6"/>
<polygon points="395.9,113.8 393.3,113.8 392.5,119.5 392.9,119.8 398.0,116.6" fill="#e5e5e5" stroke="#e5e5e5" stroke-width="0.6"/>
<polygon points="399.5,117.1 398.0,116.6 392.9,119.8 393.2,123.3 399.6,123.2" fill="#ffffff" stroke="#ffffff" stroke-width="0.6"/>
<polygon points="400.3,123.9 403.8,124.0 406.5,120.6 404.0,118.5 399.5,117.1 399.5,117.1 399.6,123.2" fill="#ffffff" stroke="#ffffff" stroke-width="0.6"/>
<polygon points="404.0,118.5 406.1,113.1 402.6,112.6 399.5,117.1" fill="#d7d7d7" stroke="#d7d7d7" stroke-width="0.6"/>
<polygon points="406.5,113.1 406.1,113.1 404.0,118.5 406.5,120.6 411.0,119.4 411.0,114.5" fill="#e1e1e1" stroke="#e1e1e1" stroke-width="0.6"/>
<polygon points="243.6,127.5 242.9,122.9 237.0,123.8 237.0,127.8" fill="#b6b6b6" stroke="#b6b6b6" stroke-width="0.6"/>
<polygon points="244.6,129.4 247.8,125.0 246.6,121.9 245.2,121.4 242.9,122.9 243.6,127.5" fill="#acacac" stroke="#acacac" stroke-width="0.6"/>
<polygon points="254.0,122.8 250.1,120.7 246.6,121.9 247.8,125.0 249.9,127.0 252.5,126.6 254.2,124.4" fill="#989898" stroke="#989898" stroke-width="0.6"/>
<polygon points="248.3,131.8 249.9,127.0 247.8,125.0 244.6,129.4 244.7,131.1 246.1,133.2" fill="#8a8a8a" stroke="#8a8a8a" stroke-width="0.6"/>
<polygon points="258.0,126.8 257.9,126.5 254.2,124.4 252.5,126.6 252.9,127.7 257.0,129.7" fill="#a6a6a6" stroke="#a6a6a6" stroke-width="0.6"/>
<polygon points="258.4,118.5 254.0,122.8 254.2,124.4 257.9,126.5 261.3,122.4 260.0,118.7 259.6,118.2" fill="#999999" stroke="#999999" stroke-width="0.6"/>
<polygon points="261.7,122.6 261.3,122.4 257.9,126.5 258.0,126.8 263.2,129.1 263.7,129.1" fill="#b2b2b2" stroke="#b2b2b2" stroke-width="0.6"/>
<polygon points="268.5,127.3 267.2,123.5 267.0,123.3 261.7,122.6 263.7,129.1 265.6,130.1 267.6,129.6" fill="#aaaaaa" stroke="#aaaaaa" stroke-width="0.6"/>
<polygon points="270.2,126.5 273.9,120.5 272.7,119.1 267.2,123.5 268.5,127.3" fill="#858585" stroke="#858585" stroke-width="0.6"/>
<polygon points="276.3,126.7 276.5,126.7 277.0,125.2 275.3,121.3 273.9,120.5 270.2,126.5" fill="#7b7b7b" stroke="#7b7b7b" stroke-width="0.6"/>
<polygon points="285.4,127.4 279.8,124.5 277.0,125.2 276.5,126.7 277.6,129.1 280.4,129.7 285.3,128.5 285.5,128.1" fill="#737373" stroke="#737373" stroke-width="0.6"/>
<polygon points="279.8,124.5 282.6,119.0 281.6,118.1 275.3,121.3 277.0,125.2" fill="#6f6f6f" stroke="#6f6f6f" stroke-width="0.6"/>
<polygon points="285.8,125.6 284.0,119.7 282.6,119.0 279.8,124.5 285.4,127.4" fill="#979797" stroke="#979797" stroke-width="0.6"/>
<polygon points="290.5,118.7 289.0,117.9 284.0,119.7 285.8,125.6 286.1,125.4" fill="#9c9c9c" stroke="#9c9c9c" stroke-width="0.6"/>
<polygon points="290.5,118.7 286.1,125.4 292.9,122.1 290.8,118.8" fill="#777777" stroke="#777777" stroke-width="0.6"/>
<polygon points="286.1,125.4 285.8,125.6 285.4,127.4 285.5,128.1 291.9,129.1 292.8,127.6 293.7,122.7 292.9,122.1" fill="#838383" stroke="#838383" stroke-width="0.6"/>
<polygon points="292.8,127.6 298.5,127.7 296.6,122.3 293.7,122.7" fill="#808080" stroke="#808080" stroke-width="0.6"/>
<polygon points="303.7,123.1 302.2,121.9 298.9,120.8 296.6,122.3 298.5,127.7 299.4,128.5 302.0,129.7 304.6,127.6" fill="#8c8c8c" stroke="#8c8c8c" stroke-width="0.6"/>
<polygon points="305.1,127.6 311.4,121.2 309.4,119.6 308.2,120.0 303.7,123.1 304.6,127.6 305.0,127.7" fill="#878787" stroke="#878787" stroke-width="0.6"/>
<polygon points="312.9,123.1 313.2,122.5 312.6,121.9 311.4,121.2 305.1,127.6 309.2,127.5" fill="#818181" stroke="#818181" stroke-width="0.6"/>
<polygon points="313.8,130.7 314.9,130.5 318.0,129.1 313.6,122.5 313.2,122.5 312.9,123.1" fill="#979797" stroke="#979797" stroke-width="0.6"/>
<polygon points="313.7,130.8 313.8,130.7 312.9,123.1 309.2,127.5" fill="#acacac" stroke="#acacac" stroke-width="0.6"/>
<polygon points="321.9,128.7 322.4,127.1 318.4,122.8 315.0,122.0 313.6,122.5 318.0,129.1 320.3,129.0" fill="#939393" stroke="#939393" stroke-width="0.6"/>
<polygon points="318.4,122.8 322.4,127.1 324.3,124.9 324.9,121.8 322.3,117.8 320.3,119.1" fill="#a5a5a5" stroke="#a5a5a5" stroke-width="0.6"/>
<polygon points="329.9,130.3 331.9,127.9 331.6,126.2 324.3,124.9 322.4,127.1 321.9,128.7 323.9,131.9" fill="#b4b4b4" stroke="#b4b4b4" stroke-width="0.6"/>
<polygon points="332.7,124.0 327.6,120.6 324.9,121.8 324.3,124.9 331.6,126.2" fill="#b3b3b3" stroke="#b3b3b3" stroke-width="0.6"/>
<polygon points="332.2,128.1 336.8,130.1 335.1,122.3 334.6,122.4 332.7,124.0 331.6,126.2 331.9,127.9" fill="#a1a1a1" stroke="#a1a1a1" stroke-width="0.6"/>
<polygon points="337.6,130.6 340.1,125.4 339.6,123.5 336.4,122.0 335.1,122.3 336.8,130.1" fill="#b3b3b3" stroke="#b3b3b3" stroke-width="0.6"/>
<polygon points="344.9,118.9 341.1,122.4 345.9,125.6 346.4,119.3 346.2,119.1" fill="#aaaaaa" stroke="#aaaaaa" stroke-width="0.6"/>
<polygon points="345.9,125.6 341.1,122.4 339.6,123.5 340.1,125.4 346.0,128.3 346.1,128.3" fill="#a8a8a8" stroke="#a8a8a8" stroke-width="0.6"/>
<polygon points="345.9,125.6 346.1,128.3 348.7,128.6 351.8,121.8 346.4,119.3" fill="#b1b1b1" stroke="#b1b1b1" stroke-width="0.6"/>
<polygon points="351.8,121.8 348.7,128.6 349.8,129.6 352.0,130.2 353.1,129.7 355.0,125.9 354.0,121.8 352.0,121.8" fill="#a9a9a9" stroke="#a9a9a9" stroke-width="0.6"/>
<polygon points="355.0,125.9 353.1,129.7 357.8,130.6 359.7,127.7" fill="#c8c8c8" stroke="#c8c8c8" stroke-width="0.6"/>
<polygon points="354.0,121.8 355.0,125.9 359.7,127.7 359.8,127.6 357.1,119.9" fill="#bebebe" stroke="#bebebe" stroke-width="0.6"/>
<polygon points="367.7,120.8 366.0,121.0 362.3,122.8 362.3,127.4 363.7,128.2 366.6,126.0 368.6,123.7" fill="#b1b1b1" stroke="#b1b1b1" stroke-width="0.6"/>
<polygon points="357.1,119.9 359.8,127.6 362.3,127.4 362.3,122.8 357.5,119.5" fill="#b0b0b0" stroke="#b0b0b0" stroke-width="0.6"/>
<polygon points="368.6,123.7 366.6,126.0 369.6,129.8 373.8,127.7 374.0,126.8" fill="#ffffff" stroke="#ffffff" stroke-width="0.6"/>
<polygon points="371.4,118.3 368.2,119.7 367.7,120.8 368.6,123.7 374.0,126.8 374.7,126.3 373.5,119.8 372.4,118.6" fill="#ffffff" stroke="#ffffff" stroke-width="0.6"/>
<polygon points="374.7,126.3 374.9,126.2 377.9,123.6 377.5,120.2 373.5,119.8" fill="#d6d6d6" stroke="#d6d6d6" stroke-width="0.6"/>
<polygon points="380.8,123.5 377.9,123.6 374.9,126.2 379.5,128.2 382.1,127.7" fill="#d5d5d5" stroke="#d5d5d5" stroke-width="0.6"/>
<polygon points="386.3,119.9 382.6,119.0 381.0,123.3 387.0,124.3" fill="#d7d7d7" stroke="#d7d7d7" stroke-width="0.6"/>
<polygon points="385.5,128.9 386.5,127.6 387.5,125.1 387.0,124.3 381.0,123.3 380.8,123.5 382.1,127.7 384.2,128.9 385.4,128.9" fill="#d8d8d8" stroke="#d8d8d8" stroke-width="0.6"/>
<polygon points="387.5,125.1 392.6,124.3 393.2,123.3 392.9,119.8 392.5,119.5 389.1,117.7 388.5,117.8 386.3,119.9 387.0,124.3" fill="#d7d7d7" stroke="#d7d7d7" stroke-width="0.6"/>
<polygon points="386.5,127.6 389.7,129.2 394.0,128.0 392.6,124.3 387.5,125.1" fill="#e7e7e7" stroke="#e7e7e7" stroke-width="0.6"/>
<polygon points="393.2,123.3 392.6,124.3 394.0,128.0 395.0,129.5 399.1,128.1 400.3,123.9 399.6,123.2" fill="#dedede" stroke="#dedede" stroke-width="0.6"/>
<polygon points="399.1,128.1 400.7,129.6 404.7,129.3 405.3,128.5 405.2,126.4 403.8,124.0 400.3,123.9" fill="#d9d9d9" stroke="#d9d9d9" stroke-width="0.6"/>
<polygon points="406.5,120.6 403.8,124.0 405.2,126.4 411.0,125.1 411.0,119.4" fill="#ffffff" stroke="#ffffff" stroke-width="0.6"/>
<polygon points="411.0,129.7 411.0,125.1 405.2,126.4 405.3,128.5" fill="#ffffff" stroke="#ffffff" stroke-width="0.6"/>
<polygon points="244.7,131.1 237.0,129.0 237.0,136.2 246.0,133.7 246.1,133.2" fill="#979797" stroke="#979797" stroke-width="0.6"/>
<polygon points="244.7,131.1 244.6,129.4 243.6,127.5 237.0,127.8 237.0,129.0" fill="#949494" stroke="#949494" stroke-width="0.6"/>
<polygon points="254.5,134.9 251.6,131.8 248.3,131.8 246.1,133.2 246.0,133.7 246.9,136.0 251.0,137.5 253.1,136.3" fill="#afafaf" stroke="#afafaf" stroke-width="0.6"/>
<polygon points="251.6,131.8 253.0,130.3 252.9,127.7 252.5,126.6 249.9,127.0 248.3,131.8" fill="#adadad" stroke="#adadad" stroke-width="0.6"/>
<polygon points="254.5,134.9 257.4,134.3 257.4,131.9 257.0,131.0 253.0,130.3 251.6,131.8" fill="#959595" stroke="#959595" stroke-width="0.6"/>
<polygon points="257.0,129.7 252.9,127.7 253.0,130.3 257.0,131.0" fill="#949494" stroke="#949494" stroke-width="0.6"/>
<polygon points="257.4,131.9 263.2,129.1 258.0,126.8 257.0,129.7 257.0,131.0" fill="#7f7f7f" stroke="#7f7f7f" stroke-width="0.6"/>
<polygon points="261.4,135.8 265.0,131.4 265.6,130.1 263.7,129.1 263.2,129.1 257.4,131.9 257.4,134.3 259.8,136.4" fill="#7b7b7b" stroke="#7b7b7b" stroke-width="0.6"/>
<polygon points="270.1,131.9 276.3,126.7 270.2,126.5 268.5,127.3 267.6,129.6 269.8,131.6" fill="#9a9a9a" stroke="#9a9a9a" stroke-width="0.6"/>
<polygon points="267.6,129.6 265.6,130.1 265.0,131.4 266.6,136.6 269.8,131.6" fill="#939393" stroke="#939393" stroke-width="0.6"/>
<polygon points="272.2,134.0 274.5,134.8 277.6,129.1 276.5,126.7 276.3,126.7 270.1,131.9" fill="#b1b1b1" stroke="#b1b1b1" stroke-width="0.6"/>
<polygon points="280.6,135.6 280.4,129.7 277.6,129.1 274.5,134.8 274.5,134.9 277.5,136.0 280.4,136.0" fill="#ababab" stroke="#ababab" stroke-width="0.6"/>
<polygon points="280.6,135.6 280.4,136.0 282.1,137.8 287.1,134.8 285.3,131.7" fill="#b1b1b1" stroke="#b1b1b1" stroke-width="0.6"/>
<polygon points="280.4,129.7 280.6,135.6 285.3,131.7 285.3,128.5" fill="#aaaaaa" stroke="#aaaaaa" stroke-width="0.6"/>
<polygon points="297.2,133.8 293.6,131.1 292.6,130.8 291.1,134.4 293.6,136.4 294.8,136.3" fill="#cfcfcf" stroke="#cfcfcf" stroke-width="0.6"/>
<polygon points="291.1,134.4 292.6,130.8 291.9,129.1 285.5,128.1 285.3,128.5 285.3,131.7 287.1,134.8 288.7,135.9" fill="#d3d3d3" stroke="#d3d3d3" stroke-width="0.6"/>
<polygon points="300.7,134.1 300.9,133.9 302.0,129.7 299.4,128.5 293.6,131.1 297.2,133.8" fill="#ffffff" stroke="#ffffff" stroke-width="0.6"/>
<polygon points="292.6,130.8 293.6,131.1 299.4,128.5 298.5,127.7 292.8,127.6 291.9,129.1" fill="#ffffff" stroke="#ffffff" stroke-width="0.6"/>
<polygon points="305.1,127.6 305.0,127.7 309.8,135.0 313.6,130.9 313.7,130.8 309.2,127.5" fill="#808080" stroke="#808080" stroke-width="0.6"/>
<polygon points="304.6,127.6 302.0,129.7 300.9,133.9 309.1,137.8 309.8,135.0 305.0,127.7" fill="#848484" stroke="#848484" stroke-width="0.6"/>
<polygon points="313.6,130.9 315.7,136.0 316.2,136.1 317.4,134.9 314.9,130.5 313.8,130.7 313.7,130.8" fill="#858585" stroke="#858585" stroke-width="0.6"/>
<polygon points="309.8,135.0 309.1,137.8 309.3,138.5 309.7,139.1 315.7,136.0 313.6,130.9" fill="#858585" stroke="#858585" stroke-width="0.6"/>
<polygon points="324.0,132.3 323.9,131.9 321.9,128.7 320.3,129.0 317.6,134.8 318.1,135.0 323.8,133.5" fill="#868686" stroke="#868686" stroke-width="0.6"/>
<polygon points="317.6,134.8 320.3,129.0 318.0,129.1 314.9,130.5 317.4,134.9" fill="#848484" stroke="#848484" stroke-width="0.6"/>
<polygon points="332.2,135.1 329.9,130.3 323.9,131.9 324.0,132.3 331.6,135.1 332.0,135.2" fill="#9c9c9c" stroke="#9c9c9c" stroke-width="0.6"/>
<polygon points="331.6,135.1 324.0,132.3 323.8,133.5 323.9,135.9" fill="#989898" stroke="#989898" stroke-width="0.6"/>
<polygon points="333.7,135.4 332.2,128.1 331.9,127.9 329.9,130.3 332.2,135.1" fill="#b1b1b1" stroke="#b1b1b1" stroke-width="0.6"/>
<polygon points="337.5,136.4 337.8,136.3 338.5,133.2 337.6,130.6 336.8,130.1 332.2,128.1 333.7,135.4" fill="#adadad" stroke="#adadad" stroke-width="0.6"/>
<polygon points="346.0,135.1 344.3,130.6 338.5,133.2 337.8,136.3 340.3,137.7" fill="#adadad" stroke="#adadad" stroke-width="0.6"/>
<polygon points="340.1,125.4 337.6,130.6 338.5,133.2 344.3,130.6 346.0,128.3" fill="#afafaf" stroke="#afafaf" stroke-width="0.6"/>
<polygon points="347.8,135.5 349.8,129.6 348.7,128.6 346.1,128.3 346.0,128.3 344.3,130.6 346.0,135.1 347.7,135.5" fill="#bcbcbc" stroke="#bcbcbc" stroke-width="0.6"/>
<polygon points="349.7,135.8 352.6,135.1 352.3,131.3 352.0,130.2 349.8,129.6 347.8,135.5" fill="#a4a4a4" stroke="#a4a4a4" stroke-width="0.6"/>
<polygon points="358.5,133.6 357.8,130.6 353.1,129.7 352.0,130.2 352.3,131.3 357.7,134.6" fill="#aaaaaa" stroke="#aaaaaa" stroke-width="0.6"/>
<polygon points="357.7,134.6 352.3,131.3 352.6,135.1 355.4,137.8 355.5,137.8 356.9,136.2" fill="#acacac" stroke="#acacac" stroke-width="0.6"/>
<polygon points="359.8,127.6 359.7,127.7 357.8,130.6 358.5,133.6 362.8,133.9 364.3,129.8 363.7,128.2 362.3,127.4" fill="#b0b0b0" stroke="#b0b0b0" stroke-width="0.6"/>
<polygon points="364.3,129.8 362.8,133.9 364.4,136.8 369.5,136.0 368.1,131.2" fill="#aeaeae" stroke="#aeaeae" stroke-width="0.6"/>
<polygon points="369.6,129.8 368.1,131.2 369.5,136.0 370.2,136.2 373.6,134.9 375.4,134.0 375.4,134.0 373.8,127.7" fill="#e6e6e6" stroke="#e6e6e6" stroke-width="0.6"/>
<polygon points="366.6,126.0 363.7,128.2 364.3,129.8 368.1,131.2 369.6,129.8" fill="#d1d1d1" stroke="#d1d1d1" stroke-width="0.6"/>
<polygon points="382.1,127.7 379.5,128.2 379.4,133.0 380.0,133.1 384.2,128.9" fill="#b9b9b9" stroke="#b9b9b9" stroke-width="0.6"/>
<polygon points="374.7,126.3 374.0,126.8 373.8,127.7 375.4,134.0 379.4,133.0 379.5,128.2 374.9,126.2" fill="#a6a6a6" stroke="#a6a6a6" stroke-width="0.6"/>
<polygon points="386.0,135.3 392.4,134.0 392.3,133.9 385.5,128.9 385.4,128.9" fill="#959595" stroke="#959595" stroke-width="0.6"/>
<polygon points="384.2,128.9 380.0,133.1 382.9,135.7 386.0,135.3 386.0,135.3 385.4,128.9" fill="#9d9d9d" stroke="#9d9d9d" stroke-width="0.6"/>
<polygon points="393.6,134.3 394.0,134.2 395.0,129.5 394.0,128.0 389.7,129.2 392.3,133.9 392.4,134.0" fill="#ffffff" stroke="#ffffff" stroke-width="0.6"/>
<polygon points="392.3,133.9 389.7,129.2 386.5,127.6 385.5,128.9" fill="#ffffff" stroke="#ffffff" stroke-width="0.6"/>
<polygon points="400.7,129.6 400.6,133.6 405.3,132.4 404.7,129.3" fill="#ffffff" stroke="#ffffff" stroke-width="0.6"/>
<polygon points="399.1,128.1 395.0,129.5 394.0,134.2 395.4,135.1 397.7,135.1 399.7,135.0 400.6,133.6 400.7,129.6" fill="#ffffff" stroke="#ffffff" stroke-width="0.6"/>
<polygon points="399.7,135.0 402.8,137.9 406.0,133.3 405.3,132.4 400.6,133.6" fill="#dcdcdc" stroke="#dcdcdc" stroke-width="0.6"/>
<polygon points="405.3,128.5 404.7,129.3 405.3,132.4 406.0,133.3 410.3,134.5 411.0,134.5 411.0,129.7" fill="#dbdbdb" stroke="#dbdbdb" stroke-width="0.6"/>
<polygon points="242.0,144.7 243.3,143.8 243.8,140.4 237.0,138.0 237.0,140.8" fill="#838383" stroke="#838383" stroke-width="0.6"/>
<polygon points="237.0,136.2 237.0,138.0 243.8,140.4 245.8,138.7 246.9,136.0 246.0,133.7" fill="#858585" stroke="#858585" stroke-width="0.6"/>
<polygon points="243.8,140.4 243.3,143.8 247.1,145.2 249.3,143.6 245.8,138.7" fill="#9f9f9f" stroke="#9f9f9f" stroke-width="0.6"/>
<polygon points="251.0,137.5 246.9,136.0 245.8,138.7 249.3,143.6 252.6,143.4" fill="#9c9c9c" stroke="#9c9c9c" stroke-width="0.6"/>
<polygon points="258.8,141.9 259.8,136.4 257.4,134.3 254.5,134.9 253.1,136.3 257.7,142.6" fill="#7a7a7a" stroke="#7a7a7a" stroke-width="0.6"/>
<polygon points="253.1,136.3 251.0,137.5 252.6,143.4 253.6,143.9 256.3,143.8 257.7,142.6" fill="#7e7e7e" stroke="#7e7e7e" stroke-width="0.6"/>
<polygon points="266.6,136.6 265.0,131.4 261.4,135.8 266.6,138.7" fill="#8b8b8b" stroke="#8b8b8b" stroke-width="0.6"/>
<polygon points="264.2,143.8 267.1,139.3 267.1,139.2 266.6,138.7 261.4,135.8 259.8,136.4 258.8,141.9" fill="#8f8f8f" stroke="#8f8f8f" stroke-width="0.6"/>
<polygon points="266.6,136.6 266.6,138.7 267.1,139.2 272.2,134.0 270.1,131.9 269.8,131.6" fill="#888888" stroke="#888888" stroke-width="0.6"/>
<polygon points="272.3,141.8 273.0,141.6 274.5,134.9 274.5,134.8 272.2,134.0 267.1,139.2 267.1,139.3" fill="#898989" stroke="#898989" stroke-width="0.6"/>
<polygon points="277.5,136.0 278.1,141.9 280.9,140.7 282.3,138.4 282.1,137.8 280.4,136.0" fill="#9b9b9b" stroke="#9b9b9b" stroke-width="0.6"/>
<polygon points="276.6,144.0 278.1,141.9 277.5,136.0 274.5,134.9 273.0,141.6" fill="#a6a6a6" stroke="#a6a6a6" stroke-width="0.6"/>
<polygon points="288.7,135.9 287.1,134.8 282.1,137.8 282.3,138.4 286.9,141.4 288.3,141.8 288.8,141.5" fill="#aaaaaa" stroke="#aaaaaa" stroke-width="0.6"/>
<polygon points="282.3,138.4 280.9,140.7 282.1,143.1 286.9,141.4" fill="#ababab" stroke="#ababab" stroke-width="0.6"/>
<polygon points="293.6,136.4 291.1,134.4 288.7,135.9 288.8,141.5 291.6,141.6 292.3,141.4" fill="#ffffff" stroke="#ffffff" stroke-width="0.6"/>
<polygon points="294.8,136.3 293.6,136.4 292.3,141.4 293.6,141.4 294.3,141.1 296.3,138.9" fill="#ffffff" stroke="#ffffff" stroke-width="0.6"/>
<polygon points="299.8,138.1 300.7,134.1 297.2,133.8 294.8,136.3 296.3,138.9" fill="#ffffff" stroke="#ffffff" stroke-width="0.6"/>
<polygon points="294.3,141.1 299.1,142.5 300.9,141.2 301.0,141.0 299.8,138.1 296.3,138.9" fill="#ffffff" stroke="#ffffff" stroke-width="0.6"/>
<polygon points="309.7,139.7 309.7,139.1 309.7,139.1 309.3,138.5 301.0,141.0 300.9,141.2 301.8,142.4 308.0,144.2" fill="#949494" stroke="#949494" stroke-width="0.6"/>
<polygon points="309.3,138.5 309.1,137.8 300.9,133.9 300.7,134.1 299.8,138.1 301.0,141.0" fill="#a3a3a3" stroke="#a3a3a3" stroke-width="0.6"/>
<polygon points="319.5,141.5 319.4,140.9 309.7,139.1 309.7,139.7 316.6,146.9 317.6,145.7" fill="#aaaaaa" stroke="#aaaaaa" stroke-width="0.6"/>
<polygon points="316.2,136.1 315.7,136.0 309.7,139.1 309.7,139.1 319.4,140.9 319.5,140.8" fill="#b1b1b1" stroke="#b1b1b1" stroke-width="0.6"/>
<polygon points="323.8,133.5 318.1,135.0 320.7,139.2 323.9,136.0 323.9,135.9" fill="#909090" stroke="#909090" stroke-width="0.6"/>
<polygon points="317.6,134.8 317.4,134.9 316.2,136.1 319.5,140.8 320.7,139.2 318.1,135.0" fill="#909090" stroke="#909090" stroke-width="0.6"/>
<polygon points="323.9,136.0 327.8,139.3 328.1,139.1 332.0,135.2 331.6,135.1 323.9,135.9" fill="#b4b4b4" stroke="#b4b4b4" stroke-width="0.6"/>
<polygon points="320.7,139.2 319.5,140.8 319.4,140.9 319.5,141.5 325.9,144.5 327.3,144.5 327.8,144.2 328.4,142.9 327.8,139.3 323.9,136.0" fill="#b2b2b2" stroke="#b2b2b2" stroke-width="0.6"/>
<polygon points="327.8,139.3 328.4,142.9 335.1,141.4 336.1,138.9 328.1,139.1" fill="#b3b3b3" stroke="#b3b3b3" stroke-width="0.6"/>
<polygon points="336.1,138.9 337.5,136.4 333.7,135.4 332.2,135.1 332.0,135.2 328.1,139.1" fill="#afafaf" stroke="#afafaf" stroke-width="0.6"/>
<polygon points="347.4,138.6 347.7,135.5 346.0,135.1 340.3,137.7 340.9,138.4" fill="#acacac" stroke="#acacac" stroke-width="0.6"/>
<polygon points="342.4,141.6 343.4,142.9 348.0,140.0 347.4,138.6 340.9,138.4" fill="#ababab" stroke="#ababab" stroke-width="0.6"/>
<polygon points="351.2,140.3 355.4,137.8 352.6,135.1 349.7,135.8" fill="#929292" stroke="#929292" stroke-width="0.6"/>
<polygon points="348.0,140.0 350.4,141.2 351.2,140.3 349.7,135.8 347.8,135.5 347.7,135.5 347.4,138.6" fill="#979797" stroke="#979797" stroke-width="0.6"/>
<polygon points="350.6,143.1 356.1,142.9 357.4,141.0 355.5,137.8 355.4,137.8 351.2,140.3 350.4,141.2" fill="#e4e4e4" stroke="#e4e4e4" stroke-width="0.6"/>
<polygon points="358.5,141.3 362.3,137.9 356.9,136.2 355.5,137.8 357.4,141.0" fill="#dbdbdb" stroke="#dbdbdb" stroke-width="0.6"/>
<polygon points="364.3,137.2 362.3,137.9 358.5,141.3 358.8,141.5 364.7,141.4" fill="#a5a5a5" stroke="#a5a5a5" stroke-width="0.6"/>
<polygon points="362.8,133.9 358.5,133.6 357.7,134.6 356.9,136.2 362.3,137.9 364.3,137.2 364.4,136.8" fill="#acacac" stroke="#acacac" stroke-width="0.6"/>
<polygon points="368.8,144.2 370.8,142.5 370.2,136.2 369.5,136.0 364.4,136.8 364.3,137.2 364.7,141.4 364.9,141.9" fill="#d5d5d5" stroke="#d5d5d5" stroke-width="0.6"/>
<polygon points="370.2,136.2 370.8,142.5 374.5,143.0 373.6,134.9" fill="#d4d4d4" stroke="#d4d4d4" stroke-width="0.6"/>
<polygon points="375.4,134.0 373.6,134.9 374.5,143.0 376.1,143.4 379.0,141.3" fill="#adadad" stroke="#adadad" stroke-width="0.6"/>
<polygon points="375.4,134.0 375.4,134.0 379.0,141.3 379.1,141.3 379.3,141.3 380.4,140.6 382.9,135.7 380.0,133.1 379.4,133.0" fill="#a9a9a9" stroke="#a9a9a9" stroke-width="0.6"/>
<polygon points="382.9,135.7 380.4,140.6 385.7,140.4 387.0,140.0 386.0,135.3" fill="#a6a6a6" stroke="#a6a6a6" stroke-width="0.6"/>
<polygon points="380.4,140.6 379.3,141.3 383.9,144.3 385.7,140.4" fill="#b7b7b7" stroke="#b7b7b7" stroke-width="0.6"/>
<polygon points="396.5,142.9 395.4,135.1 394.0,134.2 393.6,134.3 389.6,141.8 390.6,144.3 391.5,144.3" fill="#b9b9b9" stroke="#b9b9b9" stroke-width="0.6"/>
<polygon points="387.0,140.0 389.6,141.8 393.6,134.3 392.4,134.0 386.0,135.3 386.0,135.3" fill="#aeaeae" stroke="#aeaeae" stroke-width="0.6"/>
<polygon points="398.8,143.7 400.2,143.1 397.7,135.1 395.4,135.1 396.5,142.9" fill="#a3a3a3" stroke="#a3a3a3" stroke-width="0.6"/>
<polygon points="400.2,143.1 402.0,142.5 403.6,140.6 403.6,140.0 402.8,137.9 399.7,135.0 397.7,135.1" fill="#969696" stroke="#969696" stroke-width="0.6"/>
<polygon points="410.3,134.5 403.6,140.0 403.6,140.6 411.0,142.6 411.0,134.5" fill="#dbdbdb" stroke="#dbdbdb" stroke-width="0.6"/>
<polygon points="402.8,137.9 403.6,140.0 410.3,134.5 406.0,133.3" fill="#e4e4e4" stroke="#e4e4e4" stroke-width="0.6"/>
<polygon points="247.1,145.2 243.3,143.8 242.0,144.7 240.4,148.7 242.1,148.7 247.0,147.3" fill="#707070" stroke="#707070" stroke-width="0.6"/>
<polygon points="238.7,150.2 240.4,148.7 242.0,144.7 237.0,140.8 237.0,150.3" fill="#737373" stroke="#737373" stroke-width="0.6"/>
<polygon points="252.6,143.4 249.3,143.6 247.1,145.2 247.0,147.3 247.5,148.2 248.9,150.1 250.9,150.6 253.6,143.9" fill="#717171" stroke="#717171" stroke-width="0.6"/>
<polygon points="242.1,148.7 244.5,149.9 247.5,148.2 247.0,147.3" fill="#848484" stroke="#848484" stroke-width="0.6"/>
<polygon points="253.6,143.9 250.9,150.6 252.2,152.7 256.4,149.7 256.7,144.9 256.3,143.8" fill="#7f7f7f" stroke="#7f7f7f" stroke-width="0.6"/>
<polygon points="259.3,147.7 256.7,144.9 256.4,149.7 259.5,151.9 261.1,150.5" fill="#818181" stroke="#818181" stroke-width="0.6"/>
<polygon points="256.3,143.8 256.7,144.9 259.3,147.7 265.2,145.7 264.2,143.8 258.8,141.9 257.7,142.6" fill="#787878" stroke="#787878" stroke-width="0.6"/>
<polygon points="267.1,148.7 267.1,148.7 265.2,145.7 259.3,147.7 261.1,150.5 266.6,149.7" fill="#7d7d7d" stroke="#7d7d7d" stroke-width="0.6"/>
<polygon points="267.1,148.7 274.3,149.6 276.8,144.7 276.6,144.0 273.0,141.6 272.3,141.8 267.1,148.7" fill="#9d9d9d" stroke="#9d9d9d" stroke-width="0.6"/>
<polygon points="267.1,148.7 272.3,141.8 267.1,139.3 264.2,143.8 265.2,145.7" fill="#9d9d9d" stroke="#9d9d9d" stroke-width="0.6"/>
<polygon points="282.1,143.1 280.9,140.7 278.1,141.9 276.6,144.0 276.8,144.7 280.6,146.0 281.1,145.6" fill="#b2b2b2" stroke="#b2b2b2" stroke-width="0.6"/>
<polygon points="280.6,146.0 276.8,144.7 274.3,149.6 274.5,149.9 277.1,151.1 280.9,148.3 281.0,147.8" fill="#b3b3b3" stroke="#b3b3b3" stroke-width="0.6"/>
<polygon points="286.9,141.4 282.1,143.1 281.1,145.6 287.3,145.5 288.3,141.8" fill="#a0a0a0" stroke="#a0a0a0" stroke-width="0.6"/>
<polygon points="281.1,145.6 280.6,146.0 281.0,147.8 287.3,150.2 287.9,148.5 287.3,145.5" fill="#9c9c9c" stroke="#9c9c9c" stroke-width="0.6"/>
<polygon points="293.6,141.4 292.3,141.4 291.6,141.6 294.1,147.8 294.9,148.2 297.5,146.5 297.5,146.3" fill="#ffffff" stroke="#ffffff" stroke-width="0.6"/>
<polygon points="291.6,141.6 288.8,141.5 288.3,141.8 287.3,145.5 287.9,148.5 294.1,147.8" fill="#ffffff" stroke="#ffffff" stroke-width="0.6"/>
<polygon points="293.6,141.4 297.5,146.3 299.1,142.5 294.3,141.1" fill="#ffffff" stroke="#ffffff" stroke-width="0.6"/>
<polygon points="300.9,141.2 299.1,142.5 297.5,146.3 297.5,146.5 301.3,148.2 301.8,142.5 301.8,142.4" fill="#ffffff" stroke="#ffffff" stroke-width="0.6"/>
<polygon points="301.3,148.2 303.7,150.6 306.1,149.4 306.3,148.8 301.8,142.5" fill="#ffffff" stroke="#ffffff" stroke-width="0.6"/>
<polygon points="308.0,144.2 301.8,142.4 301.8,142.5 306.3,148.8 308.0,144.3" fill="#ffffff" stroke="#ffffff" stroke-width="0.6"/>
<polygon points="306.3,148.8 306.1,149.4 309.5,150.8 316.1,148.9 316.2,148.1 308.0,144.3" fill="#acacac" stroke="#acacac" stroke-width="0.6"/>
<polygon points="316.2,148.1 316.6,146.9 309.7,139.7 308.0,144.2 308.0,144.3" fill="#aaaaaa" stroke="#aaaaaa" stroke-width="0.6"/>
<polygon points="325.9,144.5 319.5,141.5 317.6,145.7 323.0,147.1" fill="#ababab" stroke="#ababab" stroke-width="0.6"/>
<polygon points="317.6,145.7 316.6,146.9 316.2,148.1 316.1,148.9 316.8,150.0 319.0,151.1 322.8,148.9 323.0,147.1" fill="#a7a7a7" stroke="#a7a7a7" stroke-width="0.6"/>
<polygon points="326.9,148.0 327.3,144.5 325.9,144.5 323.0,147.1 322.8,148.9 323.9,149.5" fill="#a7a7a7" stroke="#a7a7a7" stroke-width="0.6"/>
<polygon points="327.5,150.4 329.8,152.6 332.1,151.3 332.7,150.4 331.8,147.4 327.8,144.2 327.3,144.5 326.9,148.0" fill="#adadad" stroke="#adadad" stroke-width="0.6"/>
<polygon points="336.5,149.9 338.1,147.1 336.9,145.0 335.9,144.1 331.8,147.4 332.7,150.4" fill="#9f9f9f" stroke="#9f9f9f" stroke-width="0.6"/>
<polygon points="327.8,144.2 331.8,147.4 335.9,144.1 335.1,141.4 328.4,142.9" fill="#a6a6a6" stroke="#a6a6a6" stroke-width="0.6"/>
<polygon points="335.1,141.4 335.9,144.1 336.9,145.0 342.4,141.6 340.9,138.4 340.3,137.7 337.8,136.3 337.5,136.4 336.1,138.9" fill="#949494" stroke="#949494" stroke-width="0.6"/>
<polygon points="342.4,141.6 336.9,145.0 338.1,147.1 342.5,147.2 344.1,145.5 343.4,142.9" fill="#9c9c9c" stroke="#9c9c9c" stroke-width="0.6"/>
<polygon points="344.1,145.5 348.9,146.6 349.8,146.4 350.6,143.1 350.4,141.2 348.0,140.0 343.4,142.9" fill="#ffffff" stroke="#ffffff" stroke-width="0.6"/>
<polygon points="348.0,149.0 348.9,146.6 344.1,145.5 342.5,147.2 342.7,150.5" fill="#ffffff" stroke="#ffffff" stroke-width="0.6"/>
<polygon points="361.0,147.6 361.1,145.8 358.8,141.5 358.5,141.3 357.4,141.0 356.1,142.9 355.6,147.2" fill="#ffffff" stroke="#ffffff" stroke-width="0.6"/>
<polygon points="355.6,147.2 356.1,142.9 350.6,143.1 349.8,146.4 353.3,148.6" fill="#ffffff" stroke="#ffffff" stroke-width="0.6"/>
<polygon points="364.7,141.4 358.8,141.5 361.1,145.8 364.9,141.9" fill="#e2e2e2" stroke="#e2e2e2" stroke-width="0.6"/>
<polygon points="363.2,149.6 368.8,144.2 368.8,144.2 364.9,141.9 361.1,145.8 361.0,147.6 362.6,149.7" fill="#dddddd" stroke="#dddddd" stroke-width="0.6"/>
<polygon points="363.2,149.6 365.1,150.6 371.2,151.8 371.5,151.5 371.7,150.4 368.8,144.2" fill="#dbdbdb" stroke="#dbdbdb" stroke-width="0.6"/>
<polygon points="371.7,150.4 376.2,146.1 376.1,143.4 374.5,143.0 370.8,142.5 368.8,144.2 368.8,144.2" fill="#d8d8d8" stroke="#d8d8d8" stroke-width="0.6"/>
<polygon points="382.3,148.8 379.1,141.3 379.0,141.3 376.1,143.4 376.2,146.1 378.5,148.9" fill="#b5b5b5" stroke="#b5b5b5" stroke-width="0.6"/>
<polygon points="378.5,148.9 376.2,146.1 371.7,150.4 371.5,151.5 375.1,152.5 377.5,151.0" fill="#b2b2b2" stroke="#b2b2b2" stroke-width="0.6"/>
<polygon points="390.6,144.3 389.6,141.8 387.0,140.0 385.7,140.4 383.9,144.3 387.5,149.0" fill="#ffffff" stroke="#ffffff" stroke-width="0.6"/>
<polygon points="387.5,149.0 383.9,144.3 379.3,141.3 379.1,141.3 382.3,148.8 385.4,150.0 386.9,150.0 387.0,150.0 387.4,149.5" fill="#ffffff" stroke="#ffffff" stroke-width="0.6"/>
<polygon points="393.0,150.6 395.6,148.8 391.5,144.3 390.6,144.3 387.5,149.0 387.4,149.5" fill="#a9a9a9" stroke="#a9a9a9" stroke-width="0.6"/>
<polygon points="398.6,149.4 398.8,148.9 398.8,143.7 396.5,142.9 391.5,144.3 395.6,148.8" fill="#adadad" stroke="#adadad" stroke-width="0.6"/>
<polygon points="398.8,148.9 404.6,148.0 403.6,145.0 402.0,142.5 400.2,143.1 398.8,143.7" fill="#9c9c9c" stroke="#9c9c9c" stroke-width="0.6"/>
<polygon points="398.9,151.5 400.0,152.4 402.3,152.5 406.0,149.4 404.6,148.0 398.8,148.9 398.6,149.4" fill="#9f9f9f" stroke="#9f9f9f" stroke-width="0.6"/>
<polygon points="403.6,140.6 402.0,142.5 403.6,145.0 411.0,145.4 411.0,142.6" fill="#d9d9d9" stroke="#d9d9d9" stroke-width="0.6"/>
<polygon points="403.6,145.0 404.6,148.0 406.0,149.4 411.0,150.1 411.0,145.4" fill="#e5e5e5" stroke="#e5e5e5" stroke-width="0.6"/>
<polygon points="241.9,158.8 244.4,156.6 244.0,155.4 238.7,150.2 237.0,150.3 237.0,158.4" fill="#ffffff" stroke="#ffffff" stroke-width="0.6"/>
<polygon points="242.1,148.7 240.4,148.7 238.7,150.2 244.0,155.4 246.3,151.7 244.5,149.9" fill="#ffffff" stroke="#ffffff" stroke-width="0.6"/>
<polygon points="250.9,150.6 248.9,150.1 246.3,151.7 244.0,155.4 244.4,156.6 247.1,157.7 252.1,157.2 252.4,156.6 252.6,155.2 252.2,152.7" fill="#757575" stroke="#757575" stroke-width="0.6"/>
<polygon points="247.5,148.2 244.5,149.9 246.3,151.7 248.9,150.1" fill="#6b6b6b" stroke="#6b6b6b" stroke-width="0.6"/>
<polygon points="256.4,149.7 252.2,152.7 252.6,155.2 259.3,152.4 259.5,151.9" fill="#6d6d6d" stroke="#6d6d6d" stroke-width="0.6"/>
<polygon points="259.3,152.4 252.6,155.2 252.4,156.6 260.2,157.1 260.3,155.4" fill="#686868" stroke="#686868" stroke-width="0.6"/>
<polygon points="261.1,150.5 259.5,151.9 259.3,152.4 260.3,155.4 266.1,152.4 266.6,150.6 266.6,149.7" fill="#7c7c7c" stroke="#7c7c7c" stroke-width="0.6"/>
<polygon points="260.3,155.4 260.2,157.1 260.4,157.3 262.5,157.4 265.8,157.1 266.1,152.4" fill="#848484" stroke="#848484" stroke-width="0.6"/>
<polygon points="266.1,152.4 265.8,157.1 267.0,158.8 271.8,155.8 266.6,150.6" fill="#8b8b8b" stroke="#8b8b8b" stroke-width="0.6"/>
<polygon points="266.6,150.6 271.8,155.8 273.4,156.1 274.5,149.9 274.3,149.6 267.1,148.7 266.6,149.7" fill="#8b8b8b" stroke="#8b8b8b" stroke-width="0.6"/>
<polygon points="279.9,154.2 277.1,151.1 274.5,149.9 273.4,156.1 273.5,156.2 276.9,157.2 278.4,156.5" fill="#afafaf" stroke="#afafaf" stroke-width="0.6"/>
<polygon points="282.1,153.5 280.9,148.3 277.1,151.1 279.9,154.2" fill="#ababab" stroke="#ababab" stroke-width="0.6"/>
<polygon points="287.3,150.4 283.7,153.7 285.8,159.1 286.6,159.7 290.9,153.9 291.0,153.7" fill="#aaaaaa" stroke="#aaaaaa" stroke-width="0.6"/>
<polygon points="287.3,150.4 287.3,150.2 281.0,147.8 280.9,148.3 282.1,153.5 283.7,153.7" fill="#b0b0b0" stroke="#b0b0b0" stroke-width="0.6"/>
<polygon points="294.1,147.8 287.9,148.5 287.3,150.2 287.3,150.4 291.0,153.7 291.3,153.7 295.0,149.9 294.9,148.2" fill="#ffffff" stroke="#ffffff" stroke-width="0.6"/>
<polygon points="296.3,155.3 297.5,152.4 295.0,149.9 291.3,153.7 295.3,155.9" fill="#ffffff" stroke="#ffffff" stroke-width="0.6"/>
<polygon points="294.9,148.2 295.0,149.9 297.5,152.4 303.4,151.3 303.7,150.6 301.3,148.2 297.5,146.5" fill="#ffffff" stroke="#ffffff" stroke-width="0.6"/>
<polygon points="303.4,151.3 297.5,152.4 296.3,155.3 302.2,157.8 303.4,152.9" fill="#ffffff" stroke="#ffffff" stroke-width="0.6"/>
<polygon points="303.4,152.9 302.2,157.8 302.2,158.1 307.4,159.1 308.9,156.8" fill="#ababab" stroke="#ababab" stroke-width="0.6"/>
<polygon points="310.8,155.5 309.5,150.8 306.1,149.4 303.7,150.6 303.4,151.3 303.4,152.9 308.9,156.8 310.7,155.8" fill="#b2b2b2" stroke="#b2b2b2" stroke-width="0.6"/>
<polygon points="309.5,150.8 310.8,155.5 315.2,154.5 316.8,150.0 316.1,148.9" fill="#adadad" stroke="#adadad" stroke-width="0.6"/>
<polygon points="313.4,160.1 315.5,161.0 315.9,160.9 317.1,159.2 315.2,154.5 310.8,155.5 310.7,155.8" fill="#b0b0b0" stroke="#b0b0b0" stroke-width="0.6"/>
<polygon points="322.8,148.9 319.0,151.1 321.2,153.8 323.0,154.3 324.4,151.6 323.9,149.5" fill="#c1c1c1" stroke="#c1c1c1" stroke-width="0.6"/>
<polygon points="316.8,150.0 315.2,154.5 317.1,159.2 317.2,159.1 321.2,153.8 319.0,151.1" fill="#d2d2d2" stroke="#d2d2d2" stroke-width="0.6"/>
<polygon points="323.0,154.3 324.8,156.0 328.5,155.8 329.8,152.6 327.5,150.4 324.4,151.6" fill="#b5b5b5" stroke="#b5b5b5" stroke-width="0.6"/>
<polygon points="324.4,151.6 327.5,150.4 326.9,148.0 323.9,149.5" fill="#aeaeae" stroke="#aeaeae" stroke-width="0.6"/>
<polygon points="329.8,152.6 328.5,155.8 331.7,160.0 333.3,159.7 333.9,159.4 335.5,155.9 332.1,151.3" fill="#949494" stroke="#949494" stroke-width="0.6"/>
<polygon points="332.1,151.3 335.5,155.9 339.3,153.8 336.5,149.9 332.7,150.4" fill="#9d9d9d" stroke="#9d9d9d" stroke-width="0.6"/>
<polygon points="345.7,156.9 347.4,154.2 346.8,153.2 342.8,151.3 339.7,153.9 339.9,154.2" fill="#ffffff" stroke="#ffffff" stroke-width="0.6"/>
<polygon points="342.7,150.5 342.5,147.2 338.1,147.1 336.5,149.9 339.3,153.8 339.7,153.9 342.8,151.3" fill="#ffffff" stroke="#ffffff" stroke-width="0.6"/>
<polygon points="346.8,153.2 348.0,149.0 342.7,150.5 342.8,151.3" fill="#b3b3b3" stroke="#b3b3b3" stroke-width="0.6"/>
<polygon points="347.4,154.2 350.8,154.5 352.9,154.1 353.6,150.5 353.3,148.6 349.8,146.4 348.9,146.6 348.0,149.0 346.8,153.2" fill="#a7a7a7" stroke="#a7a7a7" stroke-width="0.6"/>
<polygon points="361.8,151.3 362.6,149.7 361.0,147.6 355.6,147.2 353.3,148.6 353.6,150.5 361.0,151.9" fill="#dcdcdc" stroke="#dcdcdc" stroke-width="0.6"/>
<polygon points="353.6,150.5 352.9,154.1 355.1,156.3 358.0,156.5 361.0,151.9" fill="#e9e9e9" stroke="#e9e9e9" stroke-width="0.6"/>
<polygon points="364.1,155.6 361.8,151.3 361.0,151.9 358.0,156.5 359.0,157.7 361.1,158.6 363.0,157.6" fill="#afafaf" stroke="#afafaf" stroke-width="0.6"/>
<polygon points="365.1,150.6 363.2,149.6 362.6,149.7 361.8,151.3 364.1,155.6 366.9,155.8" fill="#ababab" stroke="#ababab" stroke-width="0.6"/>
<polygon points="375.1,152.5 371.5,151.5 371.2,151.8 370.3,155.2 374.6,158.7 376.4,157.7 376.9,156.2" fill="#b2b2b2" stroke="#b2b2b2" stroke-width="0.6"/>
<polygon points="370.3,155.2 371.2,151.8 365.1,150.6 366.9,155.8 368.4,156.6" fill="#bababa" stroke="#bababa" stroke-width="0.6"/>
<polygon points="380.2,153.7 377.5,151.0 375.1,152.5 376.9,156.2 379.8,154.8" fill="#ababab" stroke="#ababab" stroke-width="0.6"/>
<polygon points="385.4,150.0 382.3,148.8 378.5,148.9 377.5,151.0 380.2,153.7" fill="#ababab" stroke="#ababab" stroke-width="0.6"/>
<polygon points="387.1,161.9 390.4,156.0 387.0,150.0 386.9,150.0 383.7,156.6 383.9,157.3" fill="#ffffff" stroke="#ffffff" stroke-width="0.6"/>
<polygon points="383.7,156.6 386.9,150.0 385.4,150.0 380.2,153.7 379.8,154.8 381.0,156.1" fill="#ffffff" stroke="#ffffff" stroke-width="0.6"/>
<polygon points="387.0,150.0 390.4,156.0 390.5,156.0 394.9,155.0 396.1,152.9 393.0,150.6 387.4,149.5" fill="#ffffff" stroke="#ffffff" stroke-width="0.6"/>
<polygon points="396.1,152.9 398.9,151.5 398.6,149.4 395.6,148.8 393.0,150.6" fill="#ffffff" stroke="#ffffff" stroke-width="0.6"/>
<polygon points="394.9,155.0 397.0,157.6 399.8,155.7 400.0,152.4 398.9,151.5 396.1,152.9" fill="#989898" stroke="#989898" stroke-width="0.6"/>
<polygon points="402.0,158.1 403.3,157.5 403.4,153.9 402.3,152.5 400.0,152.4 399.8,155.7" fill="#9a9a9a" stroke="#9a9a9a" stroke-width="0.6"/>
<polygon points="406.0,149.4 402.3,152.5 403.4,153.9 408.3,155.0 411.0,153.7 411.0,150.1" fill="#b6b6b6" stroke="#b6b6b6" stroke-width="0.6"/>
<polygon points="403.3,157.5 405.6,157.9 408.3,155.0 403.4,153.9" fill="#b0b0b0" stroke="#b0b0b0" stroke-width="0.6"/>
<polygon points="246.6,162.5 247.1,157.7 244.4,156.6 241.9,158.8 241.8,163.1 241.9,163.3 246.3,162.6" fill="#ffffff" stroke="#ffffff" stroke-width="0.6"/>
<polygon points="241.8,163.1 241.9,158.8 237.0,158.4 237.0,162.4" fill="#ffffff" stroke="#ffffff" stroke-width="0.6"/>
<polygon points="252.4,168.8 254.7,166.8 255.7,165.5 253.2,159.3 252.2,157.7 248.9,164.7 249.4,166.6" fill="#ffffff" stroke="#ffffff" stroke-width="0.6"/>
<polygon points="252.2,157.7 252.1,157.2 247.1,157.7 246.6,162.5 248.9,164.7" fill="#ffffff" stroke="#ffffff" stroke-width="0.6"/>
<polygon points="252.4,156.6 252.1,157.2 252.2,157.7 253.2,159.3 260.0,160.3 260.4,157.3 260.2,157.1" fill="#606060" stroke="#606060" stroke-width="0.6"/>
<polygon points="253.2,159.3 255.7,165.5 260.5,164.3 260.7,164.0 260.0,160.3" fill="#717171" stroke="#717171" stroke-width="0.6"/>
<polygon points="267.0,158.8 265.8,157.1 262.5,157.4 263.6,162.9 267.1,162.0 267.2,160.7" fill="#575757" stroke="#575757" stroke-width="0.6"/>
<polygon points="260.4,157.3 260.0,160.3 260.7,164.0 263.6,162.9 262.5,157.4" fill="#595959" stroke="#595959" stroke-width="0.6"/>
<polygon points="272.6,159.1 267.2,160.7 267.1,162.0 269.2,164.7 273.7,164.6 274.3,163.8" fill="#848484" stroke="#848484" stroke-width="0.6"/>
<polygon points="273.5,156.2 273.4,156.1 271.8,155.8 267.0,158.8 267.2,160.7 272.6,159.1" fill="#828282" stroke="#828282" stroke-width="0.6"/>
<polygon points="278.4,156.5 276.9,157.2 276.4,162.6 279.0,163.0 279.7,162.9 281.3,159.8" fill="#585858" stroke="#585858" stroke-width="0.6"/>
<polygon points="276.4,162.6 276.9,157.2 273.5,156.2 272.6,159.1 274.3,163.8" fill="#505050" stroke="#505050" stroke-width="0.6"/>
<polygon points="288.5,163.2 286.6,159.7 285.8,159.1 281.3,159.8 279.7,162.9 282.3,165.1 288.0,163.8" fill="#a3a3a3" stroke="#a3a3a3" stroke-width="0.6"/>
<polygon points="285.8,159.1 283.7,153.7 282.1,153.5 279.9,154.2 278.4,156.5 281.3,159.8" fill="#acacac" stroke="#acacac" stroke-width="0.6"/>
<polygon points="286.6,159.7 288.5,163.2 291.8,163.0 292.4,161.1 290.9,153.9" fill="#a7a7a7" stroke="#a7a7a7" stroke-width="0.6"/>
<polygon points="290.9,153.9 292.4,161.1 295.2,156.4 295.3,155.9 291.3,153.7 291.0,153.7" fill="#b9b9b9" stroke="#b9b9b9" stroke-width="0.6"/>
<polygon points="299.5,162.1 295.2,156.4 292.4,161.1 291.8,163.0 293.0,163.6 298.5,163.7" fill="#adadad" stroke="#adadad" stroke-width="0.6"/>
<polygon points="299.5,162.1 301.3,160.4 302.2,158.1 302.2,157.8 296.3,155.3 295.3,155.9 295.2,156.4" fill="#b8b8b8" stroke="#b8b8b8" stroke-width="0.6"/>
<polygon points="305.7,163.2 307.0,167.1 307.3,167.0 309.4,165.5 309.5,161.1 308.0,160.2" fill="#919191" stroke="#919191" stroke-width="0.6"/>
<polygon points="302.2,158.1 301.3,160.4 305.7,163.2 308.0,160.2 307.4,159.1" fill="#929292" stroke="#929292" stroke-width="0.6"/>
<polygon points="309.5,161.1 309.4,165.5 312.9,165.2 315.5,161.0 313.4,160.1" fill="#b1b1b1" stroke="#b1b1b1" stroke-width="0.6"/>
<polygon points="308.9,156.8 307.4,159.1 308.0,160.2 309.5,161.1 313.4,160.1 310.7,155.8" fill="#a3a3a3" stroke="#a3a3a3" stroke-width="0.6"/>
<polygon points="321.2,153.8 317.2,159.1 323.4,159.6 324.8,156.0 323.0,154.3" fill="#aaaaaa" stroke="#aaaaaa" stroke-width="0.6"/>
<polygon points="315.9,160.9 318.2,163.5 322.8,164.6 323.3,164.3 324.0,161.5 323.4,159.6 317.2,159.1 317.1,159.2" fill="#a1a1a1" stroke="#a1a1a1" stroke-width="0.6"/>
<polygon points="330.8,163.2 331.2,160.9 324.0,161.5 323.3,164.3 327.4,166.3 330.7,163.3" fill="#717171" stroke="#717171" stroke-width="0.6"/>
<polygon points="331.7,160.0 328.5,155.8 324.8,156.0 323.4,159.6 324.0,161.5 331.2,160.9" fill="#636363" stroke="#636363" stroke-width="0.6"/>
<polygon points="339.2,167.4 340.0,166.5 338.9,160.3 333.9,159.4 333.3,159.7 338.4,167.5" fill="#545454" stroke="#545454" stroke-width="0.6"/>
<polygon points="338.9,160.3 340.4,159.1 339.9,154.2 339.7,153.9 339.3,153.8 335.5,155.9 333.9,159.4" fill="#494949" stroke="#494949" stroke-width="0.6"/>
<polygon points="340.4,159.1 345.3,160.0 345.7,156.9 339.9,154.2" fill="#ffffff" stroke="#ffffff" stroke-width="0.6"/>
<polygon points="343.6,165.1 346.5,162.2 345.3,160.0 340.4,159.1 338.9,160.3 340.0,166.5" fill="#ffffff" stroke="#ffffff" stroke-width="0.6"/>
<polygon points="355.1,156.3 352.9,154.1 350.8,154.5 349.0,162.7 350.7,163.5 352.3,163.4" fill="#b1b1b1" stroke="#b1b1b1" stroke-width="0.6"/>
<polygon points="345.3,160.0 346.5,162.2 349.0,162.7 350.8,154.5 347.4,154.2 345.7,156.9" fill="#b4b4b4" stroke="#b4b4b4" stroke-width="0.6"/>
<polygon points="357.1,164.9 359.0,157.7 358.0,156.5 355.1,156.3 352.3,163.4 355.7,165.2" fill="#dcdcdc" stroke="#dcdcdc" stroke-width="0.6"/>
<polygon points="359.6,165.2 362.3,163.9 363.0,162.6 361.1,158.6 359.0,157.7 357.1,164.9" fill="#d5d5d5" stroke="#d5d5d5" stroke-width="0.6"/>
<polygon points="368.4,156.6 366.9,155.8 364.1,155.6 363.0,157.6 366.9,159.6 368.0,158.6" fill="#dedede" stroke="#dedede" stroke-width="0.6"/>
<polygon points="363.0,157.6 361.1,158.6 363.0,162.6 366.0,161.6 366.9,159.6" fill="#e2e2e2" stroke="#e2e2e2" stroke-width="0.6"/>
<polygon points="372.4,162.0 373.4,162.1 374.6,158.7 370.3,155.2 368.4,156.6 368.0,158.6" fill="#b2b2b2" stroke="#b2b2b2" stroke-width="0.6"/>
<polygon points="366.9,159.6 366.0,161.6 368.3,164.0 372.4,162.0 368.0,158.6" fill="#b6b6b6" stroke="#b6b6b6" stroke-width="0.6"/>
<polygon points="374.6,158.7 373.4,162.1 374.2,163.3 380.7,163.2 380.9,162.9 379.9,160.0 376.4,157.7" fill="#bababa" stroke="#bababa" stroke-width="0.6"/>
<polygon points="379.8,154.8 376.9,156.2 376.4,157.7 379.9,160.0 380.1,159.6 381.0,156.1" fill="#afafaf" stroke="#afafaf" stroke-width="0.6"/>
<polygon points="379.9,160.0 380.9,162.9 387.1,162.0 387.1,161.9 383.9,157.3 380.1,159.6" fill="#ffffff" stroke="#ffffff" stroke-width="0.6"/>
<polygon points="380.1,159.6 383.9,157.3 383.7,156.6 381.0,156.1" fill="#ffffff" stroke="#ffffff" stroke-width="0.6"/>
<polygon points="395.0,160.8 396.9,159.2 397.0,157.6 394.9,155.0 390.5,156.0" fill="#ffffff" stroke="#ffffff" stroke-width="0.6"/>
<polygon points="387.1,162.0 387.6,162.7 391.9,164.0 394.1,163.5 395.0,160.8 390.5,156.0 390.4,156.0 387.1,161.9" fill="#ffffff" stroke="#ffffff" stroke-width="0.6"/>
<polygon points="396.9,159.2 400.9,160.7 402.0,158.1 399.8,155.7 397.0,157.6" fill="#acacac" stroke="#acacac" stroke-width="0.6"/>
<polygon points="395.5,164.5 401.3,162.0 400.9,160.7 396.9,159.2 395.0,160.8 394.1,163.5" fill="#aaaaaa" stroke="#aaaaaa" stroke-width="0.6"/>
<polygon points="401.3,162.0 401.6,162.3 406.7,161.8 405.6,157.9 403.3,157.5 402.0,158.1 400.9,160.7" fill="#aeaeae" stroke="#aeaeae" stroke-width="0.6"/>
<polygon points="408.3,155.0 405.6,157.9 406.7,161.8 409.1,163.3 411.0,163.2 411.0,153.7" fill="#acacac" stroke="#acacac" stroke-width="0.6"/>
<polygon points="241.9,167.9 241.9,163.3 241.8,163.1 237.0,162.4 237.0,168.0" fill="#ffffff" stroke="#ffffff" stroke-width="0.6"/>
<polygon points="246.3,162.6 241.9,163.3 241.9,167.9 242.0,168.0 244.4,167.2" fill="#ffffff" stroke="#ffffff" stroke-width="0.6"/>
<polygon points="242.0,168.0 242.4,169.3 246.0,173.8 252.4,169.2 252.4,168.8 249.4,166.6 244.4,167.2" fill="#ffffff" stroke="#ffffff" stroke-width="0.6"/>
<polygon points="249.4,166.6 248.9,164.7 246.6,162.5 246.3,162.6 244.4,167.2" fill="#ffffff" stroke="#ffffff" stroke-width="0.6"/>
<polygon points="254.2,173.0 254.4,173.3 257.1,174.0 258.8,170.1 254.7,166.8 252.4,168.8 252.4,169.2" fill="#6a6a6a" stroke="#6a6a6a" stroke-width="0.6"/>
<polygon points="258.8,170.1 261.7,170.6 261.0,165.2 260.5,164.3 255.7,165.5 254.7,166.8" fill="#707070" stroke="#707070" stroke-width="0.6"/>
<polygon points="262.0,171.0 264.9,170.1 265.7,168.1 261.0,165.2 261.7,170.6" fill="#616161" stroke="#616161" stroke-width="0.6"/>
<polygon points="267.1,162.0 263.6,162.9 260.7,164.0 260.5,164.3 261.0,165.2 265.7,168.1 268.6,166.4 269.2,164.7" fill="#4f4f4f" stroke="#4f4f4f" stroke-width="0.6"/>
<polygon points="269.2,164.7 268.6,166.4 270.3,172.5 270.8,172.8 271.4,173.0 275.9,171.5 276.4,170.8 273.7,164.6" fill="#6b6b6b" stroke="#6b6b6b" stroke-width="0.6"/>
<polygon points="268.6,166.4 265.7,168.1 264.9,170.1 267.9,172.8 270.3,172.5" fill="#6c6c6c" stroke="#6c6c6c" stroke-width="0.6"/>
<polygon points="273.7,164.6 276.4,170.8 278.0,170.4 279.0,163.0 276.4,162.6 274.3,163.8" fill="#7c7c7c" stroke="#7c7c7c" stroke-width="0.6"/>
<polygon points="282.3,165.1 279.7,162.9 279.0,163.0 278.0,170.4 280.2,170.2 280.4,169.8" fill="#898989" stroke="#898989" stroke-width="0.6"/>
<polygon points="280.2,170.2 283.4,172.7 287.8,169.8 287.7,167.1 280.4,169.8" fill="#989898" stroke="#989898" stroke-width="0.6"/>
<polygon points="287.7,167.1 288.0,163.8 282.3,165.1 280.4,169.8" fill="#9d9d9d" stroke="#9d9d9d" stroke-width="0.6"/>
<polygon points="293.3,167.3 292.5,170.7 295.4,174.2 295.5,174.4 296.5,173.4 296.8,170.3" fill="#787878" stroke="#787878" stroke-width="0.6"/>
<polygon points="287.8,169.8 288.4,170.3 292.5,170.7 293.3,167.3 293.0,163.6 291.8,163.0 288.5,163.2 288.0,163.8 287.7,167.1" fill="#868686" stroke="#868686" stroke-width="0.6"/>
<polygon points="296.8,170.3 296.5,173.4 303.8,171.8 304.1,169.0 299.4,165.4" fill="#adadad" stroke="#adadad" stroke-width="0.6"/>
<polygon points="293.0,163.6 293.3,167.3 296.8,170.3 299.4,165.4 298.5,163.7" fill="#a4a4a4" stroke="#a4a4a4" stroke-width="0.6"/>
<polygon points="307.3,167.0 307.0,167.1 304.1,169.0 303.8,171.8 303.8,171.8 308.0,173.8 311.1,170.5" fill="#b3b3b3" stroke="#b3b3b3" stroke-width="0.6"/>
<polygon points="299.4,165.4 304.1,169.0 307.0,167.1 305.7,163.2 301.3,160.4 299.5,162.1 298.5,163.7" fill="#b3b3b3" stroke="#b3b3b3" stroke-width="0.6"/>
<polygon points="315.7,170.8 315.9,170.9 316.8,170.2 318.2,163.5 315.9,160.9 315.5,161.0 312.9,165.2" fill="#848484" stroke="#848484" stroke-width="0.6"/>
<polygon points="309.4,165.5 307.3,167.0 311.1,170.5 314.0,171.0 315.7,170.8 312.9,165.2" fill="#858585" stroke="#858585" stroke-width="0.6"/>
<polygon points="323.3,171.5 324.2,171.2 322.1,167.0 317.4,170.1" fill="#686868" stroke="#686868" stroke-width="0.6"/>
<polygon points="317.4,170.1 322.1,167.0 322.8,164.6 318.2,163.5 316.8,170.2" fill="#747474" stroke="#747474" stroke-width="0.6"/>
<polygon points="327.4,166.3 327.8,169.9 331.7,171.1 333.2,170.0 330.7,163.3" fill="#535353" stroke="#535353" stroke-width="0.6"/>
<polygon points="323.3,164.3 322.8,164.6 322.1,167.0 324.2,171.2 325.6,171.4 327.8,169.9 327.4,166.3" fill="#575757" stroke="#575757" stroke-width="0.6"/>
<polygon points="338.0,167.7 338.4,167.5 333.3,159.7 331.7,160.0 331.2,160.9 330.8,163.2" fill="#585858" stroke="#585858" stroke-width="0.6"/>
<polygon points="333.2,170.0 336.0,169.4 338.0,167.7 330.8,163.2 330.7,163.3" fill="#575757" stroke="#575757" stroke-width="0.6"/>
<polygon points="340.3,169.1 343.3,170.5 345.9,168.7 343.6,165.1 340.0,166.5 339.2,167.4" fill="#7d7d7d" stroke="#7d7d7d" stroke-width="0.6"/>
<polygon points="343.3,170.5 345.9,174.1 348.9,170.8 348.8,170.4 345.9,168.7" fill="#848484" stroke="#848484" stroke-width="0.6"/>
<polygon points="352.3,163.4 350.7,163.5 348.8,170.4 348.9,170.8 351.2,171.6 353.3,171.4 355.5,167.1 355.7,165.2" fill="#aeaeae" stroke="#aeaeae" stroke-width="0.6"/>
<polygon points="345.9,168.7 348.8,170.4 350.7,163.5 349.0,162.7 346.5,162.2 343.6,165.1" fill="#b5b5b5" stroke="#b5b5b5" stroke-width="0.6"/>
<polygon points="353.3,171.4 354.9,173.0 358.9,172.1 359.0,172.0 355.5,167.1" fill="#d7d7d7" stroke="#d7d7d7" stroke-width="0.6"/>
<polygon points="355.5,167.1 359.0,172.0 361.6,170.4 359.6,165.2 357.1,164.9 355.7,165.2" fill="#e1e1e1" stroke="#e1e1e1" stroke-width="0.6"/>
<polygon points="368.1,166.8 368.3,164.0 366.0,161.6 363.0,162.6 362.3,163.9 366.3,168.1" fill="#ffffff" stroke="#ffffff" stroke-width="0.6"/>
<polygon points="365.4,171.2 366.3,168.1 362.3,163.9 359.6,165.2 361.6,170.4" fill="#ffffff" stroke="#ffffff" stroke-width="0.6"/>
<polygon points="368.3,164.0 368.1,166.8 373.7,168.1 374.2,163.3 373.4,162.1 372.4,162.0" fill="#b1b1b1" stroke="#b1b1b1" stroke-width="0.6"/>
<polygon points="374.5,169.6 373.7,168.1 368.1,166.8 366.3,168.1 365.4,171.2 365.4,171.3 365.8,171.5 374.3,171.1 374.5,170.3" fill="#aeaeae" stroke="#aeaeae" stroke-width="0.6"/>
<polygon points="382.3,168.8 380.4,166.5 374.5,169.6 374.5,170.3 381.0,171.0 381.9,170.8" fill="#e7e7e7" stroke="#e7e7e7" stroke-width="0.6"/>
<polygon points="380.4,166.5 380.7,163.2 374.2,163.3 373.7,168.1 374.5,169.6" fill="#e1e1e1" stroke="#e1e1e1" stroke-width="0.6"/>
<polygon points="382.6,172.2 385.1,173.5 386.6,168.1 386.5,167.9 382.3,168.8 381.9,170.8" fill="#7f7f7f" stroke="#7f7f7f" stroke-width="0.6"/>
<polygon points="380.9,162.9 380.7,163.2 380.4,166.5 382.3,168.8 386.5,167.9 387.6,162.7 387.1,162.0" fill="#848484" stroke="#848484" stroke-width="0.6"/>
<polygon points="396.5,169.6 397.6,168.9 397.7,168.5 395.5,164.5 394.1,163.5 391.9,164.0 391.7,170.8" fill="#ffffff" stroke="#ffffff" stroke-width="0.6"/>
<polygon points="391.9,164.0 387.6,162.7 386.5,167.9 386.6,168.1 391.0,171.4 391.7,170.8" fill="#ffffff" stroke="#ffffff" stroke-width="0.6"/>
<polygon points="399.7,171.5 404.9,170.0 405.3,169.7 405.0,167.8 401.9,166.1 397.7,168.5 397.6,168.9" fill="#949494" stroke="#949494" stroke-width="0.6"/>
<polygon points="397.7,168.5 401.9,166.1 401.6,162.3 401.3,162.0 395.5,164.5" fill="#929292" stroke="#929292" stroke-width="0.6"/>
<polygon points="409.1,163.3 405.0,167.8 405.3,169.7 407.0,171.1 411.0,172.6 411.0,163.2" fill="#7f7f7f" stroke="#7f7f7f" stroke-width="0.6"/>
<polygon points="409.1,163.3 406.7,161.8 401.6,162.3 401.9,166.1 405.0,167.8" fill="#7f7f7f" stroke="#7f7f7f" stroke-width="0.6"/>
<polygon points="237.4,177.0 242.4,169.3 242.0,168.0 241.9,167.9 237.0,168.0 237.0,177.0" fill="#797979" stroke="#797979" stroke-width="0.6"/>
<polygon points="242.4,169.3 237.4,177.0 241.0,177.8 242.0,178.0 245.7,175.8 246.0,173.8" fill="#737373" stroke="#737373" stroke-width="0.6"/>
<polygon points="254.4,173.3 254.2,173.0 247.0,176.8 250.0,179.6 252.6,178.9" fill="#ffffff" stroke="#ffffff" stroke-width="0.6"/>
<polygon points="246.0,173.8 245.7,175.8 247.0,176.8 254.2,173.0 252.4,169.2" fill="#ffffff" stroke="#ffffff" stroke-width="0.6"/>
<polygon points="260.3,177.0 260.0,175.4 257.1,174.0 254.4,173.3 252.6,178.9 256.0,180.8" fill="#5e5e5e" stroke="#5e5e5e" stroke-width="0.6"/>
<polygon points="257.1,174.0 260.0,175.4 261.7,173.2 262.0,171.0 261.7,170.6 258.8,170.1" fill="#6d6d6d" stroke="#6d6d6d" stroke-width="0.6"/>
<polygon points="267.9,172.8 264.9,170.1 262.0,171.0 261.7,173.2 266.3,174.2" fill="#696969" stroke="#696969" stroke-width="0.6"/>
<polygon points="265.5,179.0 266.3,174.2 261.7,173.2 260.0,175.4 260.3,177.0 261.9,178.2" fill="#6d6d6d" stroke="#6d6d6d" stroke-width="0.6"/>
<polygon points="270.8,172.8 270.3,172.5 267.9,172.8 266.3,174.2 265.5,179.0 265.7,179.2 266.5,179.1" fill="#6f6f6f" stroke="#6f6f6f" stroke-width="0.6"/>
<polygon points="270.8,172.8 266.5,179.1 271.7,179.2 271.4,173.0" fill="#6e6e6e" stroke="#6e6e6e" stroke-width="0.6"/>
<polygon points="278.0,170.4 276.4,170.8 275.9,171.5 278.2,178.5 278.6,178.7 281.9,177.7 282.9,176.5 283.6,173.8 283.4,172.7 280.2,170.2" fill="#858585" stroke="#858585" stroke-width="0.6"/>
<polygon points="271.7,179.2 272.5,180.1 278.2,178.5 275.9,171.5 271.4,173.0" fill="#7d7d7d" stroke="#7d7d7d" stroke-width="0.6"/>
<polygon points="283.6,173.8 289.0,175.4 288.9,172.3 288.4,170.3 287.8,169.8 283.4,172.7" fill="#a2a2a2" stroke="#a2a2a2" stroke-width="0.6"/>
<polygon points="289.0,175.4 283.6,173.8 282.9,176.5 288.3,178.4 289.5,176.0" fill="#989898" stroke="#989898" stroke-width="0.6"/>
<polygon points="292.5,170.7 288.4,170.3 288.9,172.3 295.4,174.2" fill="#8a8a8a" stroke="#8a8a8a" stroke-width="0.6"/>
<polygon points="295.3,175.3 295.5,174.4 295.4,174.2 288.9,172.3 289.0,175.4 289.5,176.0 293.9,175.6" fill="#818181" stroke="#818181" stroke-width="0.6"/>
<polygon points="295.3,175.3 296.0,177.0 303.2,176.4 303.8,171.8 303.8,171.8 296.5,173.4 295.5,174.4" fill="#b1b1b1" stroke="#b1b1b1" stroke-width="0.6"/>
<polygon points="296.3,179.1 298.9,181.1 303.1,181.4 303.8,178.0 303.2,176.4 296.0,177.0" fill="#a7a7a7" stroke="#a7a7a7" stroke-width="0.6"/>
<polygon points="308.0,173.9 307.0,177.5 310.7,180.0 311.7,177.9 310.1,175.2" fill="#757575" stroke="#757575" stroke-width="0.6"/>
<polygon points="308.0,173.8 303.8,171.8 303.2,176.4 303.8,178.0 307.0,177.5 308.0,173.9" fill="#707070" stroke="#707070" stroke-width="0.6"/>
<polygon points="310.1,175.2 311.7,177.9 316.9,175.2 315.9,170.9 315.7,170.8 314.0,171.0" fill="#525252" stroke="#525252" stroke-width="0.6"/>
<polygon points="311.1,170.5 308.0,173.8 308.0,173.9 310.1,175.2 314.0,171.0" fill="#575757" stroke="#575757" stroke-width="0.6"/>
<polygon points="315.9,170.9 316.9,175.2 319.2,177.2 319.4,177.2 323.3,171.5 317.4,170.1 316.8,170.2" fill="#575757" stroke="#575757" stroke-width="0.6"/>
<polygon points="325.6,171.4 324.2,171.2 323.3,171.5 319.4,177.2 323.6,179.4 326.1,176.0" fill="#4a4a4a" stroke="#4a4a4a" stroke-width="0.6"/>
<polygon points="331.7,171.1 327.8,169.9 325.6,171.4 326.1,176.0 330.8,175.8 331.8,175.3" fill="#696969" stroke="#696969" stroke-width="0.6"/>
<polygon points="330.8,175.8 326.1,176.0 323.6,179.4 323.7,179.6 329.1,180.6" fill="#676767" stroke="#676767" stroke-width="0.6"/>
<polygon points="331.7,171.1 331.8,175.3 333.8,176.7 335.5,176.7 337.5,175.3 336.0,169.4 333.2,170.0" fill="#878787" stroke="#878787" stroke-width="0.6"/>
<polygon points="337.5,175.3 335.5,176.7 338.1,181.5 340.3,175.5" fill="#838383" stroke="#838383" stroke-width="0.6"/>
<polygon points="340.9,175.4 345.0,176.8 345.3,176.0 345.9,174.1 343.3,170.5 340.3,169.1" fill="#a9a9a9" stroke="#a9a9a9" stroke-width="0.6"/>
<polygon points="337.5,175.3 340.3,175.5 340.9,175.4 340.3,169.1 339.2,167.4 338.4,167.5 338.0,167.7 336.0,169.4" fill="#a9a9a9" stroke="#a9a9a9" stroke-width="0.6"/>
<polygon points="345.9,174.1 345.3,176.0 351.3,174.6 351.2,171.6 348.9,170.8" fill="#dbdbdb" stroke="#dbdbdb" stroke-width="0.6"/>
<polygon points="345.0,176.8 345.6,178.5 352.5,179.4 352.8,179.3 351.3,174.6 345.3,176.0" fill="#cdcdcd" stroke="#cdcdcd" stroke-width="0.6"/>
<polygon points="360.3,178.8 358.9,172.1 354.9,173.0 354.9,178.9 360.0,179.3" fill="#ffffff" stroke="#ffffff" stroke-width="0.6"/>
<polygon points="351.2,171.6 351.3,174.6 352.8,179.3 353.7,179.3 354.9,178.9 354.9,173.0 353.3,171.4" fill="#ffffff" stroke="#ffffff" stroke-width="0.6"/>
<polygon points="368.7,175.4 365.8,171.5 365.4,171.3 362.5,177.4 365.4,177.7" fill="#ffffff" stroke="#ffffff" stroke-width="0.6"/>
<polygon points="365.4,171.3 365.4,171.2 361.6,170.4 359.0,172.0 358.9,172.1 360.3,178.8 362.5,177.4" fill="#ffffff" stroke="#ffffff" stroke-width="0.6"/>
<polygon points="374.3,171.1 365.8,171.5 368.7,175.4 372.8,177.3 374.8,176.3" fill="#dadada" stroke="#dadada" stroke-width="0.6"/>
<polygon points="371.0,179.9 372.8,177.3 368.7,175.4 365.4,177.7 367.0,179.1" fill="#e5e5e5" stroke="#e5e5e5" stroke-width="0.6"/>
<polygon points="379.6,176.1 382.6,172.2 381.9,170.8 381.0,171.0 376.1,176.4 377.0,176.4" fill="#d2d2d2" stroke="#d2d2d2" stroke-width="0.6"/>
<polygon points="381.0,171.0 374.5,170.3 374.3,171.1 374.8,176.3 374.9,176.4 376.1,176.4" fill="#d4d4d4" stroke="#d4d4d4" stroke-width="0.6"/>
<polygon points="379.6,176.1 385.4,178.3 386.5,175.4 385.1,173.5 382.6,172.2" fill="#a6a6a6" stroke="#a6a6a6" stroke-width="0.6"/>
<polygon points="386.6,168.1 385.1,173.5 386.5,175.4 390.7,173.4 391.0,171.4" fill="#b0b0b0" stroke="#b0b0b0" stroke-width="0.6"/>
<polygon points="391.0,171.4 390.7,173.4 393.4,176.1 395.6,176.5 396.5,169.6 391.7,170.8" fill="#7d7d7d" stroke="#7d7d7d" stroke-width="0.6"/>
<polygon points="386.5,175.4 385.4,178.3 385.7,179.9 386.1,180.3 387.5,180.7 391.2,179.9 393.4,176.1 390.7,173.4" fill="#8e8e8e" stroke="#8e8e8e" stroke-width="0.6"/>
<polygon points="395.6,176.5 397.4,177.4 400.3,175.8 399.7,171.5 397.6,168.9 396.5,169.6" fill="#989898" stroke="#989898" stroke-width="0.6"/>
<polygon points="400.3,175.8 401.7,176.1 404.9,170.0 399.7,171.5" fill="#969696" stroke="#969696" stroke-width="0.6"/>
<polygon points="401.7,176.1 401.9,176.2 403.8,176.0 407.0,171.1 405.3,169.7 404.9,170.0" fill="#7b7b7b" stroke="#7b7b7b" stroke-width="0.6"/>
<polygon points="407.0,171.1 403.8,176.0 411.0,177.8 411.0,172.6" fill="#868686" stroke="#868686" stroke-width="0.6"/>
<polygon points="243.9,186.4 242.0,178.0 241.0,177.8 238.4,186.5 243.8,186.5" fill="#3f3f3f" stroke="#3f3f3f" stroke-width="0.6"/>
<polygon points="241.0,177.8 237.4,177.0 237.0,177.0 237.0,186.5 238.4,186.5" fill="#393939" stroke="#393939" stroke-width="0.6"/>
<polygon points="249.7,180.3 243.9,186.4 243.8,186.5 252.5,186.5" fill="#ffffff" stroke="#ffffff" stroke-width="0.6"/>
<polygon points="250.0,179.6 247.0,176.8 245.7,175.8 242.0,178.0 243.9,186.4 249.7,180.3" fill="#ffffff" stroke="#ffffff" stroke-width="0.6"/>
<polygon points="260.5,185.2 256.1,181.2 253.3,186.5 261.2,186.5" fill="#767676" stroke="#767676" stroke-width="0.6"/>
<polygon points="256.1,181.2 256.0,180.8 252.6,178.9 250.0,179.6 249.7,180.3 252.5,186.5 253.3,186.5" fill="#767676" stroke="#767676" stroke-width="0.6"/>
<polygon points="261.2,186.5 264.1,186.5 265.8,183.1 265.7,179.2 265.5,179.0 261.9,178.2 260.5,185.2" fill="#707070" stroke="#707070" stroke-width="0.6"/>
<polygon points="260.5,185.2 261.9,178.2 260.3,177.0 256.0,180.8 256.1,181.2" fill="#6e6e6e" stroke="#6e6e6e" stroke-width="0.6"/>
<polygon points="271.7,179.2 266.5,179.1 265.7,179.2 265.8,183.1 272.2,183.2 272.5,180.1" fill="#7f7f7f" stroke="#7f7f7f" stroke-width="0.6"/>
<polygon points="272.2,183.2 265.8,183.1 264.1,186.5 273.3,186.5" fill="#848484" stroke="#848484" stroke-width="0.6"/>
<polygon points="279.0,181.8 275.6,186.5 285.0,186.5" fill="#808080" stroke="#808080" stroke-width="0.6"/>
<polygon points="279.0,181.8 278.6,178.7 278.2,178.5 272.5,180.1 272.2,183.2 273.3,186.5 275.6,186.5" fill="#8c8c8c" stroke="#8c8c8c" stroke-width="0.6"/>
<polygon points="288.3,178.4 282.9,176.5 281.9,177.7 288.1,186.0 288.2,186.0 288.5,185.9 288.5,182.8" fill="#878787" stroke="#878787" stroke-width="0.6"/>
<polygon points="288.1,186.0 281.9,177.7 278.6,178.7 279.0,181.8 285.0,186.5 286.9,186.5" fill="#818181" stroke="#818181" stroke-width="0.6"/>
<polygon points="288.5,182.8 288.5,185.9 289.2,186.1 296.3,179.1 296.0,177.0 295.3,175.3 293.9,175.6" fill="#6b6b6b" stroke="#6b6b6b" stroke-width="0.6"/>
<polygon points="289.5,176.0 288.3,178.4 288.5,182.8 293.9,175.6" fill="#707070" stroke="#707070" stroke-width="0.6"/>
<polygon points="298.9,181.1 296.3,179.1 289.2,186.1 289.9,186.5 297.7,186.5" fill="#a0a0a0" stroke="#a0a0a0" stroke-width="0.6"/>
<polygon points="298.9,181.1 297.7,186.5 304.3,186.5 303.8,182.3 303.1,181.4" fill="#9b9b9b" stroke="#9b9b9b" stroke-width="0.6"/>
<polygon points="311.8,182.3 310.7,180.4 303.8,182.3 304.3,186.5 310.8,186.5" fill="#5b5b5b" stroke="#5b5b5b" stroke-width="0.6"/>
<polygon points="307.0,177.5 303.8,178.0 303.1,181.4 303.8,182.3 310.7,180.4 310.7,180.0" fill="#515151" stroke="#515151" stroke-width="0.6"/>
<polygon points="319.2,177.2 316.9,175.2 311.7,177.9 310.7,180.0 310.7,180.4 311.8,182.3 316.0,182.4" fill="#3a3a3a" stroke="#3a3a3a" stroke-width="0.6"/>
<polygon points="316.0,182.4 311.8,182.3 310.8,186.5 318.9,186.5" fill="#3c3c3c" stroke="#3c3c3c" stroke-width="0.6"/>
<polygon points="323.7,180.1 318.9,186.5 326.5,186.5" fill="#565656" stroke="#565656" stroke-width="0.6"/>
<polygon points="323.7,180.1 323.7,179.6 323.6,179.4 319.4,177.2 319.2,177.2 316.0,182.4 318.9,186.5 318.9,186.5" fill="#575757" stroke="#575757" stroke-width="0.6"/>
<polygon points="323.7,179.6 323.7,180.1 326.5,186.5 331.4,186.5 330.8,182.1 329.1,180.6" fill="#898989" stroke="#898989" stroke-width="0.6"/>
<polygon points="330.8,182.1 333.1,179.9 333.8,176.7 331.8,175.3 330.8,175.8 329.1,180.6" fill="#828282" stroke="#828282" stroke-width="0.6"/>
<polygon points="331.4,186.5 336.8,186.5 338.0,183.2 333.1,179.9 330.8,182.1" fill="#b4b4b4" stroke="#b4b4b4" stroke-width="0.6"/>
<polygon points="338.0,183.2 338.4,182.7 338.1,181.5 335.5,176.7 333.8,176.7 333.1,179.9" fill="#aaaaaa" stroke="#aaaaaa" stroke-width="0.6"/>
<polygon points="344.6,180.8 338.4,182.7 338.0,183.2 336.8,186.5 346.4,186.5" fill="#dfdfdf" stroke="#dfdfdf" stroke-width="0.6"/>
<polygon points="338.1,181.5 338.4,182.7 344.6,180.8 345.6,178.5 345.0,176.8 340.9,175.4 340.3,175.5" fill="#d9d9d9" stroke="#d9d9d9" stroke-width="0.6"/>
<polygon points="344.6,180.8 346.4,186.5 349.3,186.5 352.5,179.4 345.6,178.5" fill="#d9d9d9" stroke="#d9d9d9" stroke-width="0.6"/>
<polygon points="352.8,179.3 352.5,179.4 349.3,186.5 352.5,186.5 354.1,182.6 353.7,179.3" fill="#dfdfdf" stroke="#dfdfdf" stroke-width="0.6"/>
<polygon points="354.9,178.9 353.7,179.3 354.1,182.6 356.9,186.5 362.2,186.5 362.1,184.3 360.0,179.3" fill="#e4e4e4" stroke="#e4e4e4" stroke-width="0.6"/>
<polygon points="354.1,182.6 352.5,186.5 356.9,186.5" fill="#dbdbdb" stroke="#dbdbdb" stroke-width="0.6"/>
<polygon points="364.6,182.8 370.8,180.7 371.0,179.9 367.0,179.1" fill="#dcdcdc" stroke="#dcdcdc" stroke-width="0.6"/>
<polygon points="365.4,177.7 362.5,177.4 360.3,178.8 360.0,179.3 362.1,184.3 364.6,182.8 367.0,179.1" fill="#e4e4e4" stroke="#e4e4e4" stroke-width="0.6"/>
<polygon points="370.8,180.7 364.6,182.8 362.1,184.3 362.2,186.5 371.3,186.5" fill="#ffffff" stroke="#ffffff" stroke-width="0.6"/>
<polygon points="371.3,186.5 378.1,186.5 378.2,185.6 374.9,176.4 374.8,176.3 372.8,177.3 371.0,179.9 370.8,180.7" fill="#ffffff" stroke="#ffffff" stroke-width="0.6"/>
<polygon points="376.1,176.4 374.9,176.4 378.2,185.6 381.8,181.7 377.0,176.4" fill="#d7d7d7" stroke="#d7d7d7" stroke-width="0.6"/>
<polygon points="381.8,181.7 385.7,179.9 385.4,178.3 379.6,176.1 377.0,176.4" fill="#e2e2e2" stroke="#e2e2e2" stroke-width="0.6"/>
<polygon points="386.1,180.3 385.7,179.9 381.8,181.7 378.2,185.6 378.1,186.5 385.3,186.5" fill="#d4d4d4" stroke="#d4d4d4" stroke-width="0.6"/>
<polygon points="387.5,180.7 386.1,180.3 385.3,186.5 391.7,186.5" fill="#d0d0d0" stroke="#d0d0d0" stroke-width="0.6"/>
<polygon points="393.4,176.1 391.2,179.9 395.6,184.7 397.4,179.8 397.4,177.4 395.6,176.5" fill="#dedede" stroke="#dedede" stroke-width="0.6"/>
<polygon points="391.2,179.9 387.5,180.7 391.7,186.5 395.7,186.5 395.6,184.7" fill="#dadada" stroke="#dadada" stroke-width="0.6"/>
<polygon points="395.6,184.7 395.7,186.5 399.9,186.5 402.1,181.7 397.4,179.8" fill="#7f7f7f" stroke="#7f7f7f" stroke-width="0.6"/>
<polygon points="397.4,177.4 397.4,179.8 402.1,181.7 403.6,180.8 401.9,176.2 401.7,176.1 400.3,175.8" fill="#737373" stroke="#737373" stroke-width="0.6"/>
<polygon points="403.6,180.8 410.6,183.7 411.0,182.3 411.0,177.8 403.8,176.0 401.9,176.2" fill="#9c9c9c" stroke="#9c9c9c" stroke-width="0.6"/>
<polygon points="410.7,186.2 410.6,183.7 403.6,180.8 402.1,181.7 399.9,186.5 410.0,186.5" fill="#979797" stroke="#979797" stroke-width="0.6"/>
</g>
<g filter="url(#blurG2)">
<polygon points="270.5,72.8 276.0,69.5 282.2,66.8 288.4,66.2 289.0,68.0 282.2,70.2 276.0,73.6 273.5,74.6" fill="#545454"/>
<polygon points="277.0,112.0 281.0,109.5 286.0,110.5 287.5,114.0 286.0,118.5 281.0,119.0 277.0,117.0" fill="#ffffff"/>
<polygon points="289.0,131.0 296.0,128.5 301.0,130.0 304.0,137.0 305.0,146.0 303.0,153.0 306.0,158.0 300.0,161.0 294.0,158.0 290.0,154.0 287.0,148.0 289.0,141.0" fill="#ffffff"/>
<polygon points="394.0,130.0 399.0,126.5 406.0,127.0 407.0,133.0 402.0,137.0 396.0,136.0" fill="#ffffff"/>
<polygon points="383.0,153.0 387.0,151.5 390.0,154.0 390.0,160.0 388.0,164.0 384.0,163.0 382.0,159.0" fill="#ffffff"/>
<polygon points="268.0,36.0 272.0,36.5 271.5,39.5 268.5,39.0" fill="#ffffff"/>
<polygon points="292.0,30.0 295.5,30.5 295.0,33.5 292.5,33.0" fill="#ffffff"/>
<polygon points="303.0,54.0 308.0,54.5 307.5,58.0 303.5,57.5" fill="#ffffff"/>
<polygon points="307.0,63.5 312.0,64.0 311.5,67.5 307.5,67.0" fill="#ffffff"/>
<polygon points="386.0,142.0 390.0,142.5 389.5,146.5 386.5,146.0" fill="#ffffff"/>
<polygon points="370.0,122.0 373.5,122.5 373.0,126.0 370.5,125.5" fill="#ffffff"/>
<polygon points="268.0,140.0 270.5,140.5 270.0,143.5 268.5,143.0" fill="#ffffff"/>
<polygon points="346.0,147.0 353.0,144.0 360.0,143.5 361.0,147.0 356.0,151.0 349.0,153.0" fill="#ffffff"/>
<polygon points="238.0,152.0 244.0,152.0 250.0,156.0 252.0,162.0 255.0,165.0 259.0,168.0 261.0,175.0 259.0,182.0 256.0,185.5 246.0,185.5 244.0,180.0 241.0,176.0 238.0,174.0" fill="#ffffff"/>
</g>
</g>
</g>
<rect x="316.2" y="15.5" width="92.8" height="69.0" fill="#fff"/>
<line x1="314" y1="14.4" x2="410" y2="14.4" stroke="#cf6a34" stroke-width="1.3"/>
<line x1="409.4" y1="14" x2="409.4" y2="85" stroke="#d88a48" stroke-width="1.2"/>
<line x1="332.6" y1="22.8" x2="396.6" y2="22.8" stroke="#999" stroke-width="0.8"/>
<path d="M332.6,22.8 V74.2 H396.6 V22.8" fill="none" stroke="#333" stroke-width="0.7"/>
<line x1="331.40" y1="70.61" x2="332.60" y2="70.61" stroke="#333" stroke-width="0.5"/>
<line x1="396.60" y1="70.61" x2="397.60" y2="70.61" stroke="#333" stroke-width="0.5"/>
<text x="330.60" y="72.21" font-size="4.6" fill="#222" text-anchor="end" font-weight="normal">12</text>
<line x1="331.40" y1="63.78" x2="332.60" y2="63.78" stroke="#333" stroke-width="0.5"/>
<line x1="396.60" y1="63.78" x2="397.60" y2="63.78" stroke="#333" stroke-width="0.5"/>
<text x="330.60" y="65.38" font-size="4.6" fill="#222" text-anchor="end" font-weight="normal">13</text>
<line x1="331.40" y1="56.95" x2="332.60" y2="56.95" stroke="#333" stroke-width="0.5"/>
<line x1="396.60" y1="56.95" x2="397.60" y2="56.95" stroke="#333" stroke-width="0.5"/>
<text x="330.60" y="58.55" font-size="4.6" fill="#222" text-anchor="end" font-weight="normal">14</text>
<line x1="331.40" y1="50.12" x2="332.60" y2="50.12" stroke="#333" stroke-width="0.5"/>
<line x1="396.60" y1="50.12" x2="397.60" y2="50.12" stroke="#333" stroke-width="0.5"/>
<text x="330.60" y="51.72" font-size="4.6" fill="#222" text-anchor="end" font-weight="normal">15</text>
<line x1="331.40" y1="43.29" x2="332.60" y2="43.29" stroke="#333" stroke-width="0.5"/>
<line x1="396.60" y1="43.29" x2="397.60" y2="43.29" stroke="#333" stroke-width="0.5"/>
<text x="330.60" y="44.89" font-size="4.6" fill="#222" text-anchor="end" font-weight="normal">16</text>
<line x1="331.40" y1="36.46" x2="332.60" y2="36.46" stroke="#333" stroke-width="0.5"/>
<line x1="396.60" y1="36.46" x2="397.60" y2="36.46" stroke="#333" stroke-width="0.5"/>
<text x="330.60" y="38.06" font-size="4.6" fill="#222" text-anchor="end" font-weight="normal">17</text>
<line x1="331.40" y1="29.63" x2="332.60" y2="29.63" stroke="#333" stroke-width="0.5"/>
<line x1="396.60" y1="29.63" x2="397.60" y2="29.63" stroke="#333" stroke-width="0.5"/>
<text x="330.60" y="31.23" font-size="4.6" fill="#222" text-anchor="end" font-weight="normal">18</text>
<line x1="331.40" y1="22.80" x2="332.60" y2="22.80" stroke="#333" stroke-width="0.5"/>
<line x1="396.60" y1="22.80" x2="397.60" y2="22.80" stroke="#333" stroke-width="0.5"/>
<text x="330.60" y="24.40" font-size="4.6" fill="#222" text-anchor="end" font-weight="normal">19</text>
<line x1="338.00" y1="74.20" x2="338.00" y2="75.40" stroke="#333" stroke-width="0.5"/>
<line x1="338.00" y1="22.80" x2="338.00" y2="23.80" stroke="#333" stroke-width="0.5"/>
<text x="338.00" y="79.00" font-size="4.6" fill="#333" text-anchor="middle" font-weight="normal">0</text>
<line x1="348.30" y1="74.20" x2="348.30" y2="75.40" stroke="#333" stroke-width="0.5"/>
<line x1="348.30" y1="22.80" x2="348.30" y2="23.80" stroke="#333" stroke-width="0.5"/>
<text x="348.30" y="79.00" font-size="4.6" fill="#333" text-anchor="middle" font-weight="normal">20</text>
<line x1="358.60" y1="74.20" x2="358.60" y2="75.40" stroke="#333" stroke-width="0.5"/>
<line x1="358.60" y1="22.80" x2="358.60" y2="23.80" stroke="#333" stroke-width="0.5"/>
<text x="358.60" y="79.00" font-size="4.6" fill="#333" text-anchor="middle" font-weight="normal">40</text>
<line x1="368.90" y1="74.20" x2="368.90" y2="75.40" stroke="#333" stroke-width="0.5"/>
<line x1="368.90" y1="22.80" x2="368.90" y2="23.80" stroke="#333" stroke-width="0.5"/>
<text x="368.90" y="79.00" font-size="4.6" fill="#333" text-anchor="middle" font-weight="normal">60</text>
<line x1="379.20" y1="74.20" x2="379.20" y2="75.40" stroke="#333" stroke-width="0.5"/>
<line x1="379.20" y1="22.80" x2="379.20" y2="23.80" stroke="#333" stroke-width="0.5"/>
<text x="379.20" y="79.00" font-size="4.6" fill="#333" text-anchor="middle" font-weight="normal">80</text>
<line x1="389.50" y1="74.20" x2="389.50" y2="75.40" stroke="#333" stroke-width="0.5"/>
<line x1="389.50" y1="22.80" x2="389.50" y2="23.80" stroke="#333" stroke-width="0.5"/>
<text x="389.50" y="79.00" font-size="4.6" fill="#333" text-anchor="middle" font-weight="normal">100</text>
<text x="323.70" y="47.80" font-size="4.6" fill="#333" text-anchor="middle" font-weight="normal" transform="rotate(-90 323.70000000000005 47.8)">XRD d spacing (Å)</text>
<circle cx="343.0" cy="50.8" r="2.25" fill="#ea3a3a"/>
<circle cx="348.5" cy="50.8" r="2.25" fill="#ea3a3a"/>
<circle cx="353.7" cy="50.8" r="2.25" fill="#ea3a3a"/>
<circle cx="359.0" cy="50.8" r="2.25" fill="#ea3a3a"/>
<circle cx="364.5" cy="50.8" r="2.25" fill="#ea3a3a"/>
<circle cx="369.7" cy="51.3" r="2.25" fill="#ea3a3a"/>
<circle cx="374.8" cy="51.1" r="2.25" fill="#ea3a3a"/>
<circle cx="375.7" cy="50.7" r="2.25" fill="#ea3a3a"/>
<polygon points="374.5,28.8 379.5,28.8 377.0,24.5" fill="#2e9a2e"/>
<polygon points="377.7,28.8 382.7,28.8 380.2,24.5" fill="#2e9a2e"/>
<polygon points="383.3,28.8 388.3,28.8 385.8,24.5" fill="#2e9a2e"/>
<polygon points="388.6,28.8 393.6,28.8 391.1,24.5" fill="#2e9a2e"/>
<text x="368.70" y="37.00" font-size="6.2" fill="#5cb85c" text-anchor="start" font-weight="normal">2 layers</text>
<text x="340.50" y="45.20" font-size="6.2" fill="#ee3838" text-anchor="start" font-weight="normal">1 layer</text>
<text x="335.00" y="64.60" font-size="6.0" fill="#222" text-anchor="start" font-weight="normal">dry</text>
<rect x="336.1" y="68.3" width="3.2" height="3.2" fill="#444"/>
<text x="339.60" y="71.50" font-size="4.8" fill="#333" text-anchor="start" font-weight="normal">DMSO concentration (%)</text>
<rect x="237.6" y="13.5" width="172.6" height="172" fill="none" stroke="#7a7a7a" stroke-width="0.8"/>
<line x1="237.60" y1="13.50" x2="237.60" y2="10.50" stroke="#7a7a7a" stroke-width="0.8"/>
<line x1="280.60" y1="13.50" x2="280.60" y2="10.50" stroke="#7a7a7a" stroke-width="0.8"/>
<line x1="323.70" y1="13.50" x2="323.70" y2="10.50" stroke="#7a7a7a" stroke-width="0.8"/>
<line x1="366.80" y1="13.50" x2="366.80" y2="10.50" stroke="#7a7a7a" stroke-width="0.8"/>
<text x="237.70" y="7.60" font-size="9.3" fill="#222" text-anchor="start" font-weight="normal">0 μm</text>
<text x="282.60" y="7.60" font-size="9.3" fill="#222" text-anchor="middle" font-weight="normal">5</text>
<text x="328.80" y="7.60" font-size="9.3" fill="#222" text-anchor="middle" font-weight="normal">10</text>
<text x="370.50" y="7.60" font-size="9.3" fill="#222" text-anchor="middle" font-weight="normal">15</text>
<line x1="234.60" y1="13.50" x2="237.60" y2="13.50" stroke="#7a7a7a" stroke-width="0.8"/>
<line x1="234.60" y1="56.60" x2="237.60" y2="56.60" stroke="#7a7a7a" stroke-width="0.8"/>
<line x1="234.60" y1="99.70" x2="237.60" y2="99.70" stroke="#7a7a7a" stroke-width="0.8"/>
<line x1="234.60" y1="142.80" x2="237.60" y2="142.80" stroke="#7a7a7a" stroke-width="0.8"/>
<line x1="234.20" y1="185.50" x2="237.60" y2="185.50" stroke="#7a7a7a" stroke-width="0.8"/>
<line x1="410.20" y1="13.50" x2="410.20" y2="10.50" stroke="#7a7a7a" stroke-width="0.8"/>
<text x="234.00" y="21.50" font-size="9.3" fill="#222" text-anchor="end" font-weight="normal">0</text>
<text x="234.00" y="64.90" font-size="9.3" fill="#222" text-anchor="end" font-weight="normal">5</text>
<text x="234.00" y="107.00" font-size="9.3" fill="#222" text-anchor="end" font-weight="normal">10</text>
<text x="234.00" y="151.30" font-size="9.3" fill="#222" text-anchor="end" font-weight="normal">15</text>
<text x="245.70" y="179.00" font-size="15.5" fill="#111" text-anchor="start" font-weight="bold">b)</text>
<text x="269.30" y="100.80" font-size="8.5" fill="#fff" text-anchor="middle" font-weight="normal" opacity="0.9">6</text>
<text x="288.60" y="105.80" font-size="8.5" fill="#fff" text-anchor="middle" font-weight="normal" opacity="0.9">1</text>
<text x="312.70" y="115.20" font-size="8.5" fill="#fff" text-anchor="middle" font-weight="normal" opacity="0.9">3</text>
<text x="318.50" y="112.50" font-size="8.5" fill="#fff" text-anchor="middle" font-weight="normal" opacity="0.9">4</text>
<text x="280.50" y="140.40" font-size="8.5" fill="#fff" text-anchor="middle" font-weight="normal" opacity="0.9">5</text>
<text x="269.70" y="162.40" font-size="8.5" fill="#fff" text-anchor="middle" font-weight="normal" opacity="0.9">8</text>
<text x="365.70" y="96.20" font-size="8.5" fill="#fff" text-anchor="middle" font-weight="normal" opacity="0.9">2</text>
<line x1="263.00" y1="93.50" x2="276.50" y2="94.20" stroke="#fff" stroke-width="0.6" opacity="0.8"/>
<line x1="279.00" y1="102.00" x2="292.00" y2="97.00" stroke="#fff" stroke-width="0.6" opacity="0.8"/>
<line x1="305.00" y1="109.00" x2="320.00" y2="108.50" stroke="#fff" stroke-width="0.6" opacity="0.8"/>
<line x1="316.00" y1="113.00" x2="319.00" y2="106.00" stroke="#fff" stroke-width="0.6" opacity="0.8"/>
<line x1="276.00" y1="133.00" x2="287.00" y2="133.00" stroke="#fff" stroke-width="0.6" opacity="0.8"/>
<line x1="265.00" y1="154.50" x2="276.00" y2="154.50" stroke="#fff" stroke-width="0.6" opacity="0.8"/>
<line x1="360.00" y1="88.50" x2="372.00" y2="88.50" stroke="#fff" stroke-width="0.6" opacity="0.8"/>
<defs><linearGradient id="cbg" x1="0" y1="0" x2="0" y2="1"><stop offset="0.000" stop-color="#fdfcf5"/><stop offset="0.080" stop-color="#f6ecd0"/><stop offset="0.170" stop-color="#eed8a0"/><stop offset="0.250" stop-color="#e6c070"/><stop offset="0.330" stop-color="#e0a858"/><stop offset="0.420" stop-color="#d88848"/><stop offset="0.500" stop-color="#cc6a35"/><stop offset="0.580" stop-color="#b84a22"/><stop offset="0.670" stop-color="#983018"/><stop offset="0.750" stop-color="#6a2010"/><stop offset="0.830" stop-color="#401008"/><stop offset="1.000" stop-color="#080000"/></linearGradient></defs>
<rect x="416.4" y="13.5" width="11.4" height="172" fill="url(#cbg)" stroke="#7a7a7a" stroke-width="0.8"/>
<line x1="427.80" y1="13.50" x2="431.00" y2="13.50" stroke="#7a7a7a" stroke-width="0.8"/>
<line x1="427.80" y1="31.50" x2="430.60" y2="31.50" stroke="#7a7a7a" stroke-width="0.8"/>
<line x1="427.80" y1="45.91" x2="430.60" y2="45.91" stroke="#7a7a7a" stroke-width="0.8"/>
<line x1="427.80" y1="60.32" x2="430.60" y2="60.32" stroke="#7a7a7a" stroke-width="0.8"/>
<line x1="427.80" y1="74.73" x2="430.60" y2="74.73" stroke="#7a7a7a" stroke-width="0.8"/>
<line x1="427.80" y1="89.14" x2="430.60" y2="89.14" stroke="#7a7a7a" stroke-width="0.8"/>
<line x1="427.80" y1="103.55" x2="430.60" y2="103.55" stroke="#7a7a7a" stroke-width="0.8"/>
<line x1="427.80" y1="117.96" x2="430.60" y2="117.96" stroke="#7a7a7a" stroke-width="0.8"/>
<line x1="427.80" y1="132.37" x2="430.60" y2="132.37" stroke="#7a7a7a" stroke-width="0.8"/>
<line x1="427.80" y1="146.78" x2="430.60" y2="146.78" stroke="#7a7a7a" stroke-width="0.8"/>
<line x1="427.80" y1="161.19" x2="430.60" y2="161.19" stroke="#7a7a7a" stroke-width="0.8"/>
<text x="431.00" y="20.70" font-size="9.2" fill="#222" text-anchor="start" font-weight="normal">21 nm</text>
<text x="431.00" y="38.70" font-size="9.2" fill="#222" text-anchor="start" font-weight="normal">20</text>
<text x="431.00" y="53.11" font-size="9.2" fill="#222" text-anchor="start" font-weight="normal">19</text>
<text x="431.00" y="67.52" font-size="9.2" fill="#222" text-anchor="start" font-weight="normal">18</text>
<text x="431.00" y="81.93" font-size="9.2" fill="#222" text-anchor="start" font-weight="normal">17</text>
<text x="431.00" y="96.34" font-size="9.2" fill="#222" text-anchor="start" font-weight="normal">16</text>
<text x="431.00" y="110.75" font-size="9.2" fill="#222" text-anchor="start" font-weight="normal">15</text>
<text x="431.00" y="125.16" font-size="9.2" fill="#222" text-anchor="start" font-weight="normal">14</text>
<text x="431.00" y="139.57" font-size="9.2" fill="#222" text-anchor="start" font-weight="normal">13</text>
<text x="431.00" y="153.98" font-size="9.2" fill="#222" text-anchor="start" font-weight="normal">12</text>
<text x="431.00" y="168.39" font-size="9.2" fill="#222" text-anchor="start" font-weight="normal">11</text>
<text x="431.00" y="183.60" font-size="9.2" fill="#222" text-anchor="start" font-weight="normal">9</text>
<line x1="427.80" y1="185.50" x2="431.00" y2="185.50" stroke="#7a7a7a" stroke-width="0.8"/>
<clipPath id="clipE"><rect x="237.4" y="209.2" width="172.8" height="172.3"/></clipPath>
<filter id="blurE"><feGaussianBlur stdDeviation="0.5"/></filter>
<linearGradient id="ebg" x1="0" y1="0" x2="0" y2="1"><stop offset="0" stop-color="#d27a3c"/><stop offset="0.3" stop-color="#d07638"/><stop offset="0.33" stop-color="#c96c33"/><stop offset="0.36" stop-color="#ce7336"/><stop offset="0.6" stop-color="#ce7235"/><stop offset="0.62" stop-color="#c76a32"/><stop offset="0.66" stop-color="#cd7235"/><stop offset="1" stop-color="#cc7034"/></linearGradient>
<g clip-path="url(#clipE)">
<rect x="237.4" y="209.2" width="172.8" height="172.3" fill="url(#ebg)"/>
<g filter="url(#blurE)">
<polygon points="283.5,257.2 285.0,254.0 292.0,251.0 296.8,250.2 303.8,252.5 311.7,257.2 316.0,262.0 316.0,283.0 300.7,282.3 300.7,268.2 292.9,265.0 288.2,262.0 285.0,259.6" fill="#db8c47" stroke="#e09a5a" stroke-width="0.6"/>
<polygon points="260.7,273.7 264.6,272.1 274.0,271.3 283.5,270.6 291.3,271.3 299.1,273.7 300.7,279.2 298.3,283.1 285.0,285.5 275.6,287.0 267.8,285.5 261.5,283.9 260.0,279.2" fill="#db8c47" stroke="#e09a5a" stroke-width="0.6"/>
<polygon points="276.4,297.2 321.0,283.9 331.0,289.0 333.0,300.0 331.0,314.0 322.0,318.8 310.0,321.2 300.5,318.8 288.4,315.2 280.0,310.4 277.6,304.4" fill="#db8c47" stroke="#e09a5a" stroke-width="0.6"/>
<polygon points="244.0,321.2 250.0,317.6 262.0,314.0 269.2,311.6 278.8,312.8 286.0,317.6 292.0,322.4 295.6,330.8 294.4,338.0 289.6,345.2 282.4,352.5 277.6,356.0 262.0,356.0 250.0,354.9 244.0,352.5 241.6,338.0 242.8,326.0" fill="#db8c47" stroke="#e09a5a" stroke-width="0.6"/>
<polygon points="293.0,331.0 300.0,326.0 312.5,324.1 328.3,321.9 338.0,326.0 344.1,335.4 346.4,344.4 341.8,358.0 328.3,362.5 319.7,359.7" fill="#db8c47" stroke="#e09a5a" stroke-width="0.6"/>
<polygon points="331.2,289.6 339.6,287.2 349.2,290.8 354.0,299.2 355.2,306.4 352.8,311.2 346.8,318.4 339.6,320.8 334.8,311.2 333.6,301.6" fill="#db8c47" stroke="#e09a5a" stroke-width="0.6"/>
<polygon points="361.2,311.2 366.0,310.0 375.6,308.8 382.8,311.2 390.0,319.6 392.5,328.0 393.7,337.6 390.0,342.5 380.5,341.3 373.2,337.6 366.0,334.0 357.6,328.0 355.2,320.8" fill="#db8c47" stroke="#e09a5a" stroke-width="0.6"/>
<polygon points="351.6,341.3 366.0,338.9 380.5,341.3 394.9,340.1 400.9,347.3 404.5,359.3 399.7,364.1 378.0,365.3 356.4,365.3 342.0,362.9 339.6,356.9 346.8,349.7" fill="#db8c47" stroke="#e09a5a" stroke-width="0.6"/>
<polygon points="395.0,300.0 410.0,296.0 410.0,330.0 400.0,326.0" fill="#db8c47" stroke="#e09a5a" stroke-width="0.6"/>
<polygon points="262.3,268.0 265.0,266.6 268.6,268.0 268.6,273.7 262.3,273.7" fill="#eab062"/>
<polygon points="260.0,355.4 275.3,355.4 275.3,359.7 262.0,359.0" fill="#e0a050"/>
<polygon points="338.4,325.6 355.2,325.6 346.8,337.6" fill="#b8592a"/>
<polygon points="351.6,343.0 375.6,342.5 372.0,352.0 356.0,352.0" fill="#c0602c"/>
<polygon points="276.0,357.0 277.8,357.5 274.6,375.1 273.0,375.1" fill="#6a2410"/>
<rect x="237.4" y="268" width="50" height="3" fill="#c46630" opacity="0.5"/>
<rect x="237.4" y="353.6" width="8" height="1.6" fill="#8a3010" opacity="0.8"/>
</g>
<circle cx="246.8" cy="354.8" r="2.0" fill="#fdf0d0"/>
<circle cx="257.6" cy="280" r="1.0" fill="#fdf0d0"/>
<circle cx="281.9" cy="267.4" r="1.0" fill="#fdf0d0"/>
<circle cx="291.3" cy="265.9" r="1.4" fill="#fdf0d0"/>
<circle cx="299.1" cy="271.3" r="1.4" fill="#fdf0d0"/>
<circle cx="312.5" cy="283.6" r="1.0" fill="#fdf0d0"/>
<circle cx="346.8" cy="331.6" r="1.1" fill="#fdf0d0"/>
<circle cx="357.6" cy="349.7" r="1.8" fill="#fdf0d0"/>
<circle cx="279.5" cy="356.5" r="0.8" fill="#fdf0d0"/>
<circle cx="300.5" cy="300.5" r="0.7" fill="#fdf0d0"/>
<circle cx="320" cy="344" r="0.7" fill="#fdf0d0"/>
<circle cx="398" cy="350" r="0.7" fill="#fdf0d0"/>
<circle cx="375.5" cy="337" r="0.7" fill="#fdf0d0"/>
</g>
<rect x="316.0" y="211.0" width="92.4" height="70.8" fill="#fff"/>
<line x1="409.3" y1="209.2" x2="409.3" y2="283" stroke="#d88040" stroke-width="1.2"/>
<line x1="332.6" y1="219.1" x2="396.6" y2="219.1" stroke="#999" stroke-width="0.8"/>
<path d="M332.6,219.1 V270.3 H396.6 V219.1" fill="none" stroke="#333" stroke-width="0.7"/>
<line x1="331.40" y1="267.61" x2="332.60" y2="267.61" stroke="#333" stroke-width="0.5"/>
<line x1="396.60" y1="267.61" x2="397.60" y2="267.61" stroke="#333" stroke-width="0.5"/>
<text x="330.60" y="269.21" font-size="4.6" fill="#222" text-anchor="end" font-weight="normal">12</text>
<line x1="331.40" y1="260.68" x2="332.60" y2="260.68" stroke="#333" stroke-width="0.5"/>
<line x1="396.60" y1="260.68" x2="397.60" y2="260.68" stroke="#333" stroke-width="0.5"/>
<text x="330.60" y="262.28" font-size="4.6" fill="#222" text-anchor="end" font-weight="normal">13</text>
<line x1="331.40" y1="253.75" x2="332.60" y2="253.75" stroke="#333" stroke-width="0.5"/>
<line x1="396.60" y1="253.75" x2="397.60" y2="253.75" stroke="#333" stroke-width="0.5"/>
<text x="330.60" y="255.35" font-size="4.6" fill="#222" text-anchor="end" font-weight="normal">14</text>
<line x1="331.40" y1="246.82" x2="332.60" y2="246.82" stroke="#333" stroke-width="0.5"/>
<line x1="396.60" y1="246.82" x2="397.60" y2="246.82" stroke="#333" stroke-width="0.5"/>
<text x="330.60" y="248.42" font-size="4.6" fill="#222" text-anchor="end" font-weight="normal">15</text>
<line x1="331.40" y1="239.89" x2="332.60" y2="239.89" stroke="#333" stroke-width="0.5"/>
<line x1="396.60" y1="239.89" x2="397.60" y2="239.89" stroke="#333" stroke-width="0.5"/>
<text x="330.60" y="241.49" font-size="4.6" fill="#222" text-anchor="end" font-weight="normal">16</text>
<line x1="331.40" y1="232.96" x2="332.60" y2="232.96" stroke="#333" stroke-width="0.5"/>
<line x1="396.60" y1="232.96" x2="397.60" y2="232.96" stroke="#333" stroke-width="0.5"/>
<text x="330.60" y="234.56" font-size="4.6" fill="#222" text-anchor="end" font-weight="normal">17</text>
<line x1="331.40" y1="226.03" x2="332.60" y2="226.03" stroke="#333" stroke-width="0.5"/>
<line x1="396.60" y1="226.03" x2="397.60" y2="226.03" stroke="#333" stroke-width="0.5"/>
<text x="330.60" y="227.63" font-size="4.6" fill="#222" text-anchor="end" font-weight="normal">18</text>
<line x1="331.40" y1="219.10" x2="332.60" y2="219.10" stroke="#333" stroke-width="0.5"/>
<line x1="396.60" y1="219.10" x2="397.60" y2="219.10" stroke="#333" stroke-width="0.5"/>
<text x="330.60" y="220.70" font-size="4.6" fill="#222" text-anchor="end" font-weight="normal">19</text>
<line x1="337.80" y1="270.30" x2="337.80" y2="271.50" stroke="#333" stroke-width="0.5"/>
<line x1="337.80" y1="219.10" x2="337.80" y2="220.10" stroke="#333" stroke-width="0.5"/>
<text x="337.80" y="276.10" font-size="4.6" fill="#333" text-anchor="middle" font-weight="normal">0</text>
<line x1="348.54" y1="270.30" x2="348.54" y2="271.50" stroke="#333" stroke-width="0.5"/>
<line x1="348.54" y1="219.10" x2="348.54" y2="220.10" stroke="#333" stroke-width="0.5"/>
<text x="348.54" y="276.10" font-size="4.6" fill="#333" text-anchor="middle" font-weight="normal">20</text>
<line x1="359.28" y1="270.30" x2="359.28" y2="271.50" stroke="#333" stroke-width="0.5"/>
<line x1="359.28" y1="219.10" x2="359.28" y2="220.10" stroke="#333" stroke-width="0.5"/>
<text x="359.28" y="276.10" font-size="4.6" fill="#333" text-anchor="middle" font-weight="normal">40</text>
<line x1="370.02" y1="270.30" x2="370.02" y2="271.50" stroke="#333" stroke-width="0.5"/>
<line x1="370.02" y1="219.10" x2="370.02" y2="220.10" stroke="#333" stroke-width="0.5"/>
<text x="370.02" y="276.10" font-size="4.6" fill="#333" text-anchor="middle" font-weight="normal">60</text>
<line x1="380.76" y1="270.30" x2="380.76" y2="271.50" stroke="#333" stroke-width="0.5"/>
<line x1="380.76" y1="219.10" x2="380.76" y2="220.10" stroke="#333" stroke-width="0.5"/>
<text x="380.76" y="276.10" font-size="4.6" fill="#333" text-anchor="middle" font-weight="normal">80</text>
<line x1="391.50" y1="270.30" x2="391.50" y2="271.50" stroke="#333" stroke-width="0.5"/>
<line x1="391.50" y1="219.10" x2="391.50" y2="220.10" stroke="#333" stroke-width="0.5"/>
<text x="391.50" y="276.10" font-size="4.6" fill="#333" text-anchor="middle" font-weight="normal">100</text>
<text x="324.40" y="245.40" font-size="5.0" fill="#333" text-anchor="middle" font-weight="normal" transform="rotate(-90 324.40000000000003 245.4)">XRD d spacing (Å)</text>
<circle cx="342.4" cy="247.8" r="2.25" fill="#ea3a3a"/>
<circle cx="348.3" cy="247.8" r="2.25" fill="#ea3a3a"/>
<circle cx="353.9" cy="247.8" r="2.25" fill="#ea3a3a"/>
<circle cx="359.1" cy="248.3" r="2.25" fill="#ea3a3a"/>
<circle cx="363.9" cy="248.3" r="2.25" fill="#ea3a3a"/>
<circle cx="369.2" cy="247.6" r="2.25" fill="#ea3a3a"/>
<circle cx="375.2" cy="248.3" r="2.25" fill="#ea3a3a"/>
<circle cx="377.9" cy="248.3" r="2.25" fill="#ea3a3a"/>
<circle cx="380.7" cy="248.3" r="2.25" fill="#ea3a3a"/>
<polygon points="375.0,235.8 380.0,235.8 377.5,231.5" fill="#3a6ef0"/>
<polygon points="372.8,239.9 377.8,239.9 375.3,235.6" fill="#3a6ef0"/>
<polygon points="372.1,223.3 376.9,223.3 374.5,227.6" fill="#3aa850"/>
<polygon points="375.1,223.3 379.9,223.3 377.5,227.6" fill="#3aa850"/>
<polygon points="378.1,223.3 382.9,223.3 380.5,227.6" fill="#3aa850"/>
<polygon points="383.2,223.0 388.0,223.0 385.6,227.3" fill="#3aa850"/>
<polygon points="388.9,223.3 393.7,223.3 391.3,227.6" fill="#3aa850"/>
<text x="342.80" y="227.80" font-size="6.2" fill="#5cb85c" text-anchor="start" font-weight="normal">2 layers</text>
<text x="360.20" y="257.00" font-size="6.2" fill="#ee3838" text-anchor="start" font-weight="normal">1 layer</text>
<text x="334.70" y="261.80" font-size="6.0" fill="#222" text-anchor="start" font-weight="normal">dry</text>
<rect x="336.1" y="265.4" width="3.2" height="3.2" fill="#444"/>
<text x="339.60" y="268.60" font-size="4.8" fill="#333" text-anchor="start" font-weight="normal">DMSO concentration (%)</text>
<rect x="237.4" y="209.2" width="172.8" height="172.3" fill="none" stroke="#7a7a7a" stroke-width="0.8"/>
<line x1="237.40" y1="209.20" x2="237.40" y2="206.20" stroke="#7a7a7a" stroke-width="0.8"/>
<line x1="274.60" y1="209.20" x2="274.60" y2="206.20" stroke="#7a7a7a" stroke-width="0.8"/>
<line x1="311.80" y1="209.20" x2="311.80" y2="206.20" stroke="#7a7a7a" stroke-width="0.8"/>
<line x1="349.00" y1="209.20" x2="349.00" y2="206.20" stroke="#7a7a7a" stroke-width="0.8"/>
<line x1="386.20" y1="209.20" x2="386.20" y2="206.20" stroke="#7a7a7a" stroke-width="0.8"/>
<line x1="410.20" y1="209.20" x2="410.20" y2="206.20" stroke="#7a7a7a" stroke-width="0.8"/>
<text x="237.90" y="202.80" font-size="9.3" fill="#222" text-anchor="start" font-weight="normal">0 μm</text>
<text x="276.40" y="202.80" font-size="9.3" fill="#222" text-anchor="middle" font-weight="normal">5</text>
<text x="317.20" y="202.80" font-size="9.3" fill="#222" text-anchor="middle" font-weight="normal">10</text>
<text x="354.30" y="202.80" font-size="9.3" fill="#222" text-anchor="middle" font-weight="normal">15</text>
<text x="391.70" y="202.80" font-size="9.3" fill="#222" text-anchor="middle" font-weight="normal">20</text>
<line x1="234.40" y1="209.20" x2="237.40" y2="209.20" stroke="#7a7a7a" stroke-width="0.8"/>
<line x1="234.40" y1="246.40" x2="237.40" y2="246.40" stroke="#7a7a7a" stroke-width="0.8"/>
<line x1="234.40" y1="283.60" x2="237.40" y2="283.60" stroke="#7a7a7a" stroke-width="0.8"/>
<line x1="234.40" y1="320.80" x2="237.40" y2="320.80" stroke="#7a7a7a" stroke-width="0.8"/>
<line x1="234.40" y1="358.00" x2="237.40" y2="358.00" stroke="#7a7a7a" stroke-width="0.8"/>
<text x="233.20" y="218.20" font-size="9.3" fill="#222" text-anchor="end" font-weight="normal">0</text>
<text x="233.20" y="255.40" font-size="9.3" fill="#222" text-anchor="end" font-weight="normal">5</text>
<text x="233.20" y="291.80" font-size="9.3" fill="#222" text-anchor="end" font-weight="normal">10</text>
<text x="233.20" y="329.20" font-size="9.3" fill="#222" text-anchor="end" font-weight="normal">15</text>
<text x="233.20" y="366.90" font-size="9.3" fill="#222" text-anchor="end" font-weight="normal">20</text>
<text x="242.90" y="375.80" font-size="15.5" fill="#111" text-anchor="start" font-weight="bold">e)</text>
<line x1="302.30" y1="265.00" x2="315.60" y2="244.70" stroke="#fff" stroke-width="0.7" opacity="0.85"/>
<line x1="259.20" y1="295.60" x2="289.70" y2="277.60" stroke="#fff" stroke-width="0.7" opacity="0.85"/>
<line x1="250.00" y1="317.10" x2="299.30" y2="332.00" stroke="#fff" stroke-width="0.7" opacity="0.85"/>
<line x1="300.00" y1="350.30" x2="346.00" y2="350.30" stroke="#fff" stroke-width="0.7" opacity="0.85"/>
<line x1="346.80" y1="325.60" x2="355.70" y2="286.00" stroke="#fff" stroke-width="0.7" opacity="0.85"/>
<line x1="368.40" y1="325.60" x2="396.80" y2="306.90" stroke="#fff" stroke-width="0.7" opacity="0.85"/>
<text x="312.90" y="261.20" font-size="8.8" fill="#fff" text-anchor="middle" font-weight="normal" opacity="0.9">1</text>
<text x="277.20" y="294.60" font-size="8.8" fill="#fff" text-anchor="middle" font-weight="normal" opacity="0.9">2</text>
<text x="272.80" y="332.80" font-size="8.8" fill="#fff" text-anchor="middle" font-weight="normal" opacity="0.9">5</text>
<text x="322.80" y="357.70" font-size="8.8" fill="#fff" text-anchor="middle" font-weight="normal" opacity="0.9">6</text>
<text x="356.40" y="310.80" font-size="8.8" fill="#fff" text-anchor="middle" font-weight="normal" opacity="0.9">4</text>
<text x="386.00" y="324.50" font-size="8.8" fill="#fff" text-anchor="middle" font-weight="normal" opacity="0.9">3</text>
<rect x="416.8" y="209.2" width="11.6" height="172.3" fill="url(#cbg)" stroke="#7a7a7a" stroke-width="0.8"/>
<line x1="428.40" y1="209.20" x2="431.40" y2="209.20" stroke="#7a7a7a" stroke-width="0.8"/>
<line x1="428.40" y1="238.60" x2="431.20" y2="238.60" stroke="#7a7a7a" stroke-width="0.8"/>
<line x1="428.40" y1="262.12" x2="431.20" y2="262.12" stroke="#7a7a7a" stroke-width="0.8"/>
<line x1="428.40" y1="285.64" x2="431.20" y2="285.64" stroke="#7a7a7a" stroke-width="0.8"/>
<line x1="428.40" y1="309.16" x2="431.20" y2="309.16" stroke="#7a7a7a" stroke-width="0.8"/>
<line x1="428.40" y1="332.68" x2="431.20" y2="332.68" stroke="#7a7a7a" stroke-width="0.8"/>
<line x1="428.40" y1="356.20" x2="431.20" y2="356.20" stroke="#7a7a7a" stroke-width="0.8"/>
<line x1="428.40" y1="381.50" x2="431.40" y2="381.50" stroke="#7a7a7a" stroke-width="0.8"/>
<text x="431.30" y="218.10" font-size="9.2" fill="#222" text-anchor="start" font-weight="normal">16.5 nm</text>
<text x="431.30" y="245.70" font-size="9.2" fill="#222" text-anchor="start" font-weight="normal">14.0</text>
<text x="431.30" y="269.22" font-size="9.2" fill="#222" text-anchor="start" font-weight="normal">12.0</text>
<text x="431.30" y="292.74" font-size="9.2" fill="#222" text-anchor="start" font-weight="normal">10.0</text>
<text x="431.30" y="316.26" font-size="9.2" fill="#222" text-anchor="start" font-weight="normal">8.0</text>
<text x="431.30" y="339.78" font-size="9.2" fill="#222" text-anchor="start" font-weight="normal">6.0</text>
<text x="431.30" y="363.30" font-size="9.2" fill="#222" text-anchor="start" font-weight="normal">4.0</text>
<text x="431.30" y="379.60" font-size="9.2" fill="#222" text-anchor="start" font-weight="normal">1.8</text>
</svg></body></html>
